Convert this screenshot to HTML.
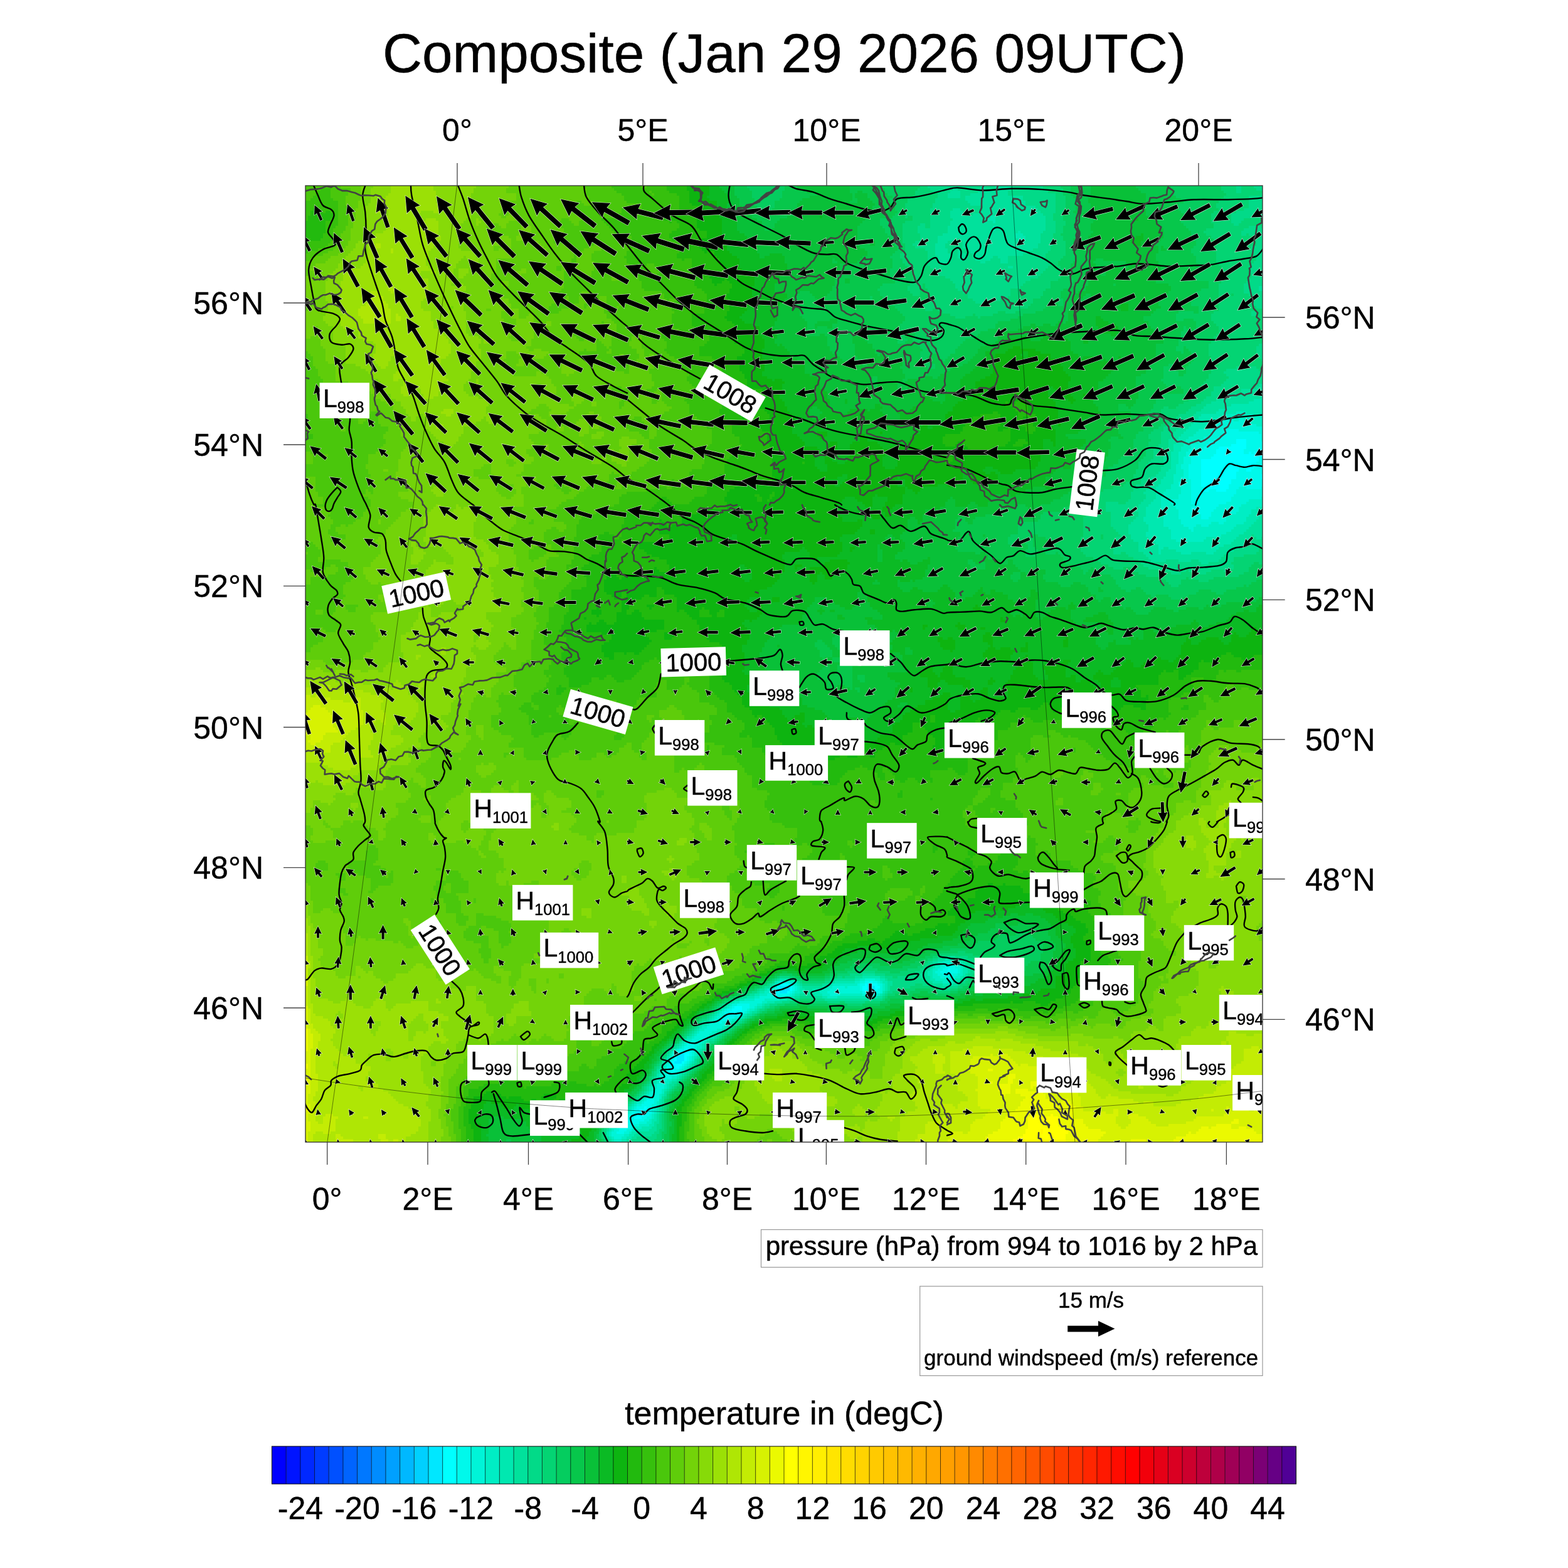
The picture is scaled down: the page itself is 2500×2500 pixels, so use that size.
<!DOCTYPE html>
<html><head><meta charset="utf-8"><title>Composite (Jan 29 2026 09UTC)</title>
<style>html,body{margin:0;padding:0;background:#fff}svg{display:block}text{font-family:"Liberation Sans",sans-serif;fill:#000;stroke:#000;stroke-width:.45px;stroke-linejoin:round}</style></head>
<body>
<svg width="2500" height="2500" viewBox="0 0 2500 2500">
<rect width="2500" height="2500" fill="#fff"/>
<defs><clipPath id="mc"><rect x="487.0" y="296.0" width="1526.0" height="1525.0"/></clipPath></defs>
<g clip-path="url(#mc)">
<rect x="487.0" y="296.0" width="1526.0" height="1525.0" fill="#50c812"/>
<rect x="487.0" y="296.0" width="1526.0" height="1525.0" fill="#5fcd0a"/>
<g shape-rendering="crispEdges" fill="none" stroke-width="4">
<path stroke="#00d0ff" d="M1247 1578h4"/>
<path stroke="#00e7ff" d="M1383 1570h8m-148 4h16m124 0h12m-152 4h4m4 0h8m124 0h12m-152 4h12m-172 100h8m-12 4h12m-12 4h12m-16 4h12"/>
<path stroke="#00ffff" d="M1971 702h16m-16 4h16m-24 4h24m-44 4h44m-48 4h44m24 0h8m-76 4h44m8 0h4m4 0h16m-80 4h80m-84 4h76m-92 4h92m-92 4h88m-88 4h88m-88 4h60m12 0h12m-84 4h60m12 0h8m-80 4h56m-56 4h56m40 0h4m-100 4h56m40 0h4m-100 4h48m-48 4h48m-48 4h44m-40 4h40m-40 4h8m12 0h16m-444 764h4m-4 4h4m-128 16h4m-148 4h16m120 0h4m8 0h8m-160 4h4m16 0h4m112 0h8m12 0h8m-164 4h4m16 0h4m112 0h8m12 0h4m-164 4h8m12 0h4m124 0h12m-224 24h12m-16 4h16m-20 4h16m-20 4h12m-80 56h8m-16 4h16m-20 4h4m8 0h8m-24 4h4m12 0h4m-20 4h4m12 0h4m-24 4h4m12 0h4m-20 4h16m-16 4h12m-12 4h4m-48 60h4m-12 4h12m-16 4h16m-20 4h16m-16 4h12"/>
<path stroke="#00f9eb" d="M1955 686h20m-24 4h56m-60 4h64m-68 4h68m-76 4h36m16 0h24m-84 4h44m16 0h28m-92 4h40m24 0h28m-96 4h24m44 0h28m-100 4h24m44 0h24m-96 4h28m44 0h8m4 0h4m-92 4h28m-36 4h32m76 0h8m-116 4h16m92 0h8m-116 4h16m88 0h12m-120 4h20m88 0h12m-120 4h20m60 0h12m12 0h16m-120 4h20m60 0h12m8 0h20m-120 4h20m56 0h44m-120 4h20m56 0h40m-116 4h20m56 0h40m-112 4h16m48 0h52m-116 4h16m48 0h52m-116 4h16m44 0h56m-116 4h20m40 0h16m12 0h24m-112 4h20m8 0h12m16 0h16m-72 4h72m-72 4h68m-68 4h64m-64 4h64m-64 4h56m-48 4h36m-44 4h8m4 0h28m-40 4h36m-32 4h28m-16 4h16m-16 4h12m-420 716h16m-20 4h8m4 0h12m-28 4h12m4 0h12m-24 4h16m-140 12h8m4 0h8m-140 4h4m108 0h8m20 0h4m-140 4h4m104 0h4m-140 4h4m24 0h4m104 0h4m24 0h4m-172 4h4m24 0h4m112 0h8m12 0h8m-168 4h24m-84 16h20m-28 4h4m12 0h12m-36 4h8m16 0h8m-36 4h8m16 0h8m-32 4h4m12 0h8m-28 4h20m-20 4h8m-12 4h4m-56 36h12m-16 4h16m-24 4h8m8 0h8m-28 4h4m16 0h4m-28 4h4m20 0h4m-32 4h4m20 0h4m-28 4h4m20 0h4m-32 4h4m20 0h4m-28 4h4m16 0h4m-28 4h8m12 0h4m-24 4h8m4 0h8m-20 4h16m-16 4h4m-36 40h12m-16 4h16m-20 4h16m-24 4h12m4 0h8m-28 4h8m12 0h8m-32 4h8m16 0h8m-36 4h8m16 0h8m-32 4h8m12 0h8m-32 4h28m-32 4h24m-28 4h20m-24 4h20m-20 4h12m-16 4h12"/>
<path stroke="#00f4d8" d="M1951 670h16m8 0h8m-40 4h52m-56 4h64m-68 4h80m-84 4h24m20 0h40m-84 4h20m56 0h8m-88 4h20m64 0h4m-96 4h24m68 0h4m-100 4h20m76 0h4m-104 4h16m-28 4h24m-24 4h20m-24 4h20m-24 4h20m-20 4h16m-20 4h12m-12 4h12m-12 4h12m-16 4h12m-12 4h12m-8 4h8m-8 4h8m-8 4h8m-12 4h12m-12 4h16m-20 4h20m-20 4h20m-16 4h16m76 0h12m24 0h4m-132 4h16m72 0h44m-132 4h16m72 0h44m-136 4h20m68 0h48m-136 4h20m64 0h48m-144 4h32m64 0h28m-124 4h32m56 0h32m-116 4h36m36 0h36m-104 4h24m8 0h4m28 0h36m-96 4h20m36 0h40m-96 4h24m28 0h40m-92 4h36m16 0h28m-80 4h36m12 0h28m-72 4h72m-72 4h48m12 0h8m-64 4h20m8 0h12m-32 4h8m-4 4h4m-400 692h24m-28 4h8m16 0h8m-36 4h8m24 0h4m-40 4h8m28 0h4m-36 4h8m16 0h8m-28 4h24m-144 4h16m116 0h4m-272 4h16m112 0h8m20 0h4m-164 4h4m20 0h4m100 0h4m32 0h4m-172 4h4m28 0h4m56 0h20m4 0h20m32 0h4m-176 4h4m32 0h4m52 0h48m32 0h4m-180 4h4m32 0h4m52 0h56m28 0h4m-184 4h12m24 0h4m60 0h16m36 0h24m-188 4h40m-48 4h16m-40 4h36m-48 4h8m20 0h12m-44 4h4m28 0h8m-48 4h4m32 0h4m-44 4h4m32 0h4m-44 4h8m24 0h4m-40 4h8m20 0h8m-40 4h12m8 0h8m-32 4h12m4 0h8m-28 4h24m-28 4h24m-28 4h20m-28 4h20m-24 4h20m-24 4h20m-24 4h20m-28 4h24m-28 4h4m12 0h8m-28 4h4m16 0h4m-32 4h4m24 0h4m-36 4h4m24 0h4m-36 4h4m28 0h4m-8 4h4m-36 4h4m28 0h4m-8 4h4m-36 4h4m24 0h4m-8 4h4m-32 4h4m20 0h4m-28 4h4m16 0h4m-28 4h8m4 0h12m-24 4h16m-16 4h8m-12 4h8m-12 4h12m-12 4h12m-16 4h12m-16 4h16m-20 4h16m-20 4h20m-24 4h4m12 0h8m-28 4h4m16 0h4m-32 4h8m16 0h8m-36 4h4m24 0h4m-36 4h4m28 0h4m-40 4h4m32 0h4m-44 4h4m32 0h4m-44 4h8m28 0h8m-48 4h8m28 0h8m-48 4h8m24 0h12m-48 4h8m20 0h8m-36 4h4m20 0h4m-32 4h8m12 0h8m-32 4h8m12 0h8m-28 4h20m-16 4h12"/>
<path stroke="#00eec4" d="M1971 658h16m-36 4h48m12 0h4m-72 4h72m-80 4h16m16 0h8m8 0h32m-88 4h16m52 0h20m-92 4h16m64 0h12m-92 4h12m-24 4h20m-24 4h24m-28 4h24m-32 4h24m-28 4h24m-28 4h24m-24 4h12m-16 4h16m-16 4h12m-16 4h12m-12 4h12m-12 4h8m-8 4h8m-8 4h8m-12 4h8m-8 4h8m-8 4h12m-12 4h12m-16 4h16m-16 4h12m-12 4h12m-12 4h8m-12 4h12m-12 4h16m-24 4h24m-28 4h28m-28 4h24m-28 4h28m132 0h4m-164 4h16m124 0h24m-164 4h16m120 0h28m-164 4h20m108 0h36m-164 4h24m100 0h28m-152 4h28m96 0h20m-144 4h28m92 0h24m-140 4h24m80 0h32m-136 4h24m76 0h32m-132 4h28m72 0h32m-132 4h28m48 0h12m8 0h32m-128 4h32m20 0h8m12 0h44m-108 4h32m8 0h64m-100 4h32m4 0h60m-96 4h88m-88 4h80m-80 4h56m-48 4h44m-416 672h24m-28 4h4m24 0h8m-44 4h8m32 0h4m-48 4h8m36 0h4m-48 4h4m40 0h4m-48 4h8m32 0h8m-48 4h12m24 0h8m-160 4h8m16 0h8m88 0h20m4 0h8m-284 4h4m16 0h8m96 0h8m32 0h4m96 0h16m-284 4h4m28 0h4m56 0h40m40 0h4m-180 4h4m36 0h4m44 0h8m20 0h4m56 0h4m-188 4h8m40 0h4m36 0h12m84 0h4m-192 4h8m40 0h8m32 0h12m-108 4h12m40 0h4m44 0h12m16 0h36m24 0h4m-200 4h8m40 0h8m60 0h16m-148 4h16m16 0h24m-72 4h8m36 0h8m-60 4h4m40 0h8m-56 4h4m40 0h4m-56 4h4m40 0h8m-56 4h4m40 0h4m-52 4h4m36 0h4m-48 4h4m36 0h4m-48 4h4m28 0h8m-44 4h4m24 0h8m-40 4h4m24 0h4m-40 4h8m24 0h4m-40 4h8m20 0h8m-40 4h4m20 0h8m-36 4h4m20 0h8m-36 4h4m20 0h4m-36 4h8m20 0h4m-36 4h4m24 0h4m-36 4h4m24 0h4m-36 4h4m24 0h8m-44 4h4m32 0h4m-44 4h4m32 0h4m-4 4h4m-44 4h4m32 0h4m-44 4h4m36 0h4m-44 4h4m32 0h4m-44 4h4m32 0h4m-40 4h4m28 0h4m-40 4h4m28 0h4m-36 4h4m24 0h4m-36 4h4m24 0h4m-32 4h4m16 0h8m-32 4h8m8 0h8m-24 4h4m8 0h8m-24 4h4m12 0h4m-24 4h8m12 0h4m-24 4h4m12 0h4m-24 4h4m16 0h4m-28 4h4m16 0h4m-28 4h4m20 0h4m-32 4h4m-12 4h8m24 0h4m-40 4h4m32 0h4m-44 4h4m32 0h4m-44 4h4m36 0h4m-48 4h4m40 0h4m-52 4h4m40 0h4m-52 4h4m44 0h4m-56 4h4m44 0h4m-56 4h4m44 0h8m-60 4h4m36 0h16m-60 4h8m28 0h12m-48 4h4m28 0h8m-44 4h4m28 0h4m-36 4h4m20 0h8m-28 4h4m12 0h8m-20 4h12"/>
<path stroke="#00e8b0" d="M1579 346h8m-12 4h12m-4 4h4m-4 8h8m-8 4h4m36 4h4m-8 4h12m-12 4h16m-12 4h12m376 252h4m-16 4h16m-24 4h24m-52 4h52m-60 4h60m-72 4h72m-76 4h32m16 0h28m-100 4h36m48 0h12m-100 4h32m-36 4h28m-32 4h24m-28 4h24m-28 4h28m-32 4h20m-24 4h20m-24 4h20m-24 4h16m-20 4h16m-16 4h12m-16 4h16m-16 4h12m-12 4h12m-16 4h12m-12 4h12m-12 4h12m-12 4h12m-12 4h12m-12 4h8m-8 4h8m-12 4h12m-16 4h16m-16 4h12m-16 4h16m-20 4h20m-20 4h20m-24 4h20m-24 4h24m-24 4h16m-16 4h12m-12 4h12m-12 4h8m-12 4h12m-16 4h16m-20 4h20m-24 4h24m152 0h12m-188 4h24m144 0h20m-188 4h24m144 0h20m-188 4h28m136 0h20m-188 4h32m132 0h20m-184 4h32m132 0h16m-176 4h28m128 0h16m-168 4h24m116 0h24m-164 4h32m104 0h24m-160 4h36m96 0h24m-160 4h40m88 0h28m-156 4h40m80 0h28m-144 4h36m56 0h48m-132 4h36m44 0h48m-124 4h120m-116 4h104m-104 4h8m8 0h80m-96 4h4m24 0h64m-92 4h4m32 0h16m24 0h12m-428 648h20m-32 4h8m24 0h8m-44 4h8m36 0h4m-52 4h4m44 0h4m-56 4h4m48 0h8m-64 4h8m48 0h8m-64 4h8m48 0h4m-164 4h28m80 0h4m44 0h4m-292 4h16m104 0h8m32 0h8m72 0h8m32 0h8m-296 4h4m28 0h4m60 0h32m44 0h8m72 0h16m16 0h8m-296 4h4m36 0h4m44 0h8m84 0h4m88 0h16m-292 4h4m44 0h4m32 0h8m92 0h4m-196 4h4m52 0h8m12 0h16m100 0h4m-204 4h8m56 0h8m12 0h12m100 0h4m-208 4h8m56 0h8m24 0h12m92 0h4m-216 4h12m56 0h8m44 0h8m16 0h64m-220 4h8m56 0h12m-88 4h4m52 0h12m-76 4h4m52 0h4m-64 4h4m48 0h8m-12 4h4m-64 4h4m48 0h4m-60 4h4m44 0h4m-56 4h4m44 0h4m-56 4h4m40 0h4m-56 4h8m36 0h4m-52 4h8m32 0h4m-48 4h4m36 0h4m-48 4h4m36 0h4m-48 4h4m32 0h4m-44 4h4m32 0h4m-48 4h8m28 0h8m-48 4h4m32 0h4m-44 4h4m32 0h4m-44 4h4m32 0h4m-44 4h4m36 0h4m-8 4h4m-8 4h4m-48 4h4m40 0h4m-52 4h4m40 0h4m-52 8h4m40 0h4m-8 4h4m-48 4h4m36 0h4m-48 4h4m36 0h4m-44 4h4m32 0h4m-44 4h4m32 0h4m-40 4h4m28 0h4m-40 4h4m24 0h8m-36 4h4m20 0h4m-32 4h4m20 0h4m-32 4h4m24 0h4m-32 4h4m20 0h4m-32 4h4m-8 4h4m24 0h4m-36 4h4m-8 4h4m28 0h4m-44 4h4m36 0h4m-48 4h4m40 0h4m-52 4h4m40 0h4m-52 4h4m44 0h4m-56 4h4m48 0h4m-60 4h4m48 0h4m-60 4h4m52 0h4m-64 4h4m52 0h8m-68 4h4m56 0h4m-68 4h4m56 0h8m-72 4h4m48 0h16m-68 4h4m40 0h20m-68 4h4m36 0h8m-48 4h4m32 0h8m-40 4h4m24 0h8m-32 4h4m12 0h8m-16 4h8"/>
<path stroke="#01e19c" d="M1563 298h8m16 0h24m-92 4h8m36 0h8m16 0h24m-96 4h16m28 0h48m-96 4h20m16 0h60m-96 4h20m8 0h92m-92 4h92m-88 4h92m-88 4h88m-68 4h84m-132 4h12m36 0h88m-140 4h20m24 0h100m-144 4h20m16 0h112m-148 4h64m8 0h80m-148 4h56m12 0h80m-152 4h68m4 0h80m-152 4h152m-156 4h72m8 0h76m-156 4h72m4 0h80m-156 4h112m4 0h36m-160 4h116m12 0h28m-164 4h124m16 0h24m-164 4h28m8 0h92m12 0h24m-164 4h16m24 0h124m-168 4h16m28 0h120m-164 4h16m28 0h120m-164 4h20m16 0h4m12 0h104m-156 4h20m16 0h8m12 0h92m-148 4h24m12 0h12m12 0h80m-136 4h20m12 0h12m12 0h32m8 0h16m-112 4h20m16 0h8m16 0h24m16 0h12m-108 4h12m52 0h8m24 0h12m0 8h8m392 32h8m-8 4h8m-8 152h8m-12 4h12m-36 4h36m-36 4h36m-64 4h20m4 0h40m-72 4h68m-72 4h60m-68 4h60m-68 4h40m-44 4h36m-40 4h28m-36 4h32m-36 4h12m-16 4h12m-20 4h16m-20 4h16m-20 4h16m-20 4h16m-20 4h16m-20 4h16m-16 4h12m-16 4h12m-16 4h12m-12 4h12m-12 4h8m-8 4h8m-12 4h12m-12 4h8m-12 4h12m-12 4h12m-12 4h12m-12 4h12m-12 4h12m-16 4h16m-16 4h12m-16 4h12m-16 4h16m-24 4h20m-24 4h20m-20 4h20m-20 4h16m-16 4h12m-16 4h16m-20 4h20m-16 4h16m-16 4h16m-20 4h16m-20 4h16m-20 4h16m-16 4h12m-16 4h16m-12 4h12m-12 4h12m184 0h4m-204 4h12m184 0h8m-208 4h16m180 0h12m-212 4h24m172 0h16m-216 4h32m164 0h20m-216 4h32m160 0h24m-216 4h32m156 0h28m-216 4h28m156 0h32m-212 4h24m148 0h20m4 0h16m-212 4h28m140 0h24m8 0h8m-204 4h32m128 0h28m-180 4h28m120 0h28m-176 4h32m104 0h36m-172 4h32m8 0h8m80 0h32m-160 4h32m4 0h24m64 0h28m-144 4h24m4 0h32m16 0h24m12 0h24m-132 4h124m-120 4h116m-112 4h24m20 0h20m12 0h32m-28 4h12m-416 628h12m-28 4h12m20 0h12m-52 4h8m40 0h8m-60 4h8m48 0h8m-68 4h8m52 0h8m-72 4h8m60 0h4m-76 4h8m64 0h4m-172 4h20m72 0h12m60 0h4m-180 4h12m28 0h8m56 0h16m52 0h8m-304 4h4m16 0h8m64 0h32m48 0h4m56 0h12m48 0h8m-268 4h4m48 0h8m84 0h8m56 0h8m40 0h4m-304 4h4m44 0h4m32 0h8m96 0h8m64 0h16m16 0h8m-308 4h8m52 0h32m104 0h4m80 0h16m-304 4h8m64 0h12m120 0h4m-212 4h4m72 0h12m116 0h4m-220 4h8m72 0h24m108 0h4m-228 4h8m76 0h8m24 0h12m88 0h8m-236 4h8m76 0h8m52 0h76m-228 4h4m68 0h12m-92 4h4m60 0h8m-76 4h4m60 0h4m-72 4h4m56 0h4m-72 4h4m56 0h8m-72 4h4m52 0h8m-68 4h4m52 0h4m-64 4h4m48 0h4m-64 4h4m48 0h4m-60 4h4m44 0h4m-56 4h4m44 0h4m-56 4h4m44 0h4m-56 4h4m40 0h4m-52 4h4m40 0h4m-8 4h4m-56 4h4m40 0h8m-56 4h4m40 0h4m-52 4h4m40 0h4m-52 4h4m44 0h4m-56 4h4m44 0h4m-56 4h4m44 0h4m-56 4h4m44 4h4m-56 4h4m44 0h4m-56 4h4m48 0h4m-56 4h4m44 0h4m-56 4h4m44 0h4m-56 4h4m44 0h4m-52 4h4m40 0h4m-8 4h4m-48 4h4m36 0h4m-48 4h4m36 0h4m-44 4h4m28 0h8m-44 4h4m28 0h8m-44 4h4m32 0h4m-40 4h4m28 0h4m-40 4h4m28 0h4m-40 4h4m32 0h4m-44 4h4m32 0h4m-44 4h4m36 0h4m-52 4h4m44 0h4m-56 4h4m-8 4h4m48 0h4m-60 4h4m52 0h4m-64 4h4m56 0h4m-68 4h4m56 0h4m-68 4h4m60 0h4m-72 4h4m64 0h4m-76 4h4m64 0h8m-80 4h4m68 0h4m-8 4h8m-80 4h4m64 0h12m-32 4h28m-32 4h28m-72 4h4m36 0h8m-44 4h4m24 0h8m-32 4h8m8 0h12"/>
<path stroke="#02da88" d="M1479 298h84m8 0h16m24 0h52m308 0h8m20 0h16m-532 4h36m8 0h36m8 0h16m24 0h56m304 0h8m24 0h12m-528 4h28m16 0h28m48 0h64m300 0h8m-484 4h16m20 0h16m60 0h76m328 0h4m-520 4h16m20 0h8m92 0h52m308 0h24m-524 4h48m92 0h52m308 0h24m-524 4h52m92 0h48m308 0h24m-528 4h60m88 0h48m308 0h24m-528 4h80m84 0h32m308 0h24m-532 4h36m12 0h36m88 0h28m300 0h32m-532 4h32m20 0h24m100 0h24m288 0h44m-532 4h32m20 0h16m112 0h16m284 0h52m-532 4h32m152 0h12m284 0h52m-532 4h36m148 0h12m284 0h20m28 0h4m-532 4h32m152 0h16m280 0h16m-512 4h8m8 0h32m152 0h16m284 0h8m-512 4h12m8 0h28m156 0h16m308 0h20m-548 4h48m156 0h16m300 0h32m-552 4h48m152 0h20m296 0h36m-548 4h36m156 0h20m300 0h8m4 0h24m-548 4h28m164 0h20m320 0h16m-548 4h28m28 0h8m128 0h20m324 0h12m-556 4h36m16 0h24m124 0h20m324 0h12m-560 4h36m16 0h28m120 0h24m324 0h12m-556 4h32m16 0h28m120 0h20m320 0h20m-540 4h16m20 0h16m4 0h12m104 0h28m320 0h20m-536 4h12m20 0h16m8 0h12m92 0h32m324 0h20m-536 4h12m24 0h12m12 0h12m80 0h36m332 0h16m-536 4h16m20 0h12m12 0h12m32 0h8m16 0h60m336 0h12m-536 4h16m20 0h16m8 0h16m24 0h16m12 0h60m336 0h12m-536 4h20m12 0h52m8 0h24m12 0h64m328 0h16m-536 4h196m320 0h20m-532 4h124m8 0h56m320 0h24m-528 4h180m324 0h24m-524 4h172m328 0h24m-520 4h164m336 0h20m-508 4h148m340 0h20m-500 4h128m348 0h24m-496 4h116m352 0h28m-492 4h108m352 0h32m-492 4h104m356 0h24m-480 4h84m372 0h24m-472 4h76m372 0h32m-472 4h68m380 0h24m-472 4h64m388 0h20m-464 4h44m400 0h20m-460 4h20m424 0h16m-16 4h16m-12 4h12m-20 8h8m-8 4h8m4 48h8m-12 4h12m-12 4h12m-12 4h12m-12 4h12m-8 4h8m-4 4h4m-44 12h32m-48 4h52m-56 4h60m-56 4h60m-56 4h56m-60 4h60m-64 4h64m-68 4h60m-72 4h68m-68 4h44m-48 4h48m-48 4h20m20 0h4m-52 4h20m-24 4h20m-24 4h16m-24 4h16m-24 4h20m-24 4h20m-24 4h16m-28 4h24m-28 4h24m-24 4h16m-24 4h20m-28 4h24m-28 4h24m-24 4h20m-24 4h20m-20 4h20m-20 4h16m-16 4h12m-12 4h12m-16 4h16m-20 4h20m-24 4h20m-20 4h20m-20 4h16m-16 4h16m-20 4h20m-24 4h24m-28 4h28m-28 4h24m-28 4h28m-28 4h24m-24 4h20m-24 4h16m-16 4h12m-12 4h12m-20 4h20m-24 4h24m-24 4h20m-24 4h20m-20 4h24m-24 4h24m-28 4h24m-60 4h20m12 0h24m-56 4h52m-52 4h52m-52 4h48m-40 4h44m-44 4h44m-44 4h40m-40 4h36m-36 4h32m-32 4h28m-24 4h24m-20 4h20m-16 4h16m-12 4h16m192 0h4m-220 4h24m192 0h8m8 0h4m-240 4h32m188 0h20m-240 4h40m176 0h24m-240 4h40m172 0h28m-240 4h40m160 0h32m-232 4h40m152 0h40m-232 4h12m8 0h28m136 0h44m-204 4h28m124 0h32m-176 4h24m116 0h20m-152 4h20m24 0h20m20 0h12m32 0h24m-148 4h96m12 0h36m-140 4h144m-136 4h136m-120 4h4m8 0h32m4 0h36m20 0h4m-88 4h16m28 0h12m-428 612h16m12 0h20m-56 4h8m44 0h12m-72 4h8m56 0h12m-80 4h8m64 0h8m-84 4h8m68 0h8m-88 4h8m72 0h8m-188 4h28m64 0h12m76 0h8m-200 4h20m20 0h16m40 0h16m76 0h8m-308 4h16m76 0h8m4 0h16m48 0h12m8 0h36m76 0h4m-312 4h4m28 0h4m52 0h8m84 0h56m68 0h4m-312 4h4m40 0h4m36 0h8m100 0h56m52 0h8m-316 4h4m52 0h32m112 0h36m12 0h16m40 0h4m-316 4h4m200 0h32m36 0h12m16 0h12m-320 4h4m208 0h16m60 0h20m-316 4h8m208 0h8m-236 4h8m216 0h4m-236 4h4m92 0h24m108 0h4m-244 4h4m92 0h12m24 0h16m76 0h16m-248 4h4m84 0h12m60 0h20m8 0h32m-228 4h4m72 0h12m-92 4h4m68 0h8m-84 4h4m64 0h8m-12 4h4m-80 4h4m64 0h4m-76 4h4m60 0h4m-76 4h8m56 0h4m-72 4h4m56 0h8m-72 4h4m52 0h8m-68 4h4m52 0h4m-64 4h4m52 0h4m-64 4h4m48 0h4m-60 4h4m48 0h4m-60 4h4m48 0h4m-8 4h4m-12 4h8m-64 4h4m48 0h4m-60 4h4m52 0h4m-64 4h4m52 0h4m-64 4h4m52 0h4m-8 4h4m-60 4h4m52 0h4m-64 4h4m52 0h4m-4 4h4m-64 4h4m52 0h4m-64 4h4m52 0h4m-8 4h4m-60 4h4m48 0h4m-56 4h4m44 0h4m-56 4h4m44 0h4m-8 4h4m-52 4h4m40 0h4m-52 4h4m40 0h4m-52 4h4m40 0h4m-48 4h4m36 0h4m-48 4h4m36 0h4m-48 4h4m-8 4h4m40 0h4m-52 4h4m-12 4h4m-8 4h4m52 0h4m-64 4h4m56 0h4m-68 4h4m60 0h4m-72 4h4m64 0h4m-76 4h4m64 0h4m-76 4h4m68 0h4m-80 4h4m72 0h4m-84 4h4m76 0h4m-88 4h4m76 0h8m-88 4h4m76 0h8m-92 4h4m80 0h4m-88 4h4m76 0h8m-88 4h4m72 0h8m-84 4h4m48 0h32m-80 4h4m36 0h36m-72 4h4m28 0h16"/>
<path stroke="#04d473" d="M1467 298h12m184 0h28m256 0h24m8 0h20m-536 4h20m184 0h28m252 0h24m8 0h24m-544 4h28m184 0h24m256 0h20m8 0h36m-556 4h36m188 0h12m260 0h56m-556 4h40m188 0h16m252 0h40m-544 4h44m192 0h16m248 0h44m-544 4h44m192 0h16m244 0h48m-548 4h44m196 0h16m240 0h52m-548 4h44m196 0h16m240 0h52m-548 4h40m200 0h16m244 0h40m-540 4h40m200 0h16m236 0h36m-528 4h40m196 0h16m236 0h32m-520 4h4m8 0h28m196 0h16m236 0h32m-508 4h28m196 0h16m236 0h32m20 0h28m-568 4h40m200 0h16m232 0h32m16 0h36m-576 4h28m8 0h8m200 0h16m236 0h32m8 0h40m-576 4h24m12 0h8m200 0h12m240 0h56m20 0h4m-576 4h24m220 0h12m228 0h60m-544 4h24m220 0h12m224 0h60m-540 4h28m212 0h12m232 0h56m8 0h4m-552 4h28m212 0h16m236 0h68m-560 4h28m212 0h16m240 0h68m-564 4h20m220 0h20m240 0h64m-560 4h12m224 0h20m240 0h64m-560 4h16m216 0h24m240 0h56m-552 4h32m200 0h24m240 0h56m-556 4h40m192 0h28m240 0h56m-560 4h44m188 0h32m240 0h60m-564 4h44m188 0h28m244 0h64m-564 4h40m188 0h24m248 0h64m-564 4h40m192 0h16m252 0h60m-556 4h36m196 0h12m256 0h52m-548 4h36m188 0h20m256 0h44m-540 4h36m180 0h28m252 0h44m-536 4h36m172 0h32m256 0h40m-536 4h40m164 0h36m256 0h44m-536 4h48m148 0h36m260 0h44m-540 4h60m128 0h44m264 0h40m-540 4h68m116 0h40m272 0h40m-536 4h20m4 0h48m108 0h44m268 0h40m-536 4h24m4 0h48m104 0h48m268 0h40m-536 4h20m12 0h48m84 0h56m276 0h40m-532 4h16m12 0h56m76 0h52m280 0h40m-528 4h12m16 0h60m68 0h52m280 0h20m4 0h24m-508 4h60m64 0h52m284 0h52m-516 4h72m44 0h52m292 0h56m-520 4h80m20 0h72m292 0h60m-528 4h172m300 0h56m-528 4h168m304 0h60m-528 4h12m8 0h132m316 0h72m-512 4h88m12 0h16m316 0h60m8 0h12m-500 4h36m4 0h28m348 0h64m8 0h12m-492 4h16m20 0h4m368 0h84m-84 4h84m-80 4h80m-76 4h76m-72 4h72m-524 4h8m444 0h72m-528 4h12m444 0h72m-528 4h12m440 0h76m-80 4h80m-80 4h80m-84 4h84m-88 4h80m-80 4h76m-76 4h76m-76 4h76m-76 4h76m-72 4h76m-76 4h80m-80 4h84m-72 4h72m-80 4h36m32 0h12m-84 4h24m52 0h8m-84 4h20m60 0h4m-88 4h28m-28 4h32m-36 4h32m-36 4h32m-36 4h32m-36 4h24m-28 4h28m-32 4h28m-28 4h28m-32 4h24m-28 4h24m-32 4h28m-36 4h28m-52 4h8m12 0h24m-48 4h44m-44 4h40m-36 4h24m-20 4h16m-20 4h20m-20 4h12m-16 4h8m-12 4h8m-16 4h16m-20 4h16m-20 4h20m-20 4h20m-16 4h16m-20 4h20m-20 4h16m-20 4h16m-16 4h12m-12 4h12m-12 4h12m-16 4h16m-20 4h16m-20 4h16m-16 4h12m-12 4h12m-16 4h12m-12 4h12m-16 4h16m-16 4h12m-16 4h16m-24 4h24m-28 4h20m-36 4h32m-48 4h48m-56 4h52m-52 4h52m-52 4h52m-52 4h48m-52 4h16m20 0h12m-48 4h16m-16 4h16m-20 4h20m-24 4h32m-40 4h40m-44 4h44m-44 4h44m-44 4h44m-44 4h44m-44 4h48m-48 4h52m-52 4h56m-56 4h28m4 0h28m-64 4h32m4 0h20m-56 4h52m-52 4h52m-52 4h52m-52 4h52m232 0h8m-292 4h52m232 0h8m-288 4h48m12 0h8m208 0h12m-284 4h68m184 0h32m-272 4h64m160 0h48m-264 4h64m152 0h48m-260 4h64m144 0h36m8 0h8m-248 4h56m144 0h28m-220 4h16m12 0h28m136 0h24m-184 4h40m4 0h8m32 0h4m36 0h20m4 0h36m-176 4h52m16 0h28m12 0h60m-156 4h148m-124 4h40m4 0h40m-76 4h24m28 0h16m-64 4h20m-16 4h12m-352 584h12m-44 4h56m48 0h12m-124 4h8m48 0h24m36 0h8m-132 4h8m64 0h28m-108 4h8m76 0h28m-116 4h8m80 0h28m-204 4h12m72 0h8m84 0h24m-220 4h40m48 0h20m88 0h16m-220 4h16m28 0h24m16 0h24m96 0h12m-232 4h20m56 0h40m100 0h12m-324 4h4m16 0h8m56 0h12m8 0h4m76 0h8m116 0h12m-328 4h4m36 0h8m36 0h8m220 0h12m-332 4h8m48 0h36m224 0h12m-336 4h8m236 0h12m60 0h12m-332 4h4m236 0h36m40 0h8m-332 4h4m228 0h24m24 0h12m20 0h12m-336 4h8m224 0h28m40 0h24m-332 4h4m228 0h12m-256 4h8m232 0h4m-252 4h4m108 0h24m108 0h4m-256 4h4m100 0h16m16 0h28m20 0h8m32 0h24m-256 4h4m88 0h12m100 0h24m-232 4h4m80 0h8m-96 4h4m76 0h4m-88 4h4m72 0h4m-88 4h4m72 0h4m-88 4h8m68 0h4m-84 4h4m68 0h4m-80 4h4m68 0h4m-80 4h4m64 0h4m-76 4h4m60 0h4m-72 4h4m60 0h4m-72 4h4m56 0h8m-72 4h4m56 0h4m-68 4h4m56 0h4m-68 4h4m56 0h4m-68 4h4m56 0h4m-72 4h4m56 0h4m-68 4h4m-8 4h4m60 0h4m-8 4h4m-68 4h4m56 0h4m-68 4h4m60 0h4m-8 4h4m-68 4h4m-8 4h4m60 0h4m-72 4h4m60 0h4m-68 4h4m56 0h4m-68 4h4m56 0h4m-64 4h4m52 0h4m-64 4h4m52 0h4m-60 4h4m48 0h4m-60 4h4m48 0h4m-60 4h4m48 0h4m-60 4h4m48 0h4m-56 4h4m44 0h4m-56 4h4m44 0h4m-56 4h4m44 0h4m-56 4h4m48 0h4m-60 4h4m48 0h4m-64 4h4m56 0h4m-68 4h4m60 0h4m-72 4h4m64 0h4m-76 4h4m68 0h4m-80 4h4m-8 4h4m72 0h4m-84 4h4m76 0h4m-88 4h4m80 0h4m-92 4h4m84 0h4m-4 4h4m-96 4h4m88 0h4m-100 4h4m88 0h8m-100 4h4m88 0h4m-96 4h4m84 0h8m-96 4h4m84 0h8m-92 4h4m76 0h12m-92 4h8m48 0h32"/>
<path stroke="#05cd5f" d="M1191 298h60m156 0h60m224 0h16m160 0h80m-752 4h56m160 0h52m232 0h12m164 0h76m-748 4h48m164 0h48m236 0h12m164 0h80m-752 4h48m168 0h44m236 0h12m164 0h84m-756 4h48m176 0h32m244 0h12m164 0h76m-748 4h40m176 0h28m252 0h16m168 0h64m-744 4h32m184 0h28m252 0h20m168 0h56m-740 4h32m188 0h20m256 0h20m160 0h60m-732 4h28m192 0h16m256 0h16m160 0h64m-728 4h20m196 0h16m256 0h16m164 0h64m-512 4h12m256 0h12m172 0h52m-508 4h16m252 0h20m172 0h44m-508 4h20m4 0h8m240 0h20m172 0h44m-528 4h52m240 0h20m168 0h48m-528 4h40m256 0h20m164 0h48m-528 4h36m260 0h20m168 0h48m-528 4h32m256 0h24m172 0h44m-524 4h28m256 0h24m176 0h28m-512 4h28m256 0h20m184 0h20m-504 4h24m252 0h24m184 0h24m-504 4h20m256 0h20m188 0h28m-512 4h20m256 0h16m192 0h32m-512 4h16m260 0h12m196 0h32m-512 4h16m256 0h12m196 0h32m-508 4h12m256 0h12m192 0h36m-508 4h12m256 0h12m188 0h40m-512 4h12m260 0h12m188 0h40m-516 4h12m264 0h16m188 0h36m-520 4h16m260 0h20m192 0h32m-516 4h16m252 0h24m192 0h32m-516 4h16m248 0h24m196 0h32m-516 4h20m244 0h20m204 0h32m-520 4h24m244 0h16m204 0h36m-528 4h32m244 0h12m200 0h40m-528 4h36m240 0h12m200 0h44m-532 4h36m240 0h12m196 0h48m-532 4h40m232 0h16m196 0h48m-528 4h32m232 0h24m196 0h44m-524 4h24m224 0h36m216 0h20m-540 4h44m20 0h4m200 0h36m216 0h16m-540 4h44m24 0h4m200 0h32m220 0h16m-544 4h48m20 0h12m188 0h28m220 0h28m-540 4h48m16 0h12m184 0h28m216 0h36m-540 4h52m12 0h16m180 0h28m212 0h40m20 0h4m-580 4h4m16 0h76m176 0h32m212 0h40m-556 4h4m20 0h68m168 0h48m208 0h36m-524 4h60m172 0h48m204 0h40m-520 4h52m172 0h32m12 0h8m204 0h44m-516 4h44m168 0h28m244 0h32m-512 4h44m12 0h8m132 0h36m248 0h32m-508 4h68m88 0h12m16 0h32m228 0h24m8 0h24m-496 4h76m36 0h4m28 0h48m244 0h56m-488 4h80m16 0h20m4 0h60m252 0h56m-488 4h168m264 0h12m16 0h28m-492 4h152m316 0h28m-500 4h152m320 0h32m-504 4h152m300 0h4m16 0h36m-508 4h56m8 0h76m312 0h12m4 0h40m-508 4h8m12 0h32m12 0h64m320 0h60m-512 4h12m16 0h28m12 0h60m324 0h56m-508 4h12m12 0h100m328 0h52m-504 4h16m8 0h84m340 0h56m-504 4h12m16 0h76m344 0h52m-468 4h68m348 0h48m-460 4h60m348 0h12m4 0h36m-456 4h52m352 0h12m8 0h32m-460 4h56m360 0h4m12 0h28m-460 4h16m12 0h20m388 0h24m-460 4h12m20 0h12m392 0h28m-464 4h12m24 0h4m396 0h28m-464 4h16m416 0h32m-456 4h16m372 0h8m24 0h48m-464 4h12m364 0h20m16 0h44m-80 4h20m16 0h40m-76 4h24m12 0h40m-76 4h24m8 0h40m-72 4h72m-76 4h72m-68 4h64m-60 4h56m-32 4h28m-24 4h20m-20 4h16m-52 4h52m-56 4h52m-56 4h52m-52 4h44m-48 4h40m-40 4h16m8 0h12m-40 4h16m-20 4h20m-20 4h24m-24 4h28m-28 4h24m-28 4h28m-28 4h24m-28 4h24m-24 4h16m-24 4h20m-24 4h20m-20 4h20m-24 4h28m-28 4h24m-24 4h24m-24 4h20m-24 4h24m-32 4h32m-36 4h36m-40 4h36m-40 4h36m-36 4h32m-40 4h40m-48 4h48m-48 4h44m-64 4h8m8 0h48m-64 4h12m4 0h44m-60 4h60m-60 4h56m-56 4h48m-52 4h48m-48 4h32m-36 4h20m-20 4h12m-16 4h16m-20 4h20m-24 4h24m-32 4h28m-36 4h36m-52 4h52m-56 4h52m-80 4h76m-80 4h72m-72 4h68m-72 4h72m-100 4h100m-104 4h104m-104 4h104m-104 4h104m-104 4h104m-116 4h36m8 0h72m28 0h4m-152 4h40m20 0h56m32 0h4m-152 4h40m24 0h52m-116 4h20m8 0h12m24 0h52m-112 4h12m16 0h8m20 0h56m-84 4h12m12 0h60m-88 4h20m8 0h60m-88 4h20m12 0h16m4 0h40m-92 4h16m40 0h40m-36 4h48m-48 4h56m-52 4h56m244 0h8m-292 4h52m228 0h20m-292 4h16m4 0h32m16 0h12m188 0h24m-288 4h8m12 0h60m184 0h24m-288 4h4m20 0h64m168 0h32m-244 4h56m148 0h40m-240 4h76m40 0h4m40 0h80m-236 4h80m24 0h28m16 0h76m-224 4h84m20 0h112m-212 4h84m12 0h104m4 0h4m-204 4h24m8 0h152m-176 4h8m20 0h88m20 0h24m-128 4h80m32 0h12m-116 4h8m20 0h32m-28 4h20m-264 532h16m-44 4h8m16 0h24m-52 4h56m-60 4h64m-92 4h20m4 0h76m-104 4h108m-112 4h112m-148 4h148m-168 4h32m12 0h124m-180 4h12m56 0h48m12 0h48m-184 4h12m80 0h36m8 0h48m-192 4h12m100 0h80m-200 4h12m112 0h60m-284 4h44m48 0h16m116 0h56m-284 4h24m12 0h28m20 0h24m116 0h36m12 0h8m-288 4h12m40 0h48m124 0h40m16 0h8m-304 4h20m68 0h16m132 0h40m-364 4h20m60 0h12m228 0h40m-368 4h4m28 0h8m40 0h8m236 0h16m8 0h12m-368 4h4m48 0h36m240 0h16m-352 4h4m328 0h12m-352 4h4m328 0h12m-352 4h8m324 0h12m-352 4h8m256 0h24m44 0h12m-352 4h4m260 0h16m12 0h12m24 0h12m-352 4h8m244 0h28m36 0h24m-352 4h8m244 0h24m-284 4h8m248 0h8m-268 4h4m120 0h16m112 0h12m-272 4h4m104 0h20m20 0h60m24 0h28m-264 4h4m92 0h8m104 0h32m-244 4h4m84 0h12m-108 4h8m80 0h8m-100 4h4m80 0h4m-96 4h4m80 0h4m-92 4h4m76 0h4m-88 4h4m76 0h4m-88 4h4m72 0h4m-84 4h4m68 0h4m-80 4h4m68 0h4m-80 4h4m68 0h4m-80 4h4m64 0h4m-76 4h4m64 0h4m-76 4h4m64 0h4m-76 4h4m64 0h4m-80 4h4m64 0h8m-80 4h4m64 0h8m-80 4h4m68 0h4m-76 4h4m64 0h4m-76 4h4m64 0h4m-76 4h4m68 0h4m-76 4h4m64 0h4m-76 4h4m64 0h4m-76 4h4m68 0h4m-8 4h4m-76 4h4m64 0h4m-8 4h4m-72 4h4m60 0h4m-72 4h4m60 0h4m-68 4h4m56 0h4m-68 4h4m56 0h4m-68 4h4m56 0h8m-12 4h8m-68 4h4m52 0h8m-68 4h4m52 0h4m-64 4h4m52 0h4m-68 4h8m56 0h4m-72 4h8m56 0h4m-72 4h4m64 0h4m-76 4h4m68 0h4m-80 4h4m72 0h4m-84 4h4m-8 4h4m76 0h4m-88 4h4m80 0h4m-92 4h4m84 0h4m-96 4h4m88 0h4m-100 4h4m92 0h4m-100 4h4m92 0h4m-104 4h4m96 0h4m-4 4h4m-108 4h4m96 0h8m-108 4h4m96 0h4m-104 4h4m96 0h4m-100 4h4m92 0h4m-100 4h4m88 0h8"/>
<path stroke="#07c74b" d="M1171 298h20m60 0h20m84 0h52m300 0h32m72 0h56m-696 4h24m56 0h20m84 0h56m296 0h32m76 0h56m-700 4h28m48 0h40m68 0h12m8 0h36m296 0h32m80 0h52m-700 4h28m48 0h56m56 0h4m20 0h32m292 0h32m88 0h44m-696 4h24m48 0h44m68 0h4m20 0h40m288 0h28m88 0h48m-696 4h24m40 0h36m80 0h8m20 0h32m296 0h20m92 0h56m-704 4h24m32 0h40m80 0h12m24 0h28m300 0h16m92 0h60m-708 4h24m32 0h36m124 0h28m296 0h20m88 0h52m-696 4h24m28 0h36m120 0h36m288 0h24m88 0h48m-688 4h24m20 0h40m120 0h36m288 0h24m88 0h52m-688 4h80m116 0h44m280 0h36m80 0h56m-688 4h72m116 0h44m288 0h12m4 0h16m80 0h60m-688 4h56m128 0h40m292 0h32m84 0h56m-680 4h36m136 0h24m312 0h32m96 0h40m-668 4h24m136 0h28m316 0h24m104 0h36m-668 4h20m136 0h32m316 0h20m108 0h40m-668 4h16m132 0h40m312 0h20m112 0h40m-672 4h12m136 0h44m308 0h20m116 0h40m-528 4h44m304 0h28m112 0h44m-532 4h48m300 0h24m116 0h44m-532 4h52m296 0h20m120 0h48m-536 4h52m292 0h24m116 0h52m-540 4h24m8 0h28m288 0h24m108 0h64m-544 4h24m8 0h32m284 0h24m108 0h64m-536 4h60m280 0h24m112 0h4m4 0h48m-524 4h52m280 0h24m112 0h4m8 0h40m-516 4h44m284 0h24m112 0h52m-516 4h40m292 0h24m104 0h60m-528 4h44m296 0h24m104 0h64m-580 4h4m40 0h52m292 0h24m8 0h12m84 0h64m-580 4h8m32 0h56m288 0h28m4 0h52m52 0h60m-568 4h8m8 0h68m284 0h32m8 0h56m44 0h64m-572 4h84m284 0h32m8 0h28m8 0h16m52 0h60m-572 4h80m288 0h36m4 0h20m20 0h8m56 0h56m-568 4h80m288 0h36m8 0h12m88 0h56m-572 4h84m288 0h36m12 0h8m88 0h52m-572 4h88m288 0h36m104 0h56m-572 4h16m8 0h68m288 0h28m104 0h64m-576 4h16m8 0h72m284 0h24m108 0h84m-596 4h76m304 0h24m40 0h4m84 0h64m-600 4h76m304 0h24m136 0h60m-600 4h72m296 0h36m136 0h48m-640 4h16m32 0h80m288 0h28m144 0h44m-636 4h24m24 0h84m288 0h24m16 0h8m112 0h52m-636 4h32m16 0h72m4 0h16m284 0h20m16 0h20m100 0h56m-636 4h36m8 0h76m4 0h20m284 0h16m12 0h12m112 0h56m-636 4h148m280 0h16m12 0h8m116 0h52m-632 4h152m256 0h12m8 0h16m8 0h8m120 0h52m-628 4h156m240 0h52m132 0h60m-636 4h156m232 0h44m136 0h68m-636 4h160m216 0h52m136 0h40m24 0h8m-636 4h164m192 0h72m132 0h40m-596 4h164m180 0h80m120 0h52m-592 4h40m12 0h108m168 0h92m120 0h52m12 0h16m-616 4h16m32 0h104m152 0h96m8 0h4m132 0h76m-620 4h12m28 0h108m152 0h56m8 0h12m12 0h8m148 0h76m-620 4h12m4 0h16m8 0h108m152 0h44m204 0h52m4 0h16m-624 4h152m140 0h48m216 0h48m12 0h4m-620 4h152m8 0h12m108 0h36m248 0h36m-600 4h24m8 0h116m12 0h16m100 0h36m256 0h32m-564 4h40m16 0h56m12 0h12m100 0h36m264 0h28m-564 4h40m20 0h52m16 0h8m84 0h52m264 0h24m-560 4h40m24 0h48m12 0h16m76 0h52m268 0h24m-560 4h44m28 0h72m68 0h40m272 0h36m-556 4h40m28 0h76m60 0h36m280 0h32m12 0h4m-568 4h40m32 0h76m52 0h36m284 0h32m12 0h8m-568 4h36m32 0h72m56 0h36m284 0h40m4 0h12m-564 4h28m36 0h4m8 0h56m16 0h12m20 0h40m288 0h60m-564 4h28m48 0h52m12 0h20m12 0h40m292 0h60m-560 4h44m32 0h48m12 0h24m4 0h40m296 0h60m-552 4h12m8 0h12m56 0h28m16 0h60m284 0h72m-524 4h8m56 0h36m16 0h44m292 0h36m8 0h24m-460 4h44m12 0h28m308 0h28m20 0h16m-452 4h76m312 0h28m20 0h16m-452 4h68m320 0h28m24 0h12m-448 4h56m320 0h36m24 0h8m-496 4h8m44 0h32m12 0h8m316 0h44m-468 4h12m40 0h8m364 0h40m-464 4h12m32 0h12m368 0h44m-468 4h12m32 0h12m368 0h48m-468 4h8m32 0h16m364 0h72m-448 4h12m364 0h76m-448 4h8m368 0h72m-72 4h36m-36 4h32m-36 4h32m-32 4h32m-60 4h12m12 0h32m-56 4h16m4 0h36m-56 4h52m-32 4h28m-28 4h28m-28 4h28m-28 4h28m-32 4h28m-44 4h44m-44 4h40m-40 4h40m-40 4h32m-28 4h24m-40 4h12m8 0h20m-44 4h40m-36 4h36m-36 4h36m-36 4h36m-40 4h36m-36 4h28m-28 4h24m-28 4h24m-24 4h20m-36 4h36m-40 4h32m-36 4h28m-36 4h36m-36 4h16m8 0h8m-32 4h16m12 0h4m-32 4h16m-16 4h16m-20 4h20m-40 4h36m-36 4h36m-36 4h32m-36 4h36m-44 4h40m-44 4h40m-52 4h48m-52 4h44m-100 4h16m24 0h52m-116 4h8m12 0h24m12 0h44m-100 4h96m-100 4h72m-92 4h88m-132 4h12m16 0h104m-136 4h16m12 0h104m-132 4h20m8 0h76m-104 4h100m-100 4h100m-104 4h104m-92 4h92m-92 4h36m4 0h40m36 0h8m-128 4h80m40 0h20m-140 4h80m40 0h24m-144 4h80m20 0h8m12 0h24m-144 4h84m12 0h16m8 0h20m-144 4h116m12 0h12m-136 4h108m20 0h8m-108 4h8m8 0h64m20 0h12m16 0h4m-112 4h60m16 0h40m-116 4h120m-152 4h8m44 0h12m8 0h80m-152 4h12m8 0h8m24 0h12m8 0h84m-152 4h24m48 0h96m-168 4h24m52 0h20m4 0h76m16 0h4m-192 4h4m72 0h16m24 0h60m8 0h12m-132 4h12m8 0h4m28 0h60m4 0h20m-140 4h16m36 0h108m-160 4h16m36 0h112m-160 4h8m44 0h112m224 0h12m-328 4h24m12 0h56m216 0h20m-324 4h16m24 0h52m200 0h4m4 0h24m-280 4h16m4 0h32m24 0h8m152 0h44m-280 4h16m8 0h36m8 0h20m88 0h20m24 0h60m-276 4h88m80 0h32m12 0h64m-268 4h88m8 0h20m32 0h120m-268 4h12m12 0h96m20 0h120m-256 4h4m16 0h232m-228 4h180m-180 4h148m4 0h20m-156 4h4m8 0h36m20 0h32m20 0h8m-112 4h28m36 0h8m-68 4h20m-500 32h12m-12 4h12m-16 4h16m-40 4h8m16 0h20m-48 4h16m12 0h20m-48 4h20m12 0h20m-48 4h20m12 0h24m-52 4h20m20 0h16m-56 4h20m16 0h24m-60 4h20m16 0h24m-56 4h4m12 0h40m-40 4h40m-28 4h20m-44 4h8m12 0h24m-48 4h12m12 0h24m-52 4h16m12 0h24m-56 4h24m4 0h28m-56 4h56m8 0h12m-76 4h56m8 0h12m-60 4h40m12 0h8m-60 4h40m-40 4h16m12 0h12m-36 4h8m24 0h4m4 0h8m-4 4h4m216 372h20m16 0h28m-64 4h68m-76 4h80m-84 4h48m16 0h32m-112 4h36m8 0h16m24 0h28m-120 4h40m56 0h28m-128 4h40m64 0h24m-136 4h20m20 0h4m76 0h20m-152 4h28m108 0h20m-180 4h48m112 0h20m-200 4h32m148 0h20m-208 4h20m168 0h16m-212 4h16m176 0h20m-220 4h16m184 0h20m-320 4h68m24 0h16m192 0h16m-324 4h80m8 0h20m184 0h32m-336 4h20m44 0h48m188 0h32m-340 4h24m64 0h20m176 0h12m8 0h36m-344 4h20m264 0h16m8 0h32m-420 4h8m68 0h8m276 0h56m-428 4h8m20 0h8m44 0h8m280 0h44m-420 4h8m40 0h40m260 0h8m12 0h28m-404 4h8m344 0h48m-408 4h8m344 0h52m-408 4h4m344 0h48m-408 4h8m344 0h28m-388 4h8m344 0h16m-376 4h8m280 0h12m48 0h20m-376 4h4m280 0h36m24 0h16m-372 4h4m276 0h24m20 0h36m-368 4h4m264 0h36m-312 4h8m264 0h28m-304 4h4m128 0h20m112 0h16m-284 4h4m104 0h32m12 0h60m32 0h32m-280 4h4m100 0h8m76 0h72m-268 4h4m96 0h12m120 0h12m-252 4h8m88 0h8m-108 4h4m88 0h8m-104 4h4m84 0h8m-100 4h4m84 0h4m-96 4h4m80 0h4m-92 4h4m76 0h8m-92 4h4m76 0h4m-88 4h4m76 0h4m-88 4h4m72 0h8m-88 4h4m72 0h4m-84 4h4m72 0h4m-88 4h8m72 0h8m-92 4h4m76 0h8m-92 4h4m76 0h4m-88 4h4m76 0h4m-84 4h4m72 0h4m-84 4h4m72 0h8m-88 4h4m76 0h4m-84 4h4m72 0h4m-84 4h4m72 0h8m-88 4h4m76 0h4m-84 4h4m72 0h4m-84 4h4m72 0h4m-80 4h4m68 0h4m-80 4h4m68 0h4m-80 4h4m68 0h8m-80 4h4m64 0h8m-80 4h4m64 0h8m-80 4h4m68 0h4m-80 4h8m64 0h4m-80 4h8m64 0h4m-80 4h8m60 0h8m-80 4h8m60 0h8m-80 4h4m68 0h4m-80 4h4m68 0h4m-80 4h4m72 0h4m-84 4h4m76 0h4m-88 4h4m-8 4h4m80 0h4m-92 4h4m84 0h4m-96 4h4m88 0h4m-100 4h4m92 0h4m-104 4h4m96 0h4m-108 4h4m100 0h8m-116 4h8m100 0h8m-116 4h4m104 0h4m-112 4h4m104 0h4m-4 4h4m-116 4h4m104 0h8m-116 4h4m104 0h8m-260 4h8m136 0h8m100 0h8m-264 4h12m136 0h8m100 0h8"/>
<path stroke="#09c038" d="M1147 298h24m100 0h84m384 0h72m-660 4h20m100 0h84m384 0h76m-660 4h16m116 0h68m12 0h8m364 0h80m-660 4h12m132 0h56m4 0h20m356 0h88m-664 4h12m116 0h68m4 0h20m356 0h88m-664 4h16m100 0h80m8 0h20m348 0h92m-664 4h16m96 0h80m12 0h24m344 0h92m-668 4h20m92 0h124m344 0h88m-668 4h24m88 0h120m348 0h88m-668 4h28m84 0h120m348 0h88m-668 4h32m80 0h116m360 0h80m-664 4h32m72 0h116m344 0h4m16 0h80m-660 4h32m56 0h52m4 0h72m364 0h84m-660 4h36m36 0h136m368 0h64m4 0h28m-668 4h40m24 0h136m368 0h104m-672 4h40m20 0h136m368 0h108m-672 4h44m16 0h132m372 0h112m-676 4h44m12 0h136m372 0h116m-676 4h188m376 0h112m-668 4h180m372 0h80m4 0h32m-664 4h176m368 0h76m12 0h32m-648 4h160m368 0h68m20 0h28m-644 4h156m24 0h8m340 0h68m16 0h24m-636 4h156m24 0h8m340 0h72m12 0h24m-636 4h164m364 0h112m4 0h4m-648 4h172m356 0h112m4 0h8m-652 4h176m352 0h112m-636 4h16m20 0h136m356 0h104m-632 4h8m32 0h124m364 0h104m-592 4h76m4 0h40m368 0h8m12 0h84m-592 4h76m8 0h32m372 0h4m52 0h52m-592 4h84m8 0h8m384 0h8m56 0h44m-592 4h84m400 0h8m28 0h8m16 0h52m-596 4h84m404 0h4m20 0h20m8 0h56m-600 4h88m404 0h8m12 0h88m-604 4h88m408 0h12m8 0h88m-608 4h88m412 0h104m-604 4h88m16 0h8m384 0h104m-604 4h92m16 0h8m380 0h108m-608 4h96m404 0h40m4 0h84m-628 4h92m404 0h136m-632 4h92m404 0h136m-632 4h40m16 0h32m396 0h144m-608 4h16m24 0h24m396 0h16m8 0h112m-596 4h12m32 0h16m396 0h16m20 0h100m-596 4h16m36 0h8m400 0h12m12 0h112m-600 4h20m444 0h12m8 0h116m-604 4h24m444 0h8m8 0h60m12 0h48m-608 4h32m448 0h64m16 0h52m-612 4h36m432 0h80m12 0h44m-604 4h36m428 0h136m-600 4h36m428 0h132m-596 4h40m424 0h44m8 0h68m-584 4h44m40 0h12m368 0h44m12 0h64m-588 4h52m16 0h32m352 0h8m4 0h48m20 0h64m-596 4h52m12 0h28m316 0h8m12 0h12m8 0h64m32 0h52m-600 4h56m12 0h4m16 0h8m304 0h120m32 0h52m-600 4h48m340 0h128m32 0h56m-600 4h44m316 0h160m24 0h64m-608 4h44m24 0h8m280 0h72m8 0h96m8 0h72m-612 4h80m40 0h16m216 0h36m12 0h24m16 0h176m-620 4h84m40 0h20m212 0h12m40 0h16m24 0h12m8 0h24m8 0h120m-620 4h84m40 0h24m204 0h12m108 0h20m8 0h120m-616 4h4m4 0h72m44 0h28m180 0h24m112 0h136m-592 4h72m40 0h28m172 0h28m116 0h136m-588 4h68m40 0h32m164 0h20m128 0h136m-584 4h68m36 0h32m164 0h12m140 0h132m-584 4h76m28 0h36m4 0h8m144 0h16m148 0h124m-580 4h76m28 0h48m136 0h20m152 0h4m16 0h40m4 0h56m-572 4h72m44 0h32m128 0h24m176 0h12m4 0h80m-564 4h72m12 0h8m12 0h56m104 0h24m200 0h60m-544 4h92m8 0h56m96 0h24m208 0h60m-544 4h152m84 0h36m216 0h56m-544 4h156m76 0h36m224 0h52m-544 4h156m68 0h40m224 0h56m-536 4h152m56 0h40m228 0h52m-516 4h88m8 0h44m32 0h12m8 0h40m228 0h48m-504 4h80m12 0h40m8 0h84m228 0h52m-504 4h80m12 0h32m12 0h88m220 0h60m-504 4h80m12 0h32m12 0h88m220 0h60m-504 4h84m8 0h32m16 0h84m220 0h60m-496 4h120m12 0h84m220 0h60m-528 4h12m24 0h120m8 0h64m240 0h64m-528 4h4m28 0h152m4 0h32m240 0h68m-496 4h148m16 0h24m240 0h68m-492 4h24m4 0h116m20 0h20m236 0h68m-488 4h24m4 0h116m32 0h4m240 0h68m-488 4h72m8 0h60m284 0h36m12 0h12m-512 4h8m20 0h72m12 0h48m296 0h32m16 0h4m-512 4h16m20 0h28m28 0h4m16 0h32m4 0h12m300 0h32m-492 4h20m28 0h12m56 0h24m324 0h48m-512 4h16m104 0h24m308 0h60m-508 4h12m108 0h20m300 0h68m-384 4h16m292 0h76m-76 4h72m-76 4h60m-60 4h60m-60 4h60m-64 4h64m-84 4h88m-84 4h68m12 0h8m-60 4h36m-36 4h40m-44 4h44m-48 4h48m-52 4h48m-48 4h48m-48 4h48m-52 4h48m-48 4h48m-56 4h40m-40 4h36m-56 4h8m12 0h32m-56 4h48m-52 4h52m-56 4h56m-64 4h64m-64 4h64m-56 4h52m-48 4h28m-60 4h20m12 0h28m-72 4h36m8 0h28m-80 4h76m-116 4h8m8 0h8m8 0h76m-180 4h4m60 0h112m-180 4h12m56 0h100m-172 4h16m24 0h8m20 0h100m-168 4h16m20 0h16m16 0h44m16 0h24m-160 4h96m8 0h12m24 0h12m-176 4h120m-120 4h116m-120 4h100m-120 4h8m12 0h56m12 0h16m-108 4h16m8 0h52m16 0h12m-104 4h16m4 0h56m20 0h8m-104 4h76m-76 4h76m-80 4h76m-80 4h92m-116 4h8m12 0h96m36 0h4m-160 4h16m8 0h92m-88 4h88m-84 4h84m-128 4h4m40 0h84m-128 4h4m40 0h80m-124 4h8m32 0h88m-128 4h8m24 0h124m8 0h8m-172 4h8m20 0h148m-176 4h8m20 0h52m4 0h92m-176 4h8m28 0h4m8 0h24m12 0h60m8 0h44m12 0h8m-164 4h12m20 0h60m12 0h8m8 0h24m12 0h8m-136 4h68m24 0h48m-140 4h68m24 0h52m20 0h4m-172 4h76m4 0h72m16 0h24m-192 4h140m12 0h8m4 0h28m-192 4h136m16 0h36m-192 4h140m16 0h36m-268 4h4m32 0h4m16 0h4m4 0h156m8 0h44m-276 4h12m28 0h256m24 0h12m-292 4h72m8 0h180m16 0h24m-296 4h20m8 0h36m16 0h48m4 0h168m16 0h4m-384 4h4m64 0h12m20 0h24m24 0h40m8 0h12m8 0h56m8 0h84m16 0h8m-392 4h12m144 0h32m16 0h8m20 0h44m12 0h84m-372 4h16m140 0h28m56 0h36m12 0h92m-448 4h20m48 0h16m140 0h16m68 0h32m16 0h92m12 0h12m236 0h8m-716 4h20m48 0h16m92 0h12m40 0h8m80 0h20m16 0h100m4 0h16m232 0h12m-720 4h36m32 0h24m88 0h16m160 0h56m4 0h64m180 0h60m-724 4h48m24 0h24m92 0h8m164 0h52m12 0h60m148 0h4m20 0h60m-720 4h20m4 0h36m12 0h32m260 0h32m16 0h4m12 0h76m4 0h8m36 0h20m32 0h20m8 0h84m-720 4h20m12 0h8m8 0h68m220 0h8m24 0h24m32 0h100m28 0h36m8 0h104m8 0h12m-720 4h24m4 0h92m208 0h20m20 0h20m36 0h44m12 0h48m20 0h140m-692 4h56m8 0h64m208 0h4m8 0h4m20 0h16m40 0h36m24 0h196m-684 4h56m12 0h32m12 0h16m248 0h8m44 0h24m36 0h192m-680 4h104m328 0h16m44 0h132m4 0h48m-680 4h108m332 0h36m24 0h124m12 0h28m-692 4h148m336 0h24m20 0h100m36 0h16m-684 4h156m332 0h28m16 0h48m12 0h32m-632 4h164m24 0h4m312 0h24m12 0h48m16 0h28m-636 4h100m12 0h56m20 0h12m316 0h20m8 0h48m20 0h16m-628 4h100m12 0h56m16 0h16m320 0h72m-596 4h100m16 0h60m8 0h16m320 0h52m8 0h4m4 0h8m-600 4h80m8 0h16m20 0h76m324 0h28m4 0h24m-584 4h80m16 0h12m20 0h72m328 0h20m12 0h24m-584 4h20m4 0h56m20 0h12m20 0h72m328 0h16m-552 4h88m20 0h12m24 0h64m20 0h8m304 0h8m-548 4h92m20 0h20m16 0h56m24 0h12m-244 4h96m20 0h16m24 0h52m4 0h12m8 0h12m-244 4h96m20 0h16m24 0h72m-224 4h96m4 0h12m40 0h72m-220 4h108m40 0h72m-220 4h120m20 0h80m-220 4h96m8 0h12m24 0h80m-220 4h92m12 0h12m24 0h84m-220 4h84m16 0h12m24 0h88m-224 4h80m24 0h4m28 0h56m-192 4h80m56 0h8m12 0h36m-196 4h84m56 0h8m12 0h40m-204 4h28m4 0h72m40 0h12m8 0h48m-212 4h20m24 0h60m40 0h76m-216 4h12m28 0h60m16 0h12m12 0h72m-212 4h12m28 0h64m8 0h24m4 0h4m8 0h56m-208 4h12m32 0h104m4 0h56m-204 4h4m44 0h156m-152 4h152m-148 4h144m-144 4h136m-136 4h132m24 0h12m-160 4h120m24 0h12m-144 4h100m-88 4h84m-80 4h76m-72 4h68m-64 4h28m20 0h12m228 312h12m12 0h12m-60 4h4m8 0h60m-84 4h92m-96 4h100m-124 4h40m20 0h16m28 0h24m-132 4h44m68 0h24m-140 4h40m80 0h24m-148 4h40m96 0h12m-152 4h28m112 0h12m-156 4h24m124 0h12m-168 4h28m128 0h16m-188 4h36m140 0h16m-216 4h48m156 0h16m-228 4h32m180 0h16m-268 4h8m24 0h20m200 0h12m-328 4h36m16 0h56m204 0h16m-340 4h112m212 0h12m-348 4h116m220 0h12m-352 4h20m68 0h24m224 0h12m-352 4h16m80 0h8m236 0h12m-360 4h12m332 0h16m-364 4h8m340 0h12m-364 4h8m340 0h12m-440 4h8m8 0h16m40 0h12m340 0h12m-444 4h4m36 0h44m332 0h24m-452 4h8m396 0h44m-456 4h8m400 0h36m-448 4h4m404 0h36m-452 4h8m396 0h40m-456 4h8m380 0h52m-448 4h8m368 0h68m-452 4h8m368 0h56m-440 4h8m360 0h20m4 0h12m-416 4h8m304 0h20m36 0h20m-392 4h4m304 0h72m-388 4h4m300 0h28m4 0h12m-352 4h4m280 0h40m-328 4h4m140 0h12m124 0h24m-312 4h8m112 0h76m72 0h28m-304 4h8m112 0h12m60 0h48m12 0h32m-288 4h4m104 0h20m80 0h24m8 0h40m-284 4h4m100 0h8m-116 4h4m96 0h8m-112 4h4m92 0h4m-104 4h4m88 0h8m-104 4h4m88 0h4m-100 4h4m84 0h4m-96 4h4m84 0h4m-96 4h4m84 0h4m-96 4h4m80 0h8m-100 4h8m80 0h8m-100 4h4m88 0h4m-100 4h4m88 0h4m-100 4h4m84 0h8m-100 4h4m84 0h8m-100 4h8m80 0h8m-100 4h8m84 0h4m-96 4h4m84 0h4m-96 4h8m80 0h8m-96 4h4m84 0h4m-96 4h4m84 0h4m-92 4h4m80 0h4m-92 4h4m80 0h4m-92 4h8m76 0h4m-88 4h4m76 0h8m-92 4h4m80 0h4m-92 4h8m76 0h4m-88 4h4m76 0h4m-88 4h4m76 0h4m-88 4h4m76 0h4m-88 4h4m76 0h8m-96 4h8m76 0h8m-92 4h4m76 0h8m-92 4h4m76 0h8m-92 4h4m76 0h12m-100 4h8m80 0h8m-100 4h8m84 0h4m-100 4h8m84 0h8m-104 4h8m88 0h4m-108 4h12m92 0h4m-112 4h12m96 0h4m-288 4h20m152 0h12m100 0h4m-292 4h52m120 0h12m104 0h8m-296 4h60m112 0h8m112 0h4m-296 4h60m112 0h4m116 0h4m-296 4h64m108 0h4m112 0h8m-296 4h76m96 0h4m112 0h8m-296 4h80m88 0h8m112 0h8m-300 4h88m84 0h4m116 0h4m-292 4h84m84 0h4m116 0h4m-292 4h28m8 0h48m84 0h4m116 0h4m-292 4h24m12 0h44m88 0h4m116 0h4"/>
<path stroke="#0bba24" d="M1131 298h16m-16 4h20m-20 4h24m-24 4h28m-32 4h36m-32 4h32m-20 4h20m-20 4h16m-16 4h16m-16 4h16m-16 4h16m-12 4h16m-16 4h20m140 0h4m-160 4h20m640 0h4m-664 4h24m-24 4h24m-24 4h24m-24 4h24m-24 4h28m-28 4h36m632 0h4m-672 4h40m620 0h12m-668 4h52m596 0h20m-664 4h12m8 0h28m596 0h16m-660 4h48m600 0h12m-660 4h48m-48 4h48m-44 4h44m-40 4h44m16 0h20m-72 4h36m8 0h32m-72 4h72m-72 4h72m-72 4h76m-76 4h76m-72 4h72m-72 4h68m-60 4h4m4 0h48m-44 4h40m-40 4h40m-40 4h36m-36 4h32m-36 4h36m-36 4h36m-36 4h36m-36 4h56m-52 4h52m-52 4h48m-52 4h48m-52 4h48m544 0h12m-608 4h48m544 0h16m-608 4h48m548 0h12m-612 4h52m-56 4h56m-60 4h60m508 0h8m-572 4h56m508 0h12m-572 4h48m512 0h20m-568 4h36m512 0h32m-568 4h20m520 0h32m-572 4h24m516 0h32m-576 4h32m520 0h24m-572 4h28m428 0h8m96 0h8m-564 4h24m388 0h12m24 0h16m-460 4h16m368 0h40m16 0h24m12 0h8m24 0h8m-516 4h16m364 0h108m20 0h8m-516 4h20m4 0h4m348 0h112m-488 4h32m340 0h24m12 0h80m-492 4h40m324 0h28m44 0h56m-492 4h44m312 0h32m28 0h8m20 0h52m-496 4h44m312 0h16m40 0h12m36 0h44m-504 4h48m308 0h16m44 0h8m36 0h48m4 0h16m40 0h4m-568 4h52m300 0h16m100 0h60m12 0h4m-544 4h60m288 0h20m104 0h76m-548 4h64m276 0h28m104 0h76m-548 4h64m272 0h28m112 0h76m-552 4h64m268 0h32m112 0h80m-560 4h68m264 0h36m116 0h72m-556 4h76m248 0h40m124 0h64m-544 4h80m232 0h36m136 0h56m-532 4h4m12 0h60m224 0h32m144 0h52m-508 4h56m224 0h24m148 0h48m-504 4h60m224 0h24m148 0h48m-504 4h60m224 0h24m116 0h8m24 0h48m-504 4h68m216 0h20m120 0h12m20 0h48m-508 4h40m12 0h24m192 0h40m120 0h16m16 0h48m-508 4h44m4 0h28m152 0h4m32 0h44m120 0h20m16 0h20m4 0h16m-504 4h76m148 0h16m24 0h44m124 0h24m12 0h36m-500 4h76m24 0h4m116 0h20m20 0h28m144 0h24m12 0h28m-492 4h72m24 0h4m116 0h32m4 0h24m156 0h24m4 0h32m-492 4h72m72 0h8m60 0h60m160 0h64m-492 4h40m8 0h20m72 0h12m48 0h64m164 0h68m-496 4h36m16 0h20m28 0h28m4 0h16m32 0h4m12 0h68m168 0h64m-492 4h32m20 0h28m12 0h56m24 0h80m176 0h68m-492 4h28m16 0h104m24 0h72m180 0h56m-476 4h28m12 0h108m20 0h72m180 0h48m-468 4h152m16 0h72m184 0h36m-460 4h204m8 0h28m184 0h36m-460 4h204m8 0h24m172 0h12m4 0h32m-460 4h204m12 0h8m192 0h44m-460 4h204m216 0h40m-460 4h40m16 0h84m4 0h60m216 0h36m-448 4h32m16 0h52m8 0h80m224 0h16m-424 4h32m8 0h56m12 0h68m232 0h20m-424 4h92m12 0h68m212 0h12m8 0h48m-448 4h40m12 0h24m40 0h48m216 0h16m4 0h48m-448 4h36m16 0h20m48 0h44m216 0h16m4 0h44m-424 4h16m16 0h20m52 0h12m244 0h60m-416 4h12m12 0h24m308 0h56m-412 4h48m308 0h56m-420 4h56m56 0h16m232 0h60m-420 4h16m8 0h28m56 0h24m228 0h56m-416 4h16m12 0h24m56 0h24m228 0h56m-416 4h16m20 0h12m60 0h24m224 0h52m-408 4h20m88 0h24m224 0h52m-404 4h16m92 0h16m144 0h12m68 0h36m8 0h12m-400 4h12m216 0h8m24 0h24m28 0h64m-148 4h12m24 0h8m8 0h8m20 0h64m-336 4h8m184 0h12m44 0h84m-340 4h16m80 0h4m100 0h12m44 0h76m-348 4h28m80 0h16m88 0h16m44 0h76m-344 4h20m84 0h16m80 0h28m12 0h16m8 0h88m-344 4h8m92 0h12m52 0h16m8 0h160m-236 4h4m24 0h176m20 0h12m-236 4h12m12 0h168m36 0h8m-236 4h16m4 0h164m-232 4h4m40 0h148m8 0h8m8 0h8m-272 4h16m28 0h24m24 0h76m4 0h60m-236 4h24m24 0h24m24 0h72m12 0h56m-240 4h36m16 0h20m28 0h68m16 0h24m8 0h20m-240 4h44m12 0h20m16 0h80m16 0h20m16 0h16m-244 4h76m16 0h76m-168 4h60m8 0h8m12 0h56m-140 4h52m16 0h8m8 0h56m-136 4h48m16 0h8m8 0h52m-128 4h48m12 0h48m8 0h12m-128 4h24m8 0h72m16 0h8m-96 4h72m16 0h4m-92 4h72m-76 4h76m-80 4h20m8 0h48m-80 4h24m8 0h44m-272 4h8m168 0h72m8 0h12m-272 4h12m164 0h72m16 0h8m-272 4h8m168 0h100m-96 4h100m-100 4h56m4 0h40m-164 4h4m60 0h12m8 0h36m4 0h40m-168 4h12m56 0h12m4 0h40m8 0h32m-188 4h40m48 0h60m8 0h24m-184 4h44m44 0h64m8 0h20m-180 4h44m12 0h96m8 0h20m52 0h4m-232 4h72m28 0h48m8 0h28m4 0h8m24 0h12m-232 4h64m40 0h96m12 0h20m-304 4h8m64 0h16m12 0h32m40 0h128m-300 4h12m60 0h16m4 0h20m60 0h128m-300 4h20m52 0h32m48 0h144m-300 4h24m48 0h40m20 0h4m16 0h148m-300 4h24m44 0h48m12 0h12m12 0h148m-292 4h16m44 0h48m12 0h12m12 0h144m-284 4h8m44 0h52m12 0h92m4 0h32m4 0h16m4 0h4m-224 4h60m4 0h92m12 0h28m-200 4h200m72 0h8m-288 4h212m20 0h8m36 0h16m48 0h4m-356 4h160m4 0h64m12 0h20m24 0h24m40 0h8m12 0h8m56 0h8m-440 4h156m12 0h144m32 0h16m8 0h20m44 0h12m-444 4h156m16 0h140m28 0h56m36 0h12m-504 4h8m36 0h36m12 0h56m20 0h48m16 0h140m16 0h68m32 0h16m-500 4h8m28 0h40m12 0h56m20 0h48m16 0h92m12 0h40m8 0h80m20 0h16m-464 4h108m36 0h32m24 0h88m16 0h160m56 0h4m-524 4h24m4 0h76m48 0h24m24 0h92m8 0h68m4 0h92m52 0h12m292 0h8m-824 4h16m8 0h72m20 0h4m36 0h12m32 0h160m12 0h88m32 0h16m4 0h12m288 0h12m-820 4h12m8 0h68m20 0h12m8 0h8m68 0h156m8 0h56m8 0h24m24 0h32m276 0h8m12 0h12m-800 4h68m24 0h4m92 0h208m20 0h20m20 0h36m44 0h12m208 0h44m-804 4h68m56 0h8m64 0h208m4 0h8m4 0h20m16 0h40m36 0h24m196 0h52m-808 4h72m56 0h12m32 0h12m16 0h188m4 0h56m8 0h44m24 0h36m192 0h56m-828 4h8m4 0h80m104 0h212m8 0h108m16 0h44m132 0h4m48 0h60m-832 4h92m108 0h144m4 0h184m36 0h24m124 0h12m28 0h76m-828 4h60m148 0h76m8 0h44m16 0h192m24 0h20m100 0h36m16 0h88m-824 4h52m156 0h72m4 0h52m12 0h24m8 0h160m28 0h16m48 0h12m32 0h128m8 0h12m-824 4h44m164 0h24m4 0h312m24 0h12m48 0h16m28 0h128m12 0h8m-820 4h36m168 0h20m12 0h140m8 0h168m20 0h8m48 0h20m16 0h108m4 0h20m20 0h4m-820 4h36m168 0h16m16 0h136m16 0h168m72 0h140m12 0h12m-792 4h32m176 0h8m16 0h68m8 0h8m8 0h48m16 0h116m4 0h44m52 0h8m4 0h4m8 0h68m4 0h28m20 0h20m-772 4h32m200 0h72m28 0h44m16 0h112m8 0h44m28 0h4m24 0h88m8 0h16m32 0h16m-772 4h28m200 0h80m24 0h52m8 0h52m4 0h56m8 0h44m20 0h12m24 0h84m12 0h12m40 0h8m-776 4h36m20 0h4m180 0h76m24 0h56m4 0h52m4 0h56m8 0h48m16 0h116m-700 4h32m208 0h20m8 0h52m20 0h52m12 0h8m16 0h16m12 0h116m8 0h120m-700 4h32m204 0h24m12 0h60m4 0h52m48 0h8m12 0h244m-696 4h24m208 0h4m12 0h8m12 0h112m48 0h268m-696 4h24m228 0h128m44 0h24m4 0h240m-692 4h28m224 0h132m40 0h20m8 0h200m12 0h24m-688 4h32m220 0h164m4 0h24m12 0h52m12 0h88m8 0h36m24 0h8m-684 4h32m220 0h188m20 0h44m12 0h88m16 0h16m4 0h12m-652 4h32m220 0h68m12 0h104m24 0h16m36 0h88m20 0h12m12 0h8m-652 4h32m224 0h32m12 0h16m16 0h100m28 0h16m36 0h80m-596 4h40m224 0h24m16 0h16m16 0h96m32 0h20m32 0h52m4 0h20m-588 4h36m192 0h52m24 0h8m20 0h96m32 0h20m32 0h48m12 0h12m-576 4h28m192 0h52m28 0h4m24 0h88m40 0h20m28 0h8m8 0h28m-544 4h20m200 0h60m60 0h40m4 0h28m44 0h16m44 0h28m32 0h8m-584 4h16m28 0h4m180 0h52m20 0h8m40 0h28m12 0h20m108 0h8m16 0h12m20 0h16m-592 4h20m20 0h24m176 0h44m16 0h16m36 0h28m8 0h20m136 0h16m16 0h16m-596 4h28m12 0h28m172 0h48m16 0h40m12 0h56m140 0h12m16 0h16m-596 4h28m12 0h28m168 0h24m4 0h28m8 0h48m8 0h20m8 0h28m-412 4h28m12 0h32m164 0h24m4 0h108m12 0h32m-412 4h28m4 0h44m156 0h76m12 0h20m8 0h20m12 0h32m-408 4h76m152 0h72m16 0h16m16 0h20m8 0h32m-404 4h76m144 0h64m24 0h20m16 0h16m36 0h4m-400 4h76m136 0h60m36 0h20m20 0h4m-348 4h72m132 0h24m12 0h28m36 0h20m-304 4h60m120 0h24m12 0h20m48 0h20m-288 4h56m100 0h60m52 0h20m-284 4h64m84 0h56m64 0h8m-276 4h28m8 0h32m76 0h52m-192 4h16m16 0h36m68 0h52m-184 4h8m20 0h40m28 0h20m12 0h56m-180 4h4m20 0h152m-156 4h148m-144 4h4m8 0h128m-112 4h112m-108 4h108m-112 4h108m-108 4h92m-92 4h88m-88 4h20m12 0h52m-84 4h16m36 0h4m-56 4h16m-12 4h12m300 248h12m-20 4h24m-52 4h4m12 0h56m-108 4h112m-120 4h64m12 0h12m12 0h32m-136 4h44m4 0h8m60 0h24m-140 4h32m92 0h20m-148 4h32m100 0h20m-160 4h16m128 0h28m-176 4h16m136 0h32m-184 4h12m144 0h32m-192 4h12m148 0h32m-196 4h12m152 0h28m-216 4h32m160 0h20m-240 4h52m172 0h16m-280 4h20m4 0h52m192 0h12m-284 4h56m220 0h12m-344 4h36m12 0h56m228 0h12m-364 4h84m8 0h24m232 0h20m-372 4h24m36 0h16m276 0h20m-376 4h16m336 0h24m-380 4h8m348 0h24m-392 4h16m348 0h24m-392 4h16m352 0h16m-388 4h12m360 0h12m-388 4h12m360 0h16m-460 4h28m16 0h36m360 0h20m-468 4h8m32 0h40m364 0h24m-476 4h8m440 0h24m-484 4h8m448 0h16m-480 4h8m444 0h28m-484 4h8m444 0h32m-492 4h8m444 0h40m-500 4h4m440 0h56m-508 4h4m444 0h36m-496 4h8m432 0h52m-504 4h12m388 0h4m12 0h64m-484 4h4m388 0h68m-468 4h8m380 0h20m8 0h12m-432 4h4m332 0h4m12 0h48m-408 4h8m324 0h56m-392 4h8m304 0h32m-352 4h8m296 0h40m-348 4h4m132 0h60m92 0h28m-320 4h4m128 0h12m8 0h60m24 0h8m40 0h28m-316 4h4m112 0h20m68 0h92m-304 4h8m108 0h8m104 0h68m-300 4h8m100 0h12m-124 4h8m100 0h4m-116 4h8m96 0h8m-116 4h8m92 0h8m-112 4h8m92 0h8m-112 4h8m92 0h8m-112 4h8m92 0h8m-112 4h4m96 0h4m-112 4h8m96 0h4m-112 4h8m96 0h4m-112 4h8m96 0h8m-116 4h8m96 0h8m-112 4h4m96 0h8m-112 4h4m96 0h8m-112 4h8m92 0h12m-112 4h4m96 0h8m-112 4h8m92 0h8m-112 4h8m92 0h8m-108 4h8m88 0h8m-108 4h8m88 0h8m-104 4h4m88 0h8m-104 4h8m88 0h4m-104 4h8m88 0h8m-104 4h4m88 0h8m-104 4h8m84 0h8m-104 4h8m84 0h8m-104 4h8m84 0h8m-108 4h12m88 0h4m-104 4h4m92 0h8m-108 4h8m88 0h8m-108 4h8m88 0h8m-112 4h12m92 0h4m-312 4h8m192 0h8m96 0h8m-316 4h28m24 0h4m144 0h8m96 0h8m-312 4h32m16 0h12m124 0h20m100 0h4m-312 4h76m108 0h20m100 0h8m-312 4h80m100 0h16m108 0h8m-316 4h88m92 0h16m112 0h8m-320 4h24m20 0h56m80 0h16m116 0h8m-320 4h20m52 0h32m76 0h12m124 0h4m-320 4h20m60 0h40m60 0h12m124 0h4m-312 4h12m60 0h44m60 0h8m124 0h4m-312 4h12m64 0h44m56 0h8m124 0h4m-312 4h12m76 0h32m28 0h8m20 0h8m124 0h4m-312 4h12m80 0h32m12 0h24m12 0h8m128 0h4m-312 4h8m88 0h64m12 0h8m124 0h8m-312 4h12m84 0h60m12 0h12m124 0h8m-312 4h12m84 0h48m16 0h20m124 0h8m-308 4h8m80 0h48m20 0h20m124 0h8"/>
<path stroke="#0db410" d="M1095 298h36m-36 4h36m-32 4h32m-32 4h32m-32 4h28m-28 4h32m-32 4h44m-40 4h40m-28 4h28m-24 4h24m-24 4h24m-28 4h32m-36 4h36m-36 4h40m-40 4h40m-40 4h40m-40 4h40m-36 4h36m-24 4h24m-24 4h24m-24 4h24m-32 4h36m-36 4h40m12 0h8m-64 4h44m-44 4h44m-40 4h40m-36 4h4m12 0h24m-24 4h28m-24 4h32m-28 4h32m-32 4h32m-28 4h28m-24 4h24m-24 4h28m-52 4h16m8 0h28m-52 4h60m4 0h4m-68 4h72m-68 4h20m4 0h44m-68 4h16m12 0h40m-64 4h4m24 0h36m-36 4h32m-36 4h36m-36 4h36m-40 4h40m-40 4h44m-40 4h40m-40 4h36m-36 4h32m-32 4h28m-28 4h28m-32 4h28m-28 4h24m-28 4h24m-20 4h24m-16 4h20m-16 4h28m-28 4h40m-40 4h40m-40 4h36m-36 4h40m-40 4h44m-44 4h48m-48 4h48m-40 4h40m-36 4h36m396 0h12m-440 4h28m392 0h44m-464 4h28m388 0h28m8 0h20m-476 4h32m372 0h40m12 0h36m-500 4h40m372 0h44m8 0h36m-500 4h44m368 0h100m-512 4h44m368 0h104m-512 4h40m368 0h104m-512 4h40m364 0h112m-516 4h40m364 0h112m-512 4h32m368 0h116m-512 4h28m364 0h124m-516 4h36m348 0h136m-516 4h40m4 0h12m316 0h144m-516 4h60m304 0h148m-512 4h56m308 0h148m-520 4h64m308 0h116m8 0h24m-524 4h20m16 0h32m304 0h64m12 0h44m12 0h20m-520 4h16m16 0h28m308 0h64m12 0h44m16 0h16m-516 4h8m24 0h24m308 0h72m4 0h44m20 0h16m20 0h4m-516 4h28m308 0h72m8 0h44m24 0h12m-500 4h36m288 0h88m12 0h44m24 0h12m-520 4h56m276 0h76m4 0h12m24 0h40m24 0h4m-520 4h60m272 0h80m36 0h44m-492 4h8m12 0h44m264 0h96m24 0h44m-496 4h12m20 0h36m264 0h100m20 0h48m-504 4h12m28 0h36m252 0h72m8 0h32m20 0h44m-508 4h12m36 0h36m244 0h56m32 0h28m28 0h36m-504 4h4m40 0h40m240 0h44m44 0h28m8 0h8m12 0h36m-464 4h44m240 0h36m52 0h24m12 0h12m4 0h44m-484 4h4m8 0h48m204 0h8m28 0h32m56 0h20m16 0h8m8 0h44m-488 4h64m204 0h8m24 0h36m56 0h16m36 0h28m12 0h4m-484 4h56m204 0h12m8 0h48m56 0h16m4 0h24m16 0h28m-464 4h48m204 0h68m56 0h8m12 0h24m16 0h32m-456 4h36m40 0h16m84 0h4m60 0h64m80 0h28m8 0h36m-460 4h48m32 0h16m52 0h8m80 0h48m104 0h72m-460 4h52m32 0h8m56 0h12m68 0h52m108 0h72m-460 4h56m92 0h12m68 0h52m108 0h12m12 0h28m12 0h8m-460 4h60m40 0h12m24 0h40m48 0h56m24 0h8m72 0h12m20 0h24m16 0h4m-456 4h56m36 0h16m20 0h48m44 0h60m16 0h16m64 0h12m16 0h32m16 0h4m-452 4h72m16 0h16m20 0h52m12 0h124m40 0h80m-432 4h76m12 0h12m24 0h192m32 0h84m-432 4h76m48 0h196m24 0h88m-432 4h68m56 0h56m16 0h84m4 0h144m-428 4h68m16 0h8m28 0h56m24 0h76m12 0h140m-428 4h68m16 0h12m24 0h56m24 0h76m12 0h140m-428 4h48m4 0h16m16 0h20m12 0h60m24 0h76m8 0h140m-424 4h68m20 0h88m24 0h224m-424 4h72m16 0h92m16 0h144m12 0h68m-420 4h76m12 0h216m8 0h24m24 0h28m-388 4h304m12 0h24m8 0h8m8 0h20m-384 4h112m8 0h184m12 0h44m-356 4h100m16 0h80m4 0h100m12 0h44m-388 4h12m16 0h88m28 0h80m16 0h88m16 0h44m-392 4h124m20 0h84m16 0h80m28 0h12m16 0h8m-400 4h144m8 0h92m12 0h52m16 0h8m-348 4h272m4 0h24m-308 4h280m12 0h12m-308 4h72m4 0h208m16 0h4m-304 4h44m8 0h16m8 0h160m4 0h40m-284 4h52m8 0h12m4 0h116m16 0h28m24 0h24m-284 4h52m8 0h8m4 0h116m24 0h24m24 0h24m-280 4h180m36 0h16m20 0h28m-280 4h176m44 0h12m20 0h16m-268 4h172m76 0h16m-308 4h36m4 0h176m60 0h8m8 0h12m-308 4h224m52 0h16m8 0h8m-336 4h16m4 0h236m48 0h16m8 0h8m-332 4h256m48 0h12m-352 4h4m32 0h256m24 0h8m-320 4h4m28 0h288m-324 4h12m8 0h304m-324 4h320m-320 4h316m20 0h8m-344 4h312m24 0h8m-328 4h100m8 0h168m-276 4h96m12 0h164m-276 4h100m8 0h168m-320 4h28m12 0h284m-324 4h32m4 0h288m-324 4h260m4 0h60m12 0h8m-336 4h248m12 0h56m12 0h4m-328 4h220m40 0h48m-300 4h208m44 0h44m-284 4h196m44 0h12m-240 4h188m72 0h28m-288 4h188m64 0h40m-288 4h112m8 0h64m16 0h12m32 0h40m-308 4h4m20 0h112m12 0h60m16 0h4m20 0h60m-312 4h12m16 0h112m20 0h52m32 0h48m-360 4h12m28 0h12m8 0h144m24 0h48m40 0h20m4 0h16m-360 4h16m12 0h180m24 0h44m48 0h12m12 0h12m-360 4h20m4 0h192m16 0h44m48 0h12m12 0h12m-364 4h224m8 0h44m52 0h12m-340 4h272m60 0h4m-336 4h268m-268 4h84m8 0h168m-260 4h84m12 0h152m-244 4h24m8 0h48m12 0h152m-236 4h16m8 0h28m8 0h12m28 0h136m-232 4h8m8 0h28m56 0h72m8 0h36m36 0h12m-252 4h16m72 0h76m8 0h28m40 0h12m-252 4h12m76 0h108m-196 4h12m28 0h12m36 0h108m24 0h4m340 0h4m-608 4h4m36 0h12m32 0h4m40 0h40m4 0h68m16 0h8m336 0h12m-620 4h16m32 0h8m12 0h8m60 0h4m8 0h24m16 0h16m8 0h40m12 0h8m340 0h8m-620 4h16m24 0h16m8 0h16m72 0h20m16 0h12m12 0h60m-264 4h4m28 0h40m76 0h16m20 0h8m12 0h56m-280 4h4m48 0h44m76 0h104m388 0h4m-644 4h8m20 0h76m52 0h76m8 0h4m396 0h8m-664 4h4m8 0h16m12 0h80m52 0h72m344 0h4m-596 4h124m56 0h72m284 0h8m44 0h16m-604 4h124m56 0h76m280 0h4m52 0h12m24 0h8m424 0h8m-1068 4h112m72 0h72m804 0h12m-1048 4h68m32 0h16m48 0h72m376 0h8m388 0h4m20 0h20m-1036 4h56m28 0h16m52 0h68m372 0h16m380 0h12m12 0h28m-1040 4h60m24 0h12m56 0h68m300 0h8m8 0h8m48 0h16m116 0h4m188 0h4m28 0h20m20 0h52m-1044 4h68m92 0h60m304 0h28m44 0h16m112 0h8m188 0h8m16 0h32m16 0h52m-1052 4h72m112 0h44m308 0h24m52 0h8m52 0h4m56 0h8m184 0h12m12 0h40m8 0h56m-1056 4h72m120 0h32m316 0h24m56 0h4m52 0h4m56 0h8m180 0h132m-1056 4h68m128 0h28m320 0h20m52 0h12m8 0h16m16 0h12m244 0h132m-1056 4h64m128 0h32m332 0h4m52 0h48m8 0h12m244 0h132m-1052 4h16m16 0h4m12 0h8m132 0h36m380 0h48m268 0h72m8 0h52m-1052 4h16m172 0h36m380 0h44m24 0h4m240 0h68m20 0h32m-1028 4h8m172 0h36m384 0h40m20 0h8m200 0h12m24 0h64m40 0h16m-844 4h36m416 0h4m24 0h12m52 0h12m88 0h8m36 0h24m8 0h44m4 0h16m-800 4h4m20 0h28m440 0h20m44 0h12m88 0h16m16 0h4m12 0h72m-776 4h8m16 0h28m320 0h12m104 0h24m16 0h36m88 0h20m12 0h12m8 0h72m-756 4h32m288 0h12m16 0h16m100 0h28m16 0h36m80 0h132m-760 4h32m288 0h16m16 0h16m96 0h32m20 0h32m52 0h4m20 0h80m4 0h12m8 0h24m-752 4h36m280 0h24m8 0h20m96 0h32m20 0h32m48 0h12m12 0h80m28 0h20m-748 4h44m272 0h28m4 0h24m88 0h40m20 0h28m8 0h8m28 0h104m32 0h12m-740 4h48m280 0h60m40 0h4m28 0h44m16 0h44m28 0h32m8 0h64m32 0h8m-732 4h44m280 0h20m8 0h40m28 0h12m20 0h108m8 0h16m12 0h20m16 0h60m-684 4h32m284 0h16m16 0h36m28 0h8m20 0h136m16 0h16m16 0h60m-680 4h24m288 0h16m40 0h12m56 0h140m12 0h16m16 0h24m-644 4h24m260 0h4m28 0h8m48 0h8m20 0h8m28 0h212m-644 4h20m260 0h4m108 0h12m32 0h212m-644 4h20m308 0h12m20 0h8m20 0h12m32 0h212m-640 4h20m300 0h16m16 0h16m20 0h8m32 0h212m8 0h4m-648 4h20m284 0h24m20 0h16m16 0h36m4 0h228m-648 4h20m272 0h36m20 0h20m4 0h272m-644 4h24m268 0h36m20 0h132m8 0h156m-640 4h40m236 0h48m20 0h128m16 0h36m16 0h64m16 0h20m-632 4h48m216 0h52m20 0h92m20 0h12m20 0h16m52 0h44m32 0h8m-628 4h48m204 0h64m8 0h72m16 0h8m60 0h8m60 0h36m-584 4h48m28 0h8m160 0h148m168 0h20m-576 4h4m8 0h36m16 0h16m156 0h44m8 0h96m-368 4h36m8 0h20m156 0h44m8 0h68m4 0h20m-360 4h36m4 0h20m152 0h48m8 0h64m8 0h12m-348 4h52m148 0h28m12 0h84m-320 4h52m4 0h8m128 0h32m16 0h68m-304 4h76m112 0h32m20 0h48m-288 4h80m108 0h32m24 0h44m-288 4h76m108 0h28m32 0h44m-284 4h72m92 0h36m48 0h32m-280 4h72m88 0h40m52 0h24m-272 4h68m20 0h12m52 0h44m52 0h20m-264 4h64m16 0h36m4 0h52m8 0h12m52 0h16m-240 4h44m16 0h84m76 0h20m-240 4h48m12 0h80m80 0h20m-236 4h128m100 0h8m-232 4h8m12 0h48m4 0h24m12 0h12m-96 4h40m12 0h16m20 0h8m-96 4h32m-28 4h8m264 196h8m16 0h4m-32 4h56m-68 4h72m-76 4h76m-76 4h116m-116 4h120m-132 4h136m-148 4h148m-156 4h104m12 0h44m-164 4h100m24 0h44m-172 4h76m4 0h12m56 0h24m-176 4h44m112 0h28m-184 4h36m132 0h28m-184 4h20m140 0h28m-188 4h20m144 0h28m-192 4h16m152 0h32m-228 4h16m4 0h16m172 0h28m-240 4h36m184 0h20m-256 4h52m188 0h20m-308 4h12m28 0h56m192 0h20m-312 4h24m8 0h64m192 0h20m-312 4h76m212 0h20m-344 4h12m16 0h56m240 0h20m-360 4h36m4 0h20m20 0h4m256 0h24m-388 4h80m288 0h24m-400 4h32m36 0h12m296 0h28m-408 4h16m368 0h24m-412 4h16m372 0h24m-420 4h20m376 0h24m-432 4h28m380 0h24m-436 4h20m388 0h16m4 0h8m-436 4h16m384 0h20m-436 4h28m384 0h24m-484 4h32m4 0h36m388 0h24m-492 4h8m28 0h16m416 0h24m-500 4h8m468 0h24m-512 4h12m472 0h28m-520 4h8m472 0h40m-524 4h4m480 0h36m-528 4h8m484 0h36m-540 4h12m492 0h32m-540 4h8m500 0h28m-548 4h12m484 0h48m-556 4h12m492 0h52m-564 4h8m480 0h72m-564 4h8m460 0h88m-560 4h4m408 0h8m12 0h116m-556 4h8m400 0h76m4 0h16m20 0h24m-556 4h8m388 0h36m108 0h12m-556 4h8m344 0h60m-416 4h4m344 0h52m-408 4h8m316 0h44m-372 4h8m144 0h8m160 0h40m-364 4h8m136 0h68m92 0h24m-336 4h8m124 0h28m12 0h16m8 0h40m68 0h16m-324 4h8m120 0h12m68 0h108m-320 4h8m112 0h12m108 0h72m-316 4h8m112 0h8m128 0h16m-276 4h8m108 0h8m-132 4h12m108 0h8m-128 4h8m108 0h4m-124 4h8m108 0h4m-124 4h8m104 0h8m-124 4h4m108 0h8m-128 4h8m108 0h8m-128 4h8m112 0h4m-124 4h4m112 0h8m-128 4h8m108 0h8m-128 4h8m108 0h8m-128 4h8m112 0h8m-132 4h12m108 0h8m-132 4h12m108 0h12m-136 4h12m108 0h12m-136 4h16m104 0h12m-136 4h16m104 0h12m-136 4h20m100 0h12m-136 4h20m100 0h8m-128 4h16m104 0h8m-128 4h16m100 0h8m-124 4h12m100 0h8m-128 4h16m100 0h8m-128 4h16m100 0h8m-124 4h8m104 0h8m-332 4h12m196 0h12m104 0h4m-332 4h28m68 0h20m76 0h28m104 0h8m-348 4h52m4 0h20m32 0h24m60 0h40m104 0h8m-344 4h80m12 0h8m8 0h20m8 0h12m40 0h36m108 0h8m-340 4h20m8 0h124m36 0h32m112 0h4m-340 4h20m28 0h24m4 0h96m16 0h32m112 0h8m-340 4h20m32 0h16m12 0h96m12 0h16m124 0h8m-340 4h20m76 0h108m128 0h8m-340 4h20m80 0h100m132 0h4m-336 4h16m88 0h92m136 0h8m-340 4h12m100 0h80m140 0h8m-340 4h12m104 0h76m140 0h8m-340 4h12m120 0h60m140 0h8m-336 4h16m116 0h60m136 0h8m-336 4h16m120 0h56m136 0h4m-328 4h12m120 0h28m8 0h20m136 0h4m-328 4h12m124 0h12m24 0h12m140 0h4m-328 4h12m160 0h12m140 0h4m-328 4h12m156 0h12m144 0h4m-328 4h12m144 0h16m152 0h4m-324 4h12m136 0h20m152 0h8"/>
<path stroke="#22ba0e" d="M1063 298h32m-32 4h32m-28 4h32m-20 4h20m-16 4h16m-16 4h16m-16 4h16m-16 4h20m-20 4h32m-616 4h8m576 0h36m-624 4h20m4 0h8m528 0h8m16 0h40m-624 4h36m524 0h16m4 0h40m-624 4h40m528 0h52m-620 4h36m532 0h52m-624 4h32m548 0h4m8 0h32m-624 4h32m564 0h28m-624 4h32m564 0h28m-624 4h32m560 0h36m-628 4h32m552 0h56m-640 4h28m552 0h60m-640 4h28m552 0h60m-632 4h16m560 0h48m-36 4h36m-32 4h28m-28 4h28m-32 4h36m-36 4h40m4 0h12m-60 4h60m-60 4h64m-56 4h4m12 0h44m-44 4h44m-44 4h48m-48 4h52m-52 4h52m-52 4h28m16 0h8m-48 4h24m-24 4h24m-24 4h28m20 0h4m-52 4h28m16 0h12m-56 4h32m4 0h24m-56 4h56m-48 4h44m-40 4h40m-36 4h32m-32 4h32m-32 4h36m-36 4h36m-40 4h40m-40 4h40m-40 4h40m-40 4h36m-56 4h56m-56 4h52m-52 4h56m-56 4h64m-64 4h68m-64 4h64m-60 4h60m-56 4h56m-40 4h40m-40 4h40m-40 4h40m-44 4h44m-48 4h56m-64 4h68m-68 4h72m-72 4h72m-72 4h68m-48 4h40m-36 4h36m-32 4h4m8 0h20m-16 4h20m-24 4h24m-28 4h28m-32 4h36m-44 4h48m-48 4h48m-48 4h52m-52 4h52m-52 4h52m-52 4h44m-48 4h44m20 0h16m400 0h12m-488 4h44m16 0h16m400 0h12m-480 4h40m8 0h24m404 0h4m-476 4h64m408 0h8m-480 4h60m412 0h12m-484 4h44m408 0h4m12 0h24m-492 4h40m412 0h36m-488 4h40m8 0h12m404 0h24m-492 4h40m12 0h20m400 0h20m-492 4h36m12 0h28m360 0h8m32 0h20m-492 4h28m12 0h36m336 0h32m28 0h28m-496 4h28m4 0h40m324 0h44m28 0h8m8 0h12m-492 4h64m320 0h52m24 0h12m12 0h4m-484 4h44m4 0h8m320 0h56m20 0h16m8 0h8m-480 4h36m336 0h56m16 0h36m-480 4h40m328 0h56m16 0h4m24 0h16m-484 4h48m320 0h56m8 0h12m24 0h16m-484 4h60m304 0h80m28 0h8m-476 4h52m284 0h104m-432 4h44m280 0h108m-432 4h44m280 0h108m12 0h12m-456 4h44m280 0h24m8 0h72m12 0h20m-456 4h44m280 0h16m16 0h64m12 0h16m-464 4h8m4 0h52m312 0h40m-420 4h68m316 0h32m-412 4h64m320 0h24m-408 4h64m280 0h4m-352 4h68m276 0h12m-360 4h72m276 0h12m-360 4h72m48 0h4m224 0h8m-360 4h76m-76 4h76m-76 4h76m-76 4h76m-84 4h84m-92 4h96m-96 4h64m12 0h16m-92 4h60m-64 4h52m-60 4h44m-44 4h36m-36 4h32m72 0h4m-112 4h36m44 0h8m16 0h8m-180 4h8m44 0h48m52 0h8m12 0h4m-180 4h16m36 0h52m52 0h8m8 0h4m-180 4h24m28 0h60m-116 4h116m-120 4h120m-124 4h80m36 0h4m-156 4h8m24 0h80m-112 4h84m16 0h4m-108 4h92m-92 4h56m4 0h32m-92 4h60m4 0h28m-96 4h60m12 0h8m-80 4h60m-60 4h60m-88 4h8m20 0h60m-96 4h24m12 0h76m-112 4h24m8 0h80m-112 4h36m12 0h60m-104 4h32m8 0h20m28 0h12m-100 4h60m32 0h4m-96 4h60m-60 4h68m-72 4h76m-88 4h96m-100 4h112m-112 4h124m-124 4h124m-132 4h136m-140 4h116m4 0h20m-140 4h112m12 0h16m-136 4h40m12 0h28m12 0h8m-100 4h36m16 0h12m-60 4h32m20 0h4m-56 4h28m-28 4h28m-28 4h28m-36 4h36m84 0h8m-144 4h52m84 0h12m-148 4h56m24 0h8m48 0h12m-148 4h64m16 0h8m28 0h8m12 0h28m-164 4h68m8 0h8m28 0h56m-172 4h84m16 0h72m-172 4h84m12 0h76m-172 4h84m12 0h28m12 0h36m-172 4h44m4 0h36m12 0h32m4 0h40m40 0h4m-216 4h36m16 0h32m8 0h12m8 0h60m4 0h8m24 0h16m16 0h8m-252 4h40m16 0h24m16 0h8m16 0h72m20 0h16m12 0h12m-256 4h52m4 0h28m40 0h76m16 0h20m8 0h12m-256 4h32m4 0h48m44 0h76m-204 4h56m8 0h20m76 0h52m-212 4h40m4 0h8m16 0h12m80 0h52m-216 4h40m124 0h56m-220 4h40m124 0h56m-224 4h44m112 0h72m-224 4h64m68 0h32m16 0h48m-224 4h76m56 0h28m16 0h52m-224 4h72m60 0h24m12 0h56m-224 4h68m68 0h92m-228 4h60m72 0h112m-244 4h56m72 0h120m-252 4h60m68 0h128m-256 4h60m64 0h128m-256 4h68m16 0h16m4 0h12m8 0h132m804 0h8m-1068 4h68m16 0h100m12 0h60m796 0h20m32 0h16m-1120 4h76m8 0h64m4 0h16m4 0h4m24 0h56m788 0h40m16 0h20m-1116 4h136m16 0h8m40 0h52m764 0h4m16 0h80m-1116 4h128m76 0h32m4 0h20m752 0h104m-1112 4h120m92 0h20m8 0h16m752 0h104m-1116 4h124m100 0h32m756 0h104m-1116 4h120m104 0h28m704 0h4m12 0h8m24 0h40m8 0h4m16 0h8m-1080 4h116m112 0h24m700 0h28m20 0h44m-1040 4h64m8 0h36m120 0h20m696 0h32m12 0h48m-1032 4h36m12 0h8m16 0h28m124 0h20m696 0h32m8 0h12m20 0h20m-1032 4h36m40 0h12m136 0h24m692 0h52m-992 4h32m192 0h32m684 0h52m-1008 4h4m12 0h20m204 0h36m644 0h92m-1016 4h16m228 0h36m648 0h88m-1016 4h12m236 0h36m648 0h80m-1012 4h8m244 0h36m644 0h68m-744 4h36m640 0h8m4 0h52m-736 4h36m648 0h36m-712 4h28m644 0h36m-704 4h24m480 0h8m156 0h36m-704 4h28m472 0h16m36 0h16m64 0h16m20 0h36m24 0h8m-736 4h36m428 0h20m12 0h20m16 0h52m44 0h32m8 0h36m20 0h12m-736 4h40m396 0h16m8 0h60m8 0h60m36 0h80m-696 4h32m392 0h168m20 0h88m-696 4h32m4 0h8m268 0h8m96 0h44m4 0h228m-688 4h44m264 0h8m68 0h4m20 0h44m16 0h52m8 0h144m8 0h4m-676 4h40m260 0h8m64 0h8m12 0h52m20 0h16m48 0h132m-656 4h40m228 0h12m84 0h60m108 0h8m8 0h40m12 0h52m-652 4h44m224 0h16m68 0h72m140 0h16m20 0h52m-652 4h48m220 0h20m48 0h84m148 0h8m28 0h44m-652 4h52m220 0h24m44 0h68m204 0h28m-644 4h56m212 0h32m44 0h68m208 0h24m-644 4h12m4 0h44m200 0h48m32 0h72m212 0h20m-624 4h40m200 0h52m24 0h76m212 0h24m-628 4h44m196 0h52m20 0h68m232 0h16m-628 4h48m172 0h8m12 0h52m16 0h60m-368 4h68m144 0h76m20 0h60m-352 4h52m140 0h80m20 0h60m-352 4h56m128 0h100m8 0h60m-348 4h56m8 0h12m48 0h4m24 0h12m12 0h168m-336 4h72m40 0h12m16 0h20m8 0h156m-320 4h68m32 0h212m-308 4h68m8 0h232m-312 4h312m-312 4h140m4 0h168m-308 4h128m20 0h24m8 0h96m8 0h24m-308 4h116m44 0h12m12 0h64m40 0h20m-304 4h108m52 0h12m12 0h60m44 0h12m-268 4h4m16 0h52m56 0h12m16 0h56m-192 4h48m64 0h8m16 0h20m12 0h28m-196 4h48m96 0h8m20 0h4m16 0h4m-192 4h40m100 12h4m-8 4h8m-8 4h8m44 4h4m0 76h8m-8 4h8m-8 4h4m52 0h12m-12 4h12m40 0h24m-72 4h4m40 0h32m-84 4h8m44 0h32m-88 4h16m36 0h36m-88 4h16m24 0h48m-88 4h20m4 0h60m-88 4h20m4 0h60m-88 4h20m4 0h72m8 0h8m-116 4h132m-136 4h140m-144 4h144m-144 4h148m-152 4h64m8 0h16m4 0h68m-164 4h64m56 0h52m-176 4h56m72 0h56m-184 4h52m76 0h60m8 0h12m-212 4h56m116 0h44m-220 4h60m120 0h44m-228 4h52m136 0h52m-244 4h44m148 0h60m-252 4h36m160 0h56m-252 4h32m168 0h48m-248 4h28m172 0h48m-248 4h24m184 0h40m-252 4h28m196 0h32m-328 4h4m64 0h44m188 0h32m-336 4h12m56 0h48m192 0h28m-336 4h16m48 0h52m200 0h24m-344 4h44m12 0h36m16 0h4m216 0h16m-348 4h92m240 0h20m-360 4h84m260 0h20m-372 4h44m12 0h28m268 0h20m-400 4h68m24 0h8m276 0h24m-408 4h72m308 0h28m-412 4h40m12 0h16m316 0h28m-428 4h40m36 0h4m324 0h24m-432 4h20m392 0h20m-436 4h16m404 0h16m-448 4h24m408 0h16m-456 4h28m412 0h16m-464 4h28m420 0h20m-476 4h24m432 0h28m-484 4h20m424 0h4m8 0h32m-528 4h24m12 0h24m420 0h48m-536 4h52m436 0h44m-540 4h12m32 0h4m448 0h40m-544 4h12m492 0h36m-548 4h12m500 0h32m-552 4h8m512 0h32m-560 4h8m520 0h32m-568 4h12m520 0h16m-556 4h12m528 0h16m-564 4h8m536 0h20m-580 4h20m536 0h20m-588 4h20m544 0h20m-588 4h12m556 0h20m-592 4h8m560 0h20m-592 4h8m556 0h28m-600 4h12m548 0h36m-604 4h12m484 0h4m16 0h20m24 0h40m-608 4h12m432 0h108m12 0h36m-604 4h12m412 0h168m-596 4h12m400 0h44m20 0h16m32 0h56m-588 4h12m368 0h48m144 0h8m-584 4h12m360 0h24m-400 4h12m328 0h48m-396 4h12m160 0h12m16 0h8m124 0h40m-376 4h12m140 0h68m108 0h24m-364 4h20m132 0h16m40 0h4m12 0h36m72 0h12m-348 4h20m128 0h12m76 0h40m16 0h52m-344 4h16m124 0h12m108 0h76m-336 4h8m128 0h8m132 0h20m12 0h12m-324 4h12m120 0h8m-144 4h12m120 0h8m-144 4h12m120 0h8m-156 4h4m4 0h16m120 0h8m-152 4h16m124 0h8m-148 4h12m124 0h12m-148 4h12m124 0h8m-148 4h12m124 0h8m-148 4h12m124 0h12m-152 4h12m128 0h12m-156 4h12m128 0h12m-168 4h24m132 0h12m-176 4h28m132 0h12m-176 4h28m132 0h12m-176 4h28m132 0h12m-172 4h24m132 0h12m-168 4h20m128 0h12m-164 4h24m128 0h8m-336 4h12m160 0h28m124 0h8m-336 4h32m60 0h16m4 0h12m44 0h36m120 0h8m-356 4h60m48 0h56m12 0h4m8 0h32m124 0h8m-360 4h72m4 0h148m124 0h8m-372 4h240m120 0h8m-368 4h28m12 0h196m120 0h8m-364 4h24m28 0h68m20 0h76m140 0h4m-364 4h12m52 0h4m20 0h32m24 0h60m152 0h8m-364 4h12m80 0h12m8 0h8m20 0h8m12 0h40m152 0h8m-360 4h12m152 0h36m148 0h12m-360 4h8m172 0h16m152 0h8m-360 4h12m176 0h12m148 0h8m-356 4h8m340 0h8m-356 4h8m336 0h12m-356 4h8m340 0h8m-356 4h8m340 0h8m-356 4h8m340 0h8m-356 4h8m340 0h4m-352 4h12m336 0h4m-348 4h8m332 0h8m-348 4h12m328 0h8m-348 4h12m328 0h8m-348 4h12m328 0h8m-348 4h12m328 0h8m-348 4h12m328 0h8m-348 4h16m328 0h8"/>
<path stroke="#36c00d" d="M975 298h48m8 0h32m-552 4h16m452 0h84m-556 4h20m456 0h52m4 0h28m-564 4h24m464 0h48m4 0h36m-580 4h28m468 0h88m-588 4h36m464 0h88m-596 4h52m460 0h84m-596 4h52m484 0h60m-596 4h52m484 0h60m-596 4h12m8 0h32m452 0h8m24 0h60m-596 4h8m20 0h4m8 0h12m452 0h12m16 0h36m8 0h16m-592 4h8m36 0h8m448 0h20m12 0h36m16 0h4m-588 4h4m40 0h8m444 0h28m4 0h44m-572 4h4m36 0h12m420 0h100m-540 4h20m424 0h104m4 0h8m-560 4h20m428 0h116m-564 4h16m436 0h112m-564 4h12m444 0h104m-560 4h12m448 0h92m-556 4h16m452 0h16m4 0h64m-552 4h16m476 0h60m-580 4h8m16 0h20m476 0h64m-584 4h40m476 0h80m-596 4h36m480 0h84m-600 4h32m484 0h84m-600 4h20m496 0h4m4 0h72m-596 4h4m508 0h84m-84 4h80m-84 4h84m-80 4h88m4 0h12m-104 4h104m-100 4h28m12 0h60m-100 4h24m20 0h56m-92 4h20m16 0h56m-88 4h20m16 0h52m-88 4h28m4 0h60m-88 4h88m-88 4h88m-84 4h84m-84 4h84m-84 4h88m-84 4h92m-64 4h68m-64 4h68m-68 4h16m8 0h44m-64 4h4m12 0h48m-52 4h52m-56 4h52m-52 4h52m-52 4h52m-48 4h48m-52 4h32m-32 4h32m-32 4h32m-32 4h32m-32 4h32m-28 4h32m-48 4h8m16 0h28m-56 4h28m4 0h28m-60 4h76m-76 4h76m-72 4h72m-68 4h64m-64 4h60m-60 4h52m-56 4h56m-52 4h52m-48 4h48m-40 4h60m-52 4h56m-52 4h56m4 0h8m-72 4h76m-76 4h72m-64 4h60m-56 4h52m-48 4h40m-44 4h44m-44 4h44m-40 4h40m-36 4h36m-32 4h32m-32 4h28m-28 4h32m-36 4h44m-52 4h56m-60 4h60m-56 4h56m-52 4h52m-52 4h52m-52 4h48m-48 4h48m-660 4h4m616 0h44m-664 4h4m620 0h44m-668 4h4m624 0h44m-44 4h48m-44 4h48m-40 4h40m-32 4h32m-680 4h4m644 0h32m-680 4h12m636 0h36m-684 4h12m636 0h44m-44 4h44m-44 4h44m-48 4h52m-56 4h40m8 0h4m-56 4h40m-44 4h48m-48 4h48m-48 4h44m-40 4h36m-36 4h36m-40 4h36m-36 4h36m-52 4h52m-56 4h56m-56 4h48m-48 4h40m-68 4h4m24 0h40m-72 4h16m12 0h44m-72 4h20m8 0h40m-88 4h16m8 0h56m-96 4h96m-128 4h128m-136 4h132m-136 4h68m8 0h44m-120 4h64m16 0h36m-116 4h60m24 0h28m-120 4h64m-72 4h68m-72 4h68m-84 4h4m8 0h36m8 0h24m-88 4h56m-72 4h68m-72 4h72m-72 4h72m-76 4h72m-72 4h72m-72 4h72m-72 4h44m8 0h20m-72 4h36m24 0h12m-76 4h40m24 0h8m-72 4h40m36 0h12m-88 4h44m32 0h8m-84 4h44m-44 4h44m-44 4h44m-44 4h40m-40 4h28m-28 4h24m-28 4h28m-28 4h28m-36 4h28m-28 4h4m4 0h16m-12 4h12m-12 4h16m-20 4h20m-20 4h24m-24 4h24m-28 4h28m-32 4h32m-36 4h28m-32 4h16m-20 4h20m-20 4h20m-20 4h20m-20 4h16m-20 4h20m-24 4h24m-32 4h32m-32 4h32m-32 4h28m-28 4h24m-24 4h24m-24 4h24m-28 4h28m-28 4h24m-24 4h24m-24 4h20m-20 4h24m-28 4h32m-32 4h36m-36 4h36m-36 4h36m-32 4h32m-32 4h28m-24 4h24m-24 4h20m-20 4h20m184 0h12m-212 4h16m148 0h4m16 0h4m4 0h24m-216 4h20m136 0h16m8 0h40m-220 4h20m128 0h76m-228 4h28m120 0h92m-240 4h24m124 0h100m-256 4h32m120 0h104m820 0h8m4 0h16m8 0h36m-1148 4h32m116 0h112m816 0h72m-1144 4h4m4 0h24m64 0h8m36 0h120m808 0h76m-1140 4h32m36 0h12m8 0h16m28 0h84m8 0h32m768 0h20m20 0h76m-1140 4h32m36 0h40m12 0h56m12 0h28m8 0h32m768 0h116m-1144 4h36m32 0h108m16 0h28m4 0h36m768 0h60m8 0h48m-1144 4h20m4 0h12m20 0h120m16 0h24m12 0h32m772 0h52m12 0h48m-1148 4h20m16 0h140m20 0h20m20 0h28m772 0h48m20 0h8m12 0h24m-1156 4h28m12 0h144m28 0h4m36 0h24m764 0h52m56 0h8m-1164 4h36m8 0h152m68 0h24m748 0h60m-1100 4h200m68 0h28m740 0h36m8 0h20m-1100 4h172m96 0h32m720 0h52m12 0h16m-1100 4h120m16 0h32m100 0h40m708 0h56m16 0h8m-1108 4h12m4 0h116m24 0h24m116 0h28m704 0h60m-1092 4h16m12 0h32m4 0h72m28 0h16m128 0h20m704 0h24m8 0h28m-1096 4h24m8 0h28m12 0h72m32 0h4m136 0h16m704 0h20m12 0h28m-1092 4h56m12 0h76m168 0h16m704 0h48m-1072 4h52m8 0h76m168 0h24m700 0h44m-1068 4h32m4 0h32m24 0h40m156 0h40m460 0h4m228 0h44m-1064 4h64m36 0h28m160 0h44m452 0h16m52 0h8m144 0h8m4 0h40m-1056 4h64m44 0h16m168 0h48m444 0h20m16 0h48m132 0h44m-1044 4h64m8 0h4m32 0h12m172 0h52m424 0h108m8 0h8m40 0h12m52 0h44m-1036 4h72m212 0h56m424 0h140m16 0h20m52 0h44m-1036 4h68m216 0h56m420 0h148m8 0h28m44 0h48m-1036 4h64m72 0h8m140 0h52m408 0h80m12 0h112m28 0h36m4 0h16m-1032 4h20m28 0h16m72 0h8m132 0h56m412 0h80m20 0h108m24 0h36m4 0h16m-1028 4h8m36 0h12m72 0h16m120 0h64m12 0h4m396 0h56m16 0h12m20 0h8m4 0h96m20 0h56m-980 4h4m76 0h12m128 0h80m392 0h52m76 0h84m24 0h52m-756 4h76m380 0h64m88 0h80m16 0h48m-736 4h60m368 0h76m92 0h120m12 0h8m-748 4h4m24 0h44m368 0h76m96 0h112m-724 4h4m20 0h64m352 0h76m68 0h4m28 0h108m-728 4h8m20 0h64m352 0h80m64 0h4m32 0h104m-724 4h4m20 0h68m344 0h60m4 0h24m100 0h104m-684 4h56m324 0h68m12 0h16m112 0h96m-680 4h56m312 0h76m16 0h8m120 0h72m4 0h20m-684 4h60m308 0h76m16 0h4m132 0h36m8 0h16m12 0h12m-676 4h52m312 0h76m164 0h48m-648 4h48m140 0h4m168 0h76m176 0h32m-640 4h48m128 0h20m24 0h8m96 0h8m24 0h80m180 0h8m-624 4h48m116 0h44m12 0h12m64 0h40m20 0h80m-432 4h48m108 0h52m12 0h12m60 0h44m12 0h80m-420 4h72m4 0h16m52 0h56m12 0h16m56 0h136m-420 4h92m48 0h64m8 0h16m20 0h12m28 0h128m-416 4h92m48 0h96m8 0h20m4 0h16m4 0h128m-416 4h96m40 0h264m-400 4h400m-392 4h356m16 0h20m-376 4h212m4 0h120m20 0h16m-368 4h204m8 0h120m20 0h16m-372 4h132m4 0h72m8 0h116m20 0h20m-372 4h260m4 0h64m20 0h32m-384 4h168m8 0h156m16 0h52m-400 4h168m12 0h152m8 0h60m-400 4h324m8 0h68m-396 4h316m12 0h28m8 0h36m-396 4h308m20 0h24m4 0h44m-400 4h308m20 0h76m-404 4h308m24 0h72m-404 4h312m20 0h76m-404 4h308m20 0h80m-392 4h292m20 0h80m-388 4h292m8 0h64m-344 4h348m-348 4h356m-356 4h356m-356 4h356m12 0h4m-376 4h356m12 0h16m-388 4h88m8 0h264m8 0h20m-432 4h16m28 0h16m8 0h64m12 0h292m-440 4h24m20 0h12m20 0h16m8 0h40m4 0h128m8 0h156m-436 4h20m16 0h16m28 0h192m8 0h156m-464 4h12m12 0h20m20 0h16m28 0h192m4 0h52m12 0h96m12 0h8m-460 4h20m20 0h16m24 0h48m4 0h200m12 0h40m24 0h32m4 0h20m-468 4h24m24 0h12m20 0h52m8 0h200m4 0h40m32 0h52m-468 4h24m24 0h12m12 0h60m8 0h192m8 0h44m32 0h52m-456 4h12m24 0h12m12 0h60m4 0h192m16 0h36m36 0h84m-484 4h12m16 0h12m16 0h256m16 0h24m48 0h84m-484 4h40m20 0h124m8 0h120m20 0h4m60 0h92m-492 4h36m32 0h44m8 0h68m12 0h112m20 0h4m60 0h104m-504 4h24m56 0h40m4 0h68m12 0h108m20 0h4m72 0h8m8 0h88m-520 4h44m44 0h112m16 0h100m132 0h88m-540 4h48m44 0h112m16 0h96m140 0h88m-548 4h52m44 0h116m4 0h100m144 0h88m-548 4h48m48 0h12m8 0h200m148 0h80m-540 4h12m12 0h16m52 0h12m12 0h192m160 0h72m-516 4h16m56 0h8m16 0h148m4 0h32m172 0h64m-520 4h20m60 0h12m4 0h100m32 0h16m8 0h28m184 0h64m-528 4h20m56 0h116m40 0h12m8 0h28m188 0h8m12 0h44m-532 4h16m64 0h108m44 0h12m4 0h28m216 0h40m-528 4h8m72 0h104m36 0h12m8 0h28m224 0h32m-440 4h100m32 0h16m8 0h24m240 0h20m-440 4h148m8 0h20m252 0h12m-440 4h40m4 0h132m252 0h16m-508 4h4m60 0h36m8 0h132m248 0h20m-508 4h4m60 0h32m12 0h132m248 0h24m-448 4h32m12 0h132m248 0h32m-452 4h24m12 0h132m256 0h32m-420 4h60m4 0h64m264 0h28m-420 4h56m12 0h56m268 0h28m-420 4h56m16 0h48m276 0h24m-424 4h56m44 0h12m288 0h28m-428 4h52m352 0h24m-436 4h52m364 0h24m-440 4h44m372 0h24m-448 4h24m400 0h24m-468 4h36m408 0h24m-472 4h36m412 0h20m-468 4h20m428 0h20m-504 4h4m28 0h20m432 0h24m-512 4h20m4 0h28m436 0h24m-516 4h44m448 0h24m-520 4h40m456 0h28m-556 4h64m468 0h24m-560 4h60m484 0h20m-564 4h60m488 0h20m-568 4h20m24 0h12m492 0h12m-564 4h16m532 0h16m-572 4h16m536 0h32m-592 4h16m540 0h36m-596 4h12m544 0h40m-612 4h20m552 0h36m-620 4h24m560 0h32m-620 4h20m548 0h52m-628 4h20m556 0h48m-648 4h36m564 0h44m-648 4h24m576 0h48m-648 4h12m584 0h52m-652 4h12m588 0h48m-652 4h12m588 0h52m-664 4h20m592 0h52m-672 4h20m596 0h28m12 0h16m-676 4h16m600 0h28m-660 4h24m600 0h36m-668 4h28m592 0h40m-664 4h28m456 0h20m16 0h32m56 0h48m-660 4h24m428 0h144m8 0h24m16 0h8m-656 4h24m396 0h44m16 0h8m28 0h32m4 0h68m-624 4h24m388 0h40m120 0h12m24 0h8m-632 4h32m372 0h32m-440 4h32m352 0h36m-424 4h24m168 0h40m4 0h12m120 0h32m-404 4h24m160 0h16m24 0h36m108 0h20m-392 4h28m152 0h12m52 0h44m76 0h12m-392 4h44m144 0h12m80 0h40m20 0h12m12 0h20m-388 4h44m140 0h12m100 0h88m-388 4h44m140 0h12m112 0h8m8 0h56m-380 4h40m140 0h12m-196 4h28m4 0h4m144 0h12m-196 4h32m148 0h12m-196 4h36m148 0h8m-208 4h52m144 0h8m-208 4h52m144 0h12m-212 4h52m148 0h8m-216 4h56m152 0h8m-224 4h60m152 0h12m-224 4h44m168 0h8m-244 4h8m16 0h36m172 0h12m-348 4h4m96 0h16m8 0h36m172 0h12m-396 4h16m28 0h16m92 0h56m172 0h12m-396 4h64m60 0h88m168 0h12m-396 4h88m32 0h96m160 0h16m-400 4h100m12 0h108m160 0h12m-396 4h48m12 0h160m160 0h8m-392 4h48m32 0h60m16 0h4m12 0h44m164 0h8m-392 4h28m60 0h48m56 0h12m4 0h8m164 0h8m-392 4h24m72 0h4m280 0h8m-388 4h8m368 0h8m-384 4h8m364 0h8m-380 4h8m360 0h8m-376 4h4m364 0h4m-372 4h4m360 0h8m-376 4h8m360 0h4m-372 4h8m356 0h8m-376 4h8m356 0h8m-372 4h8m356 0h8m-372 4h8m356 0h4m-368 4h8m356 0h4m-368 4h8m356 0h4m-368 4h8m356 0h4m-368 4h8m352 0h8m-368 4h8m352 0h8m-368 4h12m348 0h8m-364 4h8m348 0h8m-364 4h8m348 0h4m-360 4h8m348 0h4m-360 4h8m348 0h4m-360 4h8m348 0h8m-364 4h8m352 0h4"/>
<path stroke="#4ac70c" d="M487 298h56m388 0h44m48 0h8m-544 4h24m16 0h32m376 0h44m-492 4h20m20 0h28m380 0h48m52 0h4m-552 4h16m24 0h28m380 0h56m48 0h4m-556 4h12m28 0h24m388 0h56m-508 4h8m36 0h20m388 0h56m-456 4h12m368 0h8m16 0h56m-460 4h12m364 0h16m12 0h80m-484 4h16m360 0h108m-484 4h16m360 0h76m8 0h24m-484 4h16m360 0h76m12 0h16m-480 4h16m368 0h64m20 0h12m-480 4h16m372 0h56m28 0h4m-476 4h16m340 0h12m20 0h32m-420 4h16m336 0h20m12 0h40m-424 4h16m336 0h24m8 0h44m-432 4h16m344 0h76m-440 4h20m348 0h76m-444 4h16m352 0h80m-448 4h12m356 0h84m16 0h4m-472 4h12m352 0h112m-476 4h12m344 0h120m-480 4h16m340 0h120m-480 4h16m348 0h4m20 0h36m12 0h44m-484 4h16m380 0h24m24 0h40m-496 4h24m384 0h16m28 0h44m4 0h4m-520 4h32m392 0h12m20 0h52m-512 4h28m400 0h8m20 0h56m-512 4h12m416 0h4m24 0h52m-508 4h8m416 0h8m24 0h56m-88 4h8m28 0h52m-52 4h56m28 0h12m-156 4h8m52 0h56m24 0h20m-160 4h8m52 0h64m20 0h16m-148 4h8m36 0h72m20 0h16m-152 4h20m24 0h72m28 0h4m-148 4h76m8 0h36m-120 4h76m12 0h32m-120 4h124m-124 4h124m-124 4h124m-128 4h132m-136 4h36m16 0h112m-168 4h40m16 0h116m-172 4h16m4 0h16m20 0h12m12 0h92m16 0h8m-196 4h12m8 0h16m16 0h8m20 0h96m4 0h12m-192 4h12m8 0h16m12 0h8m24 0h108m-196 4h36m16 0h8m28 0h20m4 0h80m-196 4h32m24 0h4m32 0h16m4 0h84m-196 4h20m68 0h108m-196 4h16m72 0h112m-108 4h104m-104 4h104m-96 4h96m-112 4h4m16 0h92m-88 4h88m-88 4h92m-92 4h76m8 0h16m-164 4h12m52 0h72m28 0h4m-172 4h20m44 0h76m-136 4h16m40 0h32m16 0h32m-132 4h8m20 0h4m20 0h32m16 0h36m-108 4h8m16 0h28m20 0h40m-112 4h12m12 0h28m20 0h40m-112 4h16m4 0h36m16 0h40m-132 4h4m16 0h20m4 0h40m12 0h32m-572 4h4m432 0h44m8 0h40m12 0h36m-576 4h8m428 0h64m8 0h24m8 0h8m8 0h24m-580 4h12m428 0h56m16 0h20m28 0h28m-588 4h12m460 0h28m12 0h16m32 0h36m-596 4h12m460 0h48m40 0h40m-600 4h12m468 0h36m40 0h40m-596 4h16m468 0h32m40 0h40m-596 4h20m476 0h20m32 0h56m-604 4h20m488 0h8m32 0h60m-608 4h20m532 0h60m-612 4h24m528 0h56m-608 4h28m524 0h56m-608 4h28m528 0h56m-612 4h32m524 0h60m-616 4h32m456 0h16m48 0h68m-620 4h32m456 0h28m28 0h16m4 0h56m-620 4h32m464 0h20m32 0h8m12 0h52m-620 4h32m468 0h16m36 0h4m12 0h48m-616 4h32m468 0h16m36 0h8m8 0h40m-608 4h32m472 0h8m40 0h12m4 0h36m-604 4h36m464 0h8m44 0h8m12 0h36m-608 4h48m452 0h8m68 0h36m-612 4h52m448 0h4m80 0h28m-612 4h52m528 0h32m-612 4h56m48 0h12m456 0h40m-608 4h76m20 0h16m452 0h52m-616 4h80m16 0h16m408 0h12m12 0h76m-620 4h80m12 0h20m404 0h16m16 0h76m-628 4h84m8 0h24m400 0h24m16 0h72m-628 4h120m392 0h32m16 0h72m-632 4h56m8 0h68m380 0h36m12 0h80m-640 4h56m8 0h68m384 0h32m12 0h88m-644 4h124m404 0h16m12 0h88m-636 4h112m412 0h12m12 0h88m-636 4h112m416 0h8m8 0h92m-648 4h128m420 0h100m-648 4h128m420 0h100m-648 4h124m424 0h96m-644 4h120m428 0h92m-640 4h116m436 0h28m8 0h48m-628 4h104m440 0h28m8 0h44m-620 4h16m8 0h64m452 0h28m4 0h48m-620 4h88m448 0h84m-620 4h88m448 0h88m-624 4h88m444 0h92m-636 4h96m444 0h92m-632 4h96m436 0h100m-632 4h100m428 0h88m-616 4h100m388 0h4m28 0h92m-612 4h104m380 0h16m16 0h96m-596 4h84m304 0h8m72 0h16m20 0h92m-596 4h84m300 0h16m40 0h8m20 0h16m20 0h64m4 0h24m-596 4h92m292 0h12m40 0h20m8 0h16m24 0h60m16 0h12m-592 4h92m288 0h16m40 0h44m20 0h64m20 0h8m-592 4h92m292 0h20m28 0h44m12 0h56m16 0h8m-568 4h80m4 0h8m300 0h16m20 0h100m-524 4h76m8 0h4m304 0h8m16 0h76m-492 4h72m340 0h72m-476 4h72m328 0h72m-472 4h76m312 0h84m-472 4h76m304 0h92m-484 4h88m300 0h88m-460 4h68m300 0h84m-448 4h60m292 0h92m-440 4h52m296 0h76m4 0h8m-440 4h56m300 0h64m-416 4h48m308 0h44m-396 4h36m280 0h4m32 0h40m-392 4h32m280 0h8m48 0h24m-396 4h16m8 0h4m348 0h16m-392 4h8m344 0h8m16 0h16m-396 4h12m336 0h20m8 0h20m-396 4h16m328 0h52m-392 4h24m316 0h52m-392 4h24m316 0h48m-388 4h8m332 0h48m-428 4h12m372 0h44m-428 4h16m364 0h4m8 0h36m-428 4h20m344 0h20m8 0h36m-428 4h24m332 0h28m12 0h32m-424 4h20m332 0h28m16 0h28m-428 4h24m332 0h24m24 0h24m-428 4h20m336 0h16m16 0h40m-428 4h20m12 0h24m304 0h4m20 0h40m-424 4h68m316 0h40m-424 4h40m8 0h20m316 0h32m-416 4h32m20 0h20m312 0h32m4 0h4m-416 4h8m36 0h20m312 0h44m-380 4h28m312 0h40m-392 4h40m312 0h36m-416 4h68m288 0h8m12 0h40m-416 4h64m292 0h60m-416 4h56m300 0h56m-420 4h60m304 0h52m-416 4h60m308 0h44m-412 4h60m312 0h36m-408 4h60m312 0h32m-404 4h64m308 0h32m-404 4h60m312 0h32m-404 4h52m320 0h32m-404 4h52m320 0h28m-400 4h52m12 0h20m288 0h24m-396 4h48m16 0h16m288 0h20m-388 4h16m12 0h20m20 0h12m288 0h20m-388 4h16m12 0h16m320 0h24m-388 4h40m324 0h24m-388 4h48m320 0h20m-388 4h52m316 0h20m-388 4h56m316 0h12m-384 4h56m312 0h16m-384 4h24m4 0h24m316 0h16m-384 4h24m8 0h16m316 0h20m-384 4h24m340 0h20m-384 4h28m336 0h16m-380 4h28m336 0h16m-380 4h28m332 0h20m-380 4h20m340 0h20m-380 4h12m348 0h24m-384 4h8m352 0h24m-384 4h8m352 0h28m-28 4h28m-28 4h28m-28 4h32m-40 4h40m-48 4h48m-48 4h44m-48 4h48m-52 4h44m-44 4h44m-48 4h52m4 0h4m-60 4h56m216 0h8m-280 4h56m176 0h12m28 0h8m-280 4h52m176 0h16m28 0h4m864 0h8m-1148 4h52m176 0h16m24 0h12m856 0h12m-1144 4h44m176 0h20m20 0h20m848 0h20m8 0h12m-1172 4h40m184 0h28m4 0h36m840 0h56m-1208 4h4m16 0h32m196 0h68m832 0h68m-1220 4h52m200 0h68m804 0h8m20 0h68m-1220 4h52m172 0h96m804 0h12m16 0h68m-1224 4h56m120 0h16m32 0h100m804 0h16m8 0h72m-1220 4h40m12 0h4m116 0h24m24 0h116m792 0h92m-1220 4h36m16 0h12m32 0h4m72 0h28m16 0h56m8 0h64m784 0h92m-1216 4h28m24 0h8m28 0h12m72 0h32m4 0h56m16 0h64m780 0h92m-1216 4h32m56 0h12m76 0h76m36 0h56m768 0h104m-1220 4h44m52 0h8m76 0h76m36 0h56m768 0h104m-1232 4h60m32 0h4m32 0h24m40 0h56m12 0h8m40 0h40m776 0h108m-1232 4h60m64 0h36m28 0h60m8 0h16m36 0h40m768 0h116m-1232 4h60m64 0h44m16 0h68m4 0h20m32 0h44m752 0h36m8 0h36m20 0h12m-1216 4h60m64 0h8m4 0h32m12 0h96m16 0h60m748 0h40m8 0h36m-1184 4h64m72 0h140m16 0h56m752 0h40m8 0h36m-1180 4h60m68 0h124m36 0h56m752 0h36m16 0h8m-1148 4h52m64 0h72m8 0h48m32 0h60m540 0h12m176 0h4m16 0h36m-1116 4h48m20 0h28m16 0h72m8 0h44m36 0h52m548 0h20m168 0h4m16 0h36m-1100 4h36m8 0h36m12 0h72m16 0h40m36 0h44m532 0h16m12 0h20m8 0h4m172 0h36m-1096 4h80m4 0h76m12 0h40m24 0h12m4 0h48m524 0h76m160 0h36m-1100 4h212m28 0h12m4 0h52m520 0h88m144 0h40m-1104 4h188m8 0h16m64 0h52m504 0h92m120 0h12m8 0h36m-1100 4h184m12 0h16m64 0h40m4 0h24m488 0h96m112 0h40m4 0h16m-1076 4h152m20 0h16m64 0h40m4 0h20m492 0h68m4 0h28m108 0h36m8 0h16m-1076 4h72m12 0h68m24 0h16m52 0h44m8 0h20m496 0h64m4 0h32m104 0h36m12 0h8m-1104 4h8m24 0h60m24 0h32m12 0h20m36 0h12m44 0h52m4 0h20m472 0h4m24 0h100m104 0h28m16 0h8m-1104 4h4m28 0h56m32 0h28m16 0h8m44 0h12m44 0h96m448 0h12m16 0h112m96 0h24m-1040 4h40m44 0h20m80 0h8m44 0h100m444 0h16m8 0h120m72 0h4m20 0h20m-804 4h100m444 0h16m4 0h132m36 0h8m16 0h12m12 0h24m16 0h4m-824 4h40m4 0h60m440 0h164m48 0h68m-824 4h36m12 0h60m436 0h176m32 0h72m-824 4h12m4 0h16m16 0h64m436 0h180m8 0h48m4 0h32m-820 4h8m36 0h68m436 0h60m12 0h32m8 0h108m4 0h8m16 0h4m8 0h8m-776 4h20m8 0h48m428 0h60m16 0h32m16 0h112m32 0h4m-776 4h16m12 0h56m420 0h60m12 0h32m20 0h76m8 0h32m-740 4h12m8 0h20m4 0h36m416 0h108m16 0h80m12 0h32m-724 4h60m416 0h204m12 0h32m-740 4h76m400 0h144m12 0h68m12 0h36m-760 4h88m400 0h144m12 0h68m32 0h16m-756 4h92m356 0h16m20 0h144m16 0h48m-856 4h12m172 0h88m336 0h20m16 0h144m16 0h48m-852 4h12m180 0h84m332 0h20m16 0h144m12 0h28m8 0h12m-848 4h8m188 0h76m132 0h4m196 0h20m20 0h204m-652 4h16m8 0h52m328 0h20m32 0h84m8 0h104m-652 4h12m20 0h40m168 0h8m156 0h16m52 0h64m12 0h104m-652 4h12m20 0h40m168 0h12m152 0h8m60 0h64m12 0h104m-648 4h12m16 0h40m324 0h8m68 0h176m-644 4h12m16 0h44m316 0h12m28 0h8m36 0h172m-640 4h12m12 0h48m308 0h20m24 0h4m44 0h140m8 0h20m-640 4h12m12 0h48m308 0h20m76 0h132m24 0h4m-632 4h8m12 0h48m308 0h24m72 0h132m-600 4h4m8 0h52m312 0h20m76 0h128m48 0h4m-640 4h56m308 0h20m80 0h120m40 0h20m-648 4h76m292 0h20m80 0h120m40 0h20m-652 4h84m292 0h8m64 0h136m44 0h20m-648 4h104m348 0h128m52 0h16m-644 4h100m356 0h104m68 0h12m-640 4h100m356 0h120m-576 4h100m356 0h12m4 0h104m20 0h8m-604 4h96m356 0h12m16 0h96m16 0h16m-608 4h92m88 0h8m264 0h8m20 0h92m16 0h24m-608 4h44m16 0h28m16 0h8m64 0h12m292 0h128m-1196 4h12m572 0h44m24 0h20m12 0h20m16 0h8m40 0h4m292 0h132m-1196 4h16m568 0h44m20 0h16m16 0h28m356 0h132m-1200 4h20m568 0h16m12 0h12m20 0h20m16 0h28m356 0h12m8 0h104m-1192 4h20m568 0h40m20 0h20m16 0h24m48 0h4m308 0h4m20 0h84m-1176 4h20m572 0h32m24 0h24m12 0h20m52 0h8m328 0h80m-1172 4h20m576 0h28m24 0h24m12 0h12m60 0h8m328 0h80m-1248 4h12m36 0h44m584 0h36m12 0h24m12 0h12m60 0h4m364 0h52m-1256 4h20m32 0h40m588 0h40m12 0h16m12 0h16m428 0h68m-1272 4h20m32 0h52m572 0h44m40 0h20m124 0h8m296 0h68m-1276 4h20m32 0h60m80 0h8m472 0h44m36 0h32m44 0h8m68 0h12m300 0h60m-1224 4h60m8 0h4m88 0h16m440 0h44m24 0h56m40 0h4m68 0h12m308 0h52m-1244 4h16m20 0h40m8 0h8m88 0h20m428 0h44m44 0h44m112 0h16m320 0h36m-1240 4h12m32 0h32m4 0h8m84 0h24m424 0h44m48 0h44m112 0h16m324 0h36m-1240 4h8m40 0h36m84 0h28m420 0h40m52 0h44m116 0h4m332 0h36m-1192 4h36m68 0h52m412 0h40m48 0h48m12 0h8m428 0h40m-1192 4h32m72 0h16m8 0h28m416 0h40m12 0h12m16 0h52m12 0h12m424 0h40m-1192 4h12m88 0h16m12 0h28m420 0h60m16 0h56m8 0h16m148 0h4m268 0h40m-1244 4h12m40 0h8m92 0h16m12 0h28m420 0h56m20 0h60m12 0h4m100 0h32m16 0h8m276 0h32m-1244 4h12m36 0h8m100 0h16m8 0h28m424 0h52m20 0h56m116 0h40m12 0h8m280 0h32m-1240 4h8m140 0h32m452 0h44m16 0h64m108 0h44m12 0h4m284 0h32m-1088 4h32m448 0h48m8 0h72m104 0h36m12 0h8m284 0h40m-1104 4h4m16 0h24m24 0h4m424 0h128m100 0h32m16 0h8m284 0h44m-1108 4h4m16 0h28m20 0h4m424 0h128m148 0h8m284 0h40m-1080 4h24m448 0h128m40 0h4m400 0h36m-1080 4h24m452 0h60m4 0h60m36 0h8m400 0h36m-1080 4h24m472 0h40m4 0h60m32 0h12m404 0h32m-1080 4h24m472 0h104m32 0h12m412 0h24m-1064 4h12m20 0h12m432 0h112m24 0h12m420 0h20m-1064 4h20m12 0h32m412 0h148m420 0h20m-1064 4h20m12 0h40m412 0h140m420 0h20m-1096 4h8m24 0h16m16 0h52m408 0h12m8 0h112m420 0h20m-1096 4h8m28 0h12m16 0h56m428 0h104m428 0h20m-1096 4h4m44 0h20m8 0h40m440 0h92m428 0h20m-1052 4h24m20 0h28m440 0h84m440 0h20m-1060 4h28m28 0h16m444 0h84m440 0h28m-1068 4h28m28 0h20m408 0h8m24 0h76m448 0h28m-1068 4h40m16 0h20m408 0h16m12 0h60m468 0h28m-1064 4h36m16 0h20m408 0h20m4 0h60m468 0h32m-1052 4h24m16 0h20m408 0h84m468 0h32m-1040 4h12m20 0h12m400 0h60m4 0h28m476 0h28m-1040 4h12m20 0h4m396 0h68m20 0h4m488 0h32m-1048 4h20m412 0h68m516 0h36m-1052 4h20m412 0h64m524 0h36m-1052 4h16m408 0h36m556 0h36m-1052 4h16m404 0h36m564 0h32m-1048 4h8m408 0h36m568 0h28m-1048 4h8m404 0h40m560 0h32m-636 4h40m564 0h32m-636 4h32m584 0h20m-644 4h32m592 0h20m-676 4h60m596 0h20m-684 4h52m608 0h24m-688 4h44m616 0h28m-696 4h48m620 0h32m-700 4h40m624 0h40m-704 4h16m644 0h48m-708 4h12m648 0h44m-708 4h16m648 0h44m-720 4h24m648 0h44m-736 4h40m652 0h40m-748 4h44m664 0h40m-772 4h4m16 0h40m644 0h12m16 0h40m-752 4h36m644 0h72m-752 4h20m660 0h68m-772 4h36m660 0h24m4 0h40m-768 4h36m656 0h28m16 0h28m-772 4h40m628 0h16m8 0h32m24 0h16m-788 4h60m464 0h16m8 0h28m32 0h4m68 0h68m28 0h8m-812 4h8m16 0h60m452 0h48m12 0h60m12 0h24m8 0h52m8 0h12m-772 4h16m4 0h48m436 0h44m56 0h20m20 0h68m20 0h8m-740 4h64m420 0h48m160 0h16m-712 4h64m400 0h44m-512 4h28m4 0h32m200 0h24m164 0h36m-488 4h60m192 0h52m132 0h24m-452 4h36m200 0h16m36 0h28m104 0h24m-440 4h28m196 0h12m52 0h36m88 0h16m-484 4h4m52 0h24m196 0h12m68 0h32m8 0h8m56 0h16m-480 4h24m20 0h40m192 0h8m96 0h92m-472 4h24m16 0h40m192 0h8m104 0h84m-468 4h24m12 0h40m192 0h12m132 0h56m-468 4h72m192 0h12m144 0h8m12 0h20m-460 4h56m204 0h12m-388 4h8m104 0h56m208 0h8m-384 4h52m52 0h60m208 0h8m-372 4h44m16 0h16m16 0h56m216 0h8m-400 4h12m16 0h48m8 0h84m224 0h8m-416 4h32m12 0h140m220 0h8m-420 4h168m8 0h16m220 0h4m-420 4h68m4 0h96m16 0h8m220 0h8m-420 4h16m16 0h28m16 0h92m240 0h8m-420 4h16m64 0h60m268 0h12m-424 4h16m88 0h32m272 0h12m-424 4h12m100 0h12m280 0h16m-424 4h12m388 0h20m-424 4h12m388 0h24m-428 4h12m388 0h20m-424 4h12m388 0h8m-408 4h12m384 0h8m-404 4h12m380 0h8m-400 4h12m376 0h12m-400 4h12m372 0h12m-396 4h12m372 0h8m-392 4h8m372 0h8m-392 4h12m372 0h8m-392 4h8m372 0h8m-392 4h12m372 0h4m-388 4h12m368 0h8m-388 4h12m368 0h8m-388 4h12m368 0h8m-388 4h12m368 0h8m-384 4h8m368 0h8m-384 4h8m368 0h8m-384 4h8m368 0h8m-384 4h12m364 0h8m-384 4h12m360 0h12m-380 4h8m360 0h12m-380 4h8m360 0h12m-380 4h8m364 0h12m-384 4h8m364 0h12"/>
<path stroke="#73d309" d="M575 298h20m164 0h52m-236 4h16m164 0h52m-232 4h16m164 0h52m-232 4h16m160 0h72m-248 4h16m160 0h72m-248 4h16m160 0h72m-252 4h20m160 0h52m-232 4h16m164 0h52m-232 4h12m168 0h52m-236 4h16m168 0h48m12 0h4m-248 4h16m168 0h48m12 0h8m-252 4h16m168 0h44m16 0h8m-252 4h16m168 0h48m8 0h16m-256 4h16m160 0h16m4 0h60m-260 4h20m156 0h20m8 0h44m-248 4h20m152 0h24m4 0h16m16 0h12m-244 4h20m152 0h40m24 0h8m24 0h16m-288 4h24m152 0h40m56 0h16m-288 4h24m152 0h44m48 0h20m-288 4h24m152 0h56m36 0h16m-284 4h24m148 0h80m12 0h20m-284 4h20m152 0h84m8 0h20m-288 4h16m160 0h84m36 0h8m-304 4h12m164 0h84m40 0h8m-312 4h16m164 0h56m12 0h16m40 0h12m-320 4h16m172 0h52m8 0h20m44 0h12m-328 4h16m196 0h60m-276 4h16m204 0h56m-288 4h24m188 0h4m16 0h56m-292 4h24m188 0h12m16 0h28m-272 4h24m188 0h20m12 0h28m-288 4h36m188 0h24m4 0h36m-292 4h40m188 0h64m-296 4h40m188 0h8m16 0h44m40 0h8m-340 4h32m192 0h8m16 0h44m24 0h24m-332 4h16m200 0h8m12 0h40m32 0h16m-344 4h8m12 0h16m200 0h8m8 0h44m-296 4h12m4 0h20m204 0h52m-292 4h32m208 0h52m20 0h12m-324 4h32m200 0h8m12 0h40m20 0h12m-324 4h32m224 0h36m24 0h4m-320 4h32m224 0h40m-296 4h32m216 0h52m-300 4h28m216 0h60m-304 4h32m212 0h72m-316 4h8m8 0h16m212 0h80m-324 4h8m8 0h20m216 0h72m-324 4h4m12 0h20m216 0h76m-320 4h28m196 0h4m16 0h76m-324 4h32m216 0h36m8 0h44m-340 4h32m224 0h56m12 0h16m-340 4h32m224 0h56m12 0h16m16 0h8m-364 4h28m228 0h56m16 0h12m12 0h12m-364 4h28m228 0h60m20 0h28m-364 4h32m224 0h60m20 0h28m20 0h8m-392 4h36m220 0h60m20 0h32m16 0h8m-392 4h16m4 0h24m212 0h64m12 0h36m-368 4h16m4 0h24m212 0h112m-368 4h44m212 0h108m-364 4h16m4 0h24m216 0h68m12 0h24m-364 4h8m12 0h24m232 0h48m16 0h24m-340 4h20m236 0h4m16 0h28m12 0h20m-336 4h20m236 0h4m16 0h60m-336 4h36m216 0h84m-332 4h36m212 0h76m-320 4h32m216 0h76m8 0h12m-344 4h32m216 0h40m16 0h52m-356 4h32m216 0h40m20 0h44m-352 4h32m216 0h40m24 0h36m-348 4h32m212 0h40m24 0h20m-324 4h28m208 0h48m20 0h12m-304 4h32m192 0h48m16 0h12m60 0h16m-376 4h40m180 0h56m84 0h24m-384 4h48m172 0h60m80 0h24m-384 4h52m164 0h64m40 0h8m32 0h20m-380 4h56m160 0h68m36 0h16m32 0h4m-372 4h60m156 0h124m-340 4h68m144 0h12m4 0h116m-324 4h52m136 0h16m4 0h116m-324 4h52m132 0h20m4 0h92m8 0h20m-324 4h48m132 0h148m-324 4h44m132 0h24m4 0h120m24 0h4m-344 4h16m4 0h20m132 0h144m24 0h12m-328 4h28m124 0h136m28 0h16m-328 4h24m140 0h120m28 0h20m-324 4h24m144 0h112m24 0h20m-316 4h24m140 0h112m24 0h12m16 0h8m-332 4h20m140 0h80m12 0h36m8 0h4m24 0h8m-324 4h16m132 0h80m20 0h40m-288 4h20m128 0h72m32 0h28m-276 4h16m128 0h68m32 0h28m36 0h8m-316 4h20m16 0h8m112 0h60m4 0h8m16 0h20m40 0h20m-320 4h20m8 0h16m92 0h4m16 0h72m16 0h12m40 0h28m-324 4h20m8 0h16m88 0h8m12 0h84m52 0h36m-324 4h44m80 0h20m8 0h84m48 0h40m-324 4h44m72 0h120m40 0h28m4 0h16m-324 4h44m60 0h132m16 0h12m8 0h32m4 0h12m-316 4h44m56 0h128m20 0h12m20 0h20m-300 4h48m52 0h120m64 0h16m12 0h12m-324 4h52m44 0h108m80 0h8m12 0h20m-320 4h52m36 0h112m100 0h16m32 0h12m-356 4h52m32 0h116m140 0h28m-364 4h56m20 0h124m72 0h4m60 0h28m-364 4h60m12 0h128m16 0h8m48 0h8m56 0h20m-360 4h200m20 0h8m52 0h4m60 0h12m-360 4h196m24 0h12m96 0h8m8 0h16m-364 4h200m24 0h8m104 0h4m4 0h20m-364 4h204m132 0h28m-364 4h212m108 0h8m8 0h28m-368 4h172m12 0h32m96 0h20m8 0h28m-368 4h172m16 0h24m96 0h16m24 0h16m-364 4h136m12 0h28m8 0h16m156 0h8m-364 4h132m16 0h52m-224 4h8m16 0h120m28 0h52m-204 4h124m28 0h48m-200 4h124m32 0h36m-192 4h132m20 0h52m16 0h4m-220 4h220m-208 4h144m12 0h40m-192 4h48m4 0h88m28 0h20m-188 4h40m16 0h84m28 0h12m-180 4h36m20 0h84m32 0h8m-196 4h56m16 0h88m28 0h8m-196 4h60m12 0h92m20 0h16m-196 4h168m8 0h20m-184 4h184m-176 4h176m-176 4h36m8 0h24m4 0h104m-180 4h36m16 0h20m8 0h4m12 0h60m-164 4h40m24 0h12m32 0h60m-176 4h44m76 0h64m-184 4h40m80 0h64m-188 4h40m84 0h64m-220 4h4m24 0h44m84 0h64m-220 4h4m20 0h48m80 0h68m-200 4h52m80 0h64m-200 4h60m76 0h60m-200 4h64m76 0h56m-196 4h64m76 0h56m-200 4h68m76 0h56m-208 4h72m84 0h52m-212 4h76m96 0h40m-208 4h52m8 0h16m96 0h36m-204 4h48m8 0h16m12 0h12m76 0h32m-204 4h52m8 0h40m72 0h36m-208 4h52m16 0h36m48 0h8m16 0h36m-212 4h52m20 0h36m44 0h12m20 0h28m-216 4h52m20 0h44m44 0h8m24 0h28m-224 4h56m20 0h48m72 0h28m-228 4h60m16 0h20m4 0h28m72 0h28m-232 4h64m12 0h24m20 0h12m72 0h28m-232 4h96m104 0h32m-244 4h104m96 0h48m-248 4h100m100 0h48m-248 4h100m100 0h48m-244 4h92m108 0h48m-248 4h84m116 0h48m-244 4h76m124 0h48m-244 4h12m4 0h48m128 0h52m-220 4h36m132 0h52m-216 4h36m132 0h44m-208 4h40m120 0h48m-208 4h44m120 0h48m-232 4h8m16 0h40m120 0h48m-232 4h8m12 0h48m120 0h44m-228 4h4m12 0h48m40 0h12m72 0h36m-208 4h52m12 0h4m16 0h20m72 0h32m-208 4h56m4 0h12m8 0h36m60 0h32m-208 4h52m12 0h52m60 0h36m-216 4h52m16 0h48m64 0h36m-240 4h72m20 0h16m24 0h4m44 0h56m-240 4h76m20 0h12m76 0h48m-232 4h76m108 0h40m-224 4h72m116 0h36m-220 4h64m124 0h32m-216 4h60m128 0h28m-216 4h56m128 0h36m-220 4h56m128 0h36m-216 4h44m132 0h44m-220 4h36m116 0h12m8 0h48m-216 4h32m116 0h8m12 0h48m-220 4h36m116 0h4m20 0h44m-228 4h44m144 0h20m4 0h16m-228 4h44m116 0h4m20 0h24m8 0h12m-228 4h44m112 0h12m12 0h24m16 0h8m-232 4h48m112 0h44m-212 4h60m112 0h36m-212 4h64m116 0h28m-208 4h64m116 0h28m-300 4h28m48 0h80m116 0h28m-300 4h32m20 0h80m136 0h36m-304 4h128m132 0h52m-312 4h16m8 0h100m132 0h64m-292 4h20m40 0h12m16 0h8m132 0h64m-64 4h48m-48 4h48m-52 4h56m-56 4h56m-60 4h56m-56 4h52m-52 4h48m-48 4h48m-44 4h24m8 0h12m-48 4h24m16 0h8m-56 4h28m-32 4h32m-36 4h32m-32 4h32m-32 4h32m-32 4h28m-32 4h32m-44 4h44m-44 4h44m-40 4h40m-36 4h36m-64 4h16m16 0h28m16 0h12m-88 4h20m8 0h32m16 0h12m-92 4h64m16 0h12m-96 4h68m16 0h12m-100 4h80m12 0h8m-104 4h84m16 0h4m-104 4h80m1264 0h4m-1344 4h72m1264 0h8m-1344 4h72m1200 0h16m48 0h8m-1364 4h4m8 0h28m24 0h24m1200 0h24m40 0h12m-1368 4h40m32 0h16m1200 0h44m24 0h12m-1364 4h36m1244 0h84m-1364 4h36m1240 0h88m-1360 4h28m48 0h4m1192 0h88m-1360 4h24m1248 0h88m-1364 4h20m96 0h4m8 0h8m1144 0h84m-1392 4h44m92 0h32m1136 0h88m-1396 4h44m96 0h32m1136 0h88m-1400 4h48m96 0h28m1136 0h92m-1400 4h56m92 0h20m1140 0h92m-1400 4h60m92 0h8m1148 0h92m-1400 4h40m4 0h20m1236 0h80m12 0h8m-1400 4h36m8 0h20m144 0h4m1088 0h40m12 0h28m16 0h4m-1400 4h36m16 0h12m64 0h8m68 0h8m1088 0h36m20 0h24m-1380 4h32m24 0h8m64 0h8m36 0h12m16 0h12m1088 0h36m20 0h28m-1432 4h32m12 0h40m88 0h12m32 0h20m12 0h12m232 0h12m840 0h36m24 0h28m-1432 4h84m88 0h28m16 0h28m8 0h8m44 0h8m168 0h28m832 0h20m-1392 4h16m12 0h92m80 0h80m28 0h8m16 0h16m148 0h48m828 0h20m-1396 4h124m28 0h4m40 0h128m12 0h20m140 0h52m828 0h24m-1396 4h116m24 0h12m32 0h140m8 0h40m120 0h72m808 0h24m-1432 4h12m20 0h116m32 0h4m32 0h116m36 0h44m116 0h72m788 0h12m8 0h24m-1432 4h24m4 0h32m12 0h60m80 0h120m24 0h4m12 0h40m120 0h64m780 0h56m-1432 4h60m12 0h60m80 0h124m16 0h12m12 0h36m120 0h60m784 0h40m-1420 4h68m4 0h68m76 0h68m4 0h80m12 0h28m128 0h60m784 0h32m88 0h4m-1504 4h140m76 0h152m12 0h20m136 0h64m780 0h24m112 0h4m-1528 4h148m76 0h152m12 0h36m120 0h72m768 0h24m112 0h8m-1528 4h144m40 0h16m20 0h104m4 0h48m8 0h44m116 0h72m760 0h24m120 0h8m-1528 4h136m44 0h20m16 0h64m8 0h32m8 0h104m108 0h80m752 0h24m128 0h4m-1528 4h28m4 0h28m12 0h4m16 0h40m52 0h16m12 0h40m8 0h16m16 0h140m48 0h4m44 0h92m752 0h16m-1388 4h28m8 0h24m36 0h32m84 0h36m56 0h92m8 0h24m100 0h92m8 0h12m728 0h20m-1380 4h24m8 0h16m44 0h28m84 0h36m16 0h4m36 0h88m12 0h20m104 0h88m12 0h16m724 0h20m-1376 4h28m72 0h12m88 0h36m12 0h24m20 0h92m8 0h16m104 0h88m16 0h20m712 0h28m-1376 4h32m72 0h12m84 0h40m4 0h32m12 0h124m100 0h92m16 0h16m712 0h24m-1372 4h32m72 0h12m68 0h8m16 0h68m8 0h140m28 0h12m20 0h124m16 0h12m708 0h20m-1368 4h36m72 0h12m68 0h12m12 0h64m12 0h152m12 0h160m16 0h12m704 0h20m-1364 4h40m68 0h8m72 0h12m12 0h64m12 0h152m12 0h136m12 0h12m20 0h8m696 0h24m-1356 4h20m168 0h12m8 0h20m12 0h28m12 0h164m4 0h132m16 0h12m724 0h24m-1164 4h8m48 0h20m12 0h300m12 0h16m724 0h20m-1100 4h12m16 0h328m724 0h16m-1088 4h4m16 0h332m716 0h16m-1080 4h4m24 0h320m716 0h12m-1076 4h8m24 0h320m712 0h12m-1072 4h8m20 0h272m4 0h44m712 0h12m-1036 4h260m12 0h40m712 0h12m-1036 4h124m12 0h128m4 0h36m720 0h12m-1036 4h120m20 0h160m720 0h16m-1036 4h120m20 0h152m728 0h16m-1032 4h108m28 0h124m8 0h20m732 0h16m-1048 4h4m4 0h108m28 0h84m4 0h28m24 0h16m736 0h12m-1052 4h120m28 0h84m8 0h28m24 0h12m736 0h16m4 0h4m-1064 4h124m20 0h56m8 0h68m12 0h20m728 0h28m-1064 4h128m8 0h64m8 0h72m4 0h40m708 0h28m-1060 4h16m4 0h36m12 0h132m8 0h120m680 0h52m-1364 4h4m304 0h12m4 0h24m24 0h264m676 0h52m-1364 4h8m324 0h12m28 0h148m8 0h112m672 0h56m-1368 4h8m328 0h12m24 0h12m8 0h120m20 0h108m676 0h52m-1368 4h8m332 0h12m16 0h136m28 0h108m680 0h52m-1372 4h8m332 0h12m20 0h132m28 0h104m688 0h48m-1372 4h8m332 0h8m24 0h144m20 0h120m688 0h28m120 0h8m-1500 4h8m332 0h8m24 0h144m24 0h120m688 0h24m120 0h8m-1500 4h12m332 0h4m24 0h144m24 0h24m12 0h84m8 0h8m676 0h20m12 0h8m100 0h4m-1492 4h8m332 0h4m24 0h144m28 0h24m12 0h72m696 0h44m-1388 4h8m328 0h12m20 0h144m28 0h28m20 0h56m696 0h48m-1388 4h8m16 0h12m304 0h8m24 0h64m16 0h64m28 0h24m20 0h56m696 0h44m-1384 4h8m12 0h20m344 0h52m16 0h80m12 0h24m20 0h56m696 0h40m-1380 4h56m328 0h52m16 0h84m8 0h28m12 0h64m696 0h36m-1376 4h52m328 0h60m8 0h124m8 0h68m692 0h32m-1372 4h52m96 0h8m224 0h268m696 0h28m-1372 4h56m92 0h12m220 0h160m12 0h96m700 0h24m144 0h4m-1516 4h52m96 0h8m220 0h160m12 0h92m704 0h32m132 0h8m-1516 4h48m104 0h4m220 0h164m4 0h96m704 0h36m124 0h12m-1512 4h44m104 0h12m212 0h24m8 0h236m700 0h40m120 0h12m-1512 4h44m104 0h12m208 0h24m16 0h236m692 0h52m112 0h12m-1508 4h44m100 0h8m212 0h24m16 0h244m680 0h56m112 0h12m-1508 4h44m20 0h4m80 0h4m20 0h12m176 0h32m12 0h248m680 0h56m112 0h8m-1508 4h44m16 0h16m4 0h12m80 0h16m172 0h32m12 0h160m4 0h48m8 0h32m688 0h48m108 0h8m-1508 4h44m16 0h60m8 0h4m40 0h20m168 0h36m8 0h188m4 0h20m8 0h32m692 0h52m-1400 4h44m12 0h80m24 0h36m164 0h36m8 0h168m20 0h28m4 0h28m696 0h60m20 0h8m-1436 4h140m12 0h52m156 0h36m8 0h168m16 0h64m700 0h56m20 0h12m-1432 4h208m144 0h36m8 0h244m708 0h52m16 0h16m-1432 4h212m144 0h32m8 0h240m724 0h40m20 0h8m-1428 4h216m120 0h12m8 0h252m8 0h16m728 0h40m-1404 4h220m120 0h12m16 0h204m4 0h28m752 0h40m-1400 4h228m144 0h156m4 0h40m12 0h24m748 0h36m28 0h16m-1432 4h224m140 0h156m28 0h20m12 0h24m748 0h36m28 0h16m-1432 4h152m12 0h60m100 0h28m8 0h144m4 0h8m36 0h16m8 0h28m748 0h36m28 0h16m-1428 4h52m8 0h84m20 0h60m48 0h8m36 0h180m56 0h28m768 0h36m28 0h12m-1408 4h36m12 0h76m40 0h48m12 0h4m28 0h16m28 0h180m56 0h20m776 0h44m-1372 4h32m16 0h4m8 0h56m44 0h68m24 0h28m16 0h176m60 0h16m780 0h48m-1376 4h32m28 0h36m64 0h72m24 0h24m16 0h60m8 0h108m64 0h8m780 0h52m-1372 4h12m20 0h4m24 0h32m64 0h76m28 0h12m20 0h60m8 0h108m840 0h8m4 0h52m-1304 4h20m72 0h84m16 0h12m16 0h16m12 0h16m4 0h132m844 0h4m8 0h48m-1300 4h8m96 0h76m8 0h12m12 0h20m12 0h16m4 0h132m856 0h48m-1192 4h92m12 0h20m12 0h120m4 0h32m840 0h60m-1192 4h24m16 0h56m4 0h28m8 0h120m8 0h28m836 0h60m-1176 4h12m16 0h88m8 0h88m20 0h8m12 0h28m832 0h64m-1148 4h92m4 0h84m28 0h4m12 0h24m832 0h64m-1144 4h176m52 0h16m836 0h56m-1136 4h172m80 0h12m816 0h40m-1120 4h172m80 0h12m816 0h36m-1104 4h56m16 0h88m904 0h40m-1100 4h44m24 0h88m900 0h48m-1104 4h44m24 0h84m904 0h52m-1108 4h40m28 0h80m916 0h44m-1108 4h40m32 0h68m924 0h44m-1104 4h28m40 0h64m924 0h40m-1088 4h20m16 0h84m912 0h40m-1072 4h20m16 0h84m896 0h52m-1068 4h20m16 0h84m656 0h8m224 0h60m-1068 4h24m8 0h84m620 0h100m96 0h12m16 0h24m24 0h60m-1068 4h116m596 0h92m16 0h48m36 0h8m8 0h32m4 0h40m8 0h40m12 0h12m-1068 4h120m568 0h44m104 0h52m8 0h144m20 0h8m-1068 4h116m552 0h44m136 0h172m-1024 4h36m4 0h44m4 0h32m536 0h24m192 0h52m20 0h76m-1052 4h8m16 0h40m16 0h32m16 0h24m320 0h40m168 0h28m284 0h32m8 0h20m-1064 4h24m4 0h32m4 0h8m24 0h12m8 0h4m24 0h16m316 0h24m8 0h24m144 0h28m348 0h12m-1072 4h60m48 0h4m368 0h12m40 0h12m128 0h24m-700 4h56m424 0h12m52 0h12m120 0h20m-696 4h48m428 0h16m56 0h20m108 0h16m-692 4h44m428 0h16m64 0h36m84 0h20m-688 4h32m432 0h12m80 0h36m68 0h24m-700 4h32m444 0h12m88 0h40m20 0h16m24 0h20m-700 4h32m448 0h8m92 0h44m12 0h28m8 0h28m-700 4h28m452 0h8m96 0h76m8 0h32m-724 4h8m16 0h28m448 0h12m104 0h108m-724 4h8m12 0h24m456 0h12m112 0h100m-704 4h24m452 0h16m120 0h88m-700 4h20m456 0h12m144 0h20m4 0h44m-700 4h20m452 0h12m152 0h8m36 0h20m-700 4h16m456 0h12m196 0h20m-704 4h16m460 0h8m200 0h20m-704 4h12m460 0h12m-484 4h12m456 0h16m-484 4h12m452 0h16m-480 4h12m448 0h20m-480 4h12m440 0h24m-472 4h8m428 0h32m-472 4h12m424 0h32m-468 4h12m420 0h20m-452 4h12m412 0h20m-444 4h12m412 0h12m-436 4h8m412 0h12m-432 4h8m408 0h12m40 0h8m-480 4h12m408 0h12m40 0h8m-480 4h12m404 0h12m48 0h4m-480 4h8m408 0h8m52 0h12m24 0h32m-544 4h12m404 0h8m52 0h16m12 0h60m-560 4h8m400 0h12m28 0h4m20 0h88m-560 4h8m400 0h12m28 0h4m20 0h84m-556 4h8m404 0h8m28 0h12m8 0h88m-556 4h12m400 0h12m20 0h112m-552 4h8m404 0h8m20 0h76m8 0h32m-556 4h8m404 0h8m24 0h72m16 0h40m-572 4h8m404 0h12m24 0h64m24 0h40m-580 4h16m404 0h12m20 0h56m36 0h44m-588 4h16m404 0h20m8 0h56m16 0h8m24 0h48m-600 4h16m408 0h76m20 0h8m28 0h48"/>
<path stroke="#87da08" d="M595 298h28m68 0h68m-168 4h32m68 0h64m-164 4h32m72 0h60m-164 4h28m76 0h56m-160 4h24m80 0h56m-160 4h20m84 0h56m-160 4h16m88 0h56m-164 4h16m96 0h52m-168 4h16m100 0h52m-168 4h16m100 0h52m-168 4h16m8 0h12m52 0h20m8 0h52m-168 4h36m48 0h84m-168 4h32m56 0h80m-168 4h32m60 0h4m16 0h48m16 0h4m-180 4h32m84 0h40m20 0h8m-184 4h32m84 0h36m24 0h4m-180 4h32m84 0h36m-152 4h32m84 0h36m-152 4h28m88 0h36m-152 4h16m100 0h36m-152 4h8m112 0h28m-152 4h12m112 0h28m-160 4h20m108 0h32m-164 4h20m108 0h36m-164 4h20m104 0h40m-168 4h24m100 0h48m-176 4h28m96 0h72m-200 4h32m96 0h76m-208 4h32m100 0h56m4 0h16m-212 4h36m96 0h56m12 0h16m-220 4h40m96 0h52m20 0h12m-224 4h40m100 0h48m24 0h4m-216 4h36m108 0h44m-192 4h16m140 0h32m8 0h16m-216 4h16m124 0h16m8 0h28m8 0h16m-224 4h24m120 0h56m8 0h12m-220 4h24m120 0h56m8 0h8m-216 4h24m136 0h44m-208 4h24m140 0h44m-208 4h24m140 0h36m8 0h12m-220 4h24m140 0h60m-224 4h24m140 0h60m-224 4h24m140 0h52m-220 4h28m136 0h52m-212 4h24m136 0h52m-212 4h24m132 0h56m-208 4h20m128 0h68m-216 4h16m132 0h68m-216 4h20m128 0h48m4 0h16m-216 4h20m132 0h64m-220 4h24m144 0h56m-224 4h28m140 0h56m-228 4h28m144 0h56m-228 4h28m144 0h56m-224 4h24m148 0h52m-220 4h20m148 0h52m-212 4h16m144 0h52m-212 4h36m136 0h40m-212 4h40m132 0h40m-212 4h40m136 0h40m-216 4h40m140 0h52m-232 4h48m136 0h52m4 0h16m-256 4h64m120 0h52m4 0h16m-240 4h52m120 0h44m-212 4h48m120 0h44m-212 4h48m120 0h48m-216 4h48m120 0h48m-216 4h44m120 0h52m-216 4h44m28 0h16m72 0h56m-216 4h44m28 0h16m64 0h60m-212 4h48m20 0h20m64 0h56m-192 4h36m16 0h16m64 0h60m-184 4h32m8 0h20m64 0h56m-172 4h52m64 0h56m-168 4h44m72 0h48m-160 4h36m80 0h44m-156 4h32m84 0h40m-148 4h24m8 0h8m72 0h32m12 0h4m-156 4h36m64 0h36m16 0h4m-156 4h36m64 0h32m20 0h4m-156 4h32m20 0h8m36 0h36m-132 4h32m16 0h16m32 0h36m24 0h4m-156 4h28m16 0h16m28 0h44m-120 4h20m8 0h24m24 0h48m-124 4h52m16 0h72m-132 4h144m-136 4h140m-140 4h140m-136 4h132m-128 4h60m16 0h52m-128 4h56m20 0h52m-124 4h16m8 0h36m8 0h68m-132 4h8m16 0h92m4 0h16m-136 4h8m16 0h88m8 0h12m-108 4h80m20 0h8m-108 4h16m12 0h44m-72 4h16m8 0h36m-56 4h56m-52 4h52m-48 4h44m-40 4h36m-32 4h32m-24 4h20m-16 4h12m-24 64h4m-12 4h16m-20 4h20m-16 4h16m-12 4h12m-12 16h8m24 0h4m-40 4h16m20 0h8m4 0h12m-64 4h24m12 0h32m-72 4h76m-80 4h80m-84 4h84m-84 4h84m-84 4h80m-80 4h80m-76 4h76m-76 4h76m-76 4h76m-76 4h76m-80 4h84m-84 4h96m-116 4h8m16 0h96m-120 4h8m16 0h12m12 0h76m-120 4h8m40 0h72m-120 4h16m36 0h48m8 0h16m-124 4h20m36 0h44m12 0h20m-136 4h20m44 0h44m8 0h24m-140 4h20m48 0h72m-140 4h16m20 0h4m28 0h72m-140 4h12m24 0h20m12 0h72m-108 4h104m-108 4h96m-100 4h100m-100 4h100m-104 4h108m-116 4h116m-120 4h124m-132 4h128m-132 4h132m-128 4h132m-124 4h120m-116 4h120m-120 4h120m-116 4h120m-120 4h40m12 0h72m-120 4h12m4 0h16m20 0h72m-120 4h4m12 0h8m36 0h60m-124 4h12m52 0h60m-128 4h16m48 0h64m-132 4h20m16 0h24m4 0h44m-108 4h20m12 0h76m-108 4h108m-112 4h116m-120 4h124m-124 4h128m-132 4h128m-128 4h128m-136 4h132m-140 4h116m12 0h8m-136 4h116m8 0h12m-136 4h116m4 0h20m-140 4h144m-144 4h116m4 0h20m-140 4h64m8 0h40m12 0h12m-136 4h60m12 0h40m-108 4h60m8 0h44m-112 4h20m8 0h88m-116 4h20m4 0h92m-116 4h116m-140 4h136m-140 4h132m-244 4h8m100 0h132m-256 4h28m20 0h40m12 0h16m8 0h132m-256 4h204m8 0h44m-256 4h200m12 0h44m-256 4h12m24 0h216m-204 4h28m4 0h64m4 0h104m-192 4h4m28 0h48m12 0h28m8 0h60m-132 4h24m16 0h24m8 0h60m-112 4h4m20 0h20m4 0h64m-84 4h84m-84 4h88m-84 4h80m-76 4h68m-64 4h60m-56 4h52m-52 4h52m-52 4h52m-52 4h52m-56 4h52m-52 4h40m-44 4h44m-48 4h52m-76 4h8m12 0h60m-84 4h56m16 0h16m-88 4h56m20 0h8m-88 4h56m-56 4h52m-36 4h32m-28 4h24m-24 4h24m-28 4h32m-40 4h40m-48 4h28m4 0h8m-44 4h28m-28 4h32m-36 4h36m-40 4h44m-48 4h48m-48 4h44m-48 4h20m-20 4h16m-44 4h40m-44 4h44m-52 4h52m-52 4h52m1380 0h12m-1504 4h4m52 0h56m1340 0h12m28 0h16m-1516 4h20m36 0h64m1336 0h20m24 0h20m-1528 4h128m1336 0h20m28 0h16m-1528 4h80m32 0h12m1336 0h24m28 0h16m-1528 4h80m1360 0h88m-1528 4h48m16 0h12m1364 0h88m-1528 4h44m1400 0h84m-1528 4h48m1396 0h84m-1528 4h12m12 0h20m1400 0h28m4 0h52m-1528 4h12m24 0h4m32 0h12m1360 0h20m16 0h48m-1528 4h12m60 0h12m1344 0h28m24 0h48m-1528 4h8m68 0h4m1340 0h36m16 0h36m4 0h16m-1528 4h8m1404 0h40m16 0h56m-116 4h44m16 0h52m-120 4h52m20 0h48m-124 4h28m8 0h20m16 0h56m-136 4h36m12 0h16m16 0h32m4 0h24m-1132 4h8m984 0h36m12 0h20m8 0h36m4 0h24m-1136 4h12m984 0h40m8 0h20m8 0h64m-1132 4h8m984 0h40m40 0h60m-144 4h44m40 0h60m-152 4h56m36 0h60m-156 4h32m12 0h20m48 0h8m4 0h32m-932 4h12m760 0h36m12 0h24m44 0h8m4 0h32m-936 4h16m760 0h36m16 0h24m36 0h48m-936 4h12m760 0h40m16 0h20m36 0h52m-168 4h44m16 0h16m40 0h52m-172 4h56m4 0h16m40 0h56m-176 4h80m40 0h12m8 0h36m-176 4h84m32 0h12m12 0h36m-948 4h4m768 0h84m32 0h12m12 0h36m-952 4h12m764 0h84m32 0h60m-948 4h4m768 0h88m28 0h60m-176 4h88m28 0h60m-176 4h88m8 0h80m-948 4h8m768 0h84m8 0h80m-992 4h4m28 0h24m764 0h84m12 0h76m-992 4h8m28 0h24m764 0h4m4 0h68m28 0h64m-1024 4h8m68 0h12m776 0h68m12 0h8m12 0h60m-1024 4h8m72 0h4m776 0h96m4 0h64m-1024 4h8m852 0h164m-164 4h164m-1008 4h8m840 0h160m-1144 4h8m120 0h20m836 0h160m-1024 4h28m840 0h156m-1024 4h28m840 0h156m-1012 4h20m836 0h120m8 0h28m-1012 4h24m832 0h120m8 0h28m-1012 4h24m24 0h12m796 0h12m8 0h100m4 0h32m-1528 4h4m512 0h28m24 0h12m812 0h136m-1528 4h4m512 0h28m28 0h20m800 0h136m-1528 4h4m436 0h16m64 0h28m24 0h20m796 0h140m-1528 4h4m436 0h16m80 0h12m24 0h20m792 0h144m-1528 4h4m436 0h16m84 0h8m28 0h12m796 0h144m-1528 4h8m440 0h8m124 0h8m792 0h148m-1524 4h4m1372 0h148m-1524 4h4m540 0h12m820 0h144m-1520 4h8m536 0h12m828 0h132m-1512 4h4m540 0h4m836 0h124m-1508 4h8m1380 0h120m-1508 4h8m1388 0h112m-1508 4h12m1384 0h112m-1508 4h12m1388 0h112m-1512 4h12m1392 0h108m-1512 4h12m1400 0h108m-1520 4h12m1408 0h20m8 0h72m-1520 4h12m1408 0h20m12 0h68m-1520 4h20m1400 0h16m16 0h68m-1520 4h20m1400 0h20m8 0h72m-1520 4h20m1400 0h100m-1516 4h12m1396 0h108m-1516 4h8m1392 0h28m16 0h72m-1516 4h12m1388 0h28m16 0h72m-1516 4h12m152 0h12m1224 0h28m16 0h72m-1516 4h16m52 0h8m84 0h20m1220 0h28m12 0h76m-1516 4h32m36 0h12m76 0h40m1212 0h108m-1516 4h36m32 0h16m4 0h8m56 0h44m1216 0h104m-1516 4h36m32 0h28m36 0h64m1216 0h104m-1516 4h40m12 0h20m4 0h24m32 0h64m1216 0h104m-1512 4h104m20 0h72m1212 0h104m-1512 4h108m8 0h96m1196 0h104m-1512 4h216m1192 0h104m-1512 4h216m24 0h16m1148 0h40m4 0h64m-1512 4h228m12 0h16m1148 0h36m16 0h56m-1512 4h256m1144 0h44m20 0h48m-1512 4h256m1136 0h52m20 0h48m-1508 4h252m1120 0h72m12 0h52m-1492 4h28m4 0h44m12 0h84m4 0h60m1116 0h140m-1484 4h12m20 0h32m20 0h40m28 0h12m8 0h68m56 0h16m1032 0h140m-1448 4h28m20 0h16m52 0h92m44 0h24m1036 0h124m-1424 4h12m24 0h12m56 0h92m44 0h24m1040 0h96m4 0h20m-1384 4h4m60 0h92m40 0h28m1040 0h92m12 0h12m-1460 4h4m156 0h76m40 0h32m1036 0h88m16 0h12m12 0h4m-1480 4h12m120 0h8m32 0h72m28 0h40m1028 0h96m40 0h4m-1480 4h12m116 0h12m40 0h72m20 0h16m1036 0h108m40 0h8m-1356 4h16m40 0h72m20 0h16m1032 0h112m40 0h8m-1420 4h12m48 0h24m24 0h84m20 0h16m1032 0h72m80 0h8m-1420 4h12m44 0h32m20 0h84m24 0h8m1036 0h72m-1332 4h8m48 0h32m20 0h84m804 0h16m224 0h12m12 0h52m8 0h8m-1332 4h12m48 0h32m24 0h80m732 0h104m204 0h20m8 0h48m-1312 4h8m52 0h12m12 0h4m28 0h80m712 0h88m20 0h28m172 0h92m-1304 4h4m52 0h12m44 0h76m680 0h52m104 0h36m52 0h20m76 0h96m-1248 4h8m52 0h40m8 0h16m684 0h48m124 0h112m32 0h8m20 0h80m-1232 4h8m56 0h24m24 0h4m472 0h8m196 0h24m16 0h12m160 0h136m12 0h76m-1188 4h12m8 0h20m492 0h40m164 0h32m260 0h160m-1192 4h40m492 0h52m152 0h32m264 0h12m4 0h140m-1192 4h44m492 0h12m12 0h32m144 0h32m292 0h132m-1260 4h8m60 0h44m488 0h16m16 0h32m140 0h28m300 0h132m-1264 4h12m56 0h48m476 0h20m36 0h24m128 0h28m312 0h28m4 0h100m-1300 4h4m24 0h12m12 0h12m24 0h40m488 0h24m36 0h28m120 0h28m320 0h20m12 0h80m4 0h12m-1300 4h4m24 0h12m16 0h8m20 0h40m488 0h20m44 0h28m120 0h28m320 0h20m12 0h76m12 0h8m-1272 4h8m48 0h40m488 0h12m64 0h20m116 0h28m320 0h16m24 0h16m4 0h44m-1192 4h16m8 0h16m488 0h12m68 0h24m108 0h28m324 0h12m28 0h52m-1184 4h16m8 0h12m492 0h12m72 0h28m100 0h28m368 0h48m-1184 4h36m492 0h12m76 0h32m88 0h32m368 0h20m12 0h16m12 0h8m-1204 4h36m488 0h16m76 0h52m20 0h4m44 0h28m348 0h8m16 0h20m12 0h16m8 0h16m-1204 4h32m484 0h16m88 0h48m8 0h36m20 0h28m344 0h16m28 0h32m4 0h20m-1204 4h32m484 0h16m100 0h80m20 0h20m356 0h8m40 0h44m-1200 4h28m484 0h20m108 0h72m20 0h16m412 0h36m-1196 4h28m484 0h20m108 0h108m-748 4h28m484 0h16m116 0h104m-744 4h24m480 0h20m108 0h112m-740 4h20m480 0h24m100 0h116m-736 4h16m476 0h28m100 0h112m-732 4h20m468 0h36m100 0h92m8 0h4m-732 4h20m468 0h44m64 0h12m28 0h88m-724 4h20m452 0h60m36 0h12m12 0h16m40 0h76m-724 4h20m444 0h72m28 0h48m40 0h72m-728 4h24m436 0h84m24 0h56m32 0h68m-724 4h24m432 0h180m16 0h36m4 0h32m-720 4h20m428 0h40m8 0h184m12 0h24m-712 4h12m432 0h40m8 0h180m20 0h16m-708 4h12m428 0h48m4 0h180m20 0h16m-708 4h12m424 0h52m12 0h24m32 0h120m16 0h20m-712 4h12m424 0h52m16 0h12m60 0h140m-716 4h16m420 0h28m4 0h20m88 0h120m4 0h12m-716 4h20m420 0h28m4 0h20m84 0h120m-696 4h20m420 0h28m12 0h8m88 0h104m4 0h12m-696 4h20m424 0h20m112 0h72m12 0h4m24 0h8m-696 4h24m420 0h20m116 0h68m40 0h4m-692 4h24m420 0h24m128 0h64m-660 4h24m424 0h24m128 0h68m-668 4h20m432 0h20m136 0h64m12 0h8m-692 4h20m440 0h8m152 0h72m-692 4h20m604 0h68"/>
<path stroke="#9be006" d="M623 298h68m-68 4h68m-68 4h72m-76 4h76m-80 4h80m-84 4h84m-88 4h88m-92 4h96m-100 4h100m-100 4h100m-100 4h8m12 0h52m20 0h8m-80 4h48m-52 4h56m-56 4h60m4 0h16m-80 4h84m-84 4h84m-84 4h84m-84 4h84m-88 4h88m-100 4h100m-108 4h112m-112 4h112m-112 4h108m-112 4h12m8 0h88m-108 4h12m8 0h84m-104 4h36m4 0h60m-100 4h36m4 0h56m-96 4h96m-100 4h100m-100 4h96m-96 4h96m-100 4h100m-104 4h108m-132 4h140m-144 4h124m16 0h8m-148 4h120m-120 4h120m-120 4h136m-140 4h140m-140 4h140m-140 4h76m8 0h56m-140 4h76m12 0h52m-140 4h48m12 0h20m4 0h56m-140 4h48m16 0h72m-136 4h48m20 0h68m-136 4h48m20 0h64m-132 4h48m24 0h56m-132 4h44m36 0h52m-128 4h32m44 0h52m-128 4h28m52 0h52m-132 4h28m52 0h64m-140 4h24m52 0h8m4 0h52m-144 4h32m48 0h8m8 0h48m-144 4h36m44 0h8m8 0h48m-144 4h36m44 0h68m-148 4h56m20 0h72m-144 4h56m8 0h80m-124 4h36m4 0h96m-132 4h132m-132 4h136m-136 4h140m-132 4h136m-120 4h120m-116 4h120m-120 4h120m-120 4h120m-120 4h120m-124 4h120m-120 4h28m16 0h72m-116 4h28m16 0h64m-104 4h20m20 0h64m-100 4h16m16 0h64m-92 4h8m20 0h64m-64 4h64m-68 4h72m-76 4h80m-80 4h84m-84 4h8m8 0h72m-72 4h64m-64 4h64m-68 4h20m8 0h36m-64 4h16m16 0h32m-64 4h16m16 0h28m-56 4h8m24 0h24m-24 4h16m16 20h16m-20 4h20m-12 4h8m-24 16h12m-12 4h8m0 352h8m-12 4h12m-8 4h8m-48 4h8m-8 4h4m24 24h8m-12 4h12m-200 4h24m-36 4h48m28 0h4m64 0h4m-148 4h60m4 0h28m48 0h12m28 0h8m-188 4h24m16 0h76m24 0h16m24 0h8m-140 4h88m4 0h20m20 0h4m-92 4h72m-60 4h60m-48 4h52m-48 4h52m-48 4h52m-56 4h60m-60 4h60m-60 4h60m-56 4h56m-52 4h48m-48 4h48m-48 4h44m-60 4h8m8 0h40m-60 4h16m4 0h16m8 0h12m-56 4h32m-32 4h32m-36 4h32m-28 4h28m-28 4h44m-44 4h48m-52 4h52m-52 4h48m-52 4h44m-44 4h36m-32 4h28m-28 4h28m-24 4h20m-40 4h36m-40 4h36m-120 4h28m56 0h36m-120 4h36m44 0h36m-116 4h44m28 0h44m-116 4h88m-88 4h84m-84 4h76m-76 4h76m-76 4h16m4 0h52m-72 4h8m20 0h36m1408 28h4m-12 4h16m-24 4h24m-24 4h16m-20 4h16m-16 4h16m-16 4h20m-48 4h8m20 0h16m-44 4h12m16 0h16m32 0h4m-80 4h12m20 0h8m36 0h4m-76 4h8m20 0h8m-36 4h40m-40 4h40m-36 4h36m-64 4h12m20 0h48m8 0h4m-92 4h12m24 0h44m8 0h4m-92 4h16m24 0h36m-76 4h16m20 0h36m-72 4h16m16 0h40m-64 4h4m16 0h40m-40 4h40m12 0h8m-56 4h32m12 0h12m-56 4h32m12 0h12m-56 4h32m-28 4h28m-28 4h28m-28 4h8m-8 4h8m-8 4h12m-16 4h28m-28 4h12m8 0h12m-8 4h4m-1464 64h4m-4 4h4m-4 4h4m-4 4h8m-8 4h8m-8 4h8m-4 4h4m-4 4h4m-4 4h4m-4 4h4m-4 4h4m-4 4h4m-4 4h4m-4 4h4m-4 4h4m-4 4h8m-8 4h8m-4 4h4m-4 4h4m-4 4h4m-8 4h8m-8 4h8m-8 4h8m-4 4h4m-4 4h8m-8 4h8m-8 4h8m-8 4h8m1444 0h4m-1456 4h8m1440 0h16m-1464 4h8m1444 0h20m-1472 4h8m1444 0h20m-1472 4h12m1444 0h12m-1468 4h28m28 0h4m44 0h12m84 0h4m-204 4h36m12 0h20m32 0h20m40 0h28m12 0h8m-204 4h68m28 0h20m16 0h52m1320 0h12m-1516 4h80m12 0h24m12 0h56m1296 0h4m20 0h12m-1516 4h120m4 0h60m1292 0h12m12 0h16m-1516 4h40m4 0h156m1272 0h16m12 0h12m-1508 4h32m12 0h120m8 0h32m1264 0h40m-1496 4h20m12 0h116m12 0h40m1252 0h40m-1484 4h136m16 0h40m1252 0h40m-1480 4h68m12 0h48m24 0h24m1224 0h80m-1480 4h68m12 0h44m32 0h20m1224 0h88m-1484 4h64m8 0h48m32 0h20m1204 0h8m8 0h92m-1480 4h56m12 0h48m32 0h24m1196 0h112m-1480 4h56m8 0h52m12 0h12m4 0h28m880 0h20m292 0h60m12 0h44m-1484 4h64m4 0h52m12 0h44m808 0h104m280 0h60m28 0h12m-1468 4h120m8 0h52m796 0h48m8 0h68m252 0h72m-1428 4h124m8 0h56m752 0h16m12 0h56m36 0h8m20 0h40m224 0h76m-1424 4h160m12 0h8m748 0h52m12 0h16m88 0h92m160 0h68m8 0h4m-1428 4h156m768 0h52m144 0h68m12 0h4m140 0h72m8 0h4m-1424 4h148m548 0h12m208 0h28m184 0h80m132 0h72m-1408 4h76m8 0h60m548 0h16m200 0h24m204 0h72m132 0h68m-1404 4h72m12 0h56m544 0h36m180 0h24m240 0h48m28 0h4m100 0h60m-1400 4h40m4 0h24m12 0h12m12 0h24m552 0h36m176 0h24m256 0h40m20 0h12m80 0h4m12 0h60m-1388 4h28m4 0h24m12 0h16m8 0h20m548 0h44m176 0h12m276 0h32m20 0h12m76 0h12m8 0h44m-1364 4h48m8 0h48m540 0h64m164 0h12m272 0h36m16 0h24m16 0h4m44 0h64m-1396 4h4m32 0h104m540 0h68m160 0h16m268 0h40m12 0h28m52 0h72m-1396 4h8m44 0h88m540 0h72m156 0h20m264 0h84m48 0h68m-1388 4h4m52 0h80m540 0h76m152 0h24m268 0h76m20 0h12m16 0h12m8 0h40m-1324 4h80m540 0h16m20 0h40m148 0h24m276 0h48m8 0h16m20 0h12m16 0h8m16 0h32m-1324 4h88m532 0h20m20 0h48m140 0h24m280 0h40m16 0h28m32 0h4m20 0h28m-1320 4h88m532 0h20m24 0h56m120 0h32m288 0h36m8 0h40m44 0h28m-1320 4h92m532 0h24m16 0h68m108 0h36m296 0h80m36 0h32m-1320 4h92m532 0h28m12 0h68m108 0h40m300 0h140m-1304 4h76m528 0h116m104 0h40m304 0h48m4 0h80m-1296 4h76m524 0h108m112 0h44m304 0h44m4 0h72m-1320 4h8m24 0h80m524 0h100m116 0h44m308 0h40m8 0h60m-1308 4h4m32 0h76m520 0h100m112 0h44m320 0h100m-1264 4h68m524 0h100m92 0h8m4 0h40m348 0h76m-1256 4h60m532 0h64m12 0h28m88 0h44m408 0h12m-1244 4h56m532 0h36m12 0h12m16 0h40m76 0h44m-820 4h52m536 0h28m48 0h40m72 0h48m-820 4h44m544 0h24m56 0h32m68 0h56m-816 4h36m636 0h16m36 0h4m32 0h56m-808 4h32m680 0h12m24 0h64m-808 4h32m672 0h20m16 0h64m-792 4h20m672 0h20m16 0h52m-780 4h20m676 0h16m20 0h44m-776 4h20m716 0h12m12 0h8m-764 4h16m696 0h4m12 0h20m4 0h12m-764 4h12m696 0h56m-764 4h12m680 0h4m12 0h56m-768 4h16m648 0h12m4 0h24m8 0h56m-768 4h16m648 0h40m4 0h60m-772 4h20m660 0h88m-776 4h28m668 0h80m-784 4h36m672 0h12m8 0h56m-784 4h36m692 0h56m-784 4h36m692 0h56"/>
<path stroke="#afe605" d="M599 390h8m-8 4h8m16 4h4m-4 4h4m-8 56h8m-8 4h12m-40 4h12m20 0h4m-36 4h16m-16 4h20m-20 4h20m-20 4h24m-32 4h36m-44 4h44m-48 4h52m-52 4h52m-52 4h52m8 0h4m-60 4h48m8 0h8m-60 4h44m8 0h8m-60 4h44m-24 4h20m-16 4h8m-8 4h4m-96 568h16m-40 4h48m-48 4h92m-92 4h104m-96 4h8m12 0h88m-76 4h36m12 0h32m-60 4h12m16 0h36m-36 4h32m-32 4h32m-32 4h32m-28 4h32m-32 4h36m-36 4h36m-36 4h36m-36 4h20m8 0h8m-36 4h16m16 0h4m-40 4h20m-28 4h28m-36 4h32m-36 4h40m-44 4h44m-48 4h48m-52 4h48m-60 4h60m-64 4h60m-60 4h60m-100 4h12m12 0h4m12 0h64m-104 4h104m-104 4h108m-108 4h88m-88 4h84m-56 4h56m-48 4h44m-36 4h28m-72 264h4m-4 4h4m-4 4h4m-4 4h4m-4 4h4m-4 4h4m-4 4h4m-4 4h4m-4 4h4m0 12h4m-4 4h4m-4 4h4m-4 16h4m-4 4h4m-4 4h4m-4 4h4m-4 4h4m-4 4h4m-4 4h4m-4 4h4m-4 4h4m-4 4h4m-4 4h4m-4 4h8m-8 4h8m-4 4h4m-4 4h4m-4 4h8m-8 4h20m-20 4h28m-28 4h32m-28 4h28m-28 4h32m-28 4h32m-28 4h28m1424 0h12m-1460 4h20m1428 0h28m12 0h16m-1504 4h20m1024 0h8m392 0h60m-1504 4h16m1024 0h36m8 0h20m340 0h60m-1508 4h24m980 0h12m16 0h88m320 0h8m4 0h56m-1508 4h24m976 0h144m296 0h8m4 0h56m-1508 4h28m944 0h72m32 0h80m284 0h48m12 0h8m-1508 4h32m932 0h64m80 0h60m272 0h36m-1480 4h40m924 0h48m120 0h72m240 0h36m-1480 4h44m916 0h28m12 0h12m132 0h72m228 0h36m-1480 4h56m892 0h36m20 0h8m148 0h64m204 0h52m-1480 4h64m884 0h36m20 0h8m172 0h36m204 0h56m-1480 4h28m4 0h32m888 0h32m20 0h8m184 0h24m204 0h52m-1476 4h28m8 0h44m876 0h32m12 0h12m188 0h20m200 0h48m-1468 4h32m4 0h52m872 0h28m12 0h12m192 0h24m184 0h52m-1464 4h88m636 0h20m212 0h32m12 0h12m196 0h24m176 0h52m-1460 4h84m640 0h20m212 0h32m16 0h8m200 0h24m168 0h56m-1456 4h80m640 0h24m208 0h64m200 0h24m156 0h60m-1456 4h76m648 0h16m212 0h68m200 0h28m148 0h60m-1456 4h76m652 0h12m216 0h68m200 0h32m140 0h60m-1456 4h92m864 0h64m208 0h32m48 0h4m80 0h56m-1448 4h96m864 0h60m212 0h32m44 0h4m72 0h56m-1440 4h64m8 0h24m864 0h60m216 0h32m40 0h8m60 0h56m-1432 4h68m4 0h32m852 0h64m220 0h36m100 0h56m-1436 4h116m836 0h80m212 0h56m76 0h56m-1432 4h120m828 0h88m212 0h16m4 0h88m12 0h48m-1420 4h128m824 0h92m212 0h8m20 0h128m-1412 4h132m824 0h88m264 0h92m-1396 4h132m824 0h72m284 0h8m16 0h44m-1380 4h140m816 0h40m20 0h8m312 0h36m-1372 4h148m812 0h36m24 0h4m-1024 4h152m804 0h44m-996 4h160m780 0h56m-996 4h12m12 0h136m776 0h64m-1004 4h12m24 0h40m8 0h80m748 0h12m8 0h68m-1000 4h12m20 0h136m748 0h4m12 0h60m-988 4h8m20 0h136m764 0h44m-944 4h136m764 0h40m-940 4h132m768 0h40m-940 4h132m768 0h40m-972 4h12m12 0h136m768 0h44m-976 4h36m8 0h60m12 0h40m776 0h32m-964 4h36m12 0h56m12 0h32m784 0h32m-964 4h36m28 0h44m12 0h8m8 0h12m784 0h28m-956 4h32m28 0h44m28 0h12m784 0h28"/>
<path stroke="#c3ec04" d="M487 1110h8m8 0h12m-28 4h40m36 0h12m-88 4h60m12 0h16m-88 4h88m-88 4h12m12 0h64m-88 4h8m24 0h56m-88 4h4m32 0h56m-52 4h52m-48 4h48m-40 4h40m-40 4h40m-48 4h48m-48 4h44m-40 4h32m-28 4h20m-40 4h36m-68 4h8m20 0h36m-64 4h8m20 0h32m-60 4h4m20 0h32m-56 4h8m8 0h28m-44 4h40m-40 4h40m-28 4h12m4 0h12m-40 328h4m-4 4h4m-4 4h4m-4 4h4m-4 4h4m-4 4h4m-4 4h4m-4 4h4m-4 4h4m-4 4h4m-4 12h4m-4 4h4m-4 4h4m-4 4h4m-4 4h4m-4 4h4m-4 4h4m-4 4h4m0 8h4m-4 4h4m-4 4h4m-4 4h4m-4 4h4m-4 4h4m-4 4h8m-8 4h8m-4 4h8m-8 4h12m-8 4h12m-12 4h12m-12 4h12m-12 4h8m-8 4h8m-8 4h8m1044 0h32m412 0h12m-1512 4h12m1028 0h80m368 0h32m-1520 4h8m1012 0h120m348 0h32m-1520 4h8m988 0h12m12 0h64m4 0h12m12 0h40m336 0h32m-1520 4h8m984 0h20m8 0h36m60 0h52m320 0h32m-1520 4h8m984 0h20m8 0h32m68 0h72m296 0h32m-1520 4h8m984 0h20m8 0h32m72 0h80m280 0h36m-1520 4h8m988 0h12m12 0h32m76 0h4m12 0h64m268 0h44m-1520 4h8m988 0h12m12 0h28m120 0h44m260 0h48m-1520 4h8m988 0h12m12 0h28m124 0h44m252 0h52m-1520 4h8m988 0h16m8 0h32m124 0h44m248 0h52m-1520 4h12m1016 0h32m120 0h48m240 0h52m-1520 4h12m1020 0h32m120 0h48m236 0h52m-1520 4h12m1024 0h28m140 0h32m232 0h52m-1520 4h12m1020 0h32m144 0h32m220 0h60m-1520 4h12m1020 0h32m148 0h4m4 0h24m208 0h68m-1520 4h12m1020 0h32m156 0h28m196 0h76m-1520 4h12m1020 0h28m160 0h32m192 0h76m-1520 4h8m1032 0h24m160 0h28m188 0h68m-1512 4h12m1036 0h20m160 0h32m16 0h4m148 0h76m-1504 4h8m1044 0h16m164 0h32m8 0h20m128 0h84m-1504 4h8m1044 0h16m164 0h84m92 0h92m-1500 4h12m1028 0h28m164 0h92m8 0h16m44 0h88m12 0h8m-1496 4h8m996 0h20m8 0h32m164 0h116m36 0h96m16 0h8m-1500 4h8m996 0h24m4 0h36m164 0h228m4 0h12m20 0h8m-1504 4h8m1000 0h76m148 0h48m8 0h148m4 0h20m8 0h4m24 0h8m-1504 4h12m996 0h72m168 0h4m16 0h12m8 0h172m-1464 4h16m12 0h12m976 0h64m212 0h16m16 0h136m-1460 4h12m12 0h24m40 0h8m916 0h64m212 0h20m28 0h80m-1416 4h12m12 0h20m960 0h60m224 0h24m28 0h72m-1408 4h12m8 0h20m944 0h72m228 0h24m32 0h56m-1396 4h40m940 0h72m236 0h16m44 0h20m-1368 4h40m940 0h72m240 0h8m-1300 4h40m940 0h72m-1056 4h12m12 0h12m948 0h40m20 0h8m-1052 4h8m36 0h8m60 0h12m848 0h52m-1024 4h8m36 0h12m56 0h12m848 0h52m-1024 4h8m36 0h28m44 0h12m8 0h8m824 0h52m-1020 4h12m32 0h28m44 0h28m824 0h24"/>
<path stroke="#d7f202" d="M499 1126h12m-16 4h24m-28 4h32m-36 4h40m-40 4h44m-44 4h52m-52 4h52m-48 4h40m-44 4h44m-44 4h48m-48 4h52m-52 4h32m-24 4h20m-20 4h20m-24 4h20m-16 4h8m-16 380h4m-4 4h4m-4 36h4m-4 4h4m-4 4h4m-4 4h4m-4 4h4m-4 4h4m-4 4h4m-4 4h4m-4 4h4m0 4h4m-4 4h4m-4 4h8m-8 4h8m-8 4h8m-8 4h8m-8 4h8m-8 4h8m-8 4h4m-8 4h8m-8 4h8m1084 0h4m12 0h12m-1120 4h8m1056 0h60m-1124 4h8m1052 0h68m-1128 4h8m1052 0h72m-1128 4h4m1052 0h76m4 0h12m-1148 4h4m1048 0h120m-1176 4h8m1048 0h32m8 0h84m-1180 4h8m1052 0h124m-1184 4h8m1060 0h52m12 0h56m-1188 4h8m1064 0h48m12 0h60m-1188 4h4m1064 0h48m8 0h84m-1208 4h4m1064 0h20m4 0h24m8 0h28m12 0h48m-1216 4h8m1064 0h32m20 0h32m12 0h52m4 0h4m-1228 4h8m1064 0h32m20 0h32m4 0h68m-1228 4h8m1060 0h36m20 0h8m20 0h76m-1228 4h8m1064 0h36m16 0h8m44 0h56m284 0h12m-1528 4h4m1068 0h36m8 0h24m40 0h52m276 0h20m-1528 4h4m1068 0h76m32 0h56m272 0h20m-1528 4h4m1068 0h72m44 0h20m8 0h20m268 0h24m-1528 4h4m1068 0h68m52 0h12m16 0h16m248 0h12m8 0h24m-1528 4h8m1064 0h68m60 0h4m20 0h12m248 0h16m8 0h20m-1524 4h4m1068 0h60m92 0h12m228 0h4m12 0h20m8 0h16m-1524 4h4m1084 0h40m92 0h16m48 0h8m148 0h4m20 0h8m4 0h24m8 0h16m-1528 4h8m1080 0h36m100 0h32m4 0h16m12 0h8m172 0h60m-1528 4h4m1080 0h36m104 0h72m16 0h16m136 0h64m-1528 4h4m1076 0h36m108 0h68m20 0h28m80 0h108m-1528 4h4m1064 0h44m128 0h52m24 0h28m72 0h64m8 0h40m-1528 4h8m1056 0h44m132 0h52m24 0h32m56 0h72m12 0h40m-1528 4h8m1052 0h48m136 0h52m16 0h44m20 0h76m24 0h52m-1528 4h8m1052 0h48m140 0h52m8 0h120m12 0h4m32 0h12m12 0h28m-1528 4h8m1052 0h44m164 0h156m88 0h16m-1528 4h4m1024 0h20m8 0h40m180 0h132m4 0h8m96 0h12m-1528 4h4m1024 0h60m184 0h132m-1404 4h4m1024 0h56m184 0h120m-1388 4h4m1020 0h60m180 0h52m24 0h44m-1384 4h4m992 0h84m184 0h48m32 0h36m128 0h4"/>
<path stroke="#ebf901" d="M487 1154h4m-4 488h4m-4 4h4m-4 4h4m-4 4h4m-4 4h4m-4 4h4m-4 4h4m-4 4h4m-4 4h4m-4 24h4m-4 4h4m1084 4h8m24 8h12m-12 4h12m-1132 4h4m1116 0h8m-1128 4h4m1088 0h4m24 0h8m28 0h12m-64 4h20m32 0h12m-64 4h20m32 0h4m-56 4h20m8 0h20m-44 4h16m8 0h44m-68 4h8m24 0h40m-32 4h32m-36 4h44m20 0h8m-76 4h52m12 0h16m-80 4h60m4 0h20m-1224 4h4m1132 0h92m-1228 4h4m1128 0h92m-100 4h100m-104 4h36m12 0h20m4 0h32m-108 4h36m24 0h4m20 0h24m-112 4h40m48 0h40m240 0h8m-380 4h44m48 0h40m236 0h12m-380 4h44m48 0h44m208 0h24m-368 4h44m52 0h44m180 0h12m4 0h32m12 0h12m-396 4h44m68 0h52m156 0h88m-416 4h52m68 0h60m132 0h4m8 0h96m-428 4h56m68 0h60m132 0h124m-444 4h52m76 0h56m120 0h140m-444 4h44m84 0h52m52 0h24m44 0h144m-448 4h48m88 0h20m4 0h24m48 0h32m36 0h128m4 0h12"/>
<path stroke="#ffff00" d="M1643 1778h12m20 0h4m-40 4h24m4 0h20m-48 4h48m-48 4h48m-48 4h48m-48 4h52m-56 4h24m4 0h40m-68 4h24m4 0h40m-72 4h68m-76 4h76m-84 4h84m-84 4h88m20 0h4m284 0h4"/>
<path stroke="#fff600" d="M1659 1802h4m-4 4h4"/>
</g>
<path d="M498.8 292.7C500.2 295.8 504.2 305.7 506.9 311.5C509.6 317.4 511.4 323.9 515.0 327.7C518.6 331.5 525.5 331.7 528.4 334.4C531.4 337.1 532.9 339.6 532.5 343.8C532.0 348.1 527.3 355.5 525.8 360.0C524.2 364.5 522.2 367.2 523.1 370.7C524.0 374.3 529.3 378.1 531.1 381.5C532.9 384.9 536.5 388.2 533.8 390.9C531.1 393.6 520.8 394.3 515.0 397.7C509.2 401.0 502.7 405.7 498.8 411.1C495.0 416.5 492.6 422.3 492.1 430.0C491.7 437.6 494.6 447.9 496.1 456.9C497.7 465.8 499.7 477.5 501.5 483.8C503.3 490.1 502.0 491.9 506.9 494.6C511.8 497.2 525.3 497.7 531.1 499.9C537.0 502.2 541.0 504.9 541.9 508.0C542.8 511.2 539.2 514.7 536.5 518.8C533.8 522.8 527.1 527.8 525.8 532.2C524.4 536.7 525.3 542.8 528.4 545.7C531.6 548.6 539.7 549.3 544.6 549.7C549.5 550.2 554.9 547.3 558.1 548.4C561.2 549.5 563.9 552.9 563.4 556.5C563.0 560.0 559.0 565.4 555.4 569.9C551.8 574.4 543.9 577.5 541.9 583.4C539.9 589.2 542.4 598.6 543.3 604.9C544.1 611.2 545.0 613.9 547.3 621.1C549.5 628.2 554.9 640.1 556.7 648.0C558.5 655.8 558.1 661.9 558.1 668.2C558.1 674.4 556.3 679.6 556.7 685.7C557.2 691.7 560.1 696.9 560.7 704.5C561.4 712.1 560.3 723.3 560.7 731.4C561.2 739.5 561.6 745.3 563.4 752.9C565.2 760.6 568.8 770.0 571.5 777.2C574.2 784.3 577.5 791.4 579.6 796.0C581.7 800.6 582.4 800.7 584.2 805.0C586.0 809.3 589.8 815.6 590.4 821.5C590.9 827.4 586.8 835.9 587.7 840.4C588.6 844.9 592.1 846.7 595.7 848.4C599.3 850.2 606.1 848.9 609.2 851.1C612.3 853.4 613.5 857.4 614.6 861.9C615.7 866.4 614.6 872.2 615.9 878.1C617.3 883.9 620.2 890.6 622.7 896.9C625.1 903.2 628.0 910.8 630.7 915.7C633.4 920.7 637.5 924.7 638.8 926.5M583.6 292.7C582.7 295.8 578.5 303.9 578.2 311.5C578.0 319.2 581.4 329.5 582.3 338.4C583.2 347.4 583.6 355.5 583.6 365.4C583.6 375.2 581.6 388.7 582.3 397.7C583.0 406.6 585.0 410.2 587.7 419.2C590.4 428.2 594.8 440.7 598.4 451.5C602.0 462.3 606.5 473.9 609.2 483.8C611.9 493.7 611.9 501.7 614.6 510.7C617.3 519.7 622.7 528.6 625.3 537.6C628.0 546.6 629.2 556.5 630.7 564.5C632.3 572.6 632.5 579.3 634.8 586.1C637.0 592.8 640.4 597.7 644.2 604.9C648.0 612.1 653.6 619.7 657.6 629.1C661.7 638.6 664.8 651.6 668.4 661.4C672.0 671.3 675.1 679.4 679.2 688.3C683.2 697.3 687.7 707.2 692.6 715.3C697.6 723.3 704.3 728.7 708.8 736.8C713.3 744.9 716.0 755.6 719.5 763.7C723.1 771.8 725.4 779.0 730.3 785.2C735.2 791.5 745.2 798.1 749.2 801.4C753.1 804.7 751.6 802.5 754.3 805.0C756.9 807.5 760.3 811.6 765.3 816.1C770.3 820.7 777.9 827.4 784.1 832.3C790.4 837.2 795.4 841.7 803.0 845.8C810.6 849.8 820.9 852.7 829.9 856.5C838.9 860.3 849.2 865.0 856.8 868.6C864.4 872.2 868.5 876.3 875.7 878.1C882.8 879.8 892.2 878.5 899.9 879.4C907.5 880.3 915.6 881.4 921.4 883.4C927.2 885.5 929.5 888.8 934.9 891.5C940.2 894.2 947.4 896.4 953.7 899.6C960.0 902.7 964.8 907.4 972.5 910.4C980.3 913.3 990.9 916.2 1000.0 917.5C1009.1 918.9 1017.9 917.8 1026.9 918.4C1035.9 919.0 1044.9 918.9 1053.8 921.1C1062.8 923.4 1070.9 929.2 1080.7 931.9C1090.6 934.6 1103.2 935.0 1113.0 937.3C1122.9 939.5 1132.8 942.4 1140.0 945.3C1147.1 948.3 1148.0 952.1 1156.1 954.8C1164.2 957.5 1179.0 958.6 1188.4 961.5C1197.8 964.4 1206.3 969.1 1212.6 972.3C1218.9 975.4 1219.4 978.5 1226.1 980.3C1232.8 982.1 1246.7 984.1 1253.0 983.0C1259.3 981.9 1258.8 974.9 1263.8 973.6C1268.7 972.3 1278.1 972.9 1282.6 974.9C1287.1 977.0 1288.0 982.1 1290.7 985.7C1293.4 989.3 1295.2 994.9 1298.8 996.5C1302.3 998.1 1307.3 994.0 1312.2 995.1C1317.1 996.3 1323.0 1001.4 1328.4 1003.2C1333.7 1005.0 1341.8 1005.5 1344.5 1005.9M654.9 292.7C655.2 295.8 654.5 301.7 656.3 311.5C658.1 321.4 662.8 338.9 665.7 351.9C668.6 364.9 670.2 377.5 673.8 389.6C677.4 401.7 682.3 412.5 687.2 424.6C692.2 436.7 697.6 449.2 703.4 462.3C709.2 475.3 716.9 491.4 722.2 502.6C727.6 513.8 731.2 521.0 735.7 529.5C740.2 538.1 743.3 545.2 749.2 553.8C755.0 562.3 763.5 571.7 770.7 580.7C777.9 589.7 785.9 599.1 792.2 607.6C798.5 616.1 800.7 623.3 808.4 631.8C816.0 640.3 828.6 651.3 838.0 658.7C847.4 666.1 854.6 670.0 864.9 676.2C875.2 682.5 887.8 689.0 899.9 696.4C912.0 703.8 924.5 712.6 937.6 720.6C950.6 728.7 967.5 737.9 977.9 744.9C988.3 751.8 991.8 756.9 1000.0 762.3C1008.2 767.6 1017.9 771.5 1026.9 777.2C1035.9 782.8 1047.4 791.4 1053.8 796.0C1060.3 800.6 1062.6 802.5 1065.8 805.0C1068.9 807.5 1068.8 807.6 1072.7 810.8C1076.5 814.0 1083.0 820.6 1088.8 824.2C1094.7 827.8 1102.3 829.6 1107.7 832.3C1113.0 835.0 1116.6 837.2 1121.1 840.4C1125.6 843.5 1128.7 848.0 1134.6 851.1C1140.4 854.3 1148.0 856.5 1156.1 859.2C1164.2 861.9 1174.9 864.1 1183.0 867.3C1191.1 870.4 1196.9 874.5 1204.6 878.1C1212.2 881.6 1221.6 885.7 1228.8 888.8C1236.0 892.0 1242.2 895.0 1247.6 896.9C1253.0 898.8 1257.5 901.0 1261.1 900.1C1264.7 899.2 1265.6 893.2 1269.2 891.5C1272.7 889.9 1277.7 890.2 1282.6 890.2C1287.5 890.2 1294.3 889.9 1298.8 891.5C1303.2 893.1 1306.4 896.9 1309.5 899.6C1312.7 902.3 1315.1 904.5 1317.6 907.7C1320.1 910.8 1321.6 917.8 1324.3 918.4C1327.0 919.1 1330.4 913.0 1333.7 911.7C1337.1 910.4 1341.4 909.7 1344.5 910.4C1347.7 911.0 1350.3 913.5 1352.6 915.7C1354.8 918.0 1356.6 921.1 1358.0 923.8C1359.3 926.5 1358.4 930.1 1360.7 931.9C1362.9 933.7 1368.7 932.3 1371.4 934.6C1374.1 936.8 1374.1 942.7 1376.8 945.3C1379.5 948.0 1383.5 948.9 1387.6 950.7C1391.6 952.5 1396.5 954.3 1401.0 956.1C1405.5 957.9 1410.5 961.5 1414.5 961.5C1418.5 961.5 1422.8 956.1 1425.3 956.1C1427.7 956.1 1428.6 958.8 1429.3 961.5C1430.0 964.2 1427.7 970.0 1429.3 972.3C1430.9 974.5 1434.0 974.9 1438.7 974.9C1443.4 974.9 1449.9 972.9 1457.6 972.3C1465.2 971.6 1476.8 970.0 1484.5 970.9C1492.1 971.8 1499.1 976.7 1503.3 977.6C1507.6 978.6 1507.9 976.9 1510.0 976.7C1512.1 976.5 1511.1 976.5 1516.1 976.3C1521.2 976.1 1532.7 975.8 1540.4 975.5C1548.0 975.2 1555.2 974.3 1561.9 974.4C1568.6 974.5 1574.9 977.2 1580.7 976.3C1586.6 975.4 1592.4 969.0 1596.9 969.0C1601.4 969.0 1603.6 975.8 1607.7 976.3C1611.7 976.8 1616.6 971.8 1621.1 972.3C1625.6 972.7 1631.0 976.7 1634.6 979.0C1638.2 981.2 1640.2 986.2 1642.7 985.7C1645.1 985.3 1646.2 977.9 1649.4 976.3C1652.5 974.7 1657.2 975.2 1661.5 976.3C1665.8 977.4 1670.5 981.2 1674.9 983.0C1679.4 984.8 1683.0 985.3 1688.4 987.1C1693.8 988.9 1700.5 991.5 1707.2 993.8C1714.0 996.0 1722.9 999.8 1728.8 1000.5C1734.6 1001.2 1737.8 998.9 1742.2 997.8C1746.7 996.7 1751.2 993.8 1755.7 993.8C1760.2 993.8 1763.3 996.1 1769.2 997.8C1775.0 999.5 1784.0 1003.4 1790.7 1004.0C1797.4 1004.6 1804.1 1001.5 1809.5 1001.3C1814.9 1001.2 1818.0 1003.3 1823.0 1003.2C1827.9 1003.1 1833.3 999.6 1839.1 1000.5C1845.0 1001.4 1851.7 1006.6 1858.0 1008.6C1864.3 1010.6 1870.1 1012.5 1876.8 1012.6C1883.5 1012.8 1891.6 1010.3 1898.3 1009.4C1905.1 1008.5 1910.0 1009.2 1917.2 1007.2C1924.4 1005.3 1934.2 1000.3 1941.4 997.8C1948.6 995.4 1955.8 994.9 1960.2 992.4C1964.7 990.0 1964.7 983.7 1968.3 983.0C1971.9 982.3 1976.8 985.3 1981.8 988.4C1986.7 991.5 1992.5 997.8 1997.9 1001.9C2003.3 1005.9 2011.4 1010.8 2014.1 1012.6M729.0 292.7C730.5 296.7 735.0 307.0 738.4 316.9C741.7 326.8 745.1 340.7 749.2 351.9C753.2 363.1 758.1 374.3 762.6 384.2C767.1 394.1 771.1 401.7 776.1 411.1C781.0 420.5 785.5 431.3 792.2 440.7C798.9 450.1 808.8 459.6 816.4 467.6C824.1 475.7 830.3 481.5 838.0 489.2C845.6 496.8 854.6 504.9 862.2 513.4C869.8 521.9 877.4 534.0 883.7 540.3C890.0 546.6 890.9 544.8 899.9 551.1C908.8 557.4 929.0 569.9 937.6 578.0C946.1 586.1 944.3 593.2 951.0 599.5C957.7 605.8 969.8 611.1 977.9 615.7C986.1 620.2 996.3 624.9 1000.0 626.7M827.2 292.7C827.9 296.3 828.6 305.7 831.2 314.2C833.9 322.7 837.7 333.5 843.4 343.8C849.0 354.1 858.2 366.3 864.9 376.1C871.6 386.0 876.1 393.2 883.7 403.0C891.4 412.9 901.7 425.5 910.6 435.3C919.6 445.2 928.6 453.3 937.6 462.3C946.5 471.2 955.5 480.6 964.5 489.2C973.4 497.7 985.5 508.1 991.4 513.4C997.3 518.6 994.1 514.8 1000.0 520.7C1005.9 526.5 1017.9 540.6 1026.9 548.4C1035.9 556.1 1043.5 560.5 1053.8 567.2C1064.1 574.0 1078.5 582.7 1088.8 588.8C1099.1 594.8 1111.2 601.1 1115.7 603.6M930.8 292.7C931.5 296.3 931.1 306.6 934.9 314.2C938.7 321.8 946.5 330.4 953.7 338.4C960.9 346.5 970.2 353.9 977.9 362.7C985.6 371.5 991.8 380.9 1000.0 391.2C1008.2 401.5 1017.9 414.5 1026.9 424.6C1035.9 434.6 1044.9 442.5 1053.8 451.5C1062.8 460.5 1070.9 469.4 1080.7 478.4C1090.6 487.4 1101.4 496.8 1113.0 505.3C1124.7 513.8 1138.2 521.5 1150.7 529.5C1163.3 537.6 1177.6 548.2 1188.4 553.8C1199.2 559.4 1206.3 560.9 1215.3 563.2C1224.3 565.4 1233.3 566.6 1242.2 567.2C1251.2 567.9 1262.4 567.2 1269.2 567.2C1275.9 567.2 1278.1 565.0 1282.6 567.2C1287.1 569.5 1291.1 576.6 1296.1 580.7C1301.0 584.7 1307.7 588.3 1312.2 591.4C1316.7 594.6 1316.7 596.8 1323.0 599.5C1329.3 602.2 1340.9 605.4 1349.9 607.6C1358.9 609.8 1367.8 612.5 1376.8 613.0C1385.8 613.4 1394.8 611.0 1403.7 610.3C1412.7 609.6 1423.9 608.5 1430.6 608.9C1437.4 609.4 1437.4 610.5 1444.1 613.0C1450.8 615.4 1462.0 621.5 1471.0 623.7C1480.0 626.0 1491.4 626.1 1497.9 626.4C1504.4 626.8 1505.2 625.8 1510.0 626.1C1514.8 626.3 1519.6 626.8 1526.9 627.8C1534.2 628.7 1544.9 629.4 1553.8 631.8C1562.8 634.3 1571.8 640.3 1580.7 642.6C1589.7 644.8 1602.3 646.2 1607.7 645.3C1613.0 644.4 1611.2 639.4 1613.0 637.2C1614.8 635.0 1615.7 631.4 1618.4 631.8C1621.1 632.3 1624.3 637.4 1629.2 639.9C1634.1 642.4 1640.4 645.1 1648.0 646.6C1655.7 648.2 1666.0 648.2 1674.9 649.3C1683.9 650.4 1692.9 652.0 1701.9 653.4C1710.8 654.7 1719.8 656.0 1728.8 657.4C1737.8 658.7 1744.5 661.0 1755.7 661.4C1766.9 661.9 1784.9 660.1 1796.1 660.1C1807.3 660.1 1814.0 661.4 1823.0 661.4C1832.0 661.4 1843.2 659.2 1849.9 660.1C1856.6 661.0 1856.6 665.0 1863.4 666.8C1870.1 668.6 1881.3 670.0 1890.3 670.8C1899.2 671.7 1908.2 672.4 1917.2 672.2C1926.2 672.0 1935.1 670.6 1944.1 669.5C1953.1 668.4 1962.0 666.6 1971.0 665.5C1980.0 664.3 1990.8 663.4 1997.9 662.8C2005.1 662.1 2011.4 661.7 2014.1 661.4M537.9 777.2C538.8 778.3 543.3 781.2 543.3 783.9C543.3 786.6 539.7 790.2 537.9 793.3C536.1 796.5 533.8 799.8 532.5 802.7C531.1 805.6 530.9 808.8 529.8 810.8C528.7 812.8 527.3 814.4 525.8 814.8C524.2 815.3 521.6 814.8 520.4 813.5C519.2 812.2 518.5 809.2 518.5 806.8C518.5 804.3 519.4 801.2 520.4 798.7C521.4 796.2 522.6 794.4 524.4 792.0C526.2 789.5 528.9 786.4 531.1 783.9C533.4 781.4 536.7 778.3 537.9 777.2M486.7 763.7C487.9 767.7 491.2 781.2 493.5 787.9C495.7 794.7 498.6 801.2 500.2 804.1C501.8 806.9 502.1 801.2 503.2 805.0C504.3 808.8 505.4 817.9 506.9 826.9C508.4 836.0 510.7 848.9 512.3 859.2C513.9 869.5 515.9 879.8 516.3 888.8C516.8 897.8 513.4 905.9 515.0 913.0C516.6 920.2 522.2 927.2 525.8 931.9C529.3 936.6 534.5 938.6 536.5 941.3C538.5 944.0 539.0 945.8 537.9 948.0C536.7 950.3 532.3 951.6 529.8 954.8C527.3 957.9 524.0 962.6 523.1 966.9C522.2 971.1 522.2 976.5 524.4 980.3C526.7 984.1 533.4 987.1 536.5 989.8C539.7 992.4 542.8 993.1 543.3 996.5C543.7 999.8 538.5 1005.0 539.2 1009.9C539.9 1014.9 544.6 1021.2 547.3 1026.1C550.0 1031.0 553.6 1034.6 555.4 1039.5C557.2 1044.5 558.1 1050.3 558.1 1055.7C558.1 1061.1 554.9 1066.0 555.4 1071.8C555.8 1077.7 559.0 1084.0 560.7 1090.7C562.5 1097.4 564.3 1104.1 566.1 1112.2C567.9 1120.3 570.4 1128.4 571.5 1139.1C572.6 1149.9 572.4 1163.8 572.9 1176.8C573.3 1189.8 573.8 1206.0 574.2 1217.2C574.7 1228.4 576.0 1236.5 575.5 1244.1C575.1 1251.7 571.7 1258.0 571.5 1262.9C571.3 1267.9 572.6 1267.9 574.2 1273.7C575.8 1279.5 579.6 1291.9 580.9 1297.9C582.3 1304.0 582.4 1307.0 582.1 1310.0C581.9 1313.0 579.1 1313.8 579.6 1316.1C580.1 1318.5 583.2 1321.5 585.0 1324.2C586.8 1326.9 590.8 1329.8 590.4 1332.3C589.9 1334.8 585.4 1336.3 582.3 1339.0C579.1 1341.7 574.7 1345.1 571.5 1348.4C568.4 1351.8 564.8 1355.6 563.4 1359.2C562.1 1362.8 564.8 1367.1 563.4 1370.0C562.1 1372.9 557.6 1374.9 555.4 1376.7C553.1 1378.5 551.8 1378.3 550.0 1380.7C548.2 1383.2 545.9 1387.0 544.6 1391.5C543.3 1396.0 542.6 1401.8 541.9 1407.7C541.2 1413.5 540.1 1421.1 540.6 1426.5C541.0 1431.9 544.4 1435.9 544.6 1440.0C544.8 1444.0 541.5 1447.1 541.9 1450.7C542.4 1454.3 546.2 1458.4 547.3 1461.5C548.4 1464.6 549.3 1466.0 548.6 1469.6C548.0 1473.2 544.4 1478.1 543.3 1483.0C542.1 1488.0 541.7 1494.7 541.9 1499.2C542.1 1503.7 544.4 1505.9 544.6 1509.9C544.8 1514.0 544.1 1518.9 543.3 1523.4C542.4 1527.9 541.7 1533.3 539.2 1536.9C536.7 1540.4 532.9 1543.8 528.4 1544.9C524.0 1546.0 516.8 1543.1 512.3 1543.6C507.8 1544.0 505.1 1544.7 501.5 1547.6C497.9 1550.5 493.5 1558.6 490.8 1561.1C488.1 1563.5 486.3 1562.2 485.4 1562.4M1026.9 292.7C1026.9 294.7 1024.7 300.8 1026.9 304.8C1029.2 308.8 1032.7 310.4 1040.4 316.9C1048.0 323.4 1062.4 336.7 1072.7 343.8C1083.0 351.0 1094.7 353.3 1102.3 360.0C1109.9 366.7 1112.1 375.7 1118.4 384.2C1124.7 392.7 1132.8 403.0 1140.0 411.1C1147.1 419.2 1154.3 425.9 1161.5 432.7C1168.7 439.4 1174.9 446.1 1183.0 451.5C1191.1 456.9 1201.9 460.9 1209.9 464.9C1218.0 469.0 1223.8 472.6 1231.5 475.7C1239.1 478.9 1248.5 481.5 1255.7 483.8C1262.9 486.0 1267.8 487.8 1274.5 489.2C1281.3 490.5 1288.9 491.0 1296.1 491.9C1303.2 492.8 1311.8 492.3 1317.6 494.6C1323.4 496.8 1326.1 502.6 1331.1 505.3C1336.0 508.0 1339.6 508.5 1347.2 510.7C1354.8 512.9 1367.4 516.5 1376.8 518.8C1386.2 521.0 1394.8 522.4 1403.7 524.2C1412.7 526.0 1421.7 527.3 1430.6 529.5C1439.6 531.8 1448.6 535.4 1457.6 537.6C1466.5 539.9 1477.3 543.0 1484.5 543.0C1491.6 543.0 1497.3 540.3 1500.6 537.6C1504.0 534.9 1505.1 530.0 1504.7 526.9C1504.2 523.7 1498.6 520.8 1497.9 518.8C1497.3 516.8 1498.6 515.2 1500.6 514.7C1502.6 514.3 1507.9 515.8 1510.0 516.2C1512.1 516.7 1510.6 516.6 1513.5 517.4C1516.3 518.3 1522.4 519.5 1526.9 521.5C1531.4 523.5 1535.9 526.9 1540.4 529.5C1544.9 532.2 1549.3 534.9 1553.8 537.6C1558.3 540.3 1562.8 543.5 1567.3 545.7C1571.8 547.9 1574.0 551.1 1580.7 551.1C1587.5 551.1 1598.7 547.7 1607.7 545.7C1616.6 543.7 1625.6 540.8 1634.6 539.0C1643.5 537.2 1652.5 536.3 1661.5 534.9C1670.5 533.6 1679.4 531.8 1688.4 530.9C1697.4 530.0 1706.3 530.0 1715.3 529.5C1724.3 529.1 1731.0 528.6 1742.2 528.2C1753.5 527.8 1771.4 525.7 1782.6 526.9C1793.8 528.0 1800.6 533.4 1809.5 534.9C1818.5 536.5 1825.2 535.6 1836.4 536.3C1847.7 536.9 1861.1 538.1 1876.8 539.0C1892.5 539.9 1912.7 541.4 1930.6 541.7C1948.6 541.9 1970.6 541.0 1984.5 540.3C1998.4 539.6 2009.1 538.1 2014.1 537.6M1220.7 650.7C1226.5 652.5 1245.4 658.3 1255.7 661.4C1266.0 664.6 1273.6 666.4 1282.6 669.5C1291.6 672.6 1300.6 677.1 1309.5 680.3C1318.5 683.4 1325.2 685.7 1336.4 688.3C1347.7 691.0 1363.4 693.7 1376.8 696.4C1390.3 699.1 1403.7 701.4 1417.2 704.5C1430.6 707.6 1446.3 712.1 1457.6 715.3C1468.8 718.4 1475.7 720.9 1484.5 723.3C1493.2 725.7 1505.7 728.7 1510.0 729.7M1000.0 636.7C1004.5 640.4 1017.9 651.5 1026.9 658.7C1035.9 666.0 1043.5 673.1 1053.8 680.3C1064.1 687.4 1079.8 696.0 1088.8 701.8C1097.8 707.6 1100.0 710.8 1107.7 715.3C1115.3 719.7 1125.6 724.9 1134.6 728.7C1143.5 732.5 1152.5 735.0 1161.5 738.1C1170.5 741.3 1179.4 744.2 1188.4 747.6C1197.4 750.9 1206.3 755.2 1215.3 758.3C1224.3 761.5 1234.2 763.7 1242.2 766.4C1250.3 769.1 1257.0 771.3 1263.8 774.5C1270.5 777.6 1275.0 782.1 1282.6 785.2C1290.2 788.4 1300.6 790.6 1309.5 793.3C1318.5 796.0 1331.0 799.4 1336.4 801.4C1341.8 803.3 1341.0 804.4 1341.9 805.0M1253.0 292.7C1255.7 294.0 1262.0 298.5 1269.2 300.8C1276.3 303.0 1287.1 303.5 1296.1 306.1C1305.0 308.8 1314.0 313.8 1323.0 316.9C1332.0 320.1 1340.9 322.3 1349.9 325.0C1358.9 327.7 1367.8 331.0 1376.8 333.1C1385.8 335.1 1396.5 337.6 1403.7 337.1C1410.9 336.7 1415.4 333.7 1419.9 330.4C1424.4 327.0 1424.4 319.6 1430.6 316.9C1436.9 314.2 1448.6 315.6 1457.6 314.2C1466.5 312.9 1475.7 310.9 1484.5 308.8C1493.2 306.8 1502.9 303.7 1510.0 302.2C1517.1 300.6 1517.4 299.2 1526.9 299.4C1536.5 299.6 1552.9 303.2 1567.3 303.5C1581.6 303.7 1597.3 301.0 1613.0 300.8C1628.7 300.5 1646.7 301.2 1661.5 302.1C1676.3 303.0 1690.6 304.6 1701.9 306.1C1713.1 307.7 1717.6 309.7 1728.8 311.5C1740.0 313.3 1757.9 315.3 1769.2 316.9C1780.4 318.5 1787.1 319.6 1796.1 321.0C1805.0 322.3 1811.8 324.8 1823.0 325.0C1834.2 325.2 1849.9 323.4 1863.4 322.3C1876.8 321.2 1888.0 318.9 1903.7 318.3C1919.4 317.6 1941.9 318.5 1957.6 318.3C1973.3 318.0 1987.2 317.6 1997.9 316.9C2008.7 316.2 2018.1 314.7 2022.2 314.2M1164.2 292.7C1163.7 295.8 1161.3 305.7 1161.5 311.5C1161.7 317.4 1163.3 323.2 1165.5 327.7C1167.8 332.2 1171.1 335.3 1174.9 338.4C1178.8 341.6 1181.7 342.9 1188.4 346.5C1195.1 350.1 1205.5 355.0 1215.3 360.0C1225.2 364.9 1238.6 371.2 1247.6 376.1C1256.6 381.1 1261.1 385.1 1269.2 389.6C1277.2 394.1 1288.0 400.4 1296.1 403.0C1304.1 405.7 1311.3 405.3 1317.6 405.7C1323.9 406.2 1328.4 403.5 1333.7 405.7C1339.1 408.0 1342.7 415.2 1349.9 419.2C1357.1 423.2 1367.8 426.8 1376.8 430.0C1385.8 433.1 1394.8 435.3 1403.7 438.0C1412.7 440.7 1421.7 444.1 1430.6 446.1C1439.6 448.1 1451.3 451.0 1457.6 450.1C1463.8 449.2 1465.6 445.0 1468.3 440.7C1471.0 436.5 1471.0 429.1 1473.7 424.6C1476.4 420.1 1481.3 416.1 1484.5 413.8C1487.6 411.6 1490.3 410.2 1492.5 411.1C1494.8 412.0 1495.0 417.5 1497.9 419.2C1500.8 420.8 1507.0 422.3 1510.0 421.0C1513.0 419.6 1514.7 414.6 1516.1 411.1C1517.6 407.7 1517.0 403.0 1518.8 400.4C1520.6 397.7 1524.7 395.0 1526.9 395.0C1529.2 395.0 1531.4 397.7 1532.3 400.4C1533.2 403.0 1531.4 408.9 1532.3 411.1C1533.2 413.4 1535.9 415.2 1537.7 413.8C1539.5 412.5 1542.6 407.1 1543.1 403.0C1543.5 399.0 1539.5 393.6 1540.4 389.6C1541.3 385.5 1545.8 380.6 1548.4 378.8C1551.1 377.0 1554.1 377.0 1556.5 378.8C1559.0 380.6 1562.4 386.4 1563.3 389.6C1564.1 392.7 1563.3 395.4 1561.9 397.7C1560.6 399.9 1556.5 401.0 1555.2 403.0C1553.8 405.1 1552.7 408.2 1553.8 409.8C1555.0 411.3 1559.2 413.1 1561.9 412.5C1564.6 411.8 1568.2 409.1 1570.0 405.7C1571.8 402.4 1571.3 397.2 1572.7 392.3C1574.0 387.3 1576.3 380.6 1578.1 376.1C1579.8 371.6 1581.2 367.6 1583.4 365.4C1585.7 363.1 1588.8 362.2 1591.5 362.7C1594.2 363.1 1597.6 364.9 1599.6 368.1C1601.6 371.2 1602.3 377.9 1603.6 381.5C1605.0 385.1 1604.7 387.1 1607.7 389.6C1610.6 392.1 1615.7 394.1 1621.1 396.3C1626.5 398.6 1633.2 400.6 1640.0 403.0C1646.7 405.5 1655.7 408.4 1661.5 411.1C1667.3 413.8 1670.5 416.1 1674.9 419.2C1679.4 422.3 1683.5 427.0 1688.4 430.0C1693.3 432.9 1700.1 435.8 1704.6 436.7C1709.0 437.6 1710.8 436.7 1715.3 435.3C1719.8 434.0 1724.7 430.2 1731.5 428.6C1738.2 427.0 1747.2 426.6 1755.7 425.9C1764.2 425.2 1773.6 425.5 1782.6 424.6C1791.6 423.7 1800.6 421.0 1809.5 420.5C1818.5 420.1 1827.5 421.2 1836.4 421.9C1845.4 422.6 1852.1 424.4 1863.4 424.6C1874.6 424.8 1892.5 423.7 1903.7 423.2C1914.9 422.8 1921.7 423.0 1930.6 421.9C1939.6 420.8 1948.6 418.1 1957.6 416.5C1966.5 414.9 1976.8 413.8 1984.5 412.5C1992.1 411.1 1998.4 411.1 2003.3 408.4C2008.2 405.7 2012.3 398.3 2014.1 396.3M1528.3 362.7C1529.2 361.8 1531.8 357.5 1533.6 357.3C1535.4 357.1 1537.9 359.3 1539.0 361.3C1540.1 363.3 1541.0 367.4 1540.4 369.4C1539.7 371.4 1536.8 373.4 1535.0 373.4C1533.2 373.4 1530.7 371.2 1529.6 369.4C1528.5 367.6 1528.5 363.8 1528.3 362.7M1510.0 741.6C1511.9 741.9 1516.5 742.5 1521.5 743.5C1526.6 744.5 1533.6 745.3 1540.4 747.6C1547.1 749.8 1555.2 753.8 1561.9 757.0C1568.6 760.1 1574.9 763.9 1580.7 766.4C1586.6 768.9 1592.4 770.4 1596.9 771.8C1601.4 773.1 1604.1 772.7 1607.7 774.5C1611.2 776.3 1613.9 780.8 1618.4 782.5C1622.9 784.3 1627.4 784.8 1634.6 785.2C1641.8 785.7 1653.4 786.1 1661.5 785.2C1669.6 784.3 1674.5 781.4 1683.0 779.9C1691.5 778.3 1707.7 776.5 1712.6 775.8M1758.4 750.2C1762.4 749.8 1774.1 750.2 1782.6 747.6C1791.1 744.9 1802.8 739.0 1809.5 734.1C1816.3 729.2 1818.5 721.3 1823.0 718.0C1827.5 714.6 1831.1 713.9 1836.4 713.9C1841.8 713.9 1851.0 715.0 1855.3 718.0C1859.5 720.9 1862.0 727.8 1862.0 731.4C1862.0 735.0 1859.5 738.1 1855.3 739.5C1851.0 740.8 1841.4 738.1 1836.4 739.5C1831.5 740.8 1828.4 744.0 1825.7 747.6C1823.0 751.1 1823.9 757.9 1820.3 761.0C1816.7 764.2 1806.8 764.2 1804.1 766.4C1801.4 768.6 1802.8 772.7 1804.1 774.5C1805.5 776.3 1807.7 776.7 1812.2 777.2C1816.7 777.6 1824.8 775.4 1831.1 777.2C1837.3 779.0 1843.2 783.9 1849.9 787.9C1856.6 792.0 1867.7 798.5 1871.4 801.4C1875.2 804.2 1872.1 804.4 1872.2 805.0M1906.3 805.0C1906.8 803.5 1906.9 800.2 1909.1 796.0C1911.4 791.8 1915.4 784.3 1919.9 779.9C1924.4 775.4 1932.0 772.2 1936.0 769.1C1940.1 765.9 1941.4 764.6 1944.1 761.0C1946.8 757.4 1949.5 751.1 1952.2 747.6C1954.9 744.0 1957.1 740.4 1960.2 739.5C1963.4 738.6 1967.0 741.3 1971.0 742.2C1975.1 743.1 1980.0 744.9 1984.5 744.9C1989.0 744.9 1993.0 742.4 1997.9 742.2C2002.9 741.9 2011.4 743.3 2014.1 743.5M673.8 969.6C674.0 971.8 673.8 977.6 675.1 983.0C676.5 988.4 680.1 996.0 681.9 1001.9C683.7 1007.7 685.5 1013.1 685.9 1018.0C686.3 1022.9 683.4 1027.9 684.6 1031.5C685.7 1035.1 689.5 1036.9 692.6 1039.5C695.8 1042.2 700.0 1044.5 703.4 1047.6C706.8 1050.8 711.9 1055.2 712.8 1058.4C713.7 1061.5 712.6 1064.7 708.8 1066.5C705.0 1068.3 694.6 1067.4 689.9 1069.2C685.2 1070.9 682.5 1072.7 680.5 1077.2C678.5 1081.7 678.3 1088.4 677.8 1096.1C677.4 1103.7 677.4 1114.0 677.8 1123.0C678.3 1132.0 680.1 1140.9 680.5 1149.9C681.0 1158.9 679.8 1170.5 680.5 1176.8C681.2 1183.1 681.6 1185.6 684.6 1187.6C687.5 1189.6 694.4 1187.6 698.0 1188.9C701.6 1190.3 703.8 1192.7 706.1 1195.7C708.3 1198.6 709.5 1202.4 711.5 1206.4C713.5 1210.5 717.1 1216.5 718.2 1219.9C719.3 1223.2 719.3 1227.3 718.2 1226.6C717.1 1225.9 713.3 1218.1 711.5 1215.8C709.7 1213.6 708.3 1212.0 707.4 1213.1C706.5 1214.3 705.9 1219.7 706.1 1222.6C706.3 1225.5 709.2 1227.1 708.8 1230.6C708.3 1234.2 706.1 1240.1 703.4 1244.1C700.7 1248.1 696.7 1252.2 692.6 1254.9C688.6 1257.6 681.4 1257.6 679.2 1260.2C676.9 1262.9 678.3 1267.4 679.2 1271.0C680.1 1274.6 682.5 1278.2 684.6 1281.8C686.6 1285.4 689.8 1287.8 691.3 1292.5C692.8 1297.2 693.2 1306.5 693.7 1310.0C694.1 1313.5 692.8 1310.6 694.0 1313.5C695.1 1316.3 698.5 1323.3 700.7 1326.9C702.9 1330.5 705.6 1333.4 707.4 1335.0C709.2 1336.6 711.7 1335.4 711.5 1336.3C711.2 1337.2 706.5 1337.9 706.1 1340.4C705.6 1342.8 708.1 1346.7 708.8 1351.1C709.5 1355.6 710.6 1361.0 710.1 1367.3C709.7 1373.6 707.4 1381.2 706.1 1388.8C704.7 1396.4 703.4 1405.9 702.0 1413.0C700.7 1420.2 698.5 1426.1 698.0 1431.9C697.6 1437.7 699.8 1443.8 699.4 1448.0C698.9 1452.3 696.0 1455.9 695.3 1457.5M921.4 1152.6C919.2 1154.8 913.3 1162.9 908.0 1166.0C902.6 1169.2 893.6 1168.7 889.1 1171.4C884.6 1174.1 883.7 1177.7 881.0 1182.2C878.3 1186.7 874.3 1193.4 873.0 1198.3C871.6 1203.3 871.6 1206.4 873.0 1211.8C874.3 1217.2 877.9 1225.3 881.0 1230.6C884.2 1236.0 886.9 1241.0 891.8 1244.1C896.7 1247.2 904.8 1247.2 910.6 1249.5C916.5 1251.7 922.3 1254.0 926.8 1257.6C931.3 1261.1 934.0 1266.1 937.6 1271.0C941.1 1275.9 945.2 1280.9 948.3 1287.2C951.5 1293.4 955.2 1304.9 956.4 1308.7C957.6 1312.5 955.9 1309.7 955.5 1310.0C955.0 1310.3 952.2 1307.9 953.7 1310.8C955.2 1313.6 962.0 1319.7 964.5 1326.9C966.9 1334.1 967.6 1344.9 968.5 1353.8C969.4 1362.8 968.3 1373.1 969.9 1380.7C971.4 1388.4 976.6 1394.7 977.9 1399.6C979.3 1404.5 979.1 1406.8 977.9 1410.4C976.8 1413.9 972.1 1418.4 971.2 1421.1C970.3 1423.8 971.0 1424.9 972.5 1426.5C974.1 1428.1 977.5 1431.0 980.6 1430.5C983.8 1430.1 988.2 1425.4 991.4 1423.8C994.6 1422.2 998.1 1421.9 1000.0 1421.0C1001.9 1420.1 1000.4 1419.7 1002.7 1418.4C1004.9 1417.1 1009.9 1414.8 1013.5 1413.0C1017.0 1411.2 1021.1 1409.7 1024.2 1407.7C1027.4 1405.6 1029.6 1401.4 1032.3 1400.9C1035.0 1400.5 1037.7 1402.5 1040.4 1405.0C1043.1 1407.4 1045.5 1414.4 1048.4 1415.7C1051.4 1417.1 1055.6 1413.0 1057.9 1413.0C1060.1 1413.0 1062.1 1414.6 1061.9 1415.7C1061.7 1416.9 1058.5 1419.3 1056.5 1419.8C1054.5 1420.2 1051.4 1416.0 1049.8 1418.4C1048.2 1420.9 1046.4 1430.1 1047.1 1434.6C1047.8 1439.1 1050.5 1441.3 1053.8 1445.3C1057.2 1449.4 1062.8 1454.3 1067.3 1458.8C1071.8 1463.3 1076.5 1468.7 1080.7 1472.3C1085.0 1475.8 1090.4 1477.6 1092.9 1480.3C1095.3 1483.0 1096.2 1485.7 1095.5 1488.4C1094.9 1491.1 1092.2 1493.8 1088.8 1496.5C1085.5 1499.2 1079.8 1501.4 1075.4 1504.6C1070.9 1507.7 1066.8 1511.3 1061.9 1515.3C1057.0 1519.4 1050.2 1524.3 1045.8 1528.8C1041.3 1533.3 1039.0 1538.2 1035.0 1542.2C1031.0 1546.3 1025.6 1549.0 1021.5 1553.0C1017.5 1557.0 1013.9 1561.1 1010.8 1566.5C1007.6 1571.8 1004.5 1581.5 1002.7 1585.3C1000.9 1589.1 1000.4 1588.7 1000.0 1589.3M1419.9 1042.2C1422.6 1044.5 1431.5 1051.2 1436.0 1055.7C1440.5 1060.2 1443.2 1065.6 1446.8 1069.2C1450.4 1072.7 1453.5 1077.2 1457.6 1077.2C1461.6 1077.2 1466.5 1071.6 1471.0 1069.2C1475.5 1066.7 1478.0 1064.0 1484.5 1062.4C1491.0 1060.8 1504.7 1060.2 1510.0 1059.5C1515.3 1058.8 1511.1 1057.8 1516.1 1058.4C1521.2 1059.0 1531.8 1063.5 1540.4 1063.2C1548.9 1063.0 1558.3 1058.5 1567.3 1057.0C1576.3 1055.6 1585.2 1054.7 1594.2 1054.3C1603.2 1054.0 1612.6 1055.5 1621.1 1055.2C1629.6 1054.8 1637.7 1052.7 1645.3 1052.5C1653.0 1052.2 1659.7 1052.6 1666.9 1053.5C1674.1 1054.5 1681.2 1056.2 1688.4 1058.4C1695.6 1060.5 1703.2 1062.9 1709.9 1066.5C1716.7 1070.0 1722.5 1075.7 1728.8 1079.9C1735.1 1084.2 1742.7 1088.2 1747.6 1092.0C1752.6 1095.8 1754.3 1100.1 1758.4 1102.8C1762.4 1105.5 1767.4 1107.5 1771.8 1108.2C1776.3 1108.9 1781.3 1105.4 1785.3 1106.8C1789.3 1108.3 1790.7 1115.0 1796.1 1117.1C1801.4 1119.1 1809.5 1118.8 1817.6 1118.9C1825.7 1119.1 1835.5 1119.9 1844.5 1118.1C1853.5 1116.3 1863.8 1112.3 1871.4 1108.2C1879.1 1104.1 1884.0 1097.1 1890.3 1093.4C1896.5 1089.7 1902.4 1087.1 1909.1 1085.8C1915.8 1084.6 1922.6 1085.3 1930.6 1085.8C1938.7 1086.4 1948.6 1088.6 1957.6 1089.3C1966.5 1090.1 1976.8 1089.0 1984.5 1090.1C1992.1 1091.3 1998.4 1093.7 2003.3 1096.1C2008.2 1098.4 2012.3 1102.8 2014.1 1104.1M1331.1 805.0C1332.0 805.5 1332.4 806.2 1336.4 808.1C1340.5 809.9 1348.6 814.1 1355.3 816.1C1362.0 818.2 1369.6 820.2 1376.8 820.2C1384.0 820.2 1393.0 815.0 1398.3 816.1C1403.7 817.3 1405.1 822.7 1409.1 826.9C1413.1 831.2 1418.1 839.9 1422.6 841.7C1427.1 843.5 1431.1 836.8 1436.0 837.7C1441.0 838.6 1445.9 846.9 1452.2 847.1C1458.5 847.3 1468.3 838.4 1473.7 839.0C1479.1 839.7 1479.5 848.0 1484.5 851.1C1489.4 854.3 1499.1 856.3 1503.3 857.9C1507.6 859.4 1508.3 859.8 1510.0 860.5C1511.7 861.2 1510.2 861.7 1513.5 861.9C1516.7 862.1 1525.1 863.9 1529.6 861.9C1534.1 859.9 1537.7 852.0 1540.4 849.8C1543.1 847.6 1544.0 846.4 1545.8 848.4C1547.6 850.5 1548.0 857.6 1551.1 861.9C1554.3 866.2 1559.7 870.0 1564.6 874.0C1569.5 878.1 1575.8 882.1 1580.7 886.1C1585.7 890.2 1590.2 897.8 1594.2 898.2C1598.2 898.7 1601.4 890.8 1605.0 888.8C1608.6 886.8 1612.1 887.9 1615.7 886.1C1619.3 884.3 1622.0 878.5 1626.5 878.1C1631.0 877.6 1636.8 883.2 1642.7 883.4C1648.5 883.7 1654.8 881.0 1661.5 879.4C1668.2 877.8 1678.1 874.5 1683.0 874.0C1688.0 873.6 1688.6 874.9 1691.1 876.7C1693.6 878.5 1695.4 883.0 1697.8 884.8C1700.3 886.6 1704.8 886.1 1705.9 887.5C1707.0 888.8 1707.0 891.1 1704.6 892.9C1702.1 894.7 1693.3 896.4 1691.1 898.2C1688.9 900.0 1689.8 902.5 1691.1 903.6C1692.4 904.7 1692.9 905.9 1699.2 905.0C1705.5 904.1 1720.7 900.3 1728.8 898.2C1736.9 896.2 1742.0 895.0 1747.6 892.9C1753.2 890.7 1757.9 885.6 1762.4 885.6C1766.9 885.6 1768.9 891.3 1774.5 892.9C1780.1 894.4 1788.0 894.3 1796.1 894.7C1804.1 895.2 1814.0 894.3 1823.0 895.5C1832.0 896.8 1840.9 899.9 1849.9 902.3C1858.9 904.7 1869.2 909.3 1876.8 909.8C1884.4 910.4 1888.5 906.4 1895.7 905.5C1902.8 904.6 1911.8 905.1 1919.9 904.4C1928.0 903.8 1938.3 903.2 1944.1 901.7C1949.9 900.3 1952.6 899.0 1954.9 895.5C1957.1 892.0 1955.3 884.3 1957.6 880.7C1959.8 877.2 1963.8 875.6 1968.3 874.0C1972.8 872.4 1979.8 872.4 1984.5 871.3C1989.2 870.2 1991.6 866.6 1996.6 867.3C2001.5 868.0 2011.2 874.0 2014.1 875.4M1158.8 1054.3C1163.7 1053.9 1179.0 1052.6 1188.4 1051.7C1197.8 1050.8 1207.7 1050.1 1215.3 1049.0C1222.9 1047.8 1229.5 1047.2 1234.2 1044.9C1238.9 1042.7 1241.3 1035.5 1243.6 1035.5C1245.8 1035.5 1247.4 1041.1 1247.6 1044.9C1247.8 1048.7 1244.9 1054.3 1244.9 1058.4C1244.9 1062.4 1247.2 1067.4 1247.6 1069.2M1274.5 1096.1C1276.3 1093.4 1281.7 1083.5 1285.3 1079.9C1288.9 1076.3 1292.5 1074.5 1296.1 1074.5C1299.7 1074.5 1303.7 1077.7 1306.8 1079.9C1310.0 1082.2 1313.1 1084.9 1314.9 1088.0C1316.7 1091.1 1315.4 1097.2 1317.6 1098.8C1319.8 1100.3 1327.0 1099.2 1328.4 1097.4C1329.7 1095.6 1327.0 1090.9 1325.7 1088.0C1324.3 1085.1 1320.3 1082.4 1320.3 1079.9C1320.3 1077.4 1323.0 1074.3 1325.7 1073.2C1328.4 1072.1 1333.7 1071.6 1336.4 1073.2C1339.1 1074.8 1341.1 1078.3 1341.8 1082.6C1342.5 1086.9 1341.8 1094.3 1340.5 1098.8C1339.1 1103.2 1332.2 1105.9 1333.7 1109.5C1335.3 1113.1 1343.6 1116.7 1349.9 1120.3C1356.2 1123.9 1365.1 1128.4 1371.4 1131.1C1377.7 1133.7 1382.2 1136.9 1387.6 1136.4C1393.0 1136.0 1398.8 1129.9 1403.7 1128.4C1408.7 1126.8 1414.5 1125.7 1417.2 1127.0C1419.9 1128.4 1421.2 1133.5 1419.9 1136.4C1418.5 1139.4 1409.6 1142.3 1409.1 1144.5C1408.7 1146.8 1413.1 1150.8 1417.2 1149.9C1421.2 1149.0 1428.4 1143.2 1433.3 1139.1C1438.3 1135.1 1441.0 1126.1 1446.8 1125.7C1452.6 1125.2 1461.1 1135.5 1468.3 1136.4C1475.5 1137.3 1483.6 1133.3 1489.9 1131.1C1496.1 1128.8 1502.6 1124.9 1506.0 1123.0C1509.4 1121.0 1508.3 1120.9 1510.0 1119.4C1511.7 1117.8 1512.0 1115.4 1516.1 1113.6C1520.3 1111.7 1527.8 1109.4 1535.0 1108.2C1542.2 1107.0 1552.0 1105.4 1559.2 1106.3C1566.4 1107.2 1572.2 1111.7 1578.1 1113.6C1583.9 1115.4 1589.9 1117.6 1594.2 1117.6C1598.5 1117.6 1602.7 1115.8 1603.6 1113.6C1604.5 1111.3 1599.8 1107.6 1599.6 1104.1C1599.4 1100.7 1598.7 1094.9 1602.3 1092.8C1605.9 1090.8 1613.9 1091.7 1621.1 1092.0C1628.3 1092.3 1637.7 1094.0 1645.3 1094.7C1653.0 1095.4 1659.7 1095.9 1666.9 1096.1C1674.1 1096.2 1682.6 1095.5 1688.4 1095.5C1694.2 1095.5 1698.3 1095.1 1701.9 1096.1C1705.5 1097.1 1708.6 1100.6 1709.9 1101.4M1053.8 1074.5C1052.9 1078.1 1052.0 1089.8 1048.4 1096.1C1044.9 1102.3 1037.7 1106.6 1032.3 1112.2C1026.9 1117.8 1020.0 1126.6 1016.1 1129.7C1012.3 1132.9 1010.5 1130.8 1009.4 1131.1M1349.9 1136.4C1350.3 1138.2 1348.1 1144.5 1352.6 1147.2C1357.1 1149.9 1371.9 1150.8 1376.8 1152.6C1381.7 1154.4 1377.7 1155.3 1382.2 1158.0C1386.7 1160.7 1396.5 1166.3 1403.7 1168.7C1410.9 1171.2 1418.5 1169.6 1425.3 1172.8C1432.0 1175.9 1439.2 1184.0 1444.1 1187.6C1449.0 1191.2 1451.7 1194.3 1454.9 1194.3C1458.0 1194.3 1459.4 1189.6 1462.9 1187.6C1466.5 1185.6 1473.7 1184.9 1476.4 1182.2C1479.1 1179.5 1476.4 1174.6 1479.1 1171.4C1481.8 1168.3 1488.1 1165.1 1492.5 1163.4C1497.0 1161.6 1503.8 1161.1 1506.0 1160.7M1378.2 1182.2C1381.5 1182.6 1392.3 1183.5 1398.3 1184.9C1404.4 1186.2 1410.5 1187.1 1414.5 1190.3C1418.5 1193.4 1419.4 1198.8 1422.6 1203.7C1425.7 1208.7 1432.4 1215.4 1433.3 1219.9C1434.2 1224.4 1431.1 1230.2 1428.0 1230.6C1424.8 1231.1 1419.4 1224.6 1414.5 1222.6C1409.6 1220.5 1401.9 1217.2 1398.3 1218.5C1394.8 1219.9 1393.6 1226.4 1393.0 1230.6C1392.3 1234.9 1393.0 1238.7 1394.3 1244.1C1395.7 1249.5 1399.7 1257.1 1401.0 1262.9C1402.4 1268.8 1402.8 1275.1 1402.4 1279.1C1401.9 1283.1 1400.8 1286.3 1398.3 1287.2C1395.9 1288.1 1391.2 1286.7 1387.6 1284.5C1384.0 1282.2 1380.8 1276.2 1376.8 1273.7C1372.8 1271.2 1368.3 1269.2 1363.4 1269.7C1358.4 1270.1 1350.3 1275.9 1347.2 1276.4C1344.1 1276.8 1348.6 1271.0 1344.5 1272.4C1340.5 1273.7 1328.8 1281.1 1323.0 1284.5C1317.1 1287.8 1312.2 1289.0 1309.5 1292.5C1306.8 1296.1 1307.0 1303.1 1306.8 1306.0C1306.7 1308.9 1308.3 1309.2 1308.7 1310.0C1309.2 1310.8 1308.9 1308.4 1309.5 1310.8C1310.1 1313.1 1312.7 1319.7 1312.2 1324.2C1311.8 1328.7 1309.5 1334.8 1306.8 1337.7C1304.1 1340.6 1298.1 1339.9 1296.1 1341.7C1294.0 1343.5 1291.6 1346.9 1294.7 1348.4C1297.9 1350.0 1312.4 1349.3 1314.9 1351.1C1317.4 1352.9 1311.1 1356.1 1309.5 1359.2C1308.0 1362.4 1306.2 1368.2 1305.5 1370.0M1352.6 1245.4C1353.5 1247.0 1357.5 1251.9 1358.0 1254.9C1358.4 1257.8 1356.8 1262.5 1355.3 1262.9C1353.7 1263.4 1349.9 1259.8 1348.6 1257.6C1347.2 1255.3 1346.5 1251.5 1347.2 1249.5C1347.9 1247.5 1351.7 1246.1 1352.6 1245.4M1262.4 1163.4C1263.3 1163.1 1266.7 1161.1 1267.8 1162.0C1268.9 1162.9 1269.8 1167.4 1269.2 1168.7C1268.5 1170.1 1264.9 1171.0 1263.8 1170.1C1262.6 1169.2 1262.6 1164.5 1262.4 1163.4M1274.5 991.6C1275.4 991.5 1278.8 990.4 1279.9 991.1C1281.0 991.8 1281.9 995.0 1281.3 995.9C1280.6 996.8 1277.0 997.2 1275.9 996.5C1274.8 995.8 1274.8 992.4 1274.5 991.6M1043.9 1156.6C1043.3 1157.5 1040.4 1160.0 1040.4 1162.0C1040.4 1164.0 1043.3 1167.6 1043.9 1168.7M1096.1 1252.2C1095.1 1253.1 1090.2 1256.0 1090.2 1257.6C1090.2 1259.1 1095.1 1260.9 1096.1 1261.6M1693.0 1110.9C1690.9 1111.3 1683.3 1111.8 1680.3 1113.6C1677.3 1115.4 1675.4 1118.9 1674.9 1121.6C1674.5 1124.3 1675.4 1127.2 1677.6 1129.7C1679.9 1132.2 1685.8 1135.1 1688.4 1136.4C1691.0 1137.8 1692.2 1137.6 1693.0 1137.8M1771.8 1125.7C1773.2 1127.0 1778.1 1131.1 1779.9 1133.7C1781.7 1136.4 1783.5 1140.0 1782.6 1141.8C1781.7 1143.6 1775.0 1141.8 1774.5 1144.5C1774.1 1147.2 1777.7 1154.8 1779.9 1158.0C1782.2 1161.1 1786.0 1164.0 1788.0 1163.4C1790.0 1162.7 1789.8 1155.7 1792.0 1153.9C1794.3 1152.1 1797.2 1151.5 1801.4 1152.6C1805.7 1153.7 1810.9 1158.2 1817.6 1160.7C1824.3 1163.1 1837.8 1166.3 1841.8 1167.4M1510.0 1154.5C1510.6 1154.2 1509.7 1154.0 1513.5 1152.6C1517.2 1151.2 1525.6 1148.6 1532.3 1145.9C1539.0 1143.2 1547.1 1138.7 1553.8 1136.4C1560.6 1134.2 1567.3 1132.5 1572.7 1132.4C1578.1 1132.3 1585.2 1133.9 1586.1 1135.9C1587.0 1137.9 1581.6 1142.2 1578.1 1144.5C1574.5 1146.8 1566.8 1149.0 1564.6 1149.9M1551.1 1209.1C1554.3 1210.2 1567.1 1214.0 1570.0 1215.8C1572.9 1217.6 1570.4 1218.5 1568.6 1219.9C1566.8 1221.2 1560.3 1221.7 1559.2 1223.9C1558.1 1226.2 1562.6 1229.7 1561.9 1233.3C1561.2 1236.9 1555.8 1243.0 1555.2 1245.4C1554.5 1247.9 1555.4 1249.7 1557.9 1248.1C1560.3 1246.6 1565.7 1239.8 1570.0 1236.0C1574.2 1232.2 1579.6 1227.5 1583.4 1225.3C1587.2 1223.0 1590.6 1221.4 1592.9 1222.6C1595.1 1223.7 1594.4 1230.2 1596.9 1232.0C1599.4 1233.8 1604.1 1233.6 1607.7 1233.3C1611.2 1233.1 1615.3 1228.8 1618.4 1230.6C1621.6 1232.4 1623.4 1242.3 1626.5 1244.1C1629.6 1245.9 1633.2 1242.5 1637.3 1241.4C1641.3 1240.3 1646.7 1239.2 1650.7 1237.4C1654.8 1235.6 1657.5 1231.1 1661.5 1230.6C1665.5 1230.2 1670.5 1235.1 1674.9 1234.7C1679.4 1234.2 1683.5 1228.4 1688.4 1228.0C1693.3 1227.5 1700.1 1231.1 1704.6 1232.0C1709.0 1232.9 1712.4 1234.7 1715.3 1233.3C1718.2 1232.0 1718.9 1225.3 1722.0 1223.9C1725.2 1222.6 1729.5 1224.6 1734.2 1225.3C1738.9 1225.9 1744.9 1227.7 1750.3 1228.0C1755.7 1228.2 1762.0 1228.5 1766.5 1226.6C1770.9 1224.7 1774.1 1217.1 1777.2 1216.6C1780.4 1216.2 1782.8 1221.1 1785.3 1223.9C1787.8 1226.7 1789.8 1230.6 1792.0 1233.3C1794.3 1236.0 1796.5 1240.3 1798.8 1240.1C1801.0 1239.8 1804.6 1236.2 1805.5 1232.0C1806.4 1227.7 1803.6 1218.8 1804.1 1214.5C1804.7 1210.2 1808.2 1207.8 1809.0 1206.4M1809.0 1168.7C1806.8 1169.9 1799.3 1172.6 1796.1 1175.5C1792.8 1178.4 1792.0 1186.0 1789.3 1186.2C1786.6 1186.5 1783.3 1180.4 1779.9 1176.8C1776.6 1173.2 1772.7 1166.3 1769.2 1164.7C1765.6 1163.1 1760.4 1165.4 1758.4 1167.4C1756.4 1169.4 1755.7 1173.0 1757.0 1176.8C1758.4 1180.6 1763.1 1185.8 1766.5 1190.3C1769.8 1194.8 1773.2 1199.5 1777.2 1203.7C1781.3 1208.0 1787.1 1211.4 1790.7 1215.8C1794.3 1220.3 1797.4 1228.2 1798.8 1230.6M1887.8 1203.7C1891.4 1203.5 1904.2 1204.6 1909.1 1202.4C1914.0 1200.1 1911.8 1194.2 1917.2 1190.3C1922.6 1186.4 1933.8 1179.9 1941.4 1179.0C1949.0 1178.1 1954.9 1183.7 1962.9 1184.9C1971.0 1186.1 1982.7 1185.3 1989.9 1186.2C1997.0 1187.1 2002.0 1187.8 2006.0 1190.3C2010.0 1192.7 2012.7 1199.2 2014.1 1201.0M1833.7 1225.3C1835.5 1228.0 1840.9 1237.4 1844.5 1241.4C1848.1 1245.4 1851.7 1249.0 1855.3 1249.5C1858.9 1249.9 1863.8 1246.8 1866.0 1244.1C1868.3 1241.4 1869.6 1236.6 1868.7 1233.3C1867.8 1230.1 1862.0 1226.2 1860.7 1224.7M1804.1 1233.3C1805.9 1234.7 1812.2 1236.5 1814.9 1241.4C1817.6 1246.3 1819.8 1257.1 1820.3 1262.9C1820.7 1268.8 1819.8 1272.4 1817.6 1276.4C1815.4 1280.4 1810.4 1285.8 1806.8 1287.2C1803.2 1288.5 1799.2 1286.3 1796.1 1284.5C1792.9 1282.7 1790.9 1277.5 1788.0 1276.4C1785.1 1275.3 1779.9 1275.5 1778.6 1277.7C1777.2 1280.0 1781.5 1286.5 1779.9 1289.9C1778.3 1293.2 1772.7 1295.7 1769.2 1297.9C1765.6 1300.2 1760.2 1301.3 1758.4 1303.3C1756.6 1305.3 1758.2 1308.3 1758.2 1310.0C1758.2 1311.7 1760.1 1311.8 1758.4 1313.5C1756.6 1315.2 1749.2 1316.6 1747.6 1320.2C1746.0 1323.8 1749.2 1329.4 1749.0 1335.0C1748.7 1340.6 1746.9 1348.9 1746.3 1353.8C1745.6 1358.8 1746.0 1361.5 1744.9 1364.6C1743.8 1367.7 1742.0 1370.0 1739.5 1372.7C1737.1 1375.4 1732.1 1377.6 1730.1 1380.7C1728.2 1383.9 1728.3 1389.7 1728.0 1391.5M2014.1 1226.6C2011.4 1225.5 2003.3 1222.3 1997.9 1219.9C1992.5 1217.4 1985.6 1211.8 1981.8 1211.8C1978.0 1211.8 1977.7 1219.9 1975.1 1219.9C1972.4 1219.9 1969.4 1212.5 1965.6 1211.8C1961.8 1211.1 1956.7 1213.4 1952.2 1215.8C1947.7 1218.3 1944.1 1223.0 1938.7 1226.6C1933.3 1230.2 1926.6 1233.6 1919.9 1237.4C1913.1 1241.2 1905.5 1245.7 1898.3 1249.5C1891.2 1253.3 1882.6 1256.9 1876.8 1260.2C1871.0 1263.6 1866.0 1265.6 1863.4 1269.7C1860.7 1273.7 1860.7 1279.3 1860.7 1284.5C1860.7 1289.6 1863.5 1296.4 1863.4 1300.6C1863.2 1304.9 1860.2 1308.3 1859.7 1310.0C1859.3 1311.7 1861.4 1308.4 1860.7 1310.8C1859.9 1313.1 1858.0 1319.7 1855.3 1324.2C1852.6 1328.7 1848.6 1333.2 1844.5 1337.7C1840.5 1342.2 1835.5 1347.8 1831.1 1351.1C1826.6 1354.5 1822.1 1356.1 1817.6 1357.9C1813.1 1359.7 1807.3 1360.3 1804.1 1361.9C1801.0 1363.5 1798.8 1365.5 1798.8 1367.3C1798.8 1369.1 1801.9 1370.4 1804.1 1372.7C1806.4 1374.9 1809.5 1378.1 1812.2 1380.7C1814.9 1383.4 1818.9 1385.7 1820.3 1388.8C1821.6 1392.0 1821.2 1396.4 1820.3 1399.6C1819.4 1402.7 1817.1 1404.5 1814.9 1407.7C1812.7 1410.8 1810.0 1414.8 1806.8 1418.4C1803.7 1422.0 1798.8 1427.8 1796.1 1429.2C1793.4 1430.5 1792.0 1428.3 1790.7 1426.5C1789.3 1424.7 1788.9 1422.0 1788.0 1418.4C1787.1 1414.8 1786.2 1409.0 1785.3 1405.0C1784.4 1400.9 1784.0 1396.4 1782.6 1394.2C1781.3 1392.0 1779.5 1391.5 1777.2 1391.5C1775.0 1391.5 1772.7 1392.0 1769.2 1394.2C1765.6 1396.4 1760.2 1402.3 1755.7 1405.0C1751.2 1407.7 1746.9 1408.1 1742.2 1410.4C1737.6 1412.6 1730.3 1417.1 1728.0 1418.4M1917.2 1268.3C1918.1 1267.2 1921.0 1262.0 1922.6 1261.6C1924.1 1261.1 1926.8 1264.1 1926.6 1265.6C1926.4 1267.2 1922.8 1270.6 1921.2 1271.0C1919.7 1271.5 1917.9 1268.8 1917.2 1268.3M1962.9 1254.9C1963.4 1254.0 1962.5 1249.5 1965.6 1249.5C1968.8 1249.5 1979.1 1252.6 1981.8 1254.9C1984.5 1257.1 1983.1 1259.8 1981.8 1262.9C1980.4 1266.1 1974.2 1270.6 1973.7 1273.7C1973.3 1276.8 1980.0 1278.6 1979.1 1281.8C1978.2 1284.9 1972.8 1289.0 1968.3 1292.5C1963.8 1296.1 1956.8 1300.4 1952.2 1303.3C1947.6 1306.2 1942.5 1308.8 1940.7 1310.0C1938.9 1311.2 1942.6 1309.3 1941.4 1310.8C1940.2 1312.2 1935.8 1318.4 1933.3 1318.8C1930.9 1319.3 1927.4 1314.9 1926.6 1313.5C1925.8 1312.0 1928.0 1310.6 1928.3 1310.0M1997.9 1271.0C1999.3 1271.2 2003.3 1271.2 2006.0 1272.4C2008.7 1273.5 2012.7 1276.8 2014.1 1277.7M1557.9 1304.7C1556.3 1304.9 1550.7 1305.1 1548.4 1306.0C1546.2 1306.9 1545.5 1309.2 1544.6 1310.0C1543.7 1310.8 1542.7 1309.5 1543.1 1310.8C1543.5 1312.0 1544.6 1315.9 1547.1 1317.5C1549.6 1319.1 1556.1 1319.7 1557.9 1320.2M720.9 1565.1C722.9 1567.1 730.1 1573.0 733.0 1577.2C735.9 1581.5 737.5 1586.2 738.4 1590.7C739.3 1595.2 740.2 1600.3 738.4 1604.1C736.6 1608.0 728.5 1610.9 727.6 1613.6C726.7 1616.3 730.3 1617.8 733.0 1620.3C735.7 1622.8 740.6 1625.7 743.8 1628.4C746.9 1631.1 748.7 1636.2 751.8 1636.4C755.0 1636.7 760.8 1630.2 762.6 1629.7C764.4 1629.3 764.9 1632.4 762.6 1633.7C760.4 1635.1 751.8 1635.1 749.2 1637.8C746.5 1640.5 747.4 1645.6 746.5 1649.9C745.6 1654.2 745.1 1658.9 743.8 1663.4C742.4 1667.8 742.0 1674.1 738.4 1676.8C734.8 1679.5 726.7 1677.7 722.2 1679.5C717.8 1681.3 716.0 1685.8 711.5 1687.6C707.0 1689.4 699.4 1690.7 695.3 1690.3C691.3 1689.8 689.9 1687.4 687.2 1684.9C684.6 1682.4 683.2 1677.0 679.2 1675.5C675.1 1673.9 668.4 1674.8 663.0 1675.5C657.6 1676.1 652.7 1677.9 646.9 1679.5C641.0 1681.1 633.9 1684.7 628.0 1684.9C622.2 1685.1 617.3 1681.3 611.9 1680.8C606.5 1680.4 600.2 1680.6 595.7 1682.2C591.2 1683.8 588.1 1687.6 585.0 1690.3C581.8 1693.0 578.7 1695.7 576.9 1698.3C575.1 1701.0 577.3 1704.2 574.2 1706.4C571.1 1708.7 563.9 1710.2 558.1 1711.8C552.2 1713.4 544.1 1714.0 539.2 1715.8C534.3 1717.6 530.5 1720.1 528.4 1722.6C526.4 1725.0 528.9 1728.0 527.1 1730.6C525.3 1733.3 520.1 1735.1 517.7 1738.7C515.2 1742.3 514.5 1748.1 512.3 1752.2C510.1 1756.2 506.7 1759.4 504.2 1762.9C501.8 1766.5 499.7 1772.8 497.5 1773.7C495.3 1774.6 492.8 1771.0 490.8 1768.3C488.7 1765.6 486.3 1759.4 485.4 1757.6M746.5 1649.9C749.2 1650.8 758.1 1655.5 762.6 1655.3C767.1 1655.1 770.9 1648.6 773.4 1648.6C775.8 1648.6 776.5 1652.4 777.4 1655.3C778.3 1658.2 778.5 1664.3 778.8 1666.0M829.9 1652.6C831.7 1651.2 838.2 1645.0 840.7 1644.5C843.1 1644.1 845.6 1647.7 844.7 1649.9C843.8 1652.1 837.7 1657.5 835.3 1658.0C832.8 1658.4 830.8 1653.5 829.9 1652.6M745.1 1722.6C743.5 1723.5 737.5 1724.8 735.7 1728.0C733.9 1731.1 733.9 1736.9 734.3 1741.4C734.8 1745.9 736.4 1752.2 738.4 1754.9C740.4 1757.6 742.0 1757.3 746.5 1757.6C750.9 1757.8 761.7 1758.9 765.3 1756.2C768.9 1753.5 765.7 1745.7 768.0 1741.4C770.2 1737.1 777.0 1733.8 778.8 1730.6C780.6 1727.5 778.8 1723.9 778.8 1722.6M784.1 1741.4C785.0 1741.2 787.3 1738.3 789.5 1740.1C791.8 1741.9 794.5 1747.5 797.6 1752.2C800.7 1756.9 805.2 1763.4 808.4 1768.3C811.5 1773.3 813.3 1777.3 816.4 1781.8C819.6 1786.3 824.5 1794.3 827.2 1795.2C829.9 1796.1 832.1 1790.3 832.6 1787.2C833.0 1784.0 830.6 1780.0 829.9 1776.4C829.2 1772.8 827.7 1766.1 828.6 1765.6C829.4 1765.2 832.5 1771.9 835.3 1773.7C838.0 1775.5 843.4 1775.9 845.0 1776.4M786.8 1744.1C787.7 1747.2 790.4 1756.2 792.2 1762.9C794.0 1769.7 795.8 1777.3 797.6 1784.5C799.4 1791.6 799.8 1801.5 803.0 1806.0C806.1 1810.5 809.4 1810.9 816.4 1811.4C823.4 1811.8 840.2 1809.1 845.0 1808.7M759.9 1781.8C762.2 1780.9 769.3 1776.8 773.4 1776.4C777.4 1775.9 782.1 1776.8 784.1 1779.1C786.2 1781.3 786.8 1786.7 785.5 1789.9C784.1 1793.0 779.9 1797.0 776.1 1797.9C772.3 1798.8 765.7 1797.0 762.6 1795.2C759.5 1793.4 757.7 1789.4 757.2 1787.2C756.8 1784.9 759.5 1782.7 759.9 1781.8M824.5 1726.6C825.4 1726.4 828.8 1724.4 829.9 1725.3C831.0 1726.2 831.9 1730.9 831.2 1732.0C830.6 1733.1 827.0 1732.9 825.9 1732.0C824.7 1731.1 824.7 1727.5 824.5 1726.6M883.7 1725.3C885.1 1725.7 890.9 1725.3 891.8 1728.0C892.7 1730.6 893.1 1737.8 889.1 1741.4C885.1 1745.0 871.2 1748.1 867.6 1749.5M975.2 1660.7C975.7 1661.8 975.5 1666.7 977.9 1667.4C980.4 1668.1 987.8 1666.0 990.0 1664.7C992.3 1663.4 991.2 1660.2 991.4 1659.3M924.1 1808.7L937.6 1822.2M961.8 1806.0L969.9 1822.2M1000.0 1623.0C1002.2 1620.7 1008.1 1614.9 1013.5 1609.5C1018.8 1604.1 1026.5 1596.1 1032.3 1590.7C1038.1 1585.3 1044.5 1580.8 1048.4 1577.2C1052.4 1573.6 1054.7 1570.5 1056.0 1569.2M1137.3 1569.2C1137.0 1570.5 1137.3 1577.7 1135.9 1577.2C1134.6 1576.8 1132.1 1568.5 1129.2 1566.5C1126.3 1564.4 1122.0 1563.8 1118.4 1565.1C1114.8 1566.5 1111.7 1571.2 1107.7 1574.5C1103.6 1577.9 1098.2 1581.7 1094.2 1585.3C1090.2 1588.9 1085.5 1592.0 1083.4 1596.1C1081.4 1600.1 1081.9 1605.0 1082.1 1609.5C1082.3 1614.0 1083.7 1618.7 1084.8 1623.0C1085.9 1627.2 1089.0 1633.3 1088.8 1635.1C1088.6 1636.9 1085.2 1635.3 1083.4 1633.7C1081.6 1632.2 1080.7 1626.8 1078.1 1625.7C1075.4 1624.6 1071.3 1626.1 1067.3 1627.0C1063.3 1627.9 1058.3 1629.0 1053.8 1631.1C1049.3 1633.1 1041.3 1636.0 1040.4 1639.1C1039.5 1642.3 1048.9 1647.2 1048.4 1649.9C1048.0 1652.6 1041.3 1653.9 1037.7 1655.3C1034.1 1656.6 1029.2 1654.4 1026.9 1658.0C1024.7 1661.6 1026.0 1671.9 1024.2 1676.8C1022.4 1681.7 1019.3 1684.4 1016.1 1687.6C1013.0 1690.7 1006.7 1691.6 1005.4 1695.7C1004.0 1699.7 1004.9 1710.0 1008.1 1711.8C1011.2 1713.6 1020.6 1706.0 1024.2 1706.4C1027.8 1706.9 1030.1 1711.4 1029.6 1714.5C1029.2 1717.6 1025.1 1723.2 1021.5 1725.3C1017.9 1727.3 1011.7 1727.9 1008.1 1726.6C1004.5 1725.3 1003.2 1717.7 1000.0 1717.4C996.8 1717.2 991.9 1722.2 988.7 1725.3C985.5 1728.4 981.5 1732.9 980.6 1736.0C979.7 1739.2 982.9 1742.8 983.3 1744.1M1349.9 1382.1C1351.9 1382.3 1361.6 1381.4 1362.0 1383.4C1362.5 1385.5 1354.6 1391.1 1352.6 1394.2C1350.6 1397.3 1350.3 1400.9 1349.9 1402.3M1345.9 1429.2C1345.9 1431.9 1347.0 1440.0 1345.9 1445.3C1344.7 1450.7 1342.0 1457.0 1339.1 1461.5C1336.2 1466.0 1330.6 1467.8 1328.4 1472.3C1326.1 1476.7 1327.5 1483.0 1325.7 1488.4C1323.9 1493.8 1320.3 1500.1 1317.6 1504.6C1314.9 1509.0 1312.7 1511.7 1309.5 1515.3C1306.4 1518.9 1300.1 1522.9 1298.8 1526.1C1297.4 1529.2 1299.9 1532.1 1301.4 1534.2C1303.0 1536.2 1309.1 1536.9 1308.2 1538.2C1307.3 1539.5 1299.7 1539.8 1296.1 1542.2C1292.5 1544.7 1288.0 1549.6 1286.6 1553.0C1285.3 1556.4 1289.1 1561.3 1288.0 1562.4C1286.9 1563.5 1282.2 1562.2 1279.9 1559.7C1277.7 1557.3 1275.0 1552.3 1274.5 1547.6C1274.1 1542.9 1277.2 1535.7 1277.2 1531.5C1277.2 1527.2 1276.3 1523.6 1274.5 1522.0C1272.7 1520.5 1269.2 1520.5 1266.5 1522.0C1263.8 1523.6 1260.2 1528.1 1258.4 1531.5C1256.6 1534.8 1259.3 1539.8 1255.7 1542.2C1252.1 1544.7 1242.2 1543.6 1236.9 1546.3C1231.5 1549.0 1227.0 1554.6 1223.4 1558.4C1219.8 1562.2 1218.9 1567.8 1215.3 1569.2C1211.7 1570.5 1205.5 1565.6 1201.9 1566.5C1198.3 1567.4 1196.0 1571.4 1193.8 1574.5C1191.5 1577.7 1191.5 1582.6 1188.4 1585.3C1185.3 1588.0 1179.4 1588.4 1174.9 1590.7C1170.5 1592.9 1166.4 1595.6 1161.5 1598.8C1156.6 1601.9 1151.2 1606.8 1145.3 1609.5C1139.5 1612.2 1132.8 1612.9 1126.5 1614.9C1120.2 1616.9 1111.7 1619.2 1107.7 1621.6C1103.6 1624.1 1102.3 1627.5 1102.3 1629.7C1102.3 1632.0 1104.1 1634.9 1107.7 1635.1C1111.2 1635.3 1118.0 1632.2 1123.8 1631.1C1129.6 1629.9 1136.8 1630.6 1142.7 1628.4C1148.5 1626.1 1153.9 1619.6 1158.8 1617.6C1163.7 1615.6 1168.2 1616.5 1172.3 1616.3C1176.3 1616.0 1183.0 1613.8 1183.0 1616.3C1183.0 1618.7 1176.3 1626.8 1172.3 1631.1C1168.2 1635.3 1164.2 1638.7 1158.8 1641.8C1153.4 1645.0 1146.2 1647.2 1140.0 1649.9C1133.7 1652.6 1126.5 1655.7 1121.1 1658.0C1115.7 1660.2 1112.6 1663.1 1107.7 1663.4C1102.7 1663.6 1096.0 1661.8 1091.5 1659.3C1087.0 1656.8 1083.4 1648.8 1080.7 1648.6C1078.1 1648.3 1076.7 1654.6 1075.4 1658.0C1074.0 1661.3 1074.9 1665.6 1072.7 1668.7C1070.4 1671.9 1065.0 1673.7 1061.9 1676.8C1058.8 1680.0 1052.9 1684.9 1053.8 1687.6C1054.7 1690.3 1064.1 1690.3 1067.3 1693.0C1070.4 1695.7 1074.9 1701.5 1072.7 1703.7C1070.4 1706.0 1056.1 1704.2 1053.8 1706.4C1051.6 1708.7 1061.5 1714.5 1059.2 1717.2C1057.0 1719.9 1043.1 1719.4 1040.4 1722.6C1037.7 1725.7 1043.1 1731.5 1043.1 1736.0C1043.1 1740.5 1043.1 1747.5 1040.4 1749.5C1037.7 1751.5 1031.0 1747.2 1026.9 1748.1C1022.9 1749.0 1020.6 1755.3 1016.1 1754.9C1011.7 1754.4 1002.7 1747.2 1000.0 1745.6M1274.5 1428.7C1273.6 1429.2 1273.6 1430.0 1269.2 1431.9C1264.7 1433.8 1254.3 1436.8 1247.6 1440.0C1240.9 1443.1 1234.6 1447.1 1228.8 1450.7C1222.9 1454.3 1216.0 1460.6 1212.6 1461.5C1209.3 1462.4 1210.8 1455.7 1208.6 1456.1C1206.3 1456.6 1203.0 1461.5 1199.2 1464.2C1195.4 1466.9 1190.2 1470.9 1185.7 1472.3C1181.2 1473.6 1175.8 1474.5 1172.3 1472.3C1168.7 1470.0 1163.7 1463.3 1164.2 1458.8C1164.6 1454.3 1172.7 1450.3 1174.9 1445.3C1177.2 1440.4 1175.4 1433.7 1177.6 1429.2C1179.9 1424.7 1185.3 1421.1 1188.4 1418.4C1191.5 1415.7 1194.9 1415.1 1196.5 1413.0C1198.1 1411.0 1197.6 1407.4 1197.8 1406.3M1216.7 1405.0C1217.1 1408.6 1217.3 1424.3 1219.4 1426.5C1221.4 1428.7 1224.1 1421.6 1228.8 1418.4C1233.5 1415.3 1243.6 1409.9 1247.6 1407.7C1251.7 1405.4 1252.1 1405.4 1253.0 1405.0M1185.7 1372.7C1185.9 1374.0 1186.2 1379.0 1187.1 1380.7C1187.9 1382.5 1190.2 1383.0 1190.8 1383.4M1641.8 1399.6C1640.6 1399.8 1638.0 1401.2 1634.6 1400.9C1631.1 1400.7 1625.6 1399.4 1621.1 1398.2C1616.6 1397.1 1612.4 1394.4 1607.7 1394.2C1603.0 1394.0 1596.9 1397.3 1592.9 1396.9C1588.8 1396.4 1585.9 1393.8 1583.4 1391.5C1581.0 1389.3 1578.5 1386.4 1578.1 1383.4C1577.6 1380.5 1581.6 1376.9 1580.7 1374.0C1579.8 1371.1 1576.3 1368.2 1572.7 1365.9C1569.1 1363.7 1564.1 1363.0 1559.2 1360.6C1554.3 1358.1 1548.4 1354.1 1543.1 1351.1C1537.7 1348.2 1532.3 1345.8 1526.9 1343.1C1521.5 1340.4 1513.6 1336.4 1510.8 1335.0C1507.9 1333.6 1512.1 1334.9 1510.0 1334.7C1507.9 1334.4 1503.1 1333.6 1497.9 1333.6C1492.8 1333.7 1480.4 1333.0 1479.1 1335.0C1477.7 1337.0 1485.4 1342.6 1489.9 1345.8C1494.3 1348.9 1502.6 1350.9 1506.0 1353.8C1509.4 1356.8 1509.2 1361.2 1510.0 1363.4C1510.8 1365.6 1508.4 1365.7 1510.8 1367.3C1513.1 1368.8 1519.7 1370.7 1524.2 1372.7C1528.7 1374.7 1533.6 1377.2 1537.7 1379.4C1541.7 1381.6 1546.2 1382.8 1548.4 1386.1C1550.7 1389.5 1551.6 1396.0 1551.1 1399.6C1550.7 1403.2 1549.3 1405.4 1545.8 1407.7C1542.2 1409.9 1534.5 1411.9 1529.6 1413.0C1524.7 1414.2 1519.4 1413.9 1516.1 1414.4C1512.9 1414.8 1511.7 1415.6 1510.0 1415.8C1508.3 1416.0 1506.7 1415.7 1506.0 1415.7M1468.3 1445.3C1469.7 1444.0 1472.8 1437.3 1476.4 1437.3C1480.0 1437.3 1487.2 1442.7 1489.9 1445.3C1492.5 1448.0 1490.3 1452.5 1492.5 1453.4C1494.8 1454.3 1500.8 1450.3 1503.3 1450.7C1505.8 1451.2 1507.8 1454.3 1507.3 1456.1C1506.9 1457.9 1504.4 1460.6 1500.6 1461.5C1496.8 1462.4 1488.5 1460.6 1484.5 1461.5C1480.4 1462.4 1479.1 1467.3 1476.4 1466.9C1473.7 1466.4 1469.7 1462.4 1468.3 1458.8C1467.0 1455.2 1468.3 1447.6 1468.3 1445.3M1234.2 1579.9C1236.4 1579.5 1242.7 1579.0 1247.6 1577.2C1252.6 1575.4 1260.2 1571.6 1263.8 1569.2C1267.4 1566.7 1269.6 1563.8 1269.2 1562.4C1268.7 1561.1 1265.6 1560.0 1261.1 1561.1C1256.6 1562.2 1247.6 1566.5 1242.2 1569.2C1236.9 1571.8 1229.2 1573.6 1228.8 1577.2C1228.3 1580.8 1234.6 1588.4 1239.5 1590.7C1244.5 1592.9 1252.6 1589.3 1258.4 1590.7C1264.2 1592.0 1269.2 1597.2 1274.5 1598.8C1279.9 1600.3 1286.6 1601.0 1290.7 1600.1C1294.7 1599.2 1298.3 1596.3 1298.8 1593.4C1299.2 1590.5 1291.6 1585.3 1293.4 1582.6C1295.2 1579.9 1304.6 1579.5 1309.5 1577.2C1314.5 1575.0 1319.6 1572.7 1323.0 1569.2C1326.3 1565.6 1328.8 1561.1 1329.7 1555.7C1330.6 1550.3 1327.2 1541.8 1328.4 1536.9C1329.5 1531.9 1332.0 1529.2 1336.4 1526.1C1340.9 1522.9 1349.4 1520.3 1355.3 1518.0C1361.1 1515.8 1367.4 1513.1 1371.4 1512.6C1375.5 1512.2 1378.6 1512.6 1379.5 1515.3C1380.4 1518.0 1379.5 1524.3 1376.8 1528.8C1374.1 1533.3 1364.3 1538.6 1363.4 1542.2C1362.5 1545.8 1367.8 1551.2 1371.4 1550.3C1375.0 1549.4 1380.4 1540.9 1384.9 1536.9C1389.4 1532.8 1393.0 1526.5 1398.3 1526.1C1403.7 1525.6 1411.8 1533.3 1417.2 1534.2C1422.6 1535.1 1426.2 1533.7 1430.6 1531.5C1435.1 1529.2 1438.7 1522.0 1444.1 1520.7C1449.5 1519.4 1458.0 1524.5 1462.9 1523.4C1467.9 1522.3 1468.8 1515.3 1473.7 1514.0C1478.6 1512.6 1488.5 1513.5 1492.5 1515.3C1496.6 1517.1 1495.0 1522.8 1497.9 1524.7C1500.8 1526.7 1507.0 1526.3 1510.0 1526.9C1513.0 1527.5 1512.0 1527.7 1516.1 1528.2C1520.3 1528.8 1528.7 1528.7 1535.0 1530.1C1541.3 1531.6 1550.7 1535.7 1553.8 1536.9M1387.6 1507.2C1389.4 1506.8 1395.4 1503.7 1398.3 1504.6C1401.3 1505.5 1405.5 1510.4 1405.1 1512.6C1404.6 1514.9 1398.8 1517.8 1395.7 1518.0C1392.5 1518.2 1387.6 1515.8 1386.2 1514.0C1384.9 1512.2 1387.4 1508.4 1387.6 1507.2M1414.5 1512.6C1416.3 1511.1 1420.3 1505.2 1425.3 1503.2C1430.2 1501.2 1440.5 1499.8 1444.1 1500.5C1447.7 1501.2 1448.1 1504.3 1446.8 1507.2C1445.4 1510.2 1440.5 1515.8 1436.0 1518.0C1431.5 1520.3 1423.5 1521.6 1419.9 1520.7C1416.3 1519.8 1415.4 1514.0 1414.5 1512.6M1444.1 1561.1C1445.0 1560.0 1446.1 1555.7 1449.5 1554.3C1452.8 1553.0 1462.9 1551.9 1464.3 1553.0C1465.6 1554.1 1460.9 1559.5 1457.6 1561.1C1454.2 1562.6 1446.3 1562.2 1444.1 1562.4M1553.8 1546.3C1552.0 1545.6 1547.6 1543.8 1543.1 1542.2C1538.6 1540.7 1532.3 1537.3 1526.9 1536.9C1521.5 1536.4 1513.6 1539.3 1510.8 1539.5C1507.9 1539.8 1511.2 1539.0 1510.0 1538.6C1508.8 1538.2 1507.6 1536.7 1503.3 1536.9C1499.1 1537.0 1489.4 1537.8 1484.5 1539.5C1479.5 1541.3 1475.5 1544.0 1473.7 1547.6C1471.9 1551.2 1471.9 1557.0 1473.7 1561.1C1475.5 1565.1 1479.5 1569.2 1484.5 1571.8C1489.4 1574.5 1499.1 1576.9 1503.3 1577.2C1507.6 1577.6 1507.9 1575.4 1510.0 1574.1C1512.1 1572.7 1516.0 1571.3 1516.1 1569.2C1516.3 1567.0 1511.8 1562.6 1510.8 1561.1C1509.7 1559.6 1510.1 1560.3 1510.0 1560.1M1506.0 1553.0C1506.7 1553.2 1508.8 1554.1 1510.0 1553.9C1511.2 1553.7 1511.5 1550.0 1513.5 1551.7C1515.4 1553.3 1518.8 1561.1 1521.5 1563.8C1524.2 1566.5 1526.5 1568.7 1529.6 1567.8C1532.7 1566.9 1536.3 1559.7 1540.4 1558.4C1544.4 1557.0 1551.6 1559.5 1553.8 1559.7M1323.0 1604.1C1326.6 1604.1 1341.8 1602.6 1344.5 1604.1C1347.2 1605.7 1342.0 1612.0 1339.1 1613.6C1336.2 1615.1 1329.7 1615.1 1327.0 1613.6C1324.3 1612.0 1323.7 1605.7 1323.0 1604.1M1255.7 1614.9C1257.9 1614.5 1264.7 1612.4 1269.2 1612.2C1273.6 1612.0 1279.2 1612.7 1282.6 1613.6C1286.0 1614.5 1289.3 1615.6 1289.3 1617.6C1289.3 1619.6 1285.5 1624.3 1282.6 1625.7C1279.7 1627.0 1274.5 1626.8 1271.8 1625.7C1269.2 1624.6 1268.7 1620.1 1266.5 1618.9C1264.2 1617.8 1260.2 1619.6 1258.4 1618.9C1256.6 1618.3 1256.1 1615.6 1255.7 1614.9M1358.0 1613.6C1360.2 1613.3 1366.5 1613.3 1371.4 1612.2C1376.4 1611.1 1384.7 1605.9 1387.6 1606.8C1390.5 1607.7 1389.8 1613.6 1388.9 1617.6C1388.0 1621.6 1382.0 1627.5 1382.2 1631.1C1382.4 1634.6 1388.5 1636.0 1390.3 1639.1C1392.1 1642.3 1393.9 1647.2 1393.0 1649.9C1392.1 1652.6 1387.4 1654.8 1384.9 1655.3C1382.4 1655.7 1379.3 1653.0 1378.2 1652.6M1298.8 1633.7C1296.5 1634.2 1288.0 1634.9 1285.3 1636.4C1282.6 1638.0 1281.7 1641.4 1282.6 1643.2C1283.5 1645.0 1288.0 1644.7 1290.7 1647.2C1293.4 1649.7 1297.4 1656.2 1298.8 1658.0M1301.4 1671.4L1309.5 1674.1M1347.2 1671.4C1347.7 1673.2 1347.7 1681.3 1349.9 1682.2C1352.1 1683.1 1358.4 1678.7 1360.7 1676.8C1362.9 1674.9 1362.9 1671.9 1363.4 1670.9M1441.9 1631.1C1441.0 1631.5 1437.9 1635.1 1436.0 1633.7C1434.1 1632.4 1432.4 1622.5 1430.6 1623.0C1428.8 1623.4 1427.1 1632.0 1425.3 1636.4C1423.5 1640.9 1419.9 1646.3 1419.9 1649.9C1419.9 1653.5 1421.2 1657.5 1425.3 1658.0C1429.3 1658.4 1441.0 1653.5 1444.1 1652.6M1454.9 1590.7C1456.2 1591.1 1458.9 1593.2 1462.9 1593.4C1467.0 1593.6 1476.4 1592.3 1479.1 1592.0M1428.0 1671.4C1429.7 1671.0 1436.5 1667.8 1438.7 1668.7C1441.0 1669.6 1442.3 1674.3 1441.4 1676.8C1440.5 1679.3 1435.8 1683.1 1433.3 1683.5C1430.9 1684.0 1427.5 1681.5 1426.6 1679.5C1425.7 1677.5 1427.7 1672.8 1428.0 1671.4M1219.1 1711.8C1222.9 1712.0 1233.9 1713.1 1242.2 1713.1C1250.6 1713.1 1260.2 1711.4 1269.2 1711.8C1278.1 1712.2 1287.1 1714.0 1296.1 1715.8C1305.0 1717.6 1314.0 1719.2 1323.0 1722.6C1332.0 1725.9 1341.8 1732.4 1349.9 1736.0C1358.0 1739.6 1363.8 1743.2 1371.4 1744.1C1379.1 1745.0 1388.0 1742.8 1395.7 1741.4C1403.3 1740.1 1411.4 1736.0 1417.2 1736.0C1423.0 1736.0 1426.2 1740.5 1430.6 1741.4C1435.1 1742.3 1440.5 1739.6 1444.1 1741.4C1447.7 1743.2 1449.5 1751.7 1452.2 1752.2C1454.9 1752.6 1459.4 1747.2 1460.2 1744.1C1461.1 1741.0 1459.8 1736.9 1457.6 1733.3C1455.3 1729.7 1449.5 1725.7 1446.8 1722.6C1444.1 1719.4 1439.6 1716.1 1441.4 1714.5C1443.2 1712.9 1453.1 1711.8 1457.6 1713.1C1462.0 1714.5 1465.6 1717.9 1468.3 1722.6C1471.0 1727.3 1471.9 1735.6 1473.7 1741.4C1475.5 1747.2 1477.3 1752.2 1479.1 1757.6C1480.9 1762.9 1482.2 1768.3 1484.5 1773.7C1486.7 1779.1 1489.4 1785.8 1492.5 1789.9C1495.7 1793.9 1500.4 1795.9 1503.3 1797.9C1506.2 1800.0 1507.4 1800.6 1510.0 1802.2C1512.6 1803.8 1518.8 1806.0 1518.8 1807.3C1518.8 1808.7 1511.5 1809.8 1510.0 1810.3M1179.0 1722.6C1178.3 1725.7 1176.5 1736.5 1174.9 1741.4C1173.4 1746.3 1168.2 1749.0 1169.6 1752.2C1170.9 1755.3 1179.4 1757.6 1183.0 1760.2C1186.6 1762.9 1190.2 1765.6 1191.1 1768.3C1192.0 1771.0 1191.5 1774.2 1188.4 1776.4C1185.3 1778.6 1176.3 1780.0 1172.3 1781.8C1168.2 1783.6 1165.1 1784.5 1164.2 1787.2C1163.3 1789.9 1162.8 1795.2 1166.9 1797.9C1170.9 1800.6 1180.3 1802.0 1188.4 1803.3C1196.5 1804.7 1208.1 1806.0 1215.3 1806.0C1222.6 1806.0 1229.2 1803.8 1232.0 1803.3M1345.9 1797.9C1348.8 1798.8 1357.3 1801.1 1363.4 1803.3C1369.4 1805.6 1375.5 1809.1 1382.2 1811.4C1388.9 1813.6 1395.7 1815.4 1403.7 1816.8C1411.8 1818.1 1426.2 1819.0 1430.6 1819.5M1083.4 1725.3C1084.3 1726.2 1088.4 1727.5 1088.8 1730.6C1089.3 1733.8 1088.4 1740.1 1086.1 1744.1C1083.9 1748.1 1080.7 1751.7 1075.4 1754.9C1070.0 1758.0 1060.6 1760.7 1053.8 1762.9C1047.1 1765.2 1039.5 1766.1 1035.0 1768.3C1030.5 1770.6 1030.1 1775.1 1026.9 1776.4C1023.8 1777.7 1019.7 1775.5 1016.1 1776.4C1012.6 1777.3 1006.3 1778.2 1005.4 1781.8C1004.5 1785.4 1007.6 1793.0 1010.8 1797.9C1013.9 1802.9 1019.3 1807.1 1024.2 1811.4C1029.2 1815.6 1037.7 1821.5 1040.4 1823.5M1056.5 1698.3C1058.8 1696.5 1064.1 1691.2 1070.0 1687.6C1075.8 1684.0 1085.2 1679.1 1091.5 1676.8C1097.8 1674.6 1102.7 1671.4 1107.7 1674.1C1112.6 1676.8 1121.1 1688.5 1121.1 1693.0C1121.1 1697.4 1113.0 1698.3 1107.7 1701.0C1102.3 1703.7 1095.5 1707.3 1088.8 1709.1C1082.1 1710.9 1072.7 1712.7 1067.3 1711.8C1061.9 1710.9 1058.3 1706.0 1056.5 1703.7C1054.7 1701.5 1056.5 1699.2 1056.5 1698.3M1016.1 1353.8C1017.3 1353.6 1021.3 1351.4 1022.9 1352.5C1024.4 1353.6 1026.0 1358.3 1025.6 1360.6C1025.1 1362.8 1021.8 1366.4 1020.2 1365.9C1018.6 1365.5 1016.8 1359.9 1016.1 1357.9C1015.5 1355.8 1016.1 1354.5 1016.1 1353.8M1384.9 1582.6C1385.6 1581.7 1387.1 1577.2 1388.9 1577.2C1390.7 1577.2 1394.8 1580.6 1395.7 1582.6C1396.5 1584.6 1395.7 1587.8 1394.3 1589.3C1393.0 1590.9 1389.8 1592.3 1387.6 1592.0C1385.3 1591.8 1381.3 1589.6 1380.8 1588.0C1380.4 1586.4 1384.2 1583.5 1384.9 1582.6M1510.0 1420.4C1510.1 1420.5 1508.4 1420.3 1510.8 1421.1C1513.1 1421.9 1521.6 1424.1 1524.2 1425.2C1526.9 1426.2 1524.8 1425.6 1526.6 1427.2C1528.4 1428.8 1532.2 1431.6 1535.0 1434.6C1537.7 1437.6 1541.0 1440.9 1543.1 1445.3C1545.1 1449.8 1547.1 1458.1 1547.1 1461.5C1547.1 1464.9 1545.5 1465.5 1543.1 1465.5C1540.6 1465.5 1535.0 1463.5 1532.3 1461.5C1529.6 1459.5 1528.7 1456.1 1526.9 1453.4C1525.1 1450.7 1522.2 1448.5 1521.5 1445.3C1520.9 1442.2 1522.0 1437.6 1522.9 1434.6C1523.7 1431.6 1525.9 1428.5 1526.6 1427.2C1527.2 1425.9 1524.6 1427.5 1526.9 1426.5C1529.2 1425.5 1535.0 1422.9 1540.4 1421.1C1545.8 1419.3 1552.9 1417.1 1559.2 1415.7C1565.5 1414.4 1573.1 1413.0 1578.1 1413.0C1583.0 1413.0 1586.1 1413.9 1588.8 1415.7C1591.5 1417.5 1593.5 1420.7 1594.2 1423.8C1594.9 1426.9 1592.9 1431.9 1592.9 1434.6C1592.9 1437.3 1591.7 1439.0 1594.2 1440.0C1596.7 1440.9 1602.7 1440.6 1607.7 1440.5C1612.6 1440.4 1618.1 1439.7 1623.8 1439.4C1629.5 1439.1 1638.8 1438.7 1641.8 1438.6M1654.8 1367.3C1655.4 1366.2 1657.2 1361.9 1658.8 1360.6C1660.4 1359.2 1661.9 1358.1 1664.2 1359.2C1666.4 1360.3 1669.6 1364.1 1672.3 1367.3C1674.9 1370.4 1678.1 1375.1 1680.3 1378.1C1682.6 1381.0 1686.6 1383.9 1685.7 1384.8C1684.8 1385.7 1679.0 1384.6 1674.9 1383.4C1670.9 1382.3 1664.6 1379.8 1661.5 1378.1C1658.4 1376.3 1657.2 1374.5 1656.1 1372.7C1655.0 1370.9 1655.0 1368.2 1654.8 1367.3M1685.7 1386.1L1704.6 1387.5M1779.9 1364.6C1781.3 1363.7 1785.3 1359.9 1788.0 1359.2C1790.7 1358.5 1794.5 1358.3 1796.1 1360.6C1797.6 1362.8 1798.5 1370.2 1797.4 1372.7C1796.3 1375.1 1792.3 1376.7 1789.3 1375.4C1786.4 1374.0 1781.5 1366.4 1779.9 1364.6M1796.1 1353.8C1796.7 1352.7 1799.0 1347.8 1800.1 1347.1C1801.2 1346.4 1803.0 1348.2 1802.8 1349.8C1802.6 1351.4 1799.9 1355.8 1798.8 1356.5C1797.6 1357.2 1796.5 1354.3 1796.1 1353.8M1835.5 1310.0C1835.7 1310.1 1834.5 1310.4 1836.4 1310.8C1838.4 1311.1 1845.0 1312.2 1847.2 1312.1C1849.5 1312.0 1850.4 1310.6 1850.0 1310.0C1849.5 1309.4 1847.7 1309.8 1844.5 1308.7C1841.4 1307.6 1833.7 1305.1 1831.1 1303.3C1828.4 1301.5 1827.5 1300.2 1828.4 1297.9C1829.3 1295.7 1832.9 1291.4 1836.4 1289.9C1840.0 1288.3 1847.7 1288.7 1849.9 1288.5M1941.4 1335.0C1942.8 1334.3 1947.2 1330.5 1949.5 1331.0C1951.7 1331.4 1954.4 1333.9 1954.9 1337.7C1955.3 1341.5 1953.5 1349.1 1952.2 1353.8C1950.8 1358.5 1948.6 1364.6 1946.8 1365.9C1945.0 1367.3 1942.5 1364.8 1941.4 1361.9C1940.3 1359.0 1940.1 1352.9 1940.1 1348.4C1940.1 1344.0 1941.2 1337.2 1941.4 1335.0M1961.6 1359.2C1962.5 1359.0 1965.9 1357.0 1967.0 1357.9C1968.1 1358.8 1969.0 1363.0 1968.3 1364.6C1967.7 1366.2 1964.1 1368.2 1962.9 1367.3C1961.8 1366.4 1961.8 1360.6 1961.6 1359.2M1971.0 1413.0C1971.9 1411.9 1974.4 1406.8 1976.4 1406.3C1978.4 1405.9 1982.5 1407.9 1983.1 1410.4C1983.8 1412.8 1982.0 1418.9 1980.4 1421.1C1978.9 1423.4 1975.3 1425.2 1973.7 1423.8C1972.1 1422.5 1971.5 1414.8 1971.0 1413.0M2014.1 1477.6C2012.3 1478.8 2008.2 1484.4 2003.3 1484.4C1998.4 1484.4 1987.4 1481.5 1984.5 1477.6C1981.6 1473.8 1985.8 1466.4 1985.8 1461.5C1985.8 1456.6 1985.1 1452.5 1984.5 1448.0C1983.8 1443.5 1983.1 1437.5 1981.8 1434.6C1980.4 1431.7 1978.4 1430.1 1976.4 1430.5C1974.4 1431.0 1970.8 1433.9 1969.7 1437.3C1968.5 1440.6 1969.2 1446.7 1969.7 1450.7C1970.1 1454.8 1972.6 1458.4 1972.4 1461.5C1972.1 1464.6 1969.9 1467.3 1968.3 1469.6C1966.8 1471.8 1963.8 1474.1 1962.9 1474.9M1957.6 1474.9C1957.6 1471.8 1958.0 1461.0 1957.6 1456.1C1957.1 1451.2 1956.7 1447.8 1954.9 1445.3C1953.1 1442.9 1949.0 1440.9 1946.8 1441.3C1944.5 1441.8 1942.3 1445.1 1941.4 1448.0C1940.5 1450.9 1943.2 1455.9 1941.4 1458.8C1939.6 1461.7 1935.6 1463.3 1930.6 1465.5C1925.7 1467.8 1918.1 1469.3 1911.8 1472.3C1905.5 1475.2 1897.0 1480.3 1893.0 1483.0C1889.0 1485.7 1890.5 1485.3 1887.8 1488.4C1885.2 1491.5 1880.0 1496.5 1876.8 1501.9C1873.6 1507.2 1871.4 1514.4 1868.7 1520.7C1866.0 1527.0 1862.9 1535.5 1860.7 1539.5C1858.4 1543.6 1858.9 1542.9 1855.3 1544.9C1851.7 1546.9 1843.6 1549.4 1839.1 1551.7C1834.6 1553.9 1830.6 1555.0 1828.4 1558.4C1826.1 1561.7 1827.2 1567.4 1825.7 1571.8C1824.1 1576.3 1819.4 1580.8 1818.9 1585.3C1818.5 1589.8 1821.6 1594.7 1823.0 1598.8C1824.3 1602.8 1826.6 1607.1 1827.0 1609.5C1827.5 1612.0 1828.6 1612.0 1825.7 1613.6C1822.8 1615.1 1814.5 1617.8 1809.5 1618.9C1804.6 1620.1 1800.1 1621.0 1796.1 1620.3C1792.0 1619.6 1788.0 1616.7 1785.3 1614.9C1782.6 1613.1 1783.1 1610.9 1779.9 1609.5C1776.8 1608.2 1770.0 1607.7 1766.5 1606.8C1762.9 1605.9 1760.0 1605.9 1758.4 1604.1C1756.8 1602.3 1757.3 1597.4 1757.0 1596.1M1750.3 1531.5C1751.7 1530.1 1755.2 1525.4 1758.4 1523.4C1761.5 1521.4 1765.6 1520.6 1769.2 1519.4C1772.7 1518.1 1778.1 1516.4 1779.9 1515.9M1721.8 1539.5C1720.9 1540.0 1717.5 1539.1 1716.7 1542.2C1715.8 1545.4 1716.4 1553.9 1716.7 1558.4C1716.9 1562.9 1717.2 1566.9 1718.0 1569.2C1718.9 1571.4 1721.2 1571.4 1721.8 1571.8M1793.4 1597.4C1794.7 1597.9 1798.8 1599.9 1801.4 1600.1C1804.1 1600.3 1808.2 1599.0 1809.5 1598.8M1765.1 1459.3C1764.7 1457.9 1764.9 1452.7 1762.4 1450.7C1760.0 1448.8 1756.1 1447.7 1750.3 1447.5C1744.6 1447.3 1733.8 1448.4 1728.0 1449.4C1722.1 1450.4 1717.9 1453.4 1715.3 1453.4C1712.8 1453.4 1714.4 1449.4 1712.6 1449.4C1710.8 1449.4 1706.6 1451.8 1704.6 1453.4C1702.5 1455.0 1701.4 1456.6 1700.5 1458.8C1699.6 1461.0 1701.2 1464.6 1699.2 1466.9C1697.2 1469.1 1692.4 1470.0 1688.4 1472.3C1684.4 1474.5 1679.4 1478.5 1674.9 1480.3C1670.5 1482.1 1666.0 1482.1 1661.5 1483.0C1657.0 1483.9 1652.5 1484.4 1648.0 1485.7C1643.5 1487.1 1639.1 1488.9 1634.6 1491.1C1630.1 1493.3 1625.2 1497.2 1621.1 1499.2C1617.1 1501.2 1612.6 1503.7 1610.4 1503.2C1608.1 1502.8 1608.6 1498.9 1607.7 1496.5C1606.8 1494.0 1607.7 1489.8 1605.0 1488.4C1602.3 1487.1 1595.1 1487.5 1591.5 1488.4C1587.9 1489.3 1585.2 1491.5 1583.4 1493.8C1581.6 1496.0 1580.3 1499.6 1580.7 1501.9C1581.2 1504.1 1586.1 1505.5 1586.1 1507.2C1586.1 1509.0 1583.4 1510.8 1580.7 1512.6C1578.1 1514.4 1572.9 1515.8 1570.0 1518.0C1567.1 1520.3 1564.4 1524.7 1563.3 1526.1M1600.9 1470.9C1603.8 1470.0 1612.8 1465.3 1618.4 1465.5C1624.0 1465.8 1629.2 1471.1 1634.6 1472.3C1640.0 1473.4 1647.4 1471.8 1650.7 1472.3C1654.1 1472.7 1656.6 1473.2 1654.8 1474.9C1653.0 1476.7 1645.1 1481.0 1640.0 1483.0C1634.8 1485.0 1628.7 1487.5 1623.8 1487.1C1618.9 1486.6 1614.2 1483.0 1610.4 1480.3C1606.5 1477.6 1602.5 1472.5 1600.9 1470.9M1532.3 1491.1C1534.1 1490.9 1539.5 1488.9 1543.1 1489.8C1546.7 1490.6 1552.3 1493.6 1553.8 1496.5C1555.4 1499.4 1553.8 1504.8 1552.5 1507.2C1551.1 1509.7 1548.7 1512.4 1545.8 1511.3C1542.8 1510.2 1537.2 1503.9 1535.0 1500.5C1532.7 1497.2 1532.7 1492.7 1532.3 1491.1M1654.8 1507.2C1656.3 1506.3 1660.8 1502.3 1664.2 1501.9C1667.5 1501.4 1672.5 1503.2 1674.9 1504.6C1677.4 1505.9 1679.9 1508.4 1679.0 1509.9C1678.1 1511.5 1672.9 1513.3 1669.6 1514.0C1666.2 1514.6 1661.3 1515.1 1658.8 1514.0C1656.3 1512.9 1655.4 1508.4 1654.8 1507.2M1594.2 1523.4C1596.4 1522.3 1601.8 1518.5 1607.7 1516.7C1613.5 1514.9 1622.9 1514.0 1629.2 1512.6C1635.5 1511.3 1642.2 1508.1 1645.3 1508.6C1648.5 1509.0 1649.8 1513.1 1648.0 1515.3C1646.2 1517.6 1639.5 1520.3 1634.6 1522.0C1629.6 1523.8 1623.8 1525.4 1618.4 1526.1C1613.0 1526.8 1606.3 1526.5 1602.3 1526.1C1598.2 1525.6 1595.5 1523.8 1594.2 1523.4M1658.8 1534.2C1660.1 1534.6 1664.2 1533.7 1666.9 1536.9C1669.6 1540.0 1673.4 1548.5 1674.9 1553.0C1676.5 1557.5 1677.0 1561.1 1676.3 1563.8C1675.6 1566.5 1672.9 1570.9 1670.9 1569.2C1668.9 1567.4 1666.4 1557.5 1664.2 1553.0C1661.9 1548.5 1658.4 1545.4 1657.5 1542.2C1656.6 1539.1 1658.6 1535.5 1658.8 1534.2M1677.6 1539.5C1679.4 1538.0 1684.8 1533.9 1688.4 1530.1C1692.0 1526.3 1696.3 1519.1 1699.2 1516.7C1702.1 1514.2 1705.9 1513.3 1705.9 1515.3C1705.9 1517.3 1701.4 1525.2 1699.2 1528.8C1696.9 1532.4 1693.8 1533.7 1692.4 1536.9C1691.1 1540.0 1692.7 1546.3 1691.1 1547.6C1689.5 1549.0 1685.3 1546.3 1683.0 1544.9C1680.8 1543.6 1678.5 1540.4 1677.6 1539.5M1693.8 1553.0C1695.1 1552.8 1700.1 1549.0 1701.9 1551.7C1703.7 1554.3 1704.6 1564.9 1704.6 1569.2C1704.6 1573.4 1703.4 1577.2 1701.9 1577.2C1700.3 1577.2 1696.5 1573.2 1695.1 1569.2C1693.8 1565.1 1694.0 1555.7 1693.8 1553.0M1732.8 1500.5C1733.7 1500.3 1737.3 1498.5 1738.2 1499.2C1739.1 1499.8 1739.1 1503.4 1738.2 1504.6C1737.3 1505.7 1733.7 1506.6 1732.8 1505.9C1731.9 1505.2 1732.8 1501.4 1732.8 1500.5M1720.7 1601.4C1722.0 1601.0 1726.1 1598.5 1728.8 1598.8C1731.5 1599.0 1736.9 1601.4 1736.9 1602.8C1736.9 1604.1 1731.5 1607.1 1728.8 1606.8C1726.1 1606.6 1722.0 1602.3 1720.7 1601.4M1649.4 1609.5C1651.4 1609.1 1657.7 1606.8 1661.5 1606.8C1665.3 1606.8 1669.3 1610.4 1672.3 1609.5C1675.2 1608.6 1677.0 1602.3 1679.0 1601.4C1681.0 1600.6 1684.6 1601.9 1684.4 1604.1C1684.1 1606.4 1680.1 1612.0 1677.6 1614.9C1675.2 1617.8 1672.7 1621.2 1669.6 1621.6C1666.4 1622.1 1662.2 1619.6 1658.8 1617.6C1655.4 1615.6 1650.9 1610.9 1649.4 1609.5M1582.1 1616.3C1583.7 1615.8 1587.2 1614.7 1591.5 1613.6C1595.8 1612.4 1603.6 1609.3 1607.7 1609.5C1611.7 1609.7 1614.2 1612.7 1615.7 1614.9C1617.3 1617.1 1618.0 1620.3 1617.1 1623.0C1616.2 1625.7 1612.6 1630.4 1610.4 1631.1C1608.1 1631.7 1605.2 1629.3 1603.6 1627.0C1602.1 1624.8 1603.4 1618.7 1600.9 1617.6C1598.5 1616.5 1592.0 1620.5 1588.8 1620.3C1585.7 1620.1 1583.2 1616.9 1582.1 1616.3M1545.8 1574.5C1546.7 1572.7 1549.8 1565.1 1551.1 1563.8C1552.5 1562.4 1553.4 1566.0 1553.8 1566.5M1510.0 1588.1C1510.1 1588.1 1509.1 1587.3 1510.8 1588.0C1512.5 1588.7 1518.6 1591.4 1520.2 1592.0M1871.4 1674.1C1870.1 1672.8 1866.9 1668.5 1863.4 1666.0C1859.8 1663.6 1854.4 1661.1 1849.9 1659.3C1845.4 1657.5 1840.5 1655.7 1836.4 1655.3C1832.4 1654.8 1829.0 1657.5 1825.7 1656.6C1822.3 1655.7 1819.8 1649.7 1816.3 1649.9C1812.7 1650.1 1808.4 1654.8 1804.1 1658.0C1799.9 1661.1 1794.9 1665.6 1790.7 1668.7C1786.4 1671.9 1779.9 1674.1 1778.6 1676.8C1777.2 1679.5 1779.6 1681.3 1782.6 1684.9C1785.7 1688.5 1794.5 1696.1 1796.9 1698.3M1847.2 1730.6C1848.3 1731.0 1851.7 1732.8 1853.9 1732.8C1856.2 1732.8 1859.5 1731.0 1860.7 1730.6M1768.6 1693.5C1769.0 1693.6 1770.4 1693.5 1770.8 1694.3C1771.1 1695.1 1771.1 1697.8 1770.8 1698.3C1770.4 1698.9 1769.0 1698.6 1768.6 1697.8C1768.3 1697.0 1768.6 1694.2 1768.6 1693.5" fill="none" stroke="#000" stroke-width="2.4" stroke-linejoin="round" stroke-linecap="round"/>
<g fill="#000" stroke="#fff" stroke-width="1.2" stroke-opacity="0.75" stroke-linejoin="miter" paint-order="stroke">
<path d="M514.4 350.2L509.0 338.3L513.9 337.2L501.6 326.9L501.1 342.9L505.1 340.0L510.4 352.0Z"/>
<path d="M565.6 351.7L560.8 338.0L565.9 337.3L554.1 325.5L552.2 342.1L556.6 339.5L561.4 353.2Z"/>
<path d="M621.7 361.5L612.0 333.2L619.3 332.3L602.5 315.4L599.7 339.0L605.9 335.3L615.6 363.6Z"/>
<path d="M681.8 364.0L661.6 330.3L669.8 327.5L646.3 312.1L648.8 340.1L655.1 334.2L675.3 367.9Z"/>
<path d="M735.5 363.1L712.7 330.1L720.8 326.7L696.0 312.8L700.4 340.9L706.4 334.5L729.2 367.4Z"/>
<path d="M789.2 361.5L763.8 330.2L771.6 326.2L745.8 314.1L752.3 341.9L757.9 335.1L783.2 366.3Z"/>
<path d="M842.8 359.2L814.9 330.5L822.3 325.8L795.6 316.1L804.5 343.1L809.4 335.9L837.3 364.5Z"/>
<path d="M896.5 358.3L866.0 330.3L873.2 325.1L845.4 316.8L856.1 343.8L860.7 336.1L891.2 364.1Z"/>
<path d="M951.5 357.3L916.5 329.9L923.6 323.9L893.8 317.5L907.3 344.8L911.4 336.4L946.5 363.8Z"/>
<path d="M1004.8 352.3L967.3 331.0L973.4 324.1L943.6 322.2L960.5 346.8L963.3 338.0L1000.8 359.3Z"/>
<path d="M1058.2 343.4L1017.5 333.0L1021.5 324.9L992.7 330.8L1015.2 349.7L1015.6 340.7L1056.3 351.1Z"/>
<path d="M1111.0 334.3L1067.5 335.1L1069.2 326.0L1042.5 339.7L1069.8 352.2L1067.7 343.2L1111.2 342.4Z"/>
<path d="M1162.7 332.9L1119.2 335.5L1120.5 326.3L1094.3 341.0L1122.1 352.5L1119.6 343.6L1163.2 341.0Z"/>
<path d="M1213.0 331.7L1171.4 336.0L1172.3 327.0L1147.4 342.4L1174.9 352.4L1172.2 343.8L1213.8 339.6Z"/>
<path d="M1260.4 334.8L1225.6 335.6L1227.1 327.8L1203.9 339.7L1227.6 350.5L1225.8 342.7L1260.5 341.8Z"/>
<path d="M1310.9 335.6L1278.1 335.6L1279.7 328.1L1257.1 339.0L1279.7 349.9L1278.1 342.4L1310.9 342.4Z"/>
<path d="M1360.7 335.8L1330.8 335.8L1332.3 328.6L1310.9 339.0L1332.3 349.4L1330.8 342.2L1360.7 342.2Z"/>
<path d="M1409.1 330.7L1382.9 337.0L1382.7 330.1L1365.4 344.4L1387.3 349.1L1384.3 342.9L1410.5 336.6Z"/>
<path d="M1445.3 333.5L1440.7 336.2L1439.5 332.6L1432.7 343.0L1445.1 341.9L1442.5 339.1L1447.0 336.4Z"/>
<path d="M1497.2 334.2L1492.9 336.3L1491.9 332.7L1484.5 342.4L1496.7 342.2L1494.4 339.3L1498.7 337.1Z"/>
<path d="M1551.7 333.2L1543.6 336.7L1542.8 332.4L1533.6 343.0L1547.6 343.7L1545.1 340.2L1553.2 336.7Z"/>
<path d="M1601.1 332.2L1595.3 336.4L1593.7 332.6L1587.4 344.4L1600.5 342.0L1597.5 339.3L1603.3 335.1Z"/>
<path d="M1649.4 332.7L1647.2 335.6L1644.8 332.9L1642.6 344.4L1653.0 339.0L1649.7 337.5L1651.9 334.6Z"/>
<path d="M1703.6 333.6L1699.8 336.1L1698.5 332.6L1692.3 343.0L1704.3 341.4L1701.6 338.8L1705.4 336.3Z"/>
<path d="M1773.6 329.8L1744.5 337.1L1744.2 329.8L1726.0 345.1L1749.3 349.9L1746.1 343.3L1775.2 336.1Z"/>
<path d="M1823.5 325.3L1795.9 338.3L1794.2 331.1L1779.1 349.8L1803.1 350.0L1798.7 344.1L1826.3 331.2Z"/>
<path d="M1876.1 325.9L1847.6 338.1L1846.1 330.8L1830.2 349.1L1854.5 350.2L1850.2 344.1L1878.6 331.9Z"/>
<path d="M1927.6 323.9L1899.0 338.6L1897.0 331.3L1882.0 351.1L1906.9 350.5L1902.1 344.6L1930.7 329.9Z"/>
<path d="M1978.6 322.6L1950.8 339.0L1948.3 331.8L1934.5 352.5L1959.3 350.5L1954.2 344.8L1982.0 328.4Z"/>
<path d="M2022.2 329.5L2007.2 337.3L2005.7 332.1L1995.1 346.4L2012.9 345.8L2009.4 341.6L2024.4 333.7Z"/>
<path d="M496.0 399.1L489.1 385.2L494.2 383.9L480.6 373.4L480.8 390.6L485.0 387.3L491.9 401.2Z"/>
<path d="M548.1 401.3L540.8 384.5L546.4 383.3L532.4 371.3L531.6 389.7L536.2 386.5L543.5 403.3Z"/>
<path d="M604.8 410.3L591.6 379.9L599.3 378.4L580.1 361.9L579.0 387.1L585.4 382.7L598.5 413.0Z"/>
<path d="M660.5 409.2L642.3 379.4L649.8 376.7L627.9 362.6L630.4 388.5L636.3 383.0L654.5 412.9Z"/>
<path d="M714.8 406.8L693.2 379.5L700.4 376.0L677.0 364.6L682.6 390.0L687.7 383.9L709.2 411.2Z"/>
<path d="M768.5 406.6L744.4 379.1L751.5 375.0L726.8 364.6L733.9 390.5L738.9 383.9L763.1 411.4Z"/>
<path d="M823.0 406.3L795.2 378.5L802.4 373.8L775.9 364.6L785.1 391.1L789.8 383.9L817.6 411.7Z"/>
<path d="M875.2 404.2L846.7 379.1L853.5 374.0L827.0 366.6L837.6 392.0L841.8 384.6L870.3 409.8Z"/>
<path d="M928.4 404.7L898.0 378.6L905.0 373.2L877.5 365.9L888.8 392.1L893.0 384.4L923.4 410.6Z"/>
<path d="M983.9 401.6L948.2 378.6L954.6 372.2L925.2 368.6L940.6 393.9L943.9 385.4L979.6 408.3Z"/>
<path d="M1036.8 396.7L999.1 379.7L1004.4 372.5L975.4 373.3L994.0 395.6L995.9 386.9L1033.6 403.9Z"/>
<path d="M1092.0 393.6L1049.2 379.9L1053.8 371.7L1023.5 376.0L1045.7 397.2L1046.7 387.8L1089.5 401.5Z"/>
<path d="M1145.4 390.0L1099.9 380.6L1103.7 371.7L1073.2 379.4L1098.1 398.6L1098.1 388.9L1143.7 398.4Z"/>
<path d="M1193.4 386.3L1152.8 382.1L1155.5 373.6L1128.4 383.4L1152.9 398.6L1152.0 389.8L1192.6 394.0Z"/>
<path d="M1242.3 384.5L1205.6 382.8L1207.6 374.8L1182.9 385.5L1206.6 398.3L1205.2 390.1L1241.9 391.8Z"/>
<path d="M1292.7 384.6L1258.0 383.0L1260.0 375.2L1236.0 385.5L1258.9 397.9L1257.6 390.0L1292.4 391.7Z"/>
<path d="M1329.4 383.9L1316.1 384.6L1316.8 379.7L1302.6 387.5L1317.5 393.8L1316.3 389.0L1329.7 388.3Z"/>
<path d="M1391.8 381.0L1362.8 384.2L1363.5 377.0L1343.7 389.5L1365.8 397.3L1363.5 390.5L1392.5 387.3Z"/>
<path d="M1432.0 377.3L1417.9 385.1L1416.3 380.0L1406.2 394.2L1423.6 393.3L1420.2 389.2L1434.3 381.5Z"/>
<path d="M1478.7 380.5L1472.2 384.3L1470.9 380.4L1463.4 391.5L1476.8 390.5L1474.1 387.4L1480.5 383.7Z"/>
<path d="M1530.7 381.8L1524.6 384.3L1523.9 380.4L1515.2 390.2L1528.2 390.9L1526.0 387.6L1532.1 385.1Z"/>
<path d="M1578.2 382.3L1577.0 383.3L1575.5 380.4L1571.1 390.2L1581.5 387.6L1578.9 385.5L1580.1 384.5Z"/>
<path d="M1631.9 380.8L1628.0 383.9L1626.3 380.5L1620.8 391.5L1632.9 388.9L1630.0 386.5L1634.0 383.4Z"/>
<path d="M1683.3 382.1L1680.6 383.8L1679.4 380.5L1673.3 390.2L1684.7 388.9L1682.3 386.4L1684.9 384.7Z"/>
<path d="M1753.6 375.0L1724.3 385.5L1723.3 378.1L1706.3 395.5L1730.5 398.1L1726.5 391.7L1755.8 381.1Z"/>
<path d="M1802.5 373.9L1776.9 385.9L1775.3 379.0L1760.8 396.9L1783.8 397.2L1779.5 391.5L1805.2 379.5Z"/>
<path d="M1846.5 378.0L1832.5 385.0L1831.1 379.9L1820.6 393.5L1837.9 393.3L1834.6 389.2L1848.6 382.2Z"/>
<path d="M1908.7 372.3L1879.2 386.2L1877.4 378.8L1861.7 398.2L1886.7 398.5L1882.1 392.4L1911.6 378.4Z"/>
<path d="M1959.5 369.7L1930.7 387.0L1928.1 379.6L1914.1 400.9L1939.5 398.7L1934.2 392.9L1963.0 375.6Z"/>
<path d="M2007.8 369.4L1983.5 387.2L1980.5 380.5L1969.3 401.6L1992.8 397.3L1987.3 392.4L2011.6 374.6Z"/>
<path d="M2056.9 374.0L2037.4 385.9L2035.3 380.0L2024.2 397.3L2044.7 395.2L2040.3 390.6L2059.8 378.7Z"/>
<path d="M515.4 442.9L509.2 434.2L513.4 432.3L500.3 425.2L502.8 439.9L505.9 436.5L512.1 445.2Z"/>
<path d="M573.8 455.3L559.2 428.5L566.2 426.4L546.7 412.4L547.8 436.4L553.5 431.6L568.1 458.4Z"/>
<path d="M626.3 455.9L610.8 428.1L618.0 425.8L597.8 411.7L599.3 436.3L605.0 431.3L620.5 459.1Z"/>
<path d="M680.1 455.6L662.0 427.7L669.3 424.9L647.6 411.7L650.7 436.9L656.2 431.4L674.3 459.3Z"/>
<path d="M736.5 455.1L712.3 426.7L719.6 422.6L694.7 411.7L701.5 438.0L706.7 431.4L730.9 459.9Z"/>
<path d="M788.2 453.7L764.1 427.1L771.1 423.0L746.5 413.1L753.9 438.5L758.7 431.9L782.9 458.5Z"/>
<path d="M843.8 451.9L814.4 426.7L821.2 421.5L794.2 414.4L805.4 439.9L809.5 432.4L838.9 457.6Z"/>
<path d="M898.7 449.5L864.8 426.7L871.2 420.5L842.7 416.4L857.1 441.3L860.5 433.1L894.3 456.0Z"/>
<path d="M951.0 448.1L916.3 427.0L922.4 420.5L893.8 417.8L909.3 441.9L912.3 433.6L947.0 454.7Z"/>
<path d="M1003.3 446.7L967.8 427.2L973.5 420.5L944.9 419.1L961.5 442.5L964.1 434.0L999.6 453.5Z"/>
<path d="M1054.6 441.9L1019.4 428.5L1024.0 421.5L996.7 423.8L1015.5 443.7L1016.8 435.4L1051.9 448.8Z"/>
<path d="M1109.4 438.9L1069.6 428.7L1073.5 420.7L1045.2 426.5L1067.3 445.2L1067.7 436.3L1107.5 446.5Z"/>
<path d="M1161.5 435.4L1120.8 429.5L1123.9 421.2L1096.3 429.9L1120.2 446.1L1119.7 437.2L1160.3 443.2Z"/>
<path d="M1209.0 433.8L1174.2 430.5L1176.6 422.8L1152.1 431.9L1174.4 445.5L1173.5 437.5L1208.3 440.8Z"/>
<path d="M1261.3 432.4L1225.6 430.7L1227.6 422.8L1203.3 433.3L1226.5 445.9L1225.2 437.9L1261.0 439.5Z"/>
<path d="M1296.3 429.8L1283.8 432.4L1283.8 427.6L1271.2 437.3L1286.7 441.1L1284.7 436.7L1297.2 434.0Z"/>
<path d="M1356.7 431.8L1332.6 431.8L1333.9 425.4L1314.9 434.6L1333.9 443.8L1332.6 437.4L1356.7 437.4Z"/>
<path d="M1412.7 428.0L1381.8 432.0L1382.4 424.6L1362.0 438.0L1385.2 445.6L1382.7 438.6L1413.6 434.5Z"/>
<path d="M1453.7 424.3L1436.7 433.1L1435.1 427.6L1423.9 442.7L1442.7 442.1L1439.1 437.6L1456.1 428.8Z"/>
<path d="M1499.2 428.9L1492.0 432.2L1491.1 428.1L1482.5 438.6L1496.1 438.9L1493.6 435.5L1500.7 432.2Z"/>
<path d="M1548.2 429.2L1544.4 431.7L1543.1 428.2L1536.9 438.6L1548.9 437.0L1546.2 434.4L1550.0 431.9Z"/>
<path d="M1601.5 429.7L1596.3 432.0L1595.5 428.3L1587.4 438.0L1600.0 438.3L1597.7 435.1L1602.9 432.8Z"/>
<path d="M1653.8 428.3L1647.3 432.1L1646.0 428.2L1638.5 439.3L1651.9 438.3L1649.2 435.2L1655.6 431.5Z"/>
<path d="M1707.0 428.2L1698.8 432.3L1697.7 428.0L1689.0 439.3L1703.2 439.1L1700.5 435.7L1708.7 431.6Z"/>
<path d="M1773.7 420.7L1743.3 433.9L1741.8 426.2L1725.3 445.4L1750.5 446.5L1746.1 440.1L1776.4 427.0Z"/>
<path d="M1825.5 420.7L1795.1 433.9L1793.6 426.2L1777.1 445.4L1802.3 446.5L1797.9 440.1L1828.2 427.0Z"/>
<path d="M1877.2 419.4L1846.7 434.2L1844.7 426.6L1828.9 446.7L1854.5 446.7L1849.7 440.4L1880.2 425.6Z"/>
<path d="M1927.5 418.2L1898.7 434.6L1896.3 427.2L1882.0 448.1L1907.2 446.3L1902.1 440.5L1930.8 424.1Z"/>
<path d="M1977.1 417.7L1951.1 434.8L1948.4 427.8L1935.9 448.7L1960.0 445.6L1954.7 440.3L1980.7 423.2Z"/>
<path d="M2020.0 428.6L2009.1 432.4L2008.5 427.8L1997.8 438.6L2012.9 440.3L2010.5 436.3L2021.3 432.5Z"/>
<path d="M497.9 493.9L488.8 480.4L493.8 478.4L478.7 469.6L481.1 486.9L484.9 483.0L493.9 496.5Z"/>
<path d="M552.1 497.0L539.9 478.8L545.7 476.4L528.3 466.3L531.1 486.2L535.4 481.8L547.6 500.1Z"/>
<path d="M608.6 504.1L590.5 475.2L597.9 472.5L576.1 458.8L578.9 484.4L584.6 478.9L602.8 507.8Z"/>
<path d="M659.8 504.2L642.5 475.4L649.9 472.8L628.6 458.8L630.8 484.2L636.6 478.9L653.9 507.7Z"/>
<path d="M714.7 501.7L693.2 475.4L700.3 471.7L677.0 460.9L682.9 485.8L687.9 479.7L709.3 506.1Z"/>
<path d="M769.6 500.0L743.9 475.1L750.6 470.5L725.4 462.2L734.5 487.1L738.9 480.2L764.7 505.2Z"/>
<path d="M820.1 500.2L796.2 475.4L802.9 471.1L778.6 462.2L786.7 486.8L791.1 480.2L815.1 505.0Z"/>
<path d="M877.0 497.5L845.9 474.9L852.3 469.2L825.0 464.2L838.0 488.7L841.5 480.9L872.6 503.6Z"/>
<path d="M930.0 496.0L897.2 475.0L903.2 468.9L875.5 465.6L890.0 489.4L893.1 481.4L925.9 502.4Z"/>
<path d="M984.1 493.1L947.8 475.3L953.2 468.4L924.6 468.3L942.2 490.8L944.4 482.3L980.7 500.0Z"/>
<path d="M1035.6 490.3L999.5 476.0L1004.2 468.9L976.4 471.0L995.2 491.5L996.7 483.0L1032.8 497.3Z"/>
<path d="M1089.8 487.4L1049.9 476.4L1054.0 468.4L1025.5 473.7L1047.3 492.8L1047.8 483.9L1087.7 494.9Z"/>
<path d="M1140.7 486.1L1101.9 476.8L1105.7 468.9L1077.9 475.0L1099.9 493.0L1100.2 484.2L1139.0 493.5Z"/>
<path d="M1190.8 482.8L1154.0 477.8L1156.8 470.0L1131.1 478.4L1153.6 493.4L1153.1 485.0L1189.8 490.1Z"/>
<path d="M1239.6 480.4L1206.8 478.7L1208.7 471.2L1185.6 481.1L1207.6 493.1L1206.4 485.5L1239.2 487.1Z"/>
<path d="M1280.3 479.3L1263.1 480.0L1264.0 474.6L1248.2 483.1L1264.6 490.2L1263.3 484.9L1280.6 484.1Z"/>
<path d="M1335.6 479.3L1313.4 479.7L1314.6 473.6L1296.6 482.8L1314.9 491.2L1313.5 485.2L1335.7 484.7Z"/>
<path d="M1393.5 479.1L1362.6 479.1L1364.1 471.8L1342.3 482.4L1364.1 493.0L1362.6 485.7L1393.5 485.7Z"/>
<path d="M1444.8 475.8L1413.9 479.8L1414.5 472.4L1394.1 485.8L1417.3 493.4L1414.8 486.4L1445.7 482.3Z"/>
<path d="M1488.5 471.8L1467.8 481.0L1466.5 474.9L1453.3 490.5L1473.8 491.1L1470.1 486.0L1490.8 476.8Z"/>
<path d="M1531.3 476.7L1524.1 480.0L1523.2 475.9L1514.6 486.4L1528.2 486.7L1525.7 483.3L1532.8 480.0Z"/>
<path d="M1586.2 474.4L1574.2 480.4L1572.9 475.6L1563.0 488.5L1579.2 488.3L1576.1 484.3L1588.2 478.3Z"/>
<path d="M1635.5 476.0L1627.3 480.1L1626.2 475.8L1617.5 487.1L1631.7 486.9L1629.0 483.5L1637.2 479.4Z"/>
<path d="M1687.2 475.3L1678.8 480.1L1677.4 475.9L1669.3 487.8L1683.7 486.8L1680.7 483.5L1689.1 478.7Z"/>
<path d="M1753.9 467.2L1723.4 482.0L1721.4 474.4L1705.6 494.5L1731.2 494.5L1726.4 488.2L1756.9 473.4Z"/>
<path d="M1807.8 467.6L1774.5 481.8L1772.9 473.8L1755.4 493.8L1782.0 495.2L1777.3 488.4L1810.6 474.3Z"/>
<path d="M1858.2 467.1L1826.7 482.0L1824.8 474.2L1808.5 494.5L1834.6 494.7L1829.7 488.4L1861.2 473.5Z"/>
<path d="M1907.8 466.6L1879.1 482.2L1876.9 474.8L1862.3 495.2L1887.4 494.0L1882.4 488.2L1911.1 472.6Z"/>
<path d="M1956.8 466.3L1931.8 482.4L1929.2 475.6L1916.8 495.9L1940.4 493.0L1935.3 487.8L1960.3 471.6Z"/>
<path d="M2004.0 468.1L1985.5 481.9L1982.8 476.2L1973.4 494.5L1993.6 490.6L1988.8 486.4L2007.3 472.5Z"/>
<path d="M2054.4 471.5L2038.8 481.0L2036.9 475.7L2026.9 491.2L2045.3 489.4L2041.4 485.3L2057.0 475.7Z"/>
<path d="M516.1 539.1L509.0 529.4L513.3 527.4L499.6 520.1L502.4 535.4L505.6 531.8L512.7 541.5Z"/>
<path d="M567.8 538.4L560.9 529.5L565.0 527.4L551.4 520.8L554.6 535.6L557.6 532.0L564.6 540.9Z"/>
<path d="M627.0 552.1L610.6 523.3L618.0 520.9L597.1 506.6L598.9 531.8L604.7 526.7L621.1 555.4Z"/>
<path d="M679.4 551.3L662.2 523.4L669.4 520.8L648.3 507.3L650.8 532.3L656.4 527.0L673.6 554.9Z"/>
<path d="M735.0 548.8L712.7 523.2L719.6 519.4L696.0 509.3L702.7 534.0L707.5 527.8L729.8 553.3Z"/>
<path d="M789.9 546.4L763.3 523.2L769.8 518.3L744.5 511.4L754.7 535.5L758.7 528.5L785.2 551.7Z"/>
<path d="M839.5 545.2L815.9 524.0L822.0 519.5L798.3 512.7L807.6 535.5L811.4 528.9L835.1 550.2Z"/>
<path d="M897.1 543.2L865.3 523.1L871.2 517.1L844.0 514.1L858.5 537.3L861.4 529.4L893.2 549.5Z"/>
<path d="M950.6 540.3L916.2 523.5L921.4 516.8L893.8 516.7L910.9 538.5L913.0 530.2L947.4 547.0Z"/>
<path d="M1002.9 538.9L967.7 523.8L972.6 516.8L944.9 518.1L963.1 539.0L964.7 530.6L1000.0 545.7Z"/>
<path d="M1052.9 534.9L1019.8 525.0L1023.7 518.0L998.1 522.1L1017.2 539.6L1017.8 531.7L1050.9 541.6Z"/>
<path d="M1107.8 532.6L1070.0 525.0L1073.4 517.2L1046.5 524.1L1068.6 540.9L1068.6 532.4L1106.3 539.9Z"/>
<path d="M1159.4 530.6L1121.6 525.5L1124.5 517.5L1098.3 526.2L1121.3 541.3L1120.7 532.9L1158.4 537.9Z"/>
<path d="M1208.6 526.0L1173.8 526.8L1175.3 519.0L1152.1 530.9L1175.8 541.7L1174.0 533.9L1208.7 533.0Z"/>
<path d="M1249.4 525.6L1230.1 527.9L1230.7 522.1L1214.7 532.2L1232.6 538.5L1230.7 532.9L1250.0 530.7Z"/>
<path d="M1298.5 525.9L1283.1 528.0L1283.5 522.7L1269.2 532.2L1285.5 537.5L1283.7 532.6L1299.1 530.5Z"/>
<path d="M1351.2 527.2L1334.9 527.9L1335.7 522.6L1320.3 530.9L1336.4 537.8L1335.1 532.6L1351.4 531.9Z"/>
<path d="M1414.3 525.5L1381.5 527.1L1382.7 519.5L1360.7 531.5L1383.8 541.4L1381.9 533.9L1414.7 532.2Z"/>
<path d="M1464.2 520.9L1433.2 528.3L1433.0 520.7L1413.8 536.3L1437.9 541.6L1434.7 534.7L1465.7 527.4Z"/>
<path d="M1502.1 524.9L1491.3 528.0L1491.0 523.4L1479.8 533.6L1494.7 536.1L1492.5 531.9L1503.2 528.8Z"/>
<path d="M1553.4 522.3L1542.3 528.2L1540.9 523.5L1531.6 536.3L1547.4 535.7L1544.3 531.9L1555.4 526.0Z"/>
<path d="M1603.1 522.5L1594.6 528.0L1593.0 523.7L1585.4 536.3L1599.9 534.5L1596.8 531.3L1605.3 525.8Z"/>
<path d="M1654.2 522.6L1646.6 527.9L1644.9 523.8L1637.9 536.3L1652.0 534.1L1648.8 531.0L1656.4 525.7Z"/>
<path d="M1723.9 515.4L1690.6 529.6L1689.0 521.6L1671.5 541.6L1698.1 543.0L1693.4 536.2L1726.7 522.1Z"/>
<path d="M1775.0 515.5L1742.7 529.6L1741.0 521.7L1724.0 541.6L1750.2 542.7L1745.5 536.1L1777.9 522.0Z"/>
<path d="M1826.8 515.5L1794.5 529.6L1792.8 521.7L1775.8 541.6L1802.0 542.7L1797.3 536.1L1829.7 522.0Z"/>
<path d="M1875.2 515.8L1847.6 529.6L1845.7 522.4L1830.9 541.6L1855.1 541.3L1850.5 535.5L1878.1 521.7Z"/>
<path d="M1925.5 514.6L1899.6 530.0L1897.2 523.1L1884.1 543.0L1907.8 541.0L1902.9 535.6L1928.8 520.2Z"/>
<path d="M1975.2 514.8L1952.1 530.0L1949.6 523.5L1937.9 543.0L1960.4 540.1L1955.5 535.1L1978.6 520.0Z"/>
<path d="M2018.4 523.1L2009.1 528.0L2007.8 523.6L1999.1 535.6L2013.9 535.0L2011.0 531.5L2020.2 526.6Z"/>
<path d="M495.2 588.4L489.3 577.3L494.0 576.0L481.3 566.6L481.8 582.4L485.6 579.3L491.4 590.4Z"/>
<path d="M547.5 586.9L541.2 577.4L545.5 575.7L532.4 567.9L534.5 583.0L537.7 579.7L544.1 589.2Z"/>
<path d="M601.8 591.5L592.3 575.4L597.7 573.5L582.2 563.2L583.7 581.8L587.9 577.9L597.5 594.1Z"/>
<path d="M660.2 597.0L642.3 571.8L649.1 568.8L627.9 557.1L631.9 581.0L637.0 575.6L654.8 600.8Z"/>
<path d="M711.9 596.3L694.1 572.0L700.8 569.0L679.7 557.8L684.0 581.3L688.9 575.8L706.7 600.1Z"/>
<path d="M767.5 594.5L744.6 571.5L751.0 567.3L727.5 559.2L735.6 582.7L739.8 576.3L762.8 599.2Z"/>
<path d="M822.4 592.1L795.2 571.4L801.1 566.2L775.9 561.2L787.6 584.1L791.0 577.0L818.2 597.6Z"/>
<path d="M873.4 590.8L847.2 571.9L852.8 566.8L828.4 562.5L840.2 584.4L843.3 577.4L869.5 596.2Z"/>
<path d="M929.5 587.6L897.1 571.7L902.1 565.3L875.5 565.2L891.9 586.1L893.9 578.2L926.4 594.0Z"/>
<path d="M981.7 585.4L948.5 572.1L953.0 565.4L926.6 567.2L944.4 586.8L945.8 578.8L979.1 592.1Z"/>
<path d="M1034.0 583.8L999.9 572.4L1004.1 565.4L977.7 568.8L996.7 587.3L997.7 579.2L1031.7 590.6Z"/>
<path d="M1086.9 581.9L1051.0 572.7L1054.7 565.2L1028.2 570.6L1048.8 588.1L1049.2 579.8L1085.1 588.9Z"/>
<path d="M1138.4 579.2L1102.6 573.3L1105.6 565.7L1080.0 573.3L1101.8 588.6L1101.4 580.4L1137.3 586.3Z"/>
<path d="M1187.6 574.6L1154.8 574.6L1156.4 567.1L1133.8 578.0L1156.4 588.9L1154.8 581.4L1187.6 581.4Z"/>
<path d="M1231.2 574.0L1210.0 575.5L1210.8 569.5L1193.7 579.3L1212.0 586.7L1210.4 580.8L1231.5 579.3Z"/>
<path d="M1282.5 575.4L1262.3 575.4L1263.5 569.6L1246.1 578.0L1263.5 586.4L1262.3 580.6L1282.5 580.6Z"/>
<path d="M1334.3 575.4L1314.1 575.4L1315.3 569.6L1297.9 578.0L1315.3 586.4L1314.1 580.6L1334.3 580.6Z"/>
<path d="M1393.0 571.4L1362.1 575.4L1362.7 568.0L1342.3 581.4L1365.5 589.0L1363.0 582.0L1393.9 577.9Z"/>
<path d="M1437.9 570.7L1416.5 576.0L1416.3 569.8L1400.9 582.7L1420.6 586.8L1417.9 581.3L1439.2 575.9Z"/>
<path d="M1484.1 570.5L1470.3 576.0L1469.4 570.9L1458.0 583.4L1474.9 584.6L1472.0 580.3L1485.8 574.7Z"/>
<path d="M1536.2 567.8L1521.1 576.5L1519.4 571.2L1509.2 586.1L1527.2 584.9L1523.5 580.7L1538.6 572.0Z"/>
<path d="M1593.3 570.7L1571.9 576.0L1571.7 569.8L1556.3 582.7L1576.0 586.8L1573.3 581.3L1594.6 575.9Z"/>
<path d="M1653.7 567.8L1619.7 576.1L1619.4 568.1L1599.3 584.7L1624.8 590.2L1621.4 583.0L1655.3 574.7Z"/>
<path d="M1705.3 566.5L1671.3 576.5L1670.6 568.4L1651.1 586.1L1677.1 590.4L1673.3 583.3L1707.3 573.3Z"/>
<path d="M1755.6 565.3L1723.4 576.9L1722.3 569.0L1704.3 587.4L1729.9 590.2L1725.7 583.4L1757.9 571.9Z"/>
<path d="M1805.8 564.1L1775.4 577.3L1773.9 569.6L1757.4 588.8L1782.6 589.9L1778.2 583.5L1808.5 570.4Z"/>
<path d="M1854.8 563.0L1828.0 577.6L1825.9 570.6L1811.9 590.1L1835.9 589.0L1831.1 583.3L1857.9 568.7Z"/>
<path d="M1905.8 562.4L1879.9 577.8L1877.5 570.9L1864.4 590.8L1888.1 588.8L1883.2 583.4L1909.1 568.0Z"/>
<path d="M1955.5 562.6L1932.4 577.8L1929.9 571.3L1918.2 590.8L1940.7 587.9L1935.8 582.9L1958.9 567.8Z"/>
<path d="M2004.0 563.7L1985.5 577.5L1982.8 571.8L1973.4 590.1L1993.6 586.2L1988.8 582.0L2007.3 568.1Z"/>
<path d="M2053.6 567.4L2039.1 576.5L2037.2 571.4L2027.7 586.6L2045.5 584.6L2041.7 580.6L2056.2 571.5Z"/>
<path d="M511.9 638.8L509.2 625.3L514.2 625.4L504.3 612.3L500.2 628.2L504.8 626.2L507.5 639.7Z"/>
<path d="M569.1 637.5L560.4 623.9L565.4 621.9L550.5 612.8L552.6 630.2L556.4 626.4L565.2 640.0Z"/>
<path d="M628.0 644.1L610.2 619.8L616.9 616.8L595.8 605.6L600.1 629.1L605.0 623.6L622.8 647.9Z"/>
<path d="M680.9 641.9L661.6 620.2L667.8 616.6L646.3 607.6L652.6 630.1L656.9 624.4L676.2 646.1Z"/>
<path d="M733.4 641.8L713.2 620.0L719.4 616.3L697.4 607.6L704.3 630.3L708.5 624.3L728.7 646.1Z"/>
<path d="M787.0 640.2L764.3 619.9L770.2 615.6L747.2 609.0L756.3 631.2L760.0 624.8L782.7 645.0Z"/>
<path d="M839.3 638.8L815.9 620.2L821.5 615.5L798.3 610.3L808.6 631.7L811.9 625.2L835.3 643.8Z"/>
<path d="M894.8 635.6L866.1 620.0L871.1 614.2L846.0 613.0L860.6 633.4L862.8 626.0L891.5 641.6Z"/>
<path d="M947.1 634.2L917.6 620.2L922.2 614.1L897.2 614.4L912.9 633.8L914.7 626.4L944.2 640.3Z"/>
<path d="M1001.9 631.8L967.8 620.2L972.0 613.1L945.6 616.4L964.5 635.1L965.5 627.0L999.6 638.6Z"/>
<path d="M1052.3 630.6L1020.1 620.7L1023.9 613.8L998.8 617.7L1017.4 635.1L1018.1 627.3L1050.2 637.2Z"/>
<path d="M1105.2 629.1L1071.3 620.8L1074.7 613.6L1049.2 619.1L1069.3 635.7L1069.6 627.7L1103.6 636.0Z"/>
<path d="M1156.9 625.9L1122.7 621.5L1125.3 614.0L1100.7 622.2L1122.4 636.4L1121.8 628.5L1156.0 632.8Z"/>
<path d="M1204.3 622.9L1175.9 622.6L1177.4 615.7L1156.5 625.6L1177.2 635.8L1175.8 628.9L1204.2 629.2Z"/>
<path d="M1251.6 622.4L1229.5 623.2L1230.5 617.0L1212.7 626.5L1231.2 634.6L1229.7 628.6L1251.8 627.9Z"/>
<path d="M1299.1 620.8L1282.7 623.6L1282.9 618.2L1268.5 628.5L1285.5 633.4L1283.5 628.3L1299.9 625.5Z"/>
<path d="M1349.5 620.9L1335.0 623.6L1335.1 618.5L1321.7 628.5L1337.9 632.9L1335.9 628.1L1350.4 625.3Z"/>
<path d="M1405.4 615.8L1383.8 624.3L1382.8 618.0L1368.8 633.2L1389.4 634.8L1385.9 629.5L1407.5 621.0Z"/>
<path d="M1457.8 619.8L1436.5 623.6L1436.7 617.4L1420.6 629.2L1439.8 634.6L1437.5 628.9L1458.7 625.1Z"/>
<path d="M1505.4 619.5L1489.8 623.7L1489.5 618.4L1476.4 629.8L1493.5 633.0L1491.1 628.3L1506.6 624.0Z"/>
<path d="M1567.5 619.2L1537.5 623.3L1538.0 615.9L1518.1 629.2L1540.8 636.6L1538.4 629.7L1568.3 625.6Z"/>
<path d="M1623.8 617.5L1587.1 623.3L1587.5 615.0L1565.2 630.5L1591.2 638.4L1588.2 630.6L1625.0 624.7Z"/>
<path d="M1671.2 614.5L1640.0 624.3L1639.2 616.7L1621.0 633.9L1645.8 637.5L1642.0 630.8L1673.2 620.9Z"/>
<path d="M1722.9 613.8L1691.7 624.5L1690.7 616.8L1672.8 634.5L1697.8 637.6L1693.9 630.9L1725.1 620.3Z"/>
<path d="M1772.5 612.7L1744.0 624.9L1742.5 617.6L1726.6 635.9L1750.9 637.0L1746.6 630.9L1775.0 618.7Z"/>
<path d="M1822.9 612.8L1796.3 624.9L1794.8 617.9L1779.8 635.9L1803.2 636.5L1799.0 630.7L1825.5 618.6Z"/>
<path d="M1872.6 613.0L1848.9 624.9L1847.2 618.3L1833.6 635.9L1855.8 635.6L1851.6 630.3L1875.3 618.4Z"/>
<path d="M1923.6 611.8L1900.6 625.2L1898.5 618.7L1886.1 637.2L1908.3 635.5L1903.7 630.4L1926.6 617.0Z"/>
<path d="M1972.8 613.4L1953.7 624.8L1951.7 618.9L1940.6 635.9L1960.8 634.1L1956.5 629.5L1975.6 618.1Z"/>
<path d="M2019.3 619.9L2009.4 623.6L2008.7 619.1L1998.4 629.8L2013.2 631.2L2010.8 627.3L2020.7 623.6Z"/>
<path d="M496.6 683.1L489.2 672.5L493.7 670.6L479.7 662.8L482.3 678.6L485.6 675.0L493.1 685.6Z"/>
<path d="M548.2 682.5L541.1 672.8L545.4 670.8L531.7 663.5L534.5 678.8L537.7 675.2L544.8 684.9Z"/>
<path d="M596.9 678.6L593.8 674.7L597.2 673.0L586.2 667.5L588.8 679.6L591.2 676.7L594.3 680.7Z"/>
<path d="M660.6 690.4L642.1 667.9L648.5 664.6L627.2 654.8L632.7 677.5L637.2 671.9L655.7 694.4Z"/>
<path d="M713.4 687.5L693.5 668.4L699.3 664.5L677.7 657.5L685.6 678.8L689.3 672.8L709.2 692.0Z"/>
<path d="M766.6 687.4L744.9 668.1L750.6 663.8L728.1 657.5L737.1 679.0L740.7 672.8L762.4 692.1Z"/>
<path d="M819.5 685.9L796.2 668.2L801.6 663.4L778.6 658.8L789.2 679.7L792.3 673.2L815.7 690.9Z"/>
<path d="M873.2 684.3L847.2 668.1L852.3 662.7L828.4 660.1L841.2 680.5L843.7 673.6L869.7 689.8Z"/>
<path d="M926.8 682.7L898.2 668.0L903.0 662.1L878.1 661.5L893.1 681.3L895.1 674.0L923.7 688.7Z"/>
<path d="M980.5 681.9L949.1 667.8L953.8 661.4L927.9 662.2L944.6 681.9L946.2 674.2L977.6 688.2Z"/>
<path d="M1032.9 679.1L1000.4 668.3L1004.4 661.4L978.8 664.7L997.3 682.8L998.2 674.9L1030.7 685.8Z"/>
<path d="M1086.1 676.2L1051.2 668.7L1054.5 661.3L1028.8 667.5L1049.7 683.8L1049.7 675.7L1084.6 683.1Z"/>
<path d="M1138.2 673.4L1102.5 669.2L1105.1 661.5L1080.0 670.2L1102.4 684.5L1101.6 676.4L1137.4 680.5Z"/>
<path d="M1191.7 670.5L1153.1 669.7L1155.0 661.4L1129.7 672.9L1154.5 685.6L1152.9 677.2L1191.6 678.0Z"/>
<path d="M1232.5 669.5L1209.4 671.0L1210.3 664.7L1192.3 674.9L1211.5 682.7L1209.8 676.6L1232.9 675.0Z"/>
<path d="M1278.6 668.0L1263.1 671.5L1263.0 666.2L1249.5 677.0L1266.4 680.9L1264.1 676.0L1279.6 672.5Z"/>
<path d="M1330.7 670.0L1315.3 671.4L1315.9 666.1L1301.3 674.9L1317.3 681.0L1315.8 675.9L1331.1 674.6Z"/>
<path d="M1386.6 670.3L1365.5 671.0L1366.5 665.0L1349.1 674.3L1367.1 682.2L1365.7 676.3L1386.8 675.6Z"/>
<path d="M1450.7 669.8L1412.0 669.8L1413.8 661.5L1388.7 673.6L1413.8 685.7L1412.0 677.4L1450.7 677.4Z"/>
<path d="M1499.8 670.1L1465.0 670.1L1466.6 662.3L1443.2 673.6L1466.6 684.9L1465.0 677.1L1499.8 677.1Z"/>
<path d="M1548.4 667.0L1517.5 671.0L1518.1 663.6L1497.7 677.0L1520.9 684.6L1518.4 677.6L1549.3 673.5Z"/>
<path d="M1602.8 665.4L1567.9 671.2L1568.3 663.1L1546.8 678.3L1572.0 685.7L1569.1 678.2L1603.9 672.4Z"/>
<path d="M1652.5 664.9L1620.5 671.5L1620.5 663.8L1600.7 679.0L1624.9 685.1L1621.9 678.1L1653.8 671.5Z"/>
<path d="M1703.5 664.3L1672.5 671.7L1672.3 664.1L1653.1 679.7L1677.2 685.0L1674.0 678.1L1705.0 670.8Z"/>
<path d="M1752.1 660.6L1724.6 672.7L1723.1 665.5L1707.6 683.7L1731.4 684.5L1727.2 678.6L1754.7 666.5Z"/>
<path d="M1801.8 666.1L1778.6 671.6L1778.4 665.1L1762.1 678.3L1782.6 682.9L1779.9 677.1L1803.1 671.7Z"/>
<path d="M1845.9 665.5L1832.9 671.7L1831.7 666.7L1821.3 679.7L1837.9 679.8L1834.8 675.7L1847.8 669.6Z"/>
<path d="M1902.4 664.4L1882.8 671.9L1881.9 666.0L1868.4 680.3L1888.0 682.0L1884.7 676.9L1904.3 669.4Z"/>
<path d="M1953.1 661.2L1934.0 672.6L1932.0 666.7L1920.9 683.7L1941.1 681.9L1936.8 677.3L1955.9 665.9Z"/>
<path d="M1996.3 665.4L1989.3 671.2L1987.3 667.4L1981.4 680.3L1995.2 676.9L1991.8 674.2L1998.8 668.3Z"/>
<path d="M2049.9 665.9L2041.1 671.4L2039.5 667.1L2031.6 679.6L2046.3 678.1L2043.2 674.8L2052.0 669.3Z"/>
<path d="M521.3 729.6L507.6 718.8L511.8 715.2L494.2 711.3L502.1 727.5L504.6 722.6L518.3 733.4Z"/>
<path d="M569.5 727.2L560.6 720.2L564.2 717.2L549.4 714.0L556.0 727.6L558.1 723.5L567.0 730.4Z"/>
<path d="M619.2 726.0L613.2 721.1L616.4 718.5L603.2 715.3L608.9 727.7L610.8 724.0L616.8 728.9Z"/>
<path d="M676.7 735.2L662.9 717.6L668.5 714.8L650.3 705.9L654.6 725.7L658.6 721.0L672.4 738.6Z"/>
<path d="M732.5 735.4L713.4 716.4L719.2 712.6L698.1 705.3L705.4 726.4L709.2 720.6L728.2 739.7Z"/>
<path d="M786.1 733.8L764.6 716.3L770.0 711.8L747.8 706.6L757.5 727.3L760.7 721.0L782.2 738.6Z"/>
<path d="M837.1 732.5L816.6 716.8L821.7 712.4L800.3 707.9L810.1 727.5L813.0 721.5L833.5 737.2Z"/>
<path d="M892.6 730.0L866.9 716.4L871.5 710.8L848.1 710.0L861.9 728.9L863.9 722.0L889.6 735.6Z"/>
<path d="M947.6 728.4L917.2 716.1L921.5 709.7L896.5 711.3L913.3 729.9L914.7 722.3L945.0 734.6Z"/>
<path d="M1001.3 727.5L968.1 715.9L972.3 709.0L946.3 712.0L964.7 730.5L965.8 722.6L998.9 734.2Z"/>
<path d="M1050.5 728.4L1021.1 716.2L1025.4 709.9L1000.8 711.3L1017.1 729.8L1018.5 722.3L1047.9 734.6Z"/>
<path d="M1105.4 726.1L1071.4 716.1L1075.2 709.0L1049.2 713.3L1068.7 731.0L1069.4 722.9L1103.4 732.9Z"/>
<path d="M1154.9 724.2L1123.9 716.9L1127.1 710.0L1103.0 715.3L1122.2 730.9L1122.4 723.3L1153.4 730.7Z"/>
<path d="M1203.8 722.4L1176.7 717.6L1179.3 711.2L1157.5 717.4L1175.9 730.6L1175.7 723.7L1202.7 728.4Z"/>
<path d="M1249.9 720.2L1230.7 718.7L1232.3 713.1L1214.7 720.1L1231.0 729.6L1230.3 723.8L1249.5 725.3Z"/>
<path d="M1305.5 718.5L1280.5 718.5L1281.8 712.0L1262.5 721.4L1281.8 730.8L1280.5 724.3L1305.5 724.3Z"/>
<path d="M1362.7 718.0L1329.9 718.0L1331.5 710.5L1308.9 721.4L1331.5 732.3L1329.9 724.8L1362.7 724.8Z"/>
<path d="M1408.4 717.9L1384.3 718.7L1385.4 712.3L1366.7 722.1L1386.0 730.7L1384.5 724.3L1408.6 723.6Z"/>
<path d="M1470.4 717.6L1431.7 717.6L1433.5 709.3L1408.4 721.4L1433.5 733.5L1431.7 725.2L1470.4 725.2Z"/>
<path d="M1518.1 718.0L1485.3 718.0L1486.9 710.4L1464.3 721.4L1486.9 732.4L1485.3 724.8L1518.1 724.8Z"/>
<path d="M1574.6 717.6L1535.0 717.6L1536.8 709.1L1511.4 721.4L1536.8 733.7L1535.0 725.2L1574.6 725.2Z"/>
<path d="M1620.4 718.1L1589.5 718.1L1591.0 710.8L1569.2 721.4L1591.0 732.0L1589.5 724.7L1620.4 724.7Z"/>
<path d="M1672.8 717.4L1640.9 718.2L1642.3 710.7L1620.4 722.1L1642.8 732.3L1641.1 724.9L1672.9 724.1Z"/>
<path d="M1717.4 714.7L1695.1 719.3L1695.1 713.0L1678.9 725.4L1698.7 730.4L1696.2 724.7L1718.5 720.1Z"/>
<path d="M1755.8 717.9L1752.8 718.9L1752.4 715.4L1744.1 723.4L1755.5 724.9L1753.7 721.9L1756.7 720.8Z"/>
<path d="M1811.3 714.9L1802.2 719.1L1801.1 714.8L1791.9 726.1L1806.5 726.3L1803.8 722.7L1812.9 718.5Z"/>
<path d="M1863.1 714.9L1854.0 719.1L1852.9 714.8L1843.7 726.1L1858.3 726.3L1855.6 722.7L1864.7 718.5Z"/>
<path d="M1914.1 714.3L1905.7 719.1L1904.3 714.9L1896.2 726.8L1910.6 725.8L1907.6 722.5L1916.0 717.7Z"/>
<path d="M1959.8 718.4L1956.8 715.1L1954.6 724.9L1963.7 720.6Z"/>
<path d="M2017.0 714.4L2009.5 719.0L2008.0 714.9L2000.5 726.8L2014.4 725.4L2011.5 722.2L2018.9 717.6Z"/>
<path d="M500.0 776.7L488.4 767.2L492.5 763.9L476.0 759.9L483.1 775.3L485.5 770.7L497.1 780.2Z"/>
<path d="M553.9 775.9L539.5 766.6L543.4 762.7L525.6 760.5L534.9 775.8L536.9 770.6L551.2 780.0Z"/>
<path d="M599.7 775.2L593.2 768.8L596.9 766.4L583.5 761.8L588.1 775.2L590.5 771.5L596.9 778.0Z"/>
<path d="M653.5 775.7L644.5 768.0L648.2 765.1L633.3 761.1L639.5 775.3L641.7 771.1L650.8 778.9Z"/>
<path d="M712.6 781.8L693.8 764.5L699.2 760.6L678.4 754.4L686.4 774.6L689.8 768.9L708.7 786.2Z"/>
<path d="M764.9 780.4L745.4 764.7L750.5 760.5L729.5 755.7L738.7 775.2L741.7 769.3L761.3 784.9Z"/>
<path d="M817.8 778.2L796.7 764.9L801.3 760.1L779.9 757.8L791.3 776.0L793.6 769.8L814.7 783.1Z"/>
<path d="M868.7 776.2L848.8 765.5L852.8 760.7L832.4 759.8L844.4 776.3L846.1 770.3L866.1 781.0Z"/>
<path d="M925.1 775.7L898.6 764.5L902.7 758.6L879.5 759.8L894.8 777.3L896.2 770.3L922.7 781.5Z"/>
<path d="M980.2 774.7L949.0 764.1L952.9 757.4L927.9 760.5L945.8 778.2L946.8 770.5L978.0 781.2Z"/>
<path d="M1031.1 772.4L1000.9 764.7L1004.2 757.9L980.3 762.8L998.9 778.5L999.3 771.0L1029.5 778.8Z"/>
<path d="M1085.9 769.7L1051.0 764.8L1053.8 757.2L1028.8 765.2L1050.6 779.8L1050.0 771.8L1084.9 776.7Z"/>
<path d="M1136.2 769.2L1103.4 765.1L1105.9 757.7L1082.0 765.8L1103.2 779.6L1102.5 771.8L1135.4 775.9Z"/>
<path d="M1191.3 768.2L1153.6 764.9L1156.1 756.8L1130.4 766.5L1153.9 780.6L1153.0 772.2L1190.7 775.6Z"/>
<path d="M1243.1 768.2L1205.4 764.9L1207.9 756.8L1182.2 766.5L1205.7 780.6L1204.8 772.2L1242.5 775.6Z"/>
<path d="M1284.5 766.4L1261.4 766.4L1262.7 760.2L1244.1 769.2L1262.7 778.2L1261.4 772.0L1284.5 772.0Z"/>
<path d="M1334.9 766.5L1313.8 766.5L1315.0 760.6L1297.3 769.2L1315.0 777.8L1313.8 771.9L1334.9 771.9Z"/>
<path d="M1388.1 766.4L1365.0 766.4L1366.3 760.2L1347.7 769.2L1366.3 778.2L1365.0 772.0L1388.1 772.0Z"/>
<path d="M1438.5 766.5L1417.4 766.5L1418.6 760.6L1400.9 769.2L1418.6 777.8L1417.4 771.9L1438.5 771.9Z"/>
<path d="M1489.6 765.9L1469.4 766.7L1470.4 760.8L1453.3 769.9L1471.0 777.6L1469.6 771.9L1489.8 771.1Z"/>
<path d="M1540.0 766.0L1521.8 766.8L1522.7 761.2L1506.5 769.9L1523.4 777.2L1522.0 771.7L1540.2 771.0Z"/>
<path d="M1591.1 766.1L1573.9 766.8L1574.8 761.4L1559.0 769.9L1575.4 777.0L1574.1 771.7L1591.4 770.9Z"/>
<path d="M1640.0 765.0L1626.6 767.0L1626.9 762.0L1613.4 771.2L1629.0 776.1L1627.2 771.4L1640.7 769.4Z"/>
<path d="M1692.2 763.0L1677.6 767.1L1677.2 761.9L1664.6 773.2L1681.3 776.2L1678.9 771.5L1693.5 767.4Z"/>
<path d="M1741.8 762.7L1730.1 767.1L1729.4 762.3L1718.4 773.7L1734.1 775.2L1731.5 771.1L1743.3 766.7Z"/>
<path d="M1791.7 763.4L1782.7 766.9L1781.9 762.6L1772.2 773.2L1786.6 774.3L1784.2 770.6L1793.1 767.0Z"/>
<path d="M1842.4 761.5L1833.9 767.0L1832.3 762.7L1824.7 775.3L1839.2 773.5L1836.1 770.3L1844.6 764.8Z"/>
<path d="M1888.7 762.9L1886.5 765.8L1884.1 763.1L1881.9 774.6L1892.3 769.2L1889.0 767.7L1891.2 764.8Z"/>
<path d="M1943.3 762.5L1938.3 766.4L1936.5 762.9L1931.0 774.6L1943.6 771.7L1940.5 769.2L1945.5 765.2Z"/>
<path d="M1995.1 762.5L1990.1 766.4L1988.3 762.9L1982.8 774.6L1995.4 771.7L1992.3 769.2L1997.3 765.2Z"/>
<path d="M2047.1 762.2L2041.8 766.5L2040.0 762.9L2034.4 774.8L2047.2 771.8L2044.0 769.3L2049.3 765.0Z"/>
<path d="M518.7 825.5L508.4 815.2L512.7 812.4L496.9 806.9L502.4 822.7L505.2 818.4L515.5 828.7Z"/>
<path d="M569.6 823.5L560.6 815.8L564.3 812.9L549.4 808.9L555.6 823.1L557.8 818.9L566.9 826.7Z"/>
<path d="M619.4 823.0L612.9 816.6L616.6 814.2L603.2 809.6L607.8 823.0L610.2 819.3L616.6 825.8Z"/>
<path d="M672.9 821.4L664.4 815.9L667.5 812.7L653.0 810.9L660.6 823.5L662.2 819.2L670.7 824.7Z"/>
<path d="M730.5 825.0L714.1 813.8L718.3 809.7L699.4 806.9L708.9 823.5L711.2 818.1L727.5 829.2Z"/>
<path d="M786.2 824.5L764.3 812.8L768.6 807.8L747.2 806.9L759.7 824.2L761.6 817.9L783.5 829.6Z"/>
<path d="M839.1 822.4L815.5 812.9L819.2 807.4L797.6 808.9L812.2 824.9L813.4 818.4L836.9 827.8Z"/>
<path d="M888.7 821.2L868.1 813.6L871.4 808.3L851.4 810.3L865.3 824.8L866.3 818.7L886.8 826.3Z"/>
<path d="M944.5 820.8L918.2 812.8L921.6 806.7L899.2 810.3L915.8 825.6L916.4 818.7L942.7 826.7Z"/>
<path d="M998.9 817.8L968.5 812.9L971.2 806.0L948.0 813.0L967.8 826.8L967.5 819.4L997.8 824.3Z"/>
<path d="M1051.1 817.8L1020.1 812.9L1022.8 805.9L999.4 813.0L1019.5 826.9L1019.1 819.4L1050.1 824.3Z"/>
<path d="M1102.2 817.8L1072.2 813.0L1074.9 806.1L1051.9 813.0L1071.5 826.7L1071.2 819.4L1101.2 824.2Z"/>
<path d="M1146.3 815.8L1127.1 814.3L1128.7 808.7L1111.1 815.7L1127.4 825.2L1126.7 819.4L1145.9 820.9Z"/>
<path d="M1198.6 814.4L1178.4 814.4L1179.6 808.6L1162.2 817.0L1179.6 825.4L1178.4 819.6L1198.6 819.6Z"/>
<path d="M1248.9 813.8L1230.7 814.6L1231.6 809.0L1215.4 817.7L1232.3 825.0L1230.9 819.5L1249.1 818.8Z"/>
<path d="M1298.7 814.0L1283.4 814.7L1284.2 809.5L1269.2 817.7L1284.9 824.4L1283.6 819.3L1298.9 818.6Z"/>
<path d="M1352.6 814.5L1334.4 814.5L1335.5 809.0L1319.0 817.0L1335.5 825.0L1334.4 819.5L1352.6 819.5Z"/>
<path d="M1404.3 813.8L1386.1 814.6L1387.0 809.0L1370.8 817.7L1387.7 825.0L1386.3 819.5L1404.5 818.8Z"/>
<path d="M1454.7 813.3L1438.3 814.7L1439.0 809.4L1423.9 818.3L1440.3 824.6L1438.8 819.4L1455.1 818.0Z"/>
<path d="M1507.6 811.8L1489.3 814.8L1489.6 809.1L1474.4 819.7L1492.1 825.0L1490.1 819.7L1508.4 816.8Z"/>
<path d="M1557.3 811.4L1541.8 814.9L1541.7 809.6L1528.2 820.4L1545.1 824.3L1542.8 819.4L1558.3 815.9Z"/>
<path d="M1606.2 811.0L1594.5 814.9L1593.9 810.1L1582.7 821.0L1598.3 823.1L1595.8 818.9L1607.6 815.0Z"/>
<path d="M1660.3 807.4L1644.3 815.4L1642.9 810.0L1631.8 824.4L1650.0 824.2L1646.5 819.8L1662.5 811.8Z"/>
<path d="M1707.7 810.5L1698.6 814.7L1697.5 810.4L1688.3 821.7L1702.9 821.9L1700.2 818.3L1709.3 814.1Z"/>
<path d="M1755.4 811.6L1751.6 814.1L1750.3 810.6L1744.1 821.0L1756.1 819.4L1753.4 816.8L1757.2 814.3Z"/>
<path d="M1810.9 807.9L1801.2 815.0L1799.2 810.7L1791.9 824.4L1807.2 821.6L1803.6 818.4L1813.3 811.3Z"/>
<path d="M1859.8 807.6L1853.2 814.8L1850.6 811.2L1846.4 825.1L1859.9 819.7L1856.0 817.5L1862.6 810.2Z"/>
<path d="M1909.4 807.9L1905.0 814.5L1902.1 811.5L1900.2 825.1L1912.0 818.1L1908.1 816.6L1912.5 809.9Z"/>
<path d="M1964.0 806.9L1956.4 815.1L1953.7 811.3L1949.3 825.7L1963.4 820.2L1959.4 817.8L1967.0 809.6Z"/>
<path d="M2013.4 810.4L2009.9 813.9L2007.8 810.8L2003.8 822.4L2015.4 818.4L2012.3 816.3L2015.8 812.8Z"/>
<path d="M493.4 870.5L490.1 865.8L493.7 864.2L482.6 858.1L484.6 870.6L487.3 867.7L490.6 872.5Z"/>
<path d="M552.0 872.4L540.2 862.7L544.3 859.4L527.7 855.4L534.8 870.9L537.2 866.2L549.1 876.0Z"/>
<path d="M602.7 869.0L592.4 863.3L595.5 859.7L580.1 858.7L588.9 871.4L590.4 866.9L600.6 872.7Z"/>
<path d="M650.3 871.7L645.1 864.9L649.0 863.1L636.6 856.7L639.3 870.4L642.1 867.2L647.3 874.0Z"/>
<path d="M704.9 868.5L696.5 863.7L699.5 860.4L685.1 859.4L693.2 871.3L694.6 867.1L703.0 871.9Z"/>
<path d="M761.6 870.8L746.5 862.1L750.2 857.9L732.2 856.7L742.4 871.6L744.1 866.3L759.2 875.0Z"/>
<path d="M818.9 866.7L795.7 861.3L798.4 855.5L777.9 860.1L794.2 873.3L794.4 866.8L817.6 872.3Z"/>
<path d="M870.7 866.7L847.5 861.3L850.2 855.5L829.7 860.1L846.0 873.3L846.2 866.8L869.4 872.3Z"/>
<path d="M923.0 865.3L898.9 861.4L901.2 855.3L880.8 861.4L898.3 873.6L898.0 867.1L922.1 871.0Z"/>
<path d="M976.8 865.1L949.8 861.2L952.2 854.6L930.6 861.4L949.3 874.1L948.9 867.2L975.9 871.2Z"/>
<path d="M1018.2 863.4L1005.8 862.7L1007.0 858.0L992.5 864.1L1006.3 871.7L1005.6 866.9L1018.0 867.6Z"/>
<path d="M1072.2 859.8L1055.8 862.6L1056.0 857.2L1041.6 867.5L1058.6 872.4L1056.6 867.3L1073.0 864.5Z"/>
<path d="M1120.9 862.1L1109.4 862.7L1110.2 858.1L1096.8 865.5L1110.9 871.4L1109.7 866.8L1121.1 866.2Z"/>
<path d="M1174.7 861.9L1160.4 862.6L1161.2 857.5L1146.6 865.5L1161.9 872.0L1160.6 867.1L1174.9 866.4Z"/>
<path d="M1227.2 861.8L1211.9 862.5L1212.7 857.3L1197.7 865.5L1213.4 872.2L1212.1 867.1L1227.4 866.4Z"/>
<path d="M1279.7 861.8L1263.4 862.5L1264.2 857.2L1248.8 865.5L1264.9 872.4L1263.6 867.2L1279.9 866.5Z"/>
<path d="M1329.4 861.9L1316.1 862.6L1316.8 857.7L1302.6 865.5L1317.5 871.8L1316.3 867.0L1329.7 866.3Z"/>
<path d="M1380.6 862.0L1368.2 862.7L1368.9 857.9L1355.1 865.5L1369.6 871.6L1368.4 866.9L1380.8 866.2Z"/>
<path d="M1433.0 861.9L1419.7 862.6L1420.4 857.7L1406.2 865.5L1421.1 871.8L1419.9 867.0L1433.3 866.3Z"/>
<path d="M1486.6 859.8L1470.2 862.6L1470.4 857.2L1456.0 867.5L1473.0 872.4L1471.0 867.3L1487.4 864.5Z"/>
<path d="M1534.2 859.5L1523.4 862.6L1523.1 858.0L1511.9 868.2L1526.8 870.7L1524.6 866.5L1535.3 863.4Z"/>
<path d="M1587.2 858.7L1574.5 862.7L1574.0 857.8L1562.3 868.8L1578.3 871.2L1575.8 866.8L1588.5 862.8Z"/>
<path d="M1640.8 856.5L1625.0 863.0L1624.0 857.6L1612.1 870.9L1629.9 872.0L1626.8 867.4L1642.6 861.0Z"/>
<path d="M1693.1 855.1L1676.2 863.2L1674.8 857.6L1663.2 872.2L1681.8 872.3L1678.4 867.7L1695.3 859.7Z"/>
<path d="M1741.3 854.8L1728.9 863.1L1727.0 858.3L1718.4 872.9L1735.1 870.6L1731.4 866.9L1743.9 858.6Z"/>
<path d="M1792.3 853.6L1780.4 863.4L1778.0 858.7L1770.9 874.2L1787.5 870.2L1783.4 866.9L1795.2 857.2Z"/>
<path d="M1840.6 854.0L1832.9 863.0L1830.0 859.3L1826.0 874.2L1840.2 868.0L1836.0 865.8L1843.8 856.7Z"/>
<path d="M1888.6 857.8L1886.1 861.6L1883.5 858.9L1881.9 870.9L1892.3 864.7L1888.8 863.4L1891.3 859.6Z"/>
<path d="M1941.5 855.7L1937.1 862.3L1934.2 859.3L1932.3 872.9L1944.1 865.9L1940.2 864.4L1944.6 857.7Z"/>
<path d="M1995.5 855.4L1988.9 862.6L1986.3 859.0L1982.1 872.9L1995.6 867.5L1991.7 865.3L1998.3 858.0Z"/>
<path d="M2046.1 856.5L2041.2 862.2L2038.7 858.9L2035.1 871.9L2047.5 866.6L2043.9 864.6L2048.9 858.9Z"/>
<path d="M518.0 921.2L508.6 911.0L512.9 908.4L497.6 902.5L502.4 918.2L505.3 914.0L514.8 924.2Z"/>
<path d="M569.6 919.1L560.6 911.4L564.3 908.5L549.4 904.5L555.6 918.7L557.8 914.5L566.9 922.3Z"/>
<path d="M621.5 915.5L612.4 911.3L615.1 907.7L600.5 907.9L609.7 919.2L610.8 914.9L619.9 919.1Z"/>
<path d="M675.9 915.2L663.2 910.5L665.8 906.3L649.6 907.9L660.9 919.6L661.6 914.7L674.4 919.4Z"/>
<path d="M723.6 914.3L716.6 911.6L718.9 908.1L705.5 909.2L714.6 919.1L715.3 915.0L722.3 917.7Z"/>
<path d="M779.9 918.0L766.7 910.4L770.2 906.5L753.2 905.2L762.8 919.3L764.4 914.3L777.6 922.0Z"/>
<path d="M835.2 914.2L816.8 909.8L819.3 904.6L801.0 908.6L815.5 920.4L815.6 914.7L834.0 919.1Z"/>
<path d="M888.8 912.6L867.6 909.6L869.7 903.9L850.8 909.9L867.2 921.0L866.8 914.9L888.1 917.9Z"/>
<path d="M941.1 911.2L919.0 909.7L920.6 903.7L901.9 911.3L919.4 921.3L918.6 915.1L940.7 916.7Z"/>
<path d="M988.0 910.3L972.7 910.3L973.7 905.2L958.4 912.6L973.7 920.0L972.7 914.9L988.0 914.9Z"/>
<path d="M1040.9 908.8L1023.7 910.3L1024.3 904.8L1008.9 913.9L1025.6 920.4L1024.1 915.1L1041.4 913.7Z"/>
<path d="M1092.6 908.2L1075.3 910.3L1075.8 904.8L1060.7 914.6L1077.7 920.4L1075.9 915.2L1093.3 913.0Z"/>
<path d="M1145.1 908.1L1126.8 910.3L1127.3 904.6L1111.8 914.6L1129.3 920.6L1127.4 915.3L1145.7 913.1Z"/>
<path d="M1196.2 908.2L1178.9 910.3L1179.4 904.8L1164.3 914.6L1181.3 920.4L1179.5 915.2L1196.9 913.0Z"/>
<path d="M1246.1 909.0L1231.7 910.4L1232.3 905.3L1218.1 913.9L1233.7 919.8L1232.2 914.9L1246.5 913.5Z"/>
<path d="M1298.7 909.6L1283.4 910.3L1284.2 905.1L1269.2 913.3L1284.9 920.0L1283.6 914.9L1298.9 914.2Z"/>
<path d="M1346.2 908.7L1336.6 910.5L1336.7 906.0L1325.0 914.6L1339.0 918.4L1337.3 914.3L1346.9 912.5Z"/>
<path d="M1399.3 907.9L1387.7 910.4L1387.6 905.7L1375.5 915.3L1390.5 918.9L1388.6 914.5L1400.2 911.9Z"/>
<path d="M1451.3 905.2L1438.4 910.6L1437.5 905.6L1426.6 918.0L1443.0 918.8L1440.2 914.7L1453.0 909.3Z"/>
<path d="M1502.2 903.9L1490.0 910.7L1488.5 905.9L1479.1 919.3L1495.5 918.4L1492.2 914.6L1504.4 907.8Z"/>
<path d="M1555.5 904.4L1541.6 910.7L1540.5 905.6L1529.5 918.7L1546.6 919.1L1543.5 914.9L1557.4 908.6Z"/>
<path d="M1603.1 904.9L1594.6 910.4L1593.0 906.1L1585.4 918.7L1599.9 916.9L1596.8 913.7L1605.3 908.2Z"/>
<path d="M1654.9 904.9L1646.4 910.4L1644.8 906.1L1637.2 918.7L1651.7 916.9L1648.6 913.7L1657.1 908.2Z"/>
<path d="M1705.3 905.0L1698.5 910.2L1696.7 906.3L1690.3 918.7L1704.0 916.0L1700.8 913.2L1707.6 908.0Z"/>
<path d="M1759.6 902.1L1748.7 910.9L1746.4 906.5L1739.4 921.3L1755.4 917.6L1751.5 914.4L1762.4 905.6Z"/>
<path d="M1810.4 900.3L1800.0 911.4L1797.0 907.1L1791.9 923.4L1807.8 917.3L1803.3 914.5L1813.8 903.4Z"/>
<path d="M1857.2 899.6L1851.9 911.6L1847.9 908.7L1848.4 924.7L1860.7 914.4L1855.8 913.3L1861.2 901.4Z"/>
<path d="M1909.3 902.2L1904.5 910.6L1901.2 907.6L1900.2 922.0L1912.1 913.9L1907.9 912.5L1912.7 904.1Z"/>
<path d="M1958.7 905.9L1957.2 909.1L1954.3 907.0L1954.7 918.7L1963.6 911.2L1960.1 910.4L1961.5 907.2Z"/>
<path d="M2013.1 904.1L2008.9 909.9L2006.2 906.9L2003.8 920.0L2015.6 913.7L2011.8 912.1L2016.0 906.3Z"/>
<path d="M492.5 964.1L490.6 961.9L493.7 960.2L483.3 955.7L486.2 966.7L488.3 963.9L490.2 966.1Z"/>
<path d="M548.4 965.7L541.4 959.8L544.8 957.1L531.0 953.7L536.9 966.6L538.9 962.8L545.9 968.6Z"/>
<path d="M600.6 964.2L593.2 959.6L596.1 956.4L582.2 955.0L589.7 966.9L591.2 962.8L598.7 967.4Z"/>
<path d="M651.9 963.2L645.2 959.7L647.8 956.5L634.4 956.0L642.3 966.9L643.5 962.9L650.2 966.4Z"/>
<path d="M701.5 960.2L697.8 959.4L699.2 956.1L687.8 959.1L697.2 966.2L697.1 962.5L700.9 963.3Z"/>
<path d="M752.0 960.3L750.1 959.8L751.6 956.8L740.9 959.1L749.3 966.1L749.4 962.7L751.3 963.2Z"/>
<path d="M812.7 960.9L798.2 958.1L800.2 953.3L784.0 957.7L797.4 967.7L797.3 962.6L811.8 965.3Z"/>
<path d="M865.7 960.1L849.3 957.9L851.1 952.8L834.4 958.4L849.1 968.0L848.7 962.6L865.1 964.8Z"/>
<path d="M918.5 957.9L900.3 957.9L901.4 952.4L884.9 960.4L901.4 968.4L900.3 962.9L918.5 962.9Z"/>
<path d="M960.9 958.8L956.3 958.8L957.0 955.1L946.1 960.4L957.0 965.7L956.3 962.0L960.9 962.0Z"/>
<path d="M1012.8 956.1L1006.9 958.0L1006.4 954.1L997.2 963.1L1010.0 964.8L1008.0 961.3L1013.9 959.4Z"/>
<path d="M1070.9 956.1L1056.5 958.2L1056.8 953.1L1043.0 962.4L1058.9 967.5L1057.1 962.7L1071.5 960.6Z"/>
<path d="M1124.7 956.0L1107.4 958.1L1107.9 952.6L1092.8 962.4L1109.8 968.2L1108.0 963.0L1125.4 960.8Z"/>
<path d="M1178.8 957.1L1158.6 957.9L1159.6 952.0L1142.5 961.1L1160.2 968.8L1158.8 963.1L1179.0 962.3Z"/>
<path d="M1228.5 957.3L1211.3 958.0L1212.2 952.6L1196.4 961.1L1212.8 968.2L1211.5 962.9L1228.8 962.1Z"/>
<path d="M1279.4 955.4L1263.0 958.2L1263.2 952.8L1248.8 963.1L1265.8 968.0L1263.8 962.9L1280.2 960.1Z"/>
<path d="M1327.2 956.4L1316.6 958.3L1316.8 953.7L1304.7 962.4L1319.0 966.5L1317.3 962.2L1327.9 960.4Z"/>
<path d="M1378.3 956.5L1368.7 958.3L1368.8 953.8L1357.1 962.4L1371.1 966.2L1369.4 962.1L1379.0 960.3Z"/>
<path d="M1425.3 956.9L1422.3 957.9L1421.9 954.4L1413.6 962.4L1425.0 963.9L1423.2 960.9L1426.2 959.8Z"/>
<path d="M1480.9 954.6L1471.9 958.1L1471.1 953.8L1461.4 964.4L1475.8 965.5L1473.4 961.8L1482.3 958.2Z"/>
<path d="M1532.7 954.6L1523.7 958.1L1522.9 953.8L1513.2 964.4L1527.6 965.5L1525.2 961.8L1534.1 958.2Z"/>
<path d="M1584.3 953.3L1575.0 958.2L1573.7 953.8L1565.0 965.8L1579.8 965.2L1576.9 961.7L1586.1 956.8Z"/>
<path d="M1635.4 953.3L1627.0 958.1L1625.6 953.9L1617.5 965.8L1631.9 964.8L1628.9 961.5L1637.3 956.7Z"/>
<path d="M1688.9 951.2L1677.5 958.6L1675.7 953.9L1667.3 967.8L1683.4 965.8L1679.9 962.2L1691.3 954.8Z"/>
<path d="M1741.4 951.1L1729.1 958.6L1727.4 953.8L1718.4 967.8L1735.0 966.2L1731.5 962.5L1743.8 954.9Z"/>
<path d="M1791.2 952.0L1781.7 958.3L1780.0 954.0L1772.2 967.1L1787.3 965.0L1784.0 961.8L1793.5 955.4Z"/>
<path d="M1842.4 952.0L1833.7 958.2L1831.8 954.0L1824.7 967.1L1839.4 964.6L1836.0 961.5L1844.7 955.3Z"/>
<path d="M1892.0 952.3L1885.8 957.9L1883.7 954.3L1878.5 967.1L1891.8 963.2L1888.3 960.7L1894.6 955.1Z"/>
<path d="M1943.1 952.4L1937.7 957.8L1935.4 954.3L1931.0 967.1L1943.8 962.7L1940.3 960.4L1945.7 955.0Z"/>
<path d="M1997.0 951.5L1988.9 958.3L1986.8 954.2L1980.8 967.8L1995.1 964.1L1991.5 961.3L1999.5 954.5Z"/>
<path d="M2046.9 952.5L2041.4 957.8L2039.1 954.3L2034.5 967.0L2047.3 962.8L2043.9 960.5L2049.4 955.1Z"/>
<path d="M520.1 1012.3L508.0 1006.3L511.1 1002.3L494.9 1002.1L504.8 1015.0L506.1 1010.2L518.1 1016.2Z"/>
<path d="M566.3 1010.1L562.0 1007.9L564.3 1005.0L552.1 1004.8L559.5 1014.5L560.5 1010.9L564.8 1013.0Z"/>
<path d="M617.0 1011.7L613.8 1008.9L616.8 1006.7L605.2 1003.5L609.9 1014.5L611.7 1011.3L614.9 1014.1Z"/>
<path d="M668.6 1010.3L666.0 1008.6L668.4 1006.1L657.0 1004.8L663.1 1014.5L664.3 1011.2L667.0 1012.9Z"/>
<path d="M729.2 1011.4L714.4 1005.8L717.3 1001.3L700.1 1002.8L711.9 1015.4L712.7 1010.1L727.5 1015.8Z"/>
<path d="M780.1 1010.1L766.5 1006.0L768.9 1001.5L752.5 1004.2L764.7 1015.4L765.2 1010.3L778.8 1014.4Z"/>
<path d="M826.8 1007.8L820.2 1006.8L821.6 1003.0L809.1 1006.9L819.8 1014.3L819.6 1010.3L826.3 1011.3Z"/>
<path d="M879.0 1006.4L871.5 1006.4L872.3 1002.3L860.2 1008.2L872.3 1014.1L871.5 1010.0L879.0 1010.0Z"/>
<path d="M927.5 1006.7L924.8 1006.7L925.5 1003.3L915.3 1008.2L925.5 1013.1L924.8 1009.7L927.5 1009.7Z"/>
<path d="M977.2 1004.2L975.6 1005.1L974.6 1002.0L968.5 1010.9L979.3 1010.2L977.1 1007.7L978.6 1006.8Z"/>
<path d="M1034.7 1004.3L1026.1 1006.0L1026.1 1001.7L1014.9 1010.2L1028.5 1013.8L1026.8 1009.8L1035.5 1008.0Z"/>
<path d="M1088.0 1004.9L1077.5 1006.1L1077.9 1001.5L1065.4 1009.5L1079.4 1014.4L1078.0 1010.1L1088.5 1008.8Z"/>
<path d="M1144.7 1005.8L1127.5 1005.8L1128.6 1000.4L1112.5 1008.2L1128.6 1016.0L1127.5 1010.6L1144.7 1010.6Z"/>
<path d="M1196.4 1005.1L1179.2 1005.8L1180.1 1000.4L1164.3 1008.9L1180.7 1016.0L1179.4 1010.7L1196.7 1009.9Z"/>
<path d="M1244.8 1004.7L1232.3 1006.0L1232.8 1001.2L1219.4 1009.5L1234.2 1014.9L1232.8 1010.3L1245.2 1009.0Z"/>
<path d="M1295.3 1005.5L1284.8 1006.1L1285.5 1001.6L1272.6 1008.9L1286.3 1014.5L1285.1 1010.1L1295.6 1009.5Z"/>
<path d="M1344.4 1005.8L1337.8 1006.3L1338.3 1002.3L1327.1 1008.9L1339.2 1013.6L1338.1 1009.8L1344.7 1009.3Z"/>
<path d="M1396.5 1003.1L1388.4 1005.9L1387.9 1001.7L1378.1 1011.5L1391.9 1013.1L1389.7 1009.5L1397.8 1006.6Z"/>
<path d="M1447.6 999.2L1438.7 1006.1L1436.6 1002.0L1430.0 1015.6L1444.8 1012.4L1441.2 1009.4L1450.1 1002.4Z"/>
<path d="M1500.2 1000.4L1490.9 1006.0L1489.3 1001.7L1481.1 1014.3L1496.1 1012.9L1492.9 1009.5L1502.3 1003.9Z"/>
<path d="M1555.4 999.4L1541.4 1006.4L1540.0 1001.3L1529.5 1014.9L1546.8 1014.7L1543.5 1010.6L1557.5 1003.6Z"/>
<path d="M1606.7 1000.8L1593.8 1006.2L1592.9 1001.2L1582.0 1013.6L1598.4 1014.4L1595.6 1010.3L1608.4 1004.9Z"/>
<path d="M1659.1 1000.0L1645.2 1006.3L1644.1 1001.2L1633.1 1014.3L1650.2 1014.7L1647.1 1010.5L1661.0 1004.2Z"/>
<path d="M1710.3 1000.8L1697.4 1006.2L1696.5 1001.2L1685.6 1013.6L1702.0 1014.4L1699.2 1010.3L1712.0 1004.9Z"/>
<path d="M1762.6 999.4L1748.6 1006.4L1747.2 1001.3L1736.7 1014.9L1754.0 1014.7L1750.7 1010.6L1764.7 1003.6Z"/>
<path d="M1812.8 998.2L1800.4 1006.5L1798.5 1001.7L1789.9 1016.3L1806.6 1014.0L1802.9 1010.3L1815.4 1002.0Z"/>
<path d="M1863.3 998.4L1852.5 1006.4L1850.4 1001.9L1843.0 1016.3L1858.9 1013.2L1855.2 1009.9L1865.9 1001.9Z"/>
<path d="M1913.6 997.9L1904.4 1006.4L1901.9 1002.3L1896.2 1016.9L1911.3 1012.3L1907.3 1009.5L1916.5 1001.0Z"/>
<path d="M1962.7 999.5L1957.1 1005.8L1954.6 1002.3L1950.7 1015.6L1963.5 1010.4L1959.9 1008.3L1965.5 1002.1Z"/>
<path d="M2014.4 1002.8L2010.6 1005.3L2009.3 1001.8L2003.1 1012.2L2015.1 1010.6L2012.4 1008.0L2016.2 1005.5Z"/>
<path d="M492.5 1059.7L490.6 1057.5L493.7 1055.8L483.3 1051.3L486.2 1062.3L488.3 1059.5L490.2 1061.7Z"/>
<path d="M550.9 1060.2L540.6 1054.5L543.7 1050.9L528.3 1049.9L537.1 1062.6L538.6 1058.1L548.8 1063.9Z"/>
<path d="M602.1 1061.0L592.6 1054.6L595.9 1051.4L580.8 1049.3L588.6 1062.4L590.3 1058.1L599.8 1064.4Z"/>
<path d="M650.3 1062.9L645.1 1056.1L649.0 1054.3L636.6 1047.9L639.3 1061.6L642.1 1058.4L647.3 1065.2Z"/>
<path d="M699.5 1058.3L698.3 1057.3L700.9 1055.2L690.5 1052.6L694.9 1062.4L696.4 1059.5L697.6 1060.5Z"/>
<path d="M755.7 1054.2L748.2 1054.2L749.0 1050.1L736.9 1056.0L749.0 1061.9L748.2 1057.8L755.7 1057.8Z"/>
<path d="M805.8 1055.7L801.1 1054.9L802.5 1051.4L790.7 1054.7L800.6 1061.9L800.5 1058.1L805.2 1059.0Z"/>
<path d="M853.2 1058.0L855.9 1054.6L846.1 1053.7L851.5 1062.0Z"/>
<path d="M907.1 1054.1L905.2 1054.2L905.5 1050.9L896.2 1056.5L906.4 1060.4L905.4 1057.1L907.3 1057.0Z"/>
<path d="M957.9 1050.7L955.0 1052.9L953.5 1049.6L948.1 1060.0L959.6 1057.8L956.9 1055.4L959.8 1053.2Z"/>
<path d="M1008.9 1055.3L1008.7 1051.1L1001.1 1056.8L1010.3 1059.2Z"/>
<path d="M1062.6 1053.2L1060.1 1053.8L1060.0 1050.3L1051.3 1057.3L1062.2 1059.8L1060.8 1056.7L1063.2 1056.2Z"/>
<path d="M1117.8 1054.5L1111.1 1054.3L1112.0 1050.4L1100.0 1055.7L1111.6 1061.8L1110.9 1057.8L1117.7 1058.1Z"/>
<path d="M1171.3 1055.7L1162.4 1054.3L1163.9 1050.2L1150.4 1054.4L1162.0 1062.5L1161.8 1058.1L1170.8 1059.5Z"/>
<path d="M1223.1 1061.1L1214.4 1054.9L1217.8 1051.8L1203.1 1049.3L1210.2 1062.4L1212.1 1058.2L1220.8 1064.4Z"/>
<path d="M1275.2 1054.7L1265.7 1054.1L1266.9 1049.9L1253.5 1055.3L1266.1 1062.4L1265.4 1058.0L1274.9 1058.6Z"/>
<path d="M1326.2 1054.1L1317.7 1054.1L1318.5 1049.9L1306.0 1056.0L1318.5 1062.1L1317.7 1057.9L1326.2 1057.9Z"/>
<path d="M1377.4 1051.2L1368.7 1053.8L1368.4 1049.4L1357.9 1059.0L1371.9 1061.3L1369.8 1057.4L1378.4 1054.9Z"/>
<path d="M1427.8 1048.2L1419.5 1053.7L1417.8 1049.6L1410.5 1062.2L1425.0 1060.1L1421.7 1057.0L1430.0 1051.4Z"/>
<path d="M1480.4 1047.6L1470.9 1053.9L1469.2 1049.6L1461.4 1062.7L1476.5 1060.6L1473.2 1057.4L1482.7 1051.0Z"/>
<path d="M1533.1 1048.8L1523.0 1053.8L1521.8 1049.3L1512.5 1061.4L1527.8 1061.2L1524.8 1057.5L1535.0 1052.5Z"/>
<path d="M1586.2 1048.0L1574.2 1054.0L1572.9 1049.2L1563.0 1062.1L1579.2 1061.9L1576.1 1057.9L1588.2 1051.9Z"/>
<path d="M1638.1 1048.6L1626.2 1054.0L1625.1 1049.1L1614.8 1061.4L1630.8 1061.9L1627.9 1057.9L1639.9 1052.6Z"/>
<path d="M1688.7 1049.4L1678.6 1053.8L1677.7 1049.3L1667.9 1060.7L1683.0 1061.3L1680.3 1057.5L1690.3 1053.1Z"/>
<path d="M1742.8 1046.5L1728.7 1054.3L1727.1 1049.2L1717.0 1063.4L1734.4 1062.5L1731.0 1058.4L1745.1 1050.7Z"/>
<path d="M1791.2 1046.9L1781.5 1054.0L1779.5 1049.7L1772.2 1063.4L1787.5 1060.6L1783.9 1057.4L1793.6 1050.3Z"/>
<path d="M1842.1 1045.7L1832.9 1054.2L1830.4 1050.1L1824.7 1064.7L1839.8 1060.1L1835.8 1057.3L1845.0 1048.8Z"/>
<path d="M1893.2 1045.8L1884.8 1054.1L1882.2 1050.2L1877.2 1064.7L1891.7 1059.7L1887.8 1057.1L1896.1 1048.7Z"/>
<path d="M1941.6 1047.5L1937.4 1053.3L1934.7 1050.3L1932.3 1063.4L1944.1 1057.1L1940.3 1055.5L1944.5 1049.7Z"/>
<path d="M1998.5 1048.2L1989.2 1053.8L1987.6 1049.5L1979.4 1062.1L1994.4 1060.7L1991.2 1057.3L2000.6 1051.7Z"/>
<path d="M2048.6 1049.1L2041.7 1053.5L2040.2 1049.6L2033.0 1061.3L2046.7 1059.7L2043.7 1056.7L2050.6 1052.3Z"/>
<path d="M522.2 1120.3L507.2 1099.0L513.4 1096.3L494.2 1085.6L497.8 1107.3L502.4 1102.4L517.4 1123.7Z"/>
<path d="M571.3 1119.9L559.8 1099.9L565.8 1097.9L548.7 1086.3L550.2 1106.9L554.9 1102.7L566.5 1122.7Z"/>
<path d="M629.2 1115.0L609.7 1099.3L614.8 1095.1L593.8 1090.3L603.0 1109.8L606.0 1103.9L625.6 1119.5Z"/>
<path d="M677.0 1114.7L662.8 1100.6L667.8 1097.3L649.6 1091.0L655.9 1109.2L659.2 1104.2L673.3 1118.4Z"/>
<path d="M723.7 1110.5L716.3 1103.1L720.1 1100.6L706.1 1095.7L711.0 1109.7L713.5 1105.9L720.9 1113.3Z"/>
<path d="M771.7 1103.7L769.8 1103.2L771.3 1100.2L760.6 1102.5L769.0 1109.5L769.1 1106.1L771.0 1106.6Z"/>
<path d="M823.4 1103.0L821.6 1102.8L822.7 1099.7L812.4 1103.1L821.5 1109.0L821.2 1105.7L823.0 1105.9Z"/>
<path d="M873.2 1103.1L873.0 1098.9L865.4 1104.6L874.6 1107.0Z"/>
<path d="M924.2 1101.9L922.6 1098.5L918.1 1106.0L926.8 1104.8Z"/>
<path d="M973.2 1100.5L969.5 1099.9L973.2 1107.7L976.9 1099.9Z"/>
<path d="M1027.5 1101.3L1025.1 1098.1L1022.1 1106.7L1030.7 1103.7Z"/>
<path d="M1076.8 1100.7L1073.3 1100.1L1076.8 1107.5L1080.3 1100.1Z"/>
<path d="M1133.7 1106.8L1132.1 1105.2L1135.0 1103.4L1124.6 1099.8L1128.2 1110.2L1130.0 1107.3L1131.6 1108.9Z"/>
<path d="M1185.8 1105.2L1184.3 1104.3L1186.5 1101.8L1175.7 1101.1L1181.8 1110.0L1182.8 1106.9L1184.4 1107.8Z"/>
<path d="M1240.3 1102.3L1234.7 1102.2L1235.6 1098.4L1224.1 1103.6L1235.3 1109.4L1234.6 1105.6L1240.2 1105.7Z"/>
<path d="M1292.6 1101.4L1286.0 1101.9L1286.5 1097.9L1275.3 1104.5L1287.4 1109.2L1286.3 1105.4L1292.9 1104.9Z"/>
<path d="M1350.1 1098.2L1334.6 1101.7L1334.5 1096.4L1321.0 1107.2L1337.9 1111.1L1335.6 1106.2L1351.1 1102.7Z"/>
<path d="M1394.7 1096.9L1388.0 1101.3L1386.5 1097.4L1379.5 1109.2L1393.1 1107.3L1390.1 1104.4L1396.7 1100.0Z"/>
<path d="M1448.1 1093.4L1438.1 1102.1L1435.7 1097.8L1429.3 1112.5L1444.9 1108.4L1440.9 1105.4L1450.9 1096.7Z"/>
<path d="M1498.0 1095.0L1490.7 1101.6L1488.5 1097.7L1483.1 1111.2L1497.0 1107.0L1493.4 1104.4L1500.6 1097.8Z"/>
<path d="M1551.5 1096.7L1543.1 1101.5L1541.7 1097.3L1533.6 1109.2L1548.0 1108.2L1545.0 1104.9L1553.4 1100.1Z"/>
<path d="M1604.1 1097.3L1595.0 1101.5L1593.9 1097.2L1584.7 1108.5L1599.3 1108.7L1596.6 1105.1L1605.7 1100.9Z"/>
<path d="M1658.7 1092.4L1644.2 1102.5L1642.0 1097.4L1633.1 1113.2L1651.1 1110.3L1647.0 1106.5L1661.5 1096.4Z"/>
<path d="M1710.7 1099.0L1698.2 1101.6L1698.2 1096.8L1685.6 1106.5L1701.1 1110.3L1699.1 1105.9L1711.6 1103.2Z"/>
<path d="M1759.4 1096.5L1750.0 1101.6L1748.7 1097.2L1740.0 1109.3L1754.9 1108.6L1752.0 1105.1L1761.3 1100.0Z"/>
<path d="M1810.6 1097.4L1802.4 1101.5L1801.3 1097.2L1792.6 1108.5L1806.8 1108.3L1804.1 1104.9L1812.3 1100.8Z"/>
<path d="M1862.0 1094.8L1853.1 1101.7L1851.0 1097.6L1844.4 1111.2L1859.2 1108.0L1855.6 1105.0L1864.5 1098.0Z"/>
<path d="M1915.8 1094.6L1904.4 1102.0L1902.6 1097.3L1894.2 1111.2L1910.3 1109.2L1906.8 1105.6L1918.2 1098.2Z"/>
<path d="M1968.5 1095.8L1956.5 1101.8L1955.2 1097.0L1945.3 1109.9L1961.5 1109.7L1958.4 1105.7L1970.5 1099.7Z"/>
<path d="M2015.8 1098.2L2010.4 1101.2L2009.3 1097.4L2001.8 1107.8L2014.6 1107.2L2012.1 1104.2L2017.4 1101.3Z"/>
<path d="M496.0 1169.6L489.1 1148.2L495.3 1147.5L481.2 1132.8L478.4 1152.9L483.8 1149.8L490.7 1171.3Z"/>
<path d="M549.8 1169.3L540.5 1147.7L546.8 1146.4L531.0 1132.8L530.1 1153.6L535.3 1149.9L544.6 1171.5Z"/>
<path d="M600.6 1166.7L592.5 1148.9L598.2 1147.6L583.5 1135.5L583.1 1154.5L587.8 1151.0L596.0 1168.8Z"/>
<path d="M659.2 1161.6L642.5 1148.0L647.3 1144.1L627.9 1139.5L636.3 1157.6L639.1 1152.1L655.8 1165.8Z"/>
<path d="M706.6 1163.6L695.6 1149.0L700.8 1146.6L684.4 1138.1L687.9 1156.2L691.7 1152.0L702.6 1166.5Z"/>
<path d="M751.8 1157.5L749.1 1152.9L752.7 1151.7L742.3 1144.9L743.4 1157.3L746.2 1154.7L748.9 1159.2Z"/>
<path d="M799.7 1154.8L803.6 1153.5L796.2 1147.9L796.4 1157.1Z"/>
<path d="M852.0 1149.5L850.0 1146.7L847.4 1154.1L854.8 1151.5Z"/>
<path d="M898.9 1150.2L896.8 1153.2L905.0 1153.3L900.0 1146.7Z"/>
<path d="M950.6 1150.2L948.6 1153.2L956.9 1153.2L951.7 1146.7Z"/>
<path d="M1002.8 1149.7L1000.2 1152.2L1008.2 1153.9L1004.5 1146.5Z"/>
<path d="M1055.6 1149.0L1052.4 1150.2L1058.8 1154.7L1058.3 1146.9Z"/>
<path d="M1112.1 1151.9L1113.0 1148.4L1105.2 1151.2L1112.2 1155.6Z"/>
<path d="M1163.1 1147.2L1162.5 1147.8L1160.7 1145.2L1157.3 1155.0L1167.1 1151.6L1164.5 1149.8L1165.1 1149.2Z"/>
<path d="M1218.0 1144.2L1212.8 1148.9L1210.8 1145.4L1205.8 1157.7L1218.5 1154.0L1215.2 1151.6L1220.4 1146.9Z"/>
<path d="M1272.1 1148.6L1266.4 1149.5L1266.6 1145.6L1256.2 1152.9L1268.4 1156.5L1267.0 1152.9L1272.7 1151.9Z"/>
<path d="M1325.0 1147.5L1317.4 1149.4L1317.3 1145.2L1306.7 1153.9L1320.0 1156.8L1318.3 1153.0L1325.9 1151.1Z"/>
<path d="M1374.8 1145.6L1368.8 1149.0L1367.6 1145.2L1360.1 1156.0L1373.3 1155.1L1370.6 1152.1L1376.5 1148.7Z"/>
<path d="M1421.8 1145.4L1420.1 1148.0L1417.6 1145.6L1416.3 1157.0L1426.0 1150.9L1422.7 1149.7L1424.4 1147.0Z"/>
<path d="M1473.2 1142.8L1470.7 1148.9L1467.4 1146.7L1468.1 1159.7L1477.9 1151.0L1474.0 1150.3L1476.5 1144.2Z"/>
<path d="M1530.1 1144.3L1523.6 1149.1L1521.8 1145.3L1515.4 1157.4L1528.9 1154.9L1525.8 1152.1L1532.3 1147.3Z"/>
<path d="M1582.5 1144.5L1575.4 1149.2L1573.8 1145.2L1566.6 1157.1L1580.5 1155.4L1577.4 1152.3L1584.6 1147.7Z"/>
<path d="M1630.2 1143.9L1626.9 1148.7L1624.2 1145.8L1622.2 1158.3L1633.3 1152.2L1629.7 1150.6L1633.0 1145.9Z"/>
<path d="M1681.5 1150.2L1680.4 1146.7L1675.4 1153.3L1683.6 1153.2Z"/>
<path d="M1736.4 1146.9L1732.2 1148.9L1731.3 1145.3L1723.9 1154.9L1736.0 1154.8L1733.7 1151.9L1737.9 1149.8Z"/>
<path d="M1789.4 1144.7L1782.7 1149.1L1781.2 1145.2L1774.2 1157.0L1787.8 1155.1L1784.8 1152.2L1791.4 1147.8Z"/>
<path d="M1843.4 1145.1L1834.3 1149.3L1833.2 1145.0L1824.0 1156.3L1838.6 1156.5L1835.9 1152.9L1845.0 1148.7Z"/>
<path d="M1892.4 1145.4L1886.8 1149.0L1885.4 1145.2L1878.5 1156.3L1891.5 1154.8L1888.7 1151.9L1894.2 1148.4Z"/>
<path d="M1947.7 1145.0L1937.6 1149.4L1936.7 1144.9L1926.9 1156.3L1942.0 1156.9L1939.3 1153.1L1949.3 1148.7Z"/>
<path d="M2002.7 1143.4L1987.9 1149.7L1986.8 1144.5L1975.4 1157.7L1992.8 1158.5L1989.7 1154.1L2004.6 1147.7Z"/>
<path d="M2051.3 1145.0L2041.2 1149.4L2040.3 1144.9L2030.5 1156.4L2045.5 1156.9L2042.8 1153.1L2052.9 1148.7Z"/>
<path d="M513.5 1208.7L509.3 1199.6L513.6 1198.5L502.3 1189.3L502.1 1203.9L505.7 1201.2L509.9 1210.3Z"/>
<path d="M569.5 1217.8L560.2 1195.2L566.6 1194.0L550.7 1179.9L549.5 1201.1L554.9 1197.4L564.2 1220.0Z"/>
<path d="M617.6 1213.5L612.6 1197.9L618.0 1197.3L605.9 1184.6L603.4 1202.0L608.1 1199.3L613.1 1214.9Z"/>
<path d="M668.3 1209.5L664.6 1199.6L669.1 1198.9L658.4 1188.6L657.0 1203.4L660.9 1201.0L664.6 1210.9Z"/>
<path d="M721.7 1205.6L716.8 1199.6L720.5 1197.7L708.1 1192.0L711.3 1205.2L713.9 1202.0L718.8 1208.0Z"/>
<path d="M766.0 1203.2L770.3 1203.9L766.0 1194.9L761.7 1203.9Z"/>
<path d="M816.4 1202.2L819.4 1204.3L819.5 1196.1L812.9 1201.1Z"/>
<path d="M868.5 1202.6L871.9 1204.3L870.8 1195.7L864.8 1201.9Z"/>
<path d="M917.7 1199.4L917.1 1203.5L925.7 1199.4L917.1 1195.3Z"/>
<path d="M969.4 1200.0L969.5 1204.4L977.6 1198.7L968.1 1195.9Z"/>
<path d="M1021.4 1200.1L1021.6 1204.3L1029.2 1198.6L1020.0 1196.2Z"/>
<path d="M1073.5 1198.3L1071.6 1201.8L1080.7 1200.7L1074.2 1194.3Z"/>
<path d="M1126.3 1201.7L1128.5 1204.7L1131.3 1196.7L1123.3 1199.5Z"/>
<path d="M1179.0 1196.6L1175.5 1197.7L1182.1 1202.7L1182.0 1194.5Z"/>
<path d="M1235.3 1197.1L1233.2 1193.3L1228.6 1202.1L1238.4 1200.2Z"/>
<path d="M1288.1 1196.3L1287.1 1196.7L1286.5 1193.5L1279.4 1201.2L1289.9 1202.0L1288.1 1199.3L1289.1 1198.9Z"/>
<path d="M1340.8 1195.6L1338.3 1196.7L1337.6 1193.3L1330.2 1201.8L1341.5 1202.3L1339.5 1199.5L1342.0 1198.4Z"/>
<path d="M1394.9 1193.8L1388.6 1196.9L1387.6 1193.0L1379.5 1203.4L1392.7 1203.3L1390.2 1200.1L1396.5 1197.0Z"/>
<path d="M1444.1 1191.5L1439.4 1196.7L1437.0 1193.4L1433.3 1206.1L1445.6 1201.1L1442.1 1199.1L1446.8 1193.9Z"/>
<path d="M1503.4 1193.9L1490.8 1197.3L1490.6 1192.3L1478.4 1202.8L1494.1 1205.8L1491.9 1201.4L1504.5 1198.1Z"/>
<path d="M1550.0 1193.7L1544.0 1196.8L1542.9 1193.0L1535.2 1203.6L1548.3 1203.1L1545.7 1200.0L1551.6 1196.8Z"/>
<path d="M1602.4 1191.8L1594.8 1197.1L1593.1 1193.0L1586.1 1205.5L1600.2 1203.3L1597.0 1200.2L1604.6 1194.9Z"/>
<path d="M1655.6 1195.6L1647.9 1197.2L1647.9 1193.0L1637.2 1201.4L1650.4 1204.7L1648.7 1200.8L1656.4 1199.2Z"/>
<path d="M1709.8 1193.4L1698.1 1197.3L1697.5 1192.5L1686.3 1203.4L1701.9 1205.5L1699.4 1201.3L1711.2 1197.4Z"/>
<path d="M1753.0 1198.0L1751.9 1194.5L1746.9 1201.1L1755.1 1201.0Z"/>
<path d="M1802.2 1189.6L1800.6 1197.3L1796.7 1195.6L1800.0 1208.8L1808.4 1198.1L1804.2 1198.1L1805.8 1190.4Z"/>
<path d="M1858.1 1191.1L1853.6 1196.7L1851.0 1193.6L1848.1 1206.6L1860.1 1200.8L1856.4 1199.0L1860.9 1193.4Z"/>
<path d="M1911.3 1188.1L1904.2 1197.8L1901.0 1194.2L1898.2 1209.5L1911.9 1202.2L1907.6 1200.2L1914.7 1190.5Z"/>
<path d="M1971.2 1190.5L1955.3 1197.7L1954.1 1192.3L1942.6 1206.1L1960.6 1206.6L1957.3 1202.1L1973.2 1194.9Z"/>
<path d="M2017.4 1195.0L2010.6 1197.1L2010.2 1193.0L2000.5 1202.1L2013.6 1204.1L2011.6 1200.5L2018.5 1198.4Z"/>
<path d="M491.8 1256.1L489.5 1248.3L493.8 1248.0L484.6 1237.8L482.2 1251.3L486.0 1249.3L488.2 1257.1Z"/>
<path d="M547.1 1258.3L541.1 1246.3L545.9 1245.0L533.0 1235.1L533.2 1251.3L537.2 1248.2L543.2 1260.3Z"/>
<path d="M596.4 1259.4L593.0 1246.8L598.0 1246.6L587.5 1234.4L584.5 1250.1L588.9 1247.9L592.2 1260.5Z"/>
<path d="M649.7 1255.0L645.1 1247.5L649.2 1246.0L637.3 1238.5L638.7 1252.4L641.9 1249.5L646.5 1256.9Z"/>
<path d="M699.6 1250.2L698.0 1248.6L700.9 1246.8L690.5 1243.2L694.1 1253.6L695.9 1250.7L697.5 1252.3Z"/>
<path d="M750.5 1253.3L748.9 1249.2L752.5 1248.6L743.6 1240.5L742.8 1252.5L745.8 1250.4L747.5 1254.5Z"/>
<path d="M795.8 1249.5L798.0 1252.5L800.8 1244.5L792.8 1247.3Z"/>
<path d="M846.7 1248.3L847.4 1252.0L853.6 1246.0L845.0 1244.9Z"/>
<path d="M898.9 1245.3L896.3 1248.2L905.0 1249.4L900.5 1241.8Z"/>
<path d="M950.8 1244.5L947.4 1247.1L956.6 1250.3L953.4 1241.1Z"/>
<path d="M999.2 1245.9L1001.6 1247.0L999.5 1249.8L1010.7 1249.9L1003.8 1241.0L1003.0 1244.3L1000.6 1243.2Z"/>
<path d="M1052.0 1244.2L1053.6 1245.8L1050.7 1247.6L1061.1 1251.2L1057.5 1240.8L1055.7 1243.7L1054.1 1242.1Z"/>
<path d="M1105.5 1245.9L1103.5 1249.5L1112.8 1248.7L1106.5 1241.9Z"/>
<path d="M1159.2 1244.5L1155.9 1245.7L1162.4 1250.4L1162.1 1242.4Z"/>
<path d="M1214.7 1244.3L1211.8 1241.3L1209.9 1250.6L1218.4 1246.3Z"/>
<path d="M1266.8 1244.7L1264.4 1241.5L1261.4 1250.1L1270.0 1247.1Z"/>
<path d="M1319.8 1246.0L1319.0 1241.6L1311.8 1248.6L1321.8 1249.9Z"/>
<path d="M1371.4 1245.4L1370.0 1241.2L1363.8 1249.3L1374.0 1249.1Z"/>
<path d="M1425.1 1245.7L1423.4 1245.7L1424.0 1242.5L1414.3 1247.2L1424.0 1251.9L1423.4 1248.7L1425.1 1248.7Z"/>
<path d="M1473.9 1242.8L1473.3 1243.4L1471.5 1240.8L1468.1 1250.6L1477.9 1247.2L1475.3 1245.4L1475.9 1244.8Z"/>
<path d="M1531.9 1240.8L1523.7 1244.9L1522.6 1240.6L1513.9 1251.9L1528.1 1251.7L1525.4 1248.3L1533.6 1244.2Z"/>
<path d="M1583.0 1240.8L1575.7 1244.8L1574.4 1240.7L1566.4 1251.9L1580.2 1251.3L1577.4 1248.1L1584.7 1244.1Z"/>
<path d="M1632.2 1242.4L1628.7 1244.4L1627.6 1240.9L1620.8 1250.6L1632.7 1249.9L1630.3 1247.2L1633.7 1245.2Z"/>
<path d="M1685.0 1243.6L1681.0 1244.8L1680.7 1241.2L1672.0 1249.2L1683.7 1251.1L1682.0 1247.9L1685.9 1246.7Z"/>
<path d="M1737.9 1245.6L1733.3 1245.6L1734.0 1241.9L1723.1 1247.2L1734.0 1252.5L1733.3 1248.8L1737.9 1248.8Z"/>
<path d="M1785.5 1245.6L1784.2 1241.7L1778.6 1249.1L1787.8 1248.9Z"/>
<path d="M1836.2 1245.1L1834.2 1242.3L1831.6 1249.7L1839.0 1247.1Z"/>
<path d="M1886.8 1229.9L1883.1 1248.2L1877.9 1246.0L1882.5 1264.0L1893.8 1249.2L1888.1 1249.2L1891.7 1230.9Z"/>
<path d="M1941.8 1240.0L1938.1 1244.2L1935.7 1241.1L1932.3 1253.3L1944.0 1248.4L1940.6 1246.5L1944.4 1242.3Z"/>
<path d="M1997.6 1242.1L1990.6 1244.8L1989.9 1240.7L1980.8 1250.6L1994.2 1251.7L1991.9 1248.2L1998.9 1245.5Z"/>
<path d="M2049.4 1241.5L2042.1 1244.8L2041.2 1240.7L2032.4 1251.2L2046.1 1251.6L2043.6 1248.2L2050.9 1244.9Z"/>
<path d="M512.9 1305.1L509.2 1295.2L513.7 1294.5L503.0 1284.2L501.6 1299.0L505.5 1296.6L509.2 1306.5Z"/>
<path d="M562.9 1300.4L561.5 1297.2L565.0 1296.4L556.1 1288.9L555.7 1300.6L558.6 1298.5L560.1 1301.7Z"/>
<path d="M613.7 1303.5L612.7 1296.8L616.7 1297.0L609.3 1286.3L605.4 1298.8L609.2 1297.4L610.2 1304.0Z"/>
<path d="M659.5 1292.8L656.5 1295.7L665.8 1297.6L661.5 1289.1Z"/>
<path d="M711.7 1292.5L708.5 1294.9L717.1 1297.9L714.1 1289.3Z"/>
<path d="M767.0 1298.1L770.7 1297.4L764.8 1291.4L763.7 1299.7Z"/>
<path d="M817.4 1298.1L820.9 1299.1L818.3 1291.3L813.8 1298.2Z"/>
<path d="M867.7 1292.2L864.2 1293.8L871.8 1298.3L870.6 1289.6Z"/>
<path d="M918.2 1293.4L915.9 1296.7L925.1 1296.9L919.5 1289.5Z"/>
<path d="M970.0 1293.4L967.7 1296.7L976.9 1296.9L971.3 1289.5Z"/>
<path d="M1016.4 1294.0L1022.3 1295.9L1020.3 1299.4L1033.1 1297.7L1023.9 1288.7L1023.4 1292.6L1017.5 1290.7Z"/>
<path d="M1070.1 1293.7L1073.3 1295.2L1071.2 1298.1L1082.9 1297.7L1075.4 1288.8L1074.6 1292.3L1071.4 1290.9Z"/>
<path d="M1126.5 1297.1L1128.5 1299.9L1131.1 1292.5L1123.7 1295.1Z"/>
<path d="M1178.3 1292.9L1175.5 1294.9L1182.9 1297.5L1180.3 1290.1Z"/>
<path d="M1230.1 1292.9L1227.3 1294.9L1234.7 1297.5L1232.1 1290.1Z"/>
<path d="M1285.4 1292.2L1282.4 1290.1L1282.3 1298.3L1288.9 1293.3Z"/>
<path d="M1335.8 1298.7L1339.9 1299.3L1335.8 1290.7L1331.7 1299.3Z"/>
<path d="M1387.6 1298.1L1391.1 1298.7L1387.6 1291.3L1384.1 1298.7Z"/>
<path d="M1443.2 1295.0L1443.9 1290.7L1434.9 1295.0L1443.9 1299.3Z"/>
<path d="M1495.7 1292.9L1494.9 1293.1L1495.1 1289.9L1486.5 1295.7L1496.4 1298.8L1495.3 1295.8L1496.1 1295.7Z"/>
<path d="M1545.3 1297.3L1548.3 1295.1L1540.3 1292.3L1543.1 1300.3Z"/>
<path d="M1597.6 1296.4L1599.7 1293.4L1591.5 1293.3L1596.5 1299.9Z"/>
<path d="M1653.6 1297.7L1649.8 1295.2L1652.5 1292.6L1640.5 1291.0L1646.7 1301.4L1648.0 1297.9L1651.8 1300.4Z"/>
<path d="M1708.0 1298.1L1700.7 1294.1L1703.5 1290.9L1689.7 1290.3L1697.7 1301.5L1699.0 1297.4L1706.3 1301.4Z"/>
<path d="M1755.8 1294.2L1754.0 1294.0L1755.1 1290.9L1744.8 1294.3L1753.9 1300.2L1753.6 1296.9L1755.4 1297.1Z"/>
<path d="M1813.5 1285.0L1800.2 1293.4L1798.3 1288.4L1789.2 1303.1L1806.4 1301.1L1802.7 1297.3L1816.0 1288.9Z"/>
<path d="M1850.7 1279.0L1851.4 1296.2L1846.0 1295.3L1854.5 1311.1L1861.6 1294.7L1856.3 1296.0L1855.5 1278.7Z"/>
<path d="M1910.5 1288.3L1906.3 1292.1L1904.4 1288.7L1899.5 1300.4L1911.7 1297.0L1908.6 1294.6L1912.8 1290.9Z"/>
<path d="M1959.1 1286.2L1956.6 1292.3L1953.3 1290.1L1954.0 1303.1L1963.8 1294.4L1959.9 1293.7L1962.4 1287.6Z"/>
<path d="M2015.2 1288.7L2010.0 1292.3L2008.5 1288.6L2002.2 1299.9L2014.9 1297.9L2012.0 1295.1L2017.2 1291.5Z"/>
<path d="M491.6 1350.3L489.7 1344.4L493.6 1343.9L484.6 1334.7L482.9 1347.5L486.4 1345.5L488.3 1351.4Z"/>
<path d="M543.2 1348.2L541.8 1345.0L545.3 1344.2L536.4 1336.7L536.0 1348.4L538.9 1346.3L540.4 1349.5Z"/>
<path d="M594.1 1341.7L593.4 1338.0L587.2 1344.0L595.8 1345.1Z"/>
<path d="M647.4 1347.4L645.7 1344.7L649.0 1343.5L639.3 1337.4L640.6 1348.8L643.1 1346.4L644.8 1349.0Z"/>
<path d="M696.6 1347.3L696.4 1346.5L699.6 1346.7L693.8 1338.1L690.7 1348.0L693.7 1346.9L693.8 1347.7Z"/>
<path d="M747.0 1339.2L743.1 1337.8L745.5 1347.0L751.2 1339.4Z"/>
<path d="M802.8 1347.4L801.1 1344.7L804.4 1343.5L794.7 1337.4L796.0 1348.8L798.5 1346.4L800.2 1349.0Z"/>
<path d="M850.5 1346.6L854.9 1346.5L849.2 1338.4L846.4 1347.9Z"/>
<path d="M901.7 1345.9L905.2 1346.5L901.7 1339.1L898.2 1346.5Z"/>
<path d="M955.4 1345.6L958.9 1344.0L951.3 1339.5L952.5 1348.2Z"/>
<path d="M999.6 1342.9L1001.5 1343.4L1000.0 1346.4L1010.7 1344.1L1002.3 1337.1L1002.2 1340.5L1000.3 1340.0Z"/>
<path d="M1048.5 1341.8L1054.4 1343.7L1052.4 1347.2L1065.2 1345.5L1056.0 1336.5L1055.5 1340.4L1049.6 1338.5Z"/>
<path d="M1100.2 1344.6L1106.7 1344.6L1105.9 1348.5L1117.6 1342.8L1105.9 1337.1L1106.7 1341.0L1100.2 1341.0Z"/>
<path d="M1155.3 1344.3L1157.0 1344.3L1156.4 1347.5L1166.1 1342.8L1156.4 1338.1L1157.0 1341.3L1155.3 1341.3Z"/>
<path d="M1207.4 1342.8L1208.4 1343.1L1206.9 1345.9L1217.2 1344.1L1209.4 1337.2L1209.2 1340.4L1208.2 1340.1Z"/>
<path d="M1260.9 1341.9L1259.4 1345.6L1268.3 1343.8L1261.3 1338.0Z"/>
<path d="M1310.0 1344.3L1312.7 1344.3L1312.0 1347.7L1322.2 1342.8L1312.0 1337.9L1312.7 1341.3L1310.0 1341.3Z"/>
<path d="M1364.1 1342.8L1363.4 1347.1L1372.4 1342.8L1363.4 1338.5Z"/>
<path d="M1416.1 1343.2L1416.0 1347.3L1423.8 1342.3L1415.1 1339.3Z"/>
<path d="M1468.1 1343.7L1468.5 1347.6L1475.5 1341.8L1466.6 1340.0Z"/>
<path d="M1525.5 1345.7L1529.2 1343.7L1520.7 1339.4L1522.6 1348.7Z"/>
<path d="M1578.6 1343.7L1580.2 1339.9L1571.0 1341.7L1578.1 1347.8Z"/>
<path d="M1630.3 1344.4L1632.7 1340.8L1622.9 1341.0L1629.1 1348.5Z"/>
<path d="M1683.8 1345.8L1682.2 1344.2L1685.1 1342.4L1674.7 1338.8L1678.3 1349.2L1680.1 1346.3L1681.7 1347.9Z"/>
<path d="M1735.2 1341.4L1734.5 1341.4L1735.1 1338.3L1725.8 1342.8L1735.1 1347.3L1734.5 1344.2L1735.2 1344.2Z"/>
<path d="M1785.1 1336.5L1782.9 1339.4L1780.5 1336.7L1778.3 1348.2L1788.7 1342.8L1785.4 1341.3L1787.6 1338.4Z"/>
<path d="M1836.5 1333.3L1833.2 1340.4L1829.8 1337.9L1830.1 1351.5L1840.6 1342.9L1836.5 1342.0L1839.8 1334.8Z"/>
<path d="M1884.1 1333.4L1884.1 1340.9L1880.0 1340.1L1885.9 1352.2L1891.8 1340.1L1887.7 1340.9L1887.7 1333.4Z"/>
<path d="M1941.2 1342.8L1941.8 1338.9L1933.6 1342.8L1941.8 1346.7Z"/>
<path d="M1997.5 1337.1L1990.3 1340.4L1989.4 1336.3L1980.8 1346.8L1994.4 1347.1L1991.9 1343.7L1999.0 1340.4Z"/>
<path d="M2047.8 1336.7L2042.2 1340.2L2040.9 1336.4L2033.9 1347.4L2046.8 1346.1L2044.1 1343.2L2049.6 1339.7Z"/>
<path d="M514.5 1396.8L509.6 1390.8L513.3 1388.9L500.9 1383.2L504.1 1396.4L506.7 1393.2L511.6 1399.2Z"/>
<path d="M567.9 1394.4L561.3 1390.0L564.3 1387.1L550.7 1385.2L557.7 1397.0L559.2 1393.1L565.9 1397.5Z"/>
<path d="M616.3 1393.5L614.1 1391.6L616.9 1389.5L605.9 1386.6L610.4 1397.0L612.1 1393.9L614.3 1395.8Z"/>
<path d="M664.7 1388.3L662.5 1385.3L659.7 1393.3L667.7 1390.5Z"/>
<path d="M714.2 1387.5L710.7 1386.9L714.2 1394.3L717.7 1386.9Z"/>
<path d="M764.6 1387.8L761.1 1388.9L767.7 1393.9L767.6 1385.7Z"/>
<path d="M819.0 1394.3L823.4 1393.5L816.4 1386.3L815.1 1396.3Z"/>
<path d="M868.5 1387.4L864.8 1388.1L870.8 1394.3L871.9 1385.7Z"/>
<path d="M919.5 1387.8L916.0 1389.4L923.6 1393.9L922.4 1385.2Z"/>
<path d="M974.1 1394.0L978.0 1393.6L972.2 1386.6L970.4 1395.5Z"/>
<path d="M1017.6 1392.2L1022.2 1392.2L1021.5 1395.9L1032.4 1390.6L1021.5 1385.3L1022.2 1389.0L1017.6 1389.0Z"/>
<path d="M1068.1 1396.4L1076.2 1392.9L1077.0 1397.2L1086.2 1386.6L1072.2 1385.9L1074.7 1389.4L1066.6 1392.9Z"/>
<path d="M1125.4 1392.2L1126.7 1396.1L1132.3 1388.7L1123.1 1388.9Z"/>
<path d="M1183.2 1392.0L1185.3 1389.0L1177.1 1388.9L1182.1 1395.5Z"/>
<path d="M1228.6 1391.4L1228.8 1395.6L1236.4 1389.7L1227.1 1387.4Z"/>
<path d="M1278.9 1393.5L1281.0 1392.9L1281.2 1396.3L1289.5 1389.1L1278.7 1387.0L1280.2 1390.1L1278.1 1390.6Z"/>
<path d="M1328.3 1393.7L1333.7 1392.7L1333.6 1396.6L1343.7 1389.1L1331.6 1385.8L1333.0 1389.4L1327.6 1390.4Z"/>
<path d="M1377.5 1392.5L1386.0 1392.5L1385.2 1396.7L1397.7 1390.6L1385.2 1384.5L1386.0 1388.7L1377.5 1388.7Z"/>
<path d="M1430.7 1392.4L1437.2 1392.4L1436.4 1396.3L1448.1 1390.6L1436.4 1384.9L1437.2 1388.8L1430.7 1388.8Z"/>
<path d="M1484.8 1393.5L1488.6 1392.7L1488.5 1396.4L1497.9 1389.3L1486.5 1386.3L1487.9 1389.6L1484.2 1390.4Z"/>
<path d="M1549.4 1390.5L1546.5 1389.8L1548.0 1386.6L1536.9 1389.3L1545.8 1396.3L1545.9 1392.8L1548.7 1393.4Z"/>
<path d="M1599.5 1389.2L1598.8 1389.2L1599.4 1386.1L1590.1 1390.6L1599.4 1395.1L1598.8 1392.0L1599.5 1392.0Z"/>
<path d="M1643.6 1390.6L1643.1 1393.9L1650.1 1390.6L1643.1 1387.3Z"/>
<path d="M1701.6 1391.2L1702.8 1387.7L1694.7 1389.9L1701.4 1394.9Z"/>
<path d="M1753.0 1389.2L1751.9 1385.7L1746.9 1392.3L1755.1 1392.2Z"/>
<path d="M1807.3 1391.3L1806.0 1390.8L1807.9 1388.1L1797.3 1388.6L1804.3 1396.6L1804.9 1393.4L1806.1 1393.9Z"/>
<path d="M1853.8 1386.8L1849.5 1386.1L1853.8 1395.1L1858.1 1386.1Z"/>
<path d="M1912.3 1385.7L1907.1 1388.0L1906.3 1384.3L1898.2 1394.0L1910.8 1394.3L1908.5 1391.1L1913.7 1388.8Z"/>
<path d="M1968.3 1381.3L1956.0 1388.8L1954.3 1384.0L1945.3 1398.0L1961.9 1396.4L1958.4 1392.7L1970.7 1385.1Z"/>
<path d="M2013.5 1384.7L2010.3 1387.5L2008.5 1384.3L2003.8 1395.3L2015.4 1392.1L2012.4 1389.9L2015.6 1387.1Z"/>
<path d="M490.0 1442.7L489.7 1441.7L492.9 1441.5L486.0 1433.7L484.2 1444.0L487.0 1442.5L487.3 1443.5Z"/>
<path d="M544.1 1445.8L541.6 1439.7L545.5 1439.0L535.7 1430.3L535.0 1443.3L538.3 1441.1L540.8 1447.2Z"/>
<path d="M596.6 1446.4L593.3 1439.2L597.4 1438.3L586.9 1429.7L586.6 1443.3L590.0 1440.8L593.3 1447.9Z"/>
<path d="M646.9 1444.5L645.3 1440.4L648.9 1439.8L640.0 1431.7L639.2 1443.7L642.2 1441.6L643.9 1445.7Z"/>
<path d="M695.1 1442.2L699.5 1442.1L693.8 1434.0L691.0 1443.5Z"/>
<path d="M748.2 1441.2L751.7 1439.6L744.1 1435.1L745.3 1443.8Z"/>
<path d="M801.7 1444.7L800.5 1440.7L804.1 1440.4L796.1 1431.7L794.2 1443.4L797.4 1441.7L798.6 1445.6Z"/>
<path d="M851.1 1441.8L855.1 1441.0L848.5 1434.5L847.5 1443.6Z"/>
<path d="M899.6 1436.2L896.8 1438.2L904.1 1440.9L901.7 1433.5Z"/>
<path d="M952.6 1435.0L948.7 1435.4L954.5 1442.4L956.3 1433.5Z"/>
<path d="M999.1 1439.2L1001.8 1439.5L1000.7 1442.8L1011.4 1439.1L1001.8 1433.1L1002.1 1436.5L999.4 1436.2Z"/>
<path d="M1051.0 1439.9L1053.7 1439.9L1053.0 1443.3L1063.2 1438.4L1053.0 1433.5L1053.7 1436.9L1051.0 1436.9Z"/>
<path d="M1101.7 1441.3L1106.5 1440.5L1106.4 1444.2L1116.3 1437.2L1104.6 1433.7L1106.0 1437.2L1101.2 1438.0Z"/>
<path d="M1156.0 1441.1L1157.4 1440.7L1157.6 1444.0L1165.8 1437.1L1155.3 1434.9L1156.7 1437.9L1155.3 1438.3Z"/>
<path d="M1210.0 1440.9L1212.4 1444.1L1215.4 1435.5L1206.8 1438.5Z"/>
<path d="M1259.6 1442.4L1262.0 1441.3L1262.8 1444.6L1269.7 1435.7L1258.5 1435.8L1260.6 1438.6L1258.2 1439.7Z"/>
<path d="M1307.1 1446.2L1316.4 1440.6L1318.0 1444.9L1326.2 1432.3L1311.2 1433.7L1314.4 1437.1L1305.0 1442.7Z"/>
<path d="M1354.8 1442.6L1368.2 1440.6L1367.9 1445.6L1381.4 1436.4L1365.8 1431.5L1367.6 1436.2L1354.1 1438.2Z"/>
<path d="M1408.4 1441.1L1418.9 1440.5L1418.2 1445.0L1431.1 1437.7L1417.4 1432.1L1418.6 1436.5L1408.1 1437.1Z"/>
<path d="M1460.9 1441.0L1470.4 1440.4L1469.7 1444.8L1482.3 1437.7L1468.9 1432.3L1470.1 1436.5L1460.6 1437.1Z"/>
<path d="M1531.2 1436.0L1525.6 1436.5L1526.1 1432.7L1515.2 1439.1L1527.0 1443.6L1525.9 1439.9L1531.5 1439.4Z"/>
<path d="M1584.4 1435.9L1576.8 1436.5L1577.4 1432.3L1565.7 1439.1L1578.2 1444.1L1577.1 1440.1L1584.7 1439.5Z"/>
<path d="M1629.2 1440.7L1632.2 1438.5L1624.2 1435.7L1627.0 1443.7Z"/>
<path d="M1679.9 1435.7L1677.0 1433.9L1677.3 1441.5L1683.1 1436.6Z"/>
<path d="M1727.6 1436.2L1724.6 1439.1L1733.9 1441.0L1729.6 1432.5Z"/>
<path d="M1776.2 1432.7L1779.5 1437.4L1775.9 1439.0L1787.0 1445.1L1785.0 1432.6L1782.3 1435.5L1779.0 1430.7Z"/>
<path d="M1829.3 1432.4L1831.4 1436.7L1827.8 1437.7L1837.5 1445.1L1837.3 1432.9L1834.4 1435.2L1832.2 1430.9Z"/>
<path d="M1888.7 1432.1L1886.5 1435.0L1884.1 1432.3L1881.9 1443.8L1892.3 1438.4L1889.0 1436.9L1891.2 1434.0Z"/>
<path d="M1946.3 1432.0L1938.1 1436.1L1937.0 1431.8L1928.3 1443.1L1942.5 1442.9L1939.8 1439.5L1948.0 1435.4Z"/>
<path d="M1998.7 1431.3L1989.4 1436.2L1988.1 1431.8L1979.4 1443.8L1994.2 1443.2L1991.3 1439.7L2000.5 1434.8Z"/>
<path d="M2048.2 1431.8L2041.9 1435.9L2040.4 1432.0L2033.4 1443.5L2046.8 1441.9L2043.9 1438.9L2050.2 1434.8Z"/>
<path d="M508.8 1495.6L508.8 1488.1L512.9 1488.9L507.0 1476.8L501.1 1488.9L505.2 1488.1L505.2 1495.6Z"/>
<path d="M561.8 1493.3L560.9 1488.6L564.7 1488.7L557.5 1478.8L554.2 1490.6L557.7 1489.2L558.5 1493.9Z"/>
<path d="M612.6 1497.6L612.6 1487.2L617.1 1488.1L610.6 1474.8L604.1 1488.1L608.6 1487.2L608.6 1497.6Z"/>
<path d="M664.9 1491.9L664.5 1489.2L667.9 1489.4L661.4 1480.2L658.3 1491.0L661.5 1489.8L661.9 1492.5Z"/>
<path d="M715.6 1489.7L719.7 1488.7L712.6 1482.2L711.9 1491.8Z"/>
<path d="M768.1 1491.4L767.9 1489.6L771.2 1489.9L765.3 1480.8L761.9 1491.1L765.0 1490.0L765.2 1491.8Z"/>
<path d="M821.9 1491.6L820.5 1488.4L824.0 1487.6L815.1 1480.1L814.7 1491.8L817.6 1489.7L819.1 1492.9Z"/>
<path d="M870.7 1489.8L874.9 1489.1L868.4 1482.1L866.8 1491.5Z"/>
<path d="M918.3 1486.0L917.6 1489.5L925.0 1486.4L917.9 1482.5Z"/>
<path d="M970.0 1485.1L968.3 1488.5L976.9 1487.4L970.7 1481.4Z"/>
<path d="M1017.9 1489.2L1022.6 1488.3L1022.5 1492.1L1032.4 1484.9L1020.6 1481.6L1022.0 1485.1L1017.3 1485.9Z"/>
<path d="M1068.2 1488.6L1074.8 1488.1L1074.3 1492.1L1085.5 1485.5L1073.4 1480.8L1074.5 1484.6L1067.9 1485.1Z"/>
<path d="M1114.1 1490.5L1129.5 1488.4L1129.1 1493.7L1143.4 1484.2L1127.1 1478.9L1128.9 1483.8L1113.5 1485.9Z"/>
<path d="M1173.0 1487.8L1177.6 1487.8L1176.9 1491.5L1187.8 1486.2L1176.9 1480.9L1177.6 1484.6L1173.0 1484.6Z"/>
<path d="M1222.0 1491.5L1231.8 1488.4L1232.2 1492.9L1243.0 1482.8L1228.4 1480.7L1230.6 1484.6L1220.8 1487.7Z"/>
<path d="M1274.2 1489.4L1282.7 1488.3L1282.4 1492.6L1294.1 1484.9L1280.8 1480.5L1282.2 1484.5L1273.7 1485.7Z"/>
<path d="M1326.1 1490.1L1334.7 1488.4L1334.7 1492.7L1345.9 1484.2L1332.3 1480.6L1334.0 1484.6L1325.3 1486.4Z"/>
<path d="M1383.8 1486.2L1383.1 1490.5L1392.1 1486.2L1383.1 1481.9Z"/>
<path d="M1438.0 1483.4L1434.5 1484.5L1441.1 1489.5L1441.0 1481.3Z"/>
<path d="M1489.8 1489.0L1492.8 1491.1L1492.9 1482.9L1486.3 1487.9Z"/>
<path d="M1543.9 1489.6L1547.8 1489.2L1542.0 1482.2L1540.2 1491.1Z"/>
<path d="M1595.9 1483.0L1592.5 1481.3L1593.6 1489.9L1599.6 1483.7Z"/>
<path d="M1648.0 1483.4L1645.0 1481.3L1644.9 1489.5L1651.5 1484.5Z"/>
<path d="M1695.3 1486.2L1694.7 1489.7L1702.1 1486.2L1694.7 1482.7Z"/>
<path d="M1748.8 1482.8L1744.7 1483.9L1751.9 1490.1L1752.3 1480.6Z"/>
<path d="M1798.8 1481.1L1799.5 1483.4L1796.1 1483.7L1803.7 1491.8L1805.4 1480.8L1802.4 1482.5L1801.7 1480.2Z"/>
<path d="M1851.6 1479.6L1851.9 1483.3L1848.3 1482.9L1854.5 1492.9L1858.5 1481.9L1855.1 1483.0L1854.7 1479.3Z"/>
<path d="M1908.1 1480.2L1906.3 1482.7L1903.9 1480.1L1901.9 1491.3L1912.0 1485.9L1908.8 1484.5L1910.5 1482.0Z"/>
<path d="M1963.4 1480.1L1958.4 1483.5L1956.9 1479.8L1950.4 1490.9L1963.1 1489.1L1960.3 1486.3L1965.3 1483.0Z"/>
<path d="M2014.2 1480.2L2010.3 1483.3L2008.6 1479.9L2003.1 1490.9L2015.2 1488.3L2012.3 1485.9L2016.3 1482.8Z"/>
<path d="M488.5 1537.7L492.9 1536.9L485.9 1529.7L484.6 1539.7Z"/>
<path d="M540.2 1542.9L540.7 1536.3L544.5 1537.4L539.8 1525.3L533.2 1536.5L537.2 1536.0L536.7 1542.6Z"/>
<path d="M593.3 1541.9L592.8 1536.3L596.6 1536.8L590.2 1525.9L585.7 1537.7L589.4 1536.6L589.9 1542.2Z"/>
<path d="M643.3 1537.8L647.7 1537.7L642.0 1529.6L639.2 1539.1Z"/>
<path d="M696.0 1540.4L696.0 1537.2L699.5 1537.9L694.5 1527.6L689.5 1537.9L693.0 1537.2L693.0 1540.4Z"/>
<path d="M746.9 1537.8L751.3 1537.7L745.6 1529.6L742.8 1539.1Z"/>
<path d="M803.3 1537.7L801.4 1535.5L804.5 1533.8L794.1 1529.3L797.0 1540.3L799.1 1537.5L801.0 1539.7Z"/>
<path d="M850.6 1537.6L854.8 1537.4L849.1 1529.8L846.7 1539.0Z"/>
<path d="M900.7 1537.1L904.0 1538.7L902.9 1530.4L897.0 1536.5Z"/>
<path d="M954.9 1536.8L958.4 1535.7L951.8 1530.7L951.9 1538.9Z"/>
<path d="M1001.3 1538.0L1002.9 1537.1L1003.9 1540.2L1010.0 1531.3L999.2 1532.0L1001.4 1534.5L999.9 1535.4Z"/>
<path d="M1053.9 1535.1L1054.6 1538.8L1060.8 1532.8L1052.2 1531.7Z"/>
<path d="M1103.3 1537.1L1106.1 1536.3L1106.3 1539.8L1114.9 1532.4L1103.7 1530.3L1105.3 1533.4L1102.5 1534.1Z"/>
<path d="M1151.9 1539.1L1159.8 1536.3L1160.4 1540.5L1170.1 1530.6L1156.3 1529.1L1158.6 1532.8L1150.6 1535.6Z"/>
<path d="M1209.2 1536.0L1210.9 1540.0L1216.3 1531.7L1206.5 1532.6Z"/>
<path d="M1266.4 1536.1L1269.2 1534.1L1261.8 1531.5L1264.4 1538.9Z"/>
<path d="M1314.0 1531.9L1311.2 1533.9L1318.6 1536.5L1316.0 1529.1Z"/>
<path d="M1366.5 1536.8L1369.5 1538.9L1369.6 1530.7L1363.0 1535.7Z"/>
<path d="M1417.6 1536.1L1419.6 1538.9L1422.2 1531.5L1414.8 1534.1Z"/>
<path d="M1469.4 1536.1L1471.4 1538.9L1474.0 1531.5L1466.6 1534.1Z"/>
<path d="M1530.3 1533.8L1526.6 1533.0L1528.0 1529.7L1516.6 1532.7L1526.0 1539.8L1525.9 1536.1L1529.7 1536.9Z"/>
<path d="M1578.3 1534.8L1579.7 1531.3L1571.4 1533.1L1577.9 1538.5Z"/>
<path d="M1629.9 1533.1L1629.4 1529.6L1623.4 1535.0L1631.4 1536.4Z"/>
<path d="M1684.4 1527.9L1679.7 1531.2L1678.1 1527.6L1672.0 1538.7L1684.5 1536.7L1681.6 1534.0L1686.4 1530.7Z"/>
<path d="M1732.4 1531.1L1729.4 1528.5L1728.3 1537.4L1736.0 1532.8Z"/>
<path d="M1782.3 1530.2L1778.0 1529.5L1782.3 1538.5L1786.6 1529.5Z"/>
<path d="M1829.2 1527.3L1831.5 1532.5L1827.8 1533.3L1837.5 1541.4L1837.8 1528.8L1834.6 1531.1L1832.3 1525.9Z"/>
<path d="M1888.8 1528.3L1886.9 1530.5L1884.8 1527.7L1881.9 1538.7L1892.3 1534.2L1889.2 1532.5L1891.1 1530.3Z"/>
<path d="M1942.3 1529.3L1939.6 1531.0L1938.4 1527.7L1932.3 1537.4L1943.7 1536.1L1941.3 1533.6L1943.9 1531.9Z"/>
<path d="M1996.6 1527.1L1989.9 1531.5L1988.4 1527.6L1981.4 1539.4L1995.0 1537.5L1992.0 1534.6L1998.6 1530.2Z"/>
<path d="M2045.9 1528.8L2042.8 1531.0L2041.4 1527.6L2035.7 1538.0L2047.3 1536.0L2044.7 1533.5L2047.8 1531.3Z"/>
<path d="M511.3 1588.6L509.5 1583.6L513.2 1583.1L504.3 1574.4L503.0 1586.8L506.3 1584.8L508.1 1589.8Z"/>
<path d="M560.9 1593.9L560.9 1582.5L565.5 1583.4L558.8 1569.7L552.1 1583.4L556.7 1582.5L556.7 1593.9Z"/>
<path d="M609.1 1593.2L612.2 1583.4L616.1 1585.6L614.0 1571.0L603.9 1581.8L608.4 1582.2L605.3 1592.0Z"/>
<path d="M662.3 1592.9L664.1 1583.3L668.2 1585.0L664.4 1571.0L655.8 1582.7L660.3 1582.6L658.5 1592.2Z"/>
<path d="M714.7 1592.1L715.9 1583.6L719.9 1585.0L715.5 1571.7L707.8 1583.4L712.1 1583.1L711.0 1591.6Z"/>
<path d="M766.0 1585.3L769.9 1585.9L766.0 1577.7L762.1 1585.9Z"/>
<path d="M819.3 1587.2L819.3 1585.5L822.5 1586.1L817.8 1576.4L813.1 1586.1L816.3 1585.5L816.3 1587.2Z"/>
<path d="M867.3 1584.1L869.5 1587.1L872.3 1579.1L864.3 1581.9Z"/>
<path d="M917.9 1581.8L917.3 1585.7L925.5 1581.8L917.3 1577.9Z"/>
<path d="M973.2 1585.1L976.9 1585.7L973.2 1577.9L969.5 1585.7Z"/>
<path d="M1027.0 1585.1L1031.0 1583.4L1022.7 1578.0L1023.6 1587.8Z"/>
<path d="M1073.8 1584.2L1076.0 1588.1L1080.3 1579.0L1070.5 1581.2Z"/>
<path d="M1128.6 1584.8L1131.9 1585.3L1128.6 1578.3L1125.3 1585.3Z"/>
<path d="M1178.3 1579.7L1175.5 1581.7L1182.9 1584.3L1180.3 1576.9Z"/>
<path d="M1236.0 1581.8L1236.7 1577.5L1227.7 1581.8L1236.7 1586.1Z"/>
<path d="M1286.8 1583.2L1288.9 1580.2L1280.7 1580.1L1285.7 1586.7Z"/>
<path d="M1333.7 1579.7L1330.9 1581.7L1338.3 1584.3L1335.7 1576.9Z"/>
<path d="M1385.4 1568.3L1385.4 1581.7L1380.5 1580.7L1387.6 1595.3L1394.6 1580.7L1389.8 1581.7L1389.8 1568.3Z"/>
<path d="M1430.4 1578.7L1436.8 1582.4L1434.1 1585.5L1447.5 1586.5L1440.0 1575.4L1438.7 1579.3L1432.2 1575.5Z"/>
<path d="M1489.1 1579.7L1486.3 1581.7L1493.7 1584.3L1491.1 1576.9Z"/>
<path d="M1543.0 1584.9L1546.5 1585.5L1543.0 1578.1L1539.5 1585.5Z"/>
<path d="M1593.4 1584.6L1596.4 1586.7L1596.5 1578.5L1589.9 1583.5Z"/>
<path d="M1646.6 1585.1L1650.3 1585.7L1646.6 1577.9L1642.9 1585.7Z"/>
<path d="M1698.4 1585.5L1702.5 1586.1L1698.4 1577.5L1694.3 1586.1Z"/>
<path d="M1750.3 1578.7L1746.7 1578.1L1750.1 1585.4L1753.8 1578.2Z"/>
<path d="M1799.2 1577.4L1799.5 1578.5L1796.3 1578.8L1803.4 1586.6L1805.1 1576.2L1802.3 1577.7L1801.9 1576.6Z"/>
<path d="M1848.6 1578.1L1850.5 1580.3L1847.4 1582.0L1857.8 1586.5L1854.9 1575.5L1852.8 1578.3L1850.9 1576.1Z"/>
<path d="M1903.5 1579.7L1900.7 1581.7L1908.1 1584.3L1905.5 1576.9Z"/>
<path d="M1957.4 1578.3L1953.5 1577.7L1957.4 1585.9L1961.3 1577.7Z"/>
<path d="M2012.0 1579.9L2010.4 1576.4L2005.9 1584.0L2014.6 1582.8Z"/>
<path d="M487.9 1633.4L492.3 1633.3L486.6 1625.2L483.8 1634.7Z"/>
<path d="M541.7 1639.6L541.1 1631.0L545.3 1631.6L538.4 1619.5L533.2 1632.4L537.3 1631.3L537.9 1639.8Z"/>
<path d="M592.8 1639.7L592.8 1631.2L597.0 1632.0L590.9 1619.5L584.8 1632.0L589.0 1631.2L589.0 1639.7Z"/>
<path d="M647.9 1639.1L644.9 1630.2L649.3 1629.7L639.3 1619.5L637.5 1633.7L641.3 1631.5L644.2 1640.3Z"/>
<path d="M692.0 1637.8L694.9 1632.5L697.9 1635.0L698.5 1622.2L688.1 1629.7L691.9 1630.8L688.9 1636.2Z"/>
<path d="M745.0 1642.3L748.2 1630.6L752.5 1632.8L749.7 1617.5L739.4 1629.2L744.1 1629.5L740.9 1641.1Z"/>
<path d="M795.7 1639.1L799.0 1632.0L802.4 1634.5L802.1 1620.9L791.6 1629.5L795.7 1630.4L792.4 1637.6Z"/>
<path d="M847.1 1627.7L844.5 1630.6L853.2 1631.8L848.7 1624.2Z"/>
<path d="M901.7 1632.9L905.4 1633.5L901.7 1625.7L898.0 1633.5Z"/>
<path d="M951.2 1631.7L953.2 1634.6L956.1 1627.2L948.5 1629.5Z"/>
<path d="M1004.5 1632.7L1007.9 1634.1L1006.2 1626.0L1000.9 1632.3Z"/>
<path d="M1057.1 1632.7L1060.6 1633.3L1057.1 1625.9L1053.6 1633.3Z"/>
<path d="M1108.9 1632.6L1112.2 1633.1L1108.9 1626.1L1105.6 1633.1Z"/>
<path d="M1160.7 1633.4L1165.0 1634.1L1160.7 1625.1L1156.4 1634.1Z"/>
<path d="M1213.6 1632.8L1217.3 1632.1L1211.3 1625.9L1210.2 1634.5Z"/>
<path d="M1270.8 1612.9L1261.2 1629.9L1256.8 1626.1L1255.6 1645.1L1271.2 1634.2L1265.6 1632.5L1275.3 1615.4Z"/>
<path d="M1318.1 1626.7L1315.1 1624.0L1313.8 1633.0L1321.7 1628.4Z"/>
<path d="M1367.3 1626.3L1363.5 1626.5L1368.6 1633.4L1370.9 1625.2Z"/>
<path d="M1419.7 1632.7L1423.2 1633.3L1419.7 1625.9L1416.2 1633.3Z"/>
<path d="M1468.4 1629.1L1467.4 1632.6L1475.1 1630.1L1468.4 1625.6Z"/>
<path d="M1520.1 1630.7L1520.8 1634.4L1527.0 1628.4L1518.4 1627.3Z"/>
<path d="M1575.1 1626.1L1571.2 1625.5L1575.1 1633.7L1579.0 1625.5Z"/>
<path d="M1628.3 1626.8L1625.3 1624.7L1625.2 1632.9L1631.8 1627.9Z"/>
<path d="M1675.1 1628.9L1673.7 1632.8L1682.9 1630.4L1675.3 1624.7Z"/>
<path d="M1729.8 1633.2L1733.7 1634.6L1731.3 1625.4L1725.6 1633.0Z"/>
<path d="M1782.6 1621.1L1781.2 1626.9L1777.7 1625.2L1780.3 1637.7L1788.5 1627.9L1784.5 1627.7L1786.0 1621.9Z"/>
<path d="M1829.5 1625.8L1830.9 1627.6L1827.7 1629.0L1837.5 1634.3L1835.6 1623.4L1833.3 1625.9L1832.0 1624.0Z"/>
<path d="M1880.5 1631.1L1882.2 1631.1L1881.6 1634.3L1891.3 1629.6L1881.6 1624.9L1882.2 1628.1L1880.5 1628.1Z"/>
<path d="M1931.6 1631.1L1934.3 1631.1L1933.6 1634.5L1943.8 1629.6L1933.6 1624.7L1934.3 1628.1L1931.6 1628.1Z"/>
<path d="M1989.3 1626.4L1985.7 1626.1L1989.7 1633.3L1992.9 1625.7Z"/>
<path d="M2043.8 1627.3L2041.6 1624.1L2038.4 1632.3L2046.8 1629.7Z"/>
<path d="M510.5 1683.0L509.5 1680.0L513.0 1679.6L505.0 1671.3L503.5 1682.7L506.5 1680.9L507.6 1683.9Z"/>
<path d="M563.2 1685.6L561.1 1678.8L565.2 1678.4L556.1 1668.7L554.1 1681.8L557.7 1679.8L559.8 1686.7Z"/>
<path d="M613.4 1683.1L612.8 1680.3L616.3 1680.2L609.3 1671.3L606.6 1682.4L609.8 1680.9L610.5 1683.8Z"/>
<path d="M666.0 1683.7L664.8 1679.7L668.4 1679.4L660.4 1670.7L658.5 1682.4L661.7 1680.7L662.9 1684.6Z"/>
<path d="M715.7 1682.8L715.7 1681.1L718.9 1681.7L714.2 1672.0L709.5 1681.7L712.7 1681.1L712.7 1682.8Z"/>
<path d="M765.9 1683.2L766.5 1681.2L769.5 1682.8L767.5 1672.0L760.3 1680.2L763.6 1680.4L763.1 1682.4Z"/>
<path d="M816.2 1680.7L819.6 1683.0L819.7 1673.6L812.2 1679.4Z"/>
<path d="M866.9 1678.8L868.0 1682.1L872.8 1675.7L864.8 1676.0Z"/>
<path d="M922.8 1674.6L919.8 1672.5L919.7 1680.7L926.3 1675.7Z"/>
<path d="M969.7 1677.4L969.1 1681.3L977.3 1677.4L969.1 1673.5Z"/>
<path d="M1022.0 1677.9L1022.1 1681.3L1028.4 1676.9L1021.0 1674.6Z"/>
<path d="M1078.2 1680.2L1081.7 1679.1L1075.1 1674.1L1075.2 1682.3Z"/>
<path d="M1126.4 1663.9L1126.4 1677.3L1121.5 1676.3L1128.6 1690.9L1135.6 1676.3L1130.8 1677.3L1130.8 1663.9Z"/>
<path d="M1181.2 1674.3L1177.8 1672.9L1179.5 1681.0L1184.8 1674.6Z"/>
<path d="M1235.6 1678.3L1237.1 1674.6L1228.2 1676.4L1235.2 1682.2Z"/>
<path d="M1284.0 1680.4L1287.3 1680.9L1284.0 1673.9L1280.7 1680.9Z"/>
<path d="M1336.9 1680.6L1340.6 1679.9L1334.6 1673.7L1333.5 1682.3Z"/>
<path d="M1386.5 1680.6L1389.9 1682.3L1388.8 1673.7L1382.8 1679.9Z"/>
<path d="M1436.9 1679.2L1438.6 1682.3L1442.3 1675.3L1434.5 1676.8Z"/>
<path d="M1491.2 1680.5L1494.7 1681.1L1491.2 1673.7L1487.7 1681.1Z"/>
<path d="M1543.0 1681.2L1547.3 1681.9L1543.0 1672.9L1538.7 1681.9Z"/>
<path d="M1595.7 1680.8L1599.6 1680.4L1593.8 1673.4L1592.0 1682.3Z"/>
<path d="M1647.6 1685.0L1648.0 1680.3L1651.6 1681.4L1647.3 1670.0L1641.0 1680.4L1644.7 1680.0L1644.3 1684.7Z"/>
<path d="M1698.4 1680.7L1702.1 1681.3L1698.4 1673.5L1694.7 1681.3Z"/>
<path d="M1748.8 1674.6L1745.3 1675.7L1751.9 1680.7L1751.8 1672.5Z"/>
<path d="M1800.7 1674.1L1796.7 1675.0L1803.5 1681.3L1804.3 1672.1Z"/>
<path d="M1850.6 1675.3L1847.8 1678.6L1857.5 1679.8L1852.4 1671.4Z"/>
<path d="M1901.9 1676.9L1900.8 1681.0L1909.9 1677.9L1901.8 1672.7Z"/>
<path d="M1954.2 1676.7L1952.9 1680.2L1961.1 1678.2L1954.5 1673.0Z"/>
<path d="M2012.0 1675.5L2010.4 1672.0L2005.9 1679.6L2014.6 1678.4Z"/>
<path d="M487.7 1729.0L492.0 1729.1L486.8 1720.8L483.5 1730.0Z"/>
<path d="M535.7 1724.3L534.2 1728.0L543.1 1726.2L536.1 1720.4Z"/>
<path d="M595.3 1733.4L593.2 1726.6L597.3 1726.2L588.2 1716.5L586.2 1729.6L589.8 1727.6L591.9 1734.5Z"/>
<path d="M647.5 1730.5L645.5 1727.0L649.0 1725.9L639.3 1719.1L640.0 1731.0L642.7 1728.6L644.7 1732.0Z"/>
<path d="M699.4 1731.9L697.1 1726.7L700.8 1725.9L691.1 1717.8L690.8 1730.4L694.0 1728.1L696.3 1733.3Z"/>
<path d="M742.8 1725.2L742.2 1729.1L750.4 1725.2L742.2 1721.3Z"/>
<path d="M800.4 1727.5L803.4 1725.3L795.4 1722.5L798.2 1730.5Z"/>
<path d="M846.7 1726.3L847.4 1730.0L853.6 1724.0L845.0 1722.9Z"/>
<path d="M900.3 1728.0L903.3 1730.1L903.4 1721.9L896.8 1726.9Z"/>
<path d="M951.6 1722.4L948.1 1724.0L955.7 1728.5L954.5 1719.8Z"/>
<path d="M1002.5 1724.1L1000.8 1727.1L1008.6 1726.5L1003.2 1720.7Z"/>
<path d="M1055.0 1723.1L1052.2 1725.1L1059.6 1727.7L1057.0 1720.3Z"/>
<path d="M1101.8 1721.8L1105.8 1724.9L1102.9 1727.3L1115.0 1729.9L1109.5 1718.9L1107.8 1722.3L1103.9 1719.2Z"/>
<path d="M1158.6 1723.1L1155.8 1725.1L1163.2 1727.7L1160.6 1720.3Z"/>
<path d="M1211.2 1722.5L1208.0 1723.5L1214.0 1728.3L1214.0 1720.7Z"/>
<path d="M1260.9 1724.3L1259.4 1728.0L1268.3 1726.2L1261.3 1720.4Z"/>
<path d="M1312.5 1724.5L1311.1 1728.4L1320.3 1726.0L1312.7 1720.3Z"/>
<path d="M1364.5 1725.9L1364.7 1729.8L1371.9 1724.4L1363.2 1722.1Z"/>
<path d="M1417.6 1727.3L1419.6 1730.1L1422.2 1722.7L1414.8 1725.3Z"/>
<path d="M1469.4 1723.1L1466.6 1725.1L1474.0 1727.7L1471.4 1720.3Z"/>
<path d="M1523.3 1728.7L1527.2 1729.3L1523.3 1721.1L1519.4 1729.3Z"/>
<path d="M1571.6 1723.8L1569.5 1727.5L1579.1 1726.8L1572.6 1719.7Z"/>
<path d="M1628.3 1728.0L1631.8 1726.9L1625.2 1721.9L1625.3 1730.1Z"/>
<path d="M1677.1 1727.8L1679.8 1730.0L1680.5 1722.1L1673.9 1726.5Z"/>
<path d="M1728.1 1727.4L1730.2 1730.5L1733.3 1722.6L1725.2 1725.0Z"/>
<path d="M1781.2 1722.0L1777.5 1722.7L1783.5 1728.9L1784.6 1720.3Z"/>
<path d="M1830.8 1724.1L1829.1 1727.7L1837.9 1726.4L1831.5 1720.3Z"/>
<path d="M1882.1 1725.2L1881.4 1729.5L1890.4 1725.2L1881.4 1720.9Z"/>
<path d="M1936.3 1728.0L1939.3 1730.1L1939.4 1721.9L1932.8 1726.9Z"/>
<path d="M1989.0 1722.1L1985.5 1722.2L1990.1 1728.8L1992.4 1721.1Z"/>
<path d="M2042.5 1722.2L2039.3 1720.4L2039.9 1728.7L2046.1 1723.0Z"/>
<path d="M507.6 1776.8L512.0 1776.7L506.3 1768.6L503.5 1778.1Z"/>
<path d="M562.7 1776.3L562.1 1775.5L565.1 1774.3L556.1 1769.0L557.5 1779.3L559.8 1777.0L560.3 1777.8Z"/>
<path d="M614.5 1776.3L613.9 1775.5L616.9 1774.3L607.9 1769.0L609.3 1779.3L611.6 1777.0L612.1 1777.8Z"/>
<path d="M669.9 1779.2L665.0 1773.2L668.7 1771.3L656.3 1765.6L659.5 1778.8L662.1 1775.6L667.0 1781.6Z"/>
<path d="M713.3 1769.6L709.4 1770.0L715.2 1777.0L717.0 1768.1Z"/>
<path d="M764.6 1775.8L767.6 1777.9L767.7 1769.7L761.1 1774.7Z"/>
<path d="M819.2 1775.8L822.7 1774.7L816.1 1769.7L816.2 1777.9Z"/>
<path d="M868.0 1775.6L870.7 1777.9L871.4 1769.9L864.8 1774.3Z"/>
<path d="M918.4 1773.1L918.1 1776.5L924.9 1772.9L917.8 1769.8Z"/>
<path d="M970.6 1771.6L968.6 1774.3L976.2 1774.6L971.8 1768.4Z"/>
<path d="M1027.1 1775.1L1029.9 1773.1L1022.5 1770.5L1025.1 1777.9Z"/>
<path d="M1076.8 1776.7L1080.9 1777.3L1076.8 1768.7L1072.7 1777.3Z"/>
<path d="M1130.7 1775.1L1133.5 1773.1L1126.1 1770.5L1128.7 1777.9Z"/>
<path d="M1177.6 1774.9L1179.2 1778.4L1183.7 1770.8L1175.0 1772.0Z"/>
<path d="M1235.2 1773.0L1235.7 1769.7L1228.7 1773.0L1235.7 1776.3Z"/>
<path d="M1280.6 1772.6L1279.6 1776.3L1287.9 1773.5L1280.5 1768.7Z"/>
<path d="M1330.9 1773.7L1331.7 1773.8L1330.6 1776.8L1340.5 1773.7L1331.9 1767.9L1332.1 1771.1L1331.3 1770.9Z"/>
<path d="M1380.2 1774.6L1384.8 1774.6L1384.1 1778.3L1395.0 1773.0L1384.1 1767.7L1384.8 1771.4L1380.2 1771.4Z"/>
<path d="M1436.0 1772.1L1434.5 1775.8L1443.4 1774.0L1436.4 1768.2Z"/>
<path d="M1487.4 1772.4L1486.1 1776.5L1495.6 1773.7L1487.5 1768.0Z"/>
<path d="M1535.4 1774.0L1540.1 1774.4L1539.0 1778.0L1550.4 1773.7L1540.0 1767.4L1540.4 1771.1L1535.7 1770.7Z"/>
<path d="M1592.7 1768.5L1592.9 1769.3L1589.7 1769.1L1595.5 1777.7L1598.6 1767.8L1595.6 1768.9L1595.5 1768.1Z"/>
<path d="M1643.4 1763.8L1644.5 1771.5L1640.4 1771.2L1647.9 1782.4L1652.1 1769.5L1648.2 1770.9L1647.1 1763.3Z"/>
<path d="M1698.4 1776.3L1702.1 1776.9L1698.4 1769.1L1694.7 1776.9Z"/>
<path d="M1746.4 1782.1L1750.8 1775.5L1753.7 1778.5L1755.6 1764.9L1743.8 1771.9L1747.7 1773.4L1743.3 1780.1Z"/>
<path d="M1798.2 1773.0L1797.5 1777.3L1806.5 1773.0L1797.5 1768.7Z"/>
<path d="M1850.6 1771.9L1848.9 1775.3L1857.5 1774.2L1851.3 1768.2Z"/>
<path d="M1904.7 1769.6L1900.8 1770.0L1906.6 1777.0L1908.4 1768.1Z"/>
<path d="M1956.7 1769.4L1952.5 1769.6L1958.2 1777.2L1960.6 1768.0Z"/>
<path d="M2008.1 1769.8L2004.4 1770.5L2010.4 1776.7L2011.5 1768.1Z"/>
<path d="M488.0 1824.4L492.2 1824.2L486.5 1816.6L484.1 1825.8Z"/>
<path d="M539.8 1824.4L544.0 1824.2L538.3 1816.6L535.9 1825.8Z"/>
<path d="M591.6 1824.4L595.8 1824.2L590.1 1816.6L587.7 1825.8Z"/>
<path d="M643.4 1824.4L647.6 1824.2L641.9 1816.6L639.5 1825.8Z"/>
<path d="M694.5 1824.3L698.4 1824.9L694.5 1816.7L690.6 1824.9Z"/>
<path d="M746.3 1823.9L749.8 1824.4L746.3 1817.2L742.8 1824.4Z"/>
<path d="M798.3 1823.9L801.8 1824.2L797.9 1817.2L794.8 1824.6Z"/>
<path d="M850.2 1823.9L853.8 1824.0L849.5 1817.2L846.8 1824.8Z"/>
<path d="M899.3 1822.7L901.1 1825.6L904.4 1818.6L896.8 1820.3Z"/>
<path d="M950.7 1820.2L949.6 1823.3L956.8 1821.5L950.9 1817.0Z"/>
<path d="M1006.4 1823.6L1009.8 1822.8L1004.0 1817.6L1003.5 1825.3Z"/>
<path d="M1057.1 1824.0L1060.7 1824.5L1057.1 1817.1L1053.5 1824.5Z"/>
<path d="M1108.2 1823.8L1111.6 1825.1L1109.7 1817.3L1104.7 1823.6Z"/>
<path d="M1158.3 1822.8L1160.1 1825.8L1163.5 1818.5L1155.7 1820.4Z"/>
<path d="M1210.5 1822.9L1212.5 1825.5L1214.9 1818.3L1207.8 1821.0Z"/>
<path d="M1261.2 1820.5L1260.4 1824.0L1267.9 1821.1L1261.0 1817.0Z"/>
<path d="M1312.2 1820.3L1311.1 1824.6L1320.6 1821.3L1312.1 1815.9Z"/>
<path d="M1362.3 1822.0L1364.2 1822.1L1363.4 1825.3L1373.4 1821.1L1363.9 1815.8L1364.4 1819.1L1362.4 1819.0Z"/>
<path d="M1415.8 1820.5L1414.8 1824.7L1424.2 1821.2L1415.6 1816.1Z"/>
<path d="M1467.8 1820.4L1466.7 1824.5L1475.8 1821.3L1467.7 1816.1Z"/>
<path d="M1518.3 1821.3L1519.2 1821.5L1518.0 1824.5L1528.1 1821.6L1519.6 1815.5L1519.7 1818.7L1518.8 1818.6Z"/>
<path d="M1572.3 1818.1L1568.8 1820.8L1578.3 1823.9L1574.9 1814.5Z"/>
<path d="M1624.1 1816.0L1624.6 1817.6L1621.2 1817.8L1628.3 1826.0L1630.4 1815.4L1627.4 1816.9L1626.9 1815.2Z"/>
<path d="M1677.0 1818.0L1673.5 1819.5L1680.7 1824.1L1679.8 1815.6Z"/>
<path d="M1728.5 1825.5L1729.1 1824.7L1731.2 1827.2L1733.6 1817.0L1724.1 1821.4L1726.9 1822.9L1726.3 1823.7Z"/>
<path d="M1779.3 1824.6L1779.8 1824.2L1781.0 1827.1L1786.1 1818.2L1776.0 1819.7L1778.3 1821.9L1777.7 1822.3Z"/>
<path d="M1830.6 1820.6L1829.8 1824.5L1838.2 1821.0L1830.2 1816.6Z"/>
<path d="M1883.6 1818.3L1880.5 1820.5L1888.5 1823.7L1886.0 1815.3Z"/>
<path d="M1936.5 1817.6L1932.6 1818.4L1939.1 1824.5L1939.9 1815.7Z"/>
<path d="M1988.6 1817.5L1984.7 1818.0L1990.6 1824.6L1992.1 1815.9Z"/>
<path d="M2040.3 1817.5L2036.5 1818.1L2042.4 1824.6L2043.8 1815.9Z"/>
</g>
<g transform="translate(1164.7 627.0) rotate(30.0)"><rect x="-51.8" y="-22.8" width="103.5" height="45.5" fill="#fff"/><text x="0" y="14.3" font-size="40" text-anchor="middle">1008</text></g>
<g transform="translate(1733.0 770.0) rotate(-83.0)"><rect x="-51.8" y="-22.8" width="103.5" height="45.5" fill="#fff"/><text x="0" y="14.3" font-size="40" text-anchor="middle">1008</text></g>
<g transform="translate(663.8 945.3) rotate(-12.5)"><rect x="-51.8" y="-22.8" width="103.5" height="45.5" fill="#fff"/><text x="0" y="14.3" font-size="40" text-anchor="middle">1000</text></g>
<g transform="translate(953.4 1135.0) rotate(16.0)"><rect x="-51.8" y="-22.8" width="103.5" height="45.5" fill="#fff"/><text x="0" y="14.3" font-size="40" text-anchor="middle">1000</text></g>
<g transform="translate(1105.8 1055.4) rotate(-1.5)"><rect x="-51.8" y="-22.8" width="103.5" height="45.5" fill="#fff"/><text x="0" y="14.3" font-size="40" text-anchor="middle">1000</text></g>
<g transform="translate(701.8 1514.2) rotate(57.2)"><rect x="-51.8" y="-22.8" width="103.5" height="45.5" fill="#fff"/><text x="0" y="14.3" font-size="40" text-anchor="middle">1000</text></g>
<g transform="translate(1098.0 1547.9) rotate(-17.8)"><rect x="-51.8" y="-22.8" width="103.5" height="45.5" fill="#fff"/><text x="0" y="14.3" font-size="40" text-anchor="middle">1000</text></g>
<rect x="509.6" y="610.3" width="79.4" height="56.6" fill="#fff"/><text x="515.0" y="648.9" font-size="41">L<tspan font-size="25.6" dy="9.4">998</tspan></text>
<rect x="750.0" y="1264.3" width="96.4" height="56.6" fill="#fff"/><text x="755.4" y="1302.9" font-size="41">H<tspan font-size="25.6" dy="9.4">1001</tspan></text>
<rect x="1339.1" y="1005.1" width="79.4" height="56.6" fill="#fff"/><text x="1344.5" y="1043.7" font-size="41">L<tspan font-size="25.6" dy="9.4">998</tspan></text>
<rect x="1194.9" y="1069.2" width="79.4" height="56.6" fill="#fff"/><text x="1200.3" y="1107.8" font-size="41">L<tspan font-size="25.6" dy="9.4">998</tspan></text>
<rect x="1043.9" y="1148.0" width="79.4" height="56.6" fill="#fff"/><text x="1049.3" y="1186.6" font-size="41">L<tspan font-size="25.6" dy="9.4">998</tspan></text>
<rect x="1298.8" y="1148.0" width="79.4" height="56.6" fill="#fff"/><text x="1304.2" y="1186.6" font-size="41">L<tspan font-size="25.6" dy="9.4">997</tspan></text>
<rect x="1220.2" y="1188.1" width="99.9" height="56.6" fill="#fff"/><text x="1225.6" y="1226.7" font-size="41">H<tspan font-size="25.6" dy="9.4">1000</tspan></text>
<rect x="1096.1" y="1228.0" width="79.4" height="56.6" fill="#fff"/><text x="1101.5" y="1266.6" font-size="41">L<tspan font-size="25.6" dy="9.4">998</tspan></text>
<rect x="1693.0" y="1104.1" width="79.4" height="56.6" fill="#fff"/><text x="1698.4" y="1142.7" font-size="41">L<tspan font-size="25.6" dy="9.4">996</tspan></text>
<rect x="1505.9" y="1152.0" width="79.4" height="56.6" fill="#fff"/><text x="1511.3" y="1190.6" font-size="41">L<tspan font-size="25.6" dy="9.4">996</tspan></text>
<rect x="1809.0" y="1167.9" width="79.4" height="56.6" fill="#fff"/><text x="1814.4" y="1206.5" font-size="41">L<tspan font-size="25.6" dy="9.4">996</tspan></text>
<rect x="817.0" y="1410.9" width="96.4" height="56.6" fill="#fff"/><text x="822.4" y="1449.5" font-size="41">H<tspan font-size="25.6" dy="9.4">1001</tspan></text>
<rect x="861.1" y="1486.8" width="93.1" height="56.6" fill="#fff"/><text x="866.5" y="1525.4" font-size="41">L<tspan font-size="25.6" dy="9.4">1000</tspan></text>
<rect x="909.0" y="1602.0" width="99.9" height="56.6" fill="#fff"/><text x="914.4" y="1640.6" font-size="41">H<tspan font-size="25.6" dy="9.4">1002</tspan></text>
<rect x="745.1" y="1666.0" width="79.4" height="56.6" fill="#fff"/><text x="750.5" y="1704.6" font-size="41">L<tspan font-size="25.6" dy="9.4">999</tspan></text>
<rect x="825.1" y="1666.0" width="79.4" height="56.6" fill="#fff"/><text x="830.5" y="1704.6" font-size="41">L<tspan font-size="25.6" dy="9.4">999</tspan></text>
<rect x="845.0" y="1754.3" width="79.4" height="56.6" fill="#fff"/><text x="850.4" y="1792.9" font-size="41">L<tspan font-size="25.6" dy="9.4">999</tspan></text>
<rect x="901.2" y="1741.9" width="99.9" height="56.6" fill="#fff"/><text x="906.6" y="1780.5" font-size="41">H<tspan font-size="25.6" dy="9.4">1002</tspan></text>
<rect x="1382.2" y="1312.1" width="79.4" height="56.6" fill="#fff"/><text x="1387.6" y="1350.7" font-size="41">L<tspan font-size="25.6" dy="9.4">997</tspan></text>
<rect x="1190.8" y="1347.1" width="79.4" height="56.6" fill="#fff"/><text x="1196.2" y="1385.7" font-size="41">L<tspan font-size="25.6" dy="9.4">997</tspan></text>
<rect x="1270.8" y="1371.3" width="79.4" height="56.6" fill="#fff"/><text x="1276.2" y="1409.9" font-size="41">L<tspan font-size="25.6" dy="9.4">997</tspan></text>
<rect x="1084.0" y="1407.1" width="79.4" height="56.6" fill="#fff"/><text x="1089.4" y="1445.7" font-size="41">L<tspan font-size="25.6" dy="9.4">998</tspan></text>
<rect x="1298.8" y="1614.4" width="79.4" height="56.6" fill="#fff"/><text x="1304.2" y="1653.0" font-size="41">L<tspan font-size="25.6" dy="9.4">993</tspan></text>
<rect x="1441.9" y="1594.2" width="79.4" height="56.6" fill="#fff"/><text x="1447.3" y="1632.8" font-size="41">L<tspan font-size="25.6" dy="9.4">993</tspan></text>
<rect x="1138.9" y="1666.0" width="79.4" height="56.6" fill="#fff"/><text x="1144.3" y="1704.6" font-size="41">L<tspan font-size="25.6" dy="9.4">994</tspan></text>
<rect x="1266.5" y="1785.8" width="79.4" height="56.6" fill="#fff"/><text x="1271.9" y="1824.4" font-size="41">L<tspan font-size="25.6" dy="9.4">995</tspan></text>
<rect x="1232.0" y="1741.9" width="86.2" height="56.6" fill="#fff"/><text x="1237.4" y="1780.5" font-size="41">H<tspan font-size="25.6" dy="9.4">997</tspan></text>
<rect x="1557.9" y="1304.0" width="79.4" height="56.6" fill="#fff"/><text x="1563.3" y="1342.6" font-size="41">L<tspan font-size="25.6" dy="9.4">995</tspan></text>
<rect x="1959.7" y="1279.8" width="79.4" height="56.6" fill="#fff"/><text x="1965.1" y="1318.4" font-size="41">L<tspan font-size="25.6" dy="9.4">996</tspan></text>
<rect x="1641.8" y="1391.0" width="86.2" height="56.6" fill="#fff"/><text x="1647.2" y="1429.6" font-size="41">H<tspan font-size="25.6" dy="9.4">999</tspan></text>
<rect x="1744.9" y="1459.3" width="79.4" height="56.6" fill="#fff"/><text x="1750.3" y="1497.9" font-size="41">L<tspan font-size="25.6" dy="9.4">993</tspan></text>
<rect x="1887.8" y="1474.9" width="79.4" height="56.6" fill="#fff"/><text x="1893.2" y="1513.5" font-size="41">L<tspan font-size="25.6" dy="9.4">995</tspan></text>
<rect x="1553.8" y="1526.9" width="79.4" height="56.6" fill="#fff"/><text x="1559.2" y="1565.5" font-size="41">L<tspan font-size="25.6" dy="9.4">993</tspan></text>
<rect x="1721.8" y="1539.0" width="86.2" height="56.6" fill="#fff"/><text x="1727.2" y="1577.6" font-size="41">H<tspan font-size="25.6" dy="9.4">996</tspan></text>
<rect x="1943.8" y="1586.1" width="79.4" height="56.6" fill="#fff"/><text x="1949.2" y="1624.7" font-size="41">L<tspan font-size="25.6" dy="9.4">994</tspan></text>
<rect x="1796.9" y="1674.1" width="86.2" height="56.6" fill="#fff"/><text x="1802.3" y="1712.7" font-size="41">H<tspan font-size="25.6" dy="9.4">996</tspan></text>
<rect x="1883.5" y="1666.0" width="79.4" height="56.6" fill="#fff"/><text x="1888.9" y="1704.6" font-size="41">L<tspan font-size="25.6" dy="9.4">995</tspan></text>
<rect x="1652.9" y="1685.7" width="79.4" height="56.6" fill="#fff"/><text x="1658.3" y="1724.3" font-size="41">L<tspan font-size="25.6" dy="9.4">994</tspan></text>
<rect x="1965.1" y="1714.0" width="86.2" height="56.6" fill="#fff"/><text x="1970.5" y="1752.6" font-size="41">H<tspan font-size="25.6" dy="9.4">996</tspan></text>
<path d="M486.7 304.8L491.7 303.2L496.1 302.1L504.1 301.6L509.6 300.8L514.0 299.4L520.4 296.7L528.2 298.5L531.1 296.7L534.3 296.6L538.9 301.3L544.6 303.5L545.6 304.1L553.0 304.1L559.7 305.9L566.1 307.5L572.3 310.5L576.7 312.1L581.0 311.2L587.7 311.5L595.7 312.2L598.8 310.7L606.5 312.9L609.0 316.7L613.2 319.6L612.7 324.6L615.9 330.4L614.9 336.1L614.6 339.8L610.9 345.2L606.5 349.2L601.2 353.0L598.4 357.3L597.2 365.5L593.0 368.1L588.0 376.3L587.7 378.8L587.5 385.7L582.3 389.6L581.4 394.4L579.6 400.4L578.3 408.1L571.5 408.4L569.6 415.0L560.7 416.5L558.7 418.2L555.4 424.6L550.0 429.9L544.6 432.7L538.1 436.1L536.5 438.0L532.0 440.7L523.5 439.5L520.4 442.1L514.2 441.9L509.6 446.1L508.9 445.2L501.5 446.1L498.8 443.4M509.6 444.8L516.3 445.7L522.3 440.9L529.5 443.6L533.8 442.1L532.1 447.9L532.5 451.5L537.9 454.2L541.9 458.8L544.6 462.3L543.3 466.3L538.6 469.4L533.8 470.3L528.4 468.7L525.8 467.6L519.5 470.1L515.0 470.3L511.0 472.5L506.9 475.7L500.0 477.9L496.1 481.1L491.5 481.2L486.7 482.4M486.7 483.8L491.8 483.5L496.1 485.1L499.4 483.2L504.2 490.5L513.0 492.7L515.0 490.5L518.4 489.3L523.1 485.1L530.3 484.8L536.5 486.5L542.4 489.9L544.6 494.6L549.4 497.1L555.4 502.6L561.6 506.5L566.1 510.7L569.0 514.0L570.0 518.0L571.5 524.2L575.8 529.9L576.9 534.9L580.9 537.7L583.6 539.0L582.3 544.3L584.4 548.5L590.4 549.7L594.9 552.7L591.7 561.8L587.1 564.4L589.0 572.6L592.6 576.9L593.0 580.7L594.4 588.8L591.7 594.1L593.4 599.2L594.1 604.8L595.7 607.6L594.9 613.5L598.4 621.1L598.2 631.2L597.1 634.5L597.0 636.9L598.7 645.3L601.1 648.0L602.7 654.5L605.2 656.0L599.6 661.6L601.1 662.8L607.1 658.7L609.2 660.1L614.9 665.8L620.0 666.8L625.5 671.4L630.7 672.2L638.8 677.2L637.4 679.7L641.5 685.7L644.1 690.7L644.2 696.4L647.9 701.6L652.3 707.2L654.8 709.2L654.9 715.3L655.6 713.8L664.4 721.7L665.7 724.7L664.5 727.4L657.6 730.1L655.6 737.0L656.3 742.2L658.4 744.3L659.1 754.5L663.0 755.6L665.5 760.9L666.1 763.3L668.4 769.1L672.1 774.3L672.4 779.9L672.4 785.2L668.4 782.5M614.6 765.1L622.5 759.3L622.7 763.2L627.5 763.0L630.7 765.1L635.2 765.1L637.7 765.5L646.9 766.4L647.9 778.1L652.3 777.2L656.3 780.1L658.9 783.1L663.0 787.9L665.1 791.2L671.1 796.0L673.5 800.0L674.1 805.0M486.7 602.2L492.1 603.6M486.7 701.8L490.8 699.1L489.9 691.2L492.1 688.3L486.7 685.7M1099.6 292.7L1106.3 299.4L1104.2 299.2L1115.6 305.4L1118.4 306.1L1118.3 315.7L1115.7 319.6L1120.8 322.4L1125.0 321.2L1129.2 325.0L1133.0 328.0L1138.9 331.9L1145.3 331.7L1153.2 335.6L1156.1 335.2L1161.5 333.1L1164.3 332.9L1170.6 336.3L1174.9 337.1L1176.4 331.6L1184.6 331.0L1188.4 330.4L1196.1 328.4L1199.8 325.4L1204.6 322.3L1211.6 318.0L1215.3 314.2L1221.9 310.5L1223.9 307.5L1228.8 306.1L1234.4 301.7L1236.1 301.0L1242.2 292.7M1390.3 292.7L1393.0 298.0L1395.1 300.4L1397.5 304.9L1401.0 311.5L1402.5 320.8L1403.7 325.0L1404.6 328.3L1408.2 334.6L1409.1 338.4L1413.3 342.1L1417.2 349.2L1418.9 355.0L1418.2 357.3L1422.6 362.7L1420.7 364.7L1422.7 371.2L1428.0 376.1L1428.2 382.0L1433.6 386.5L1436.0 392.3L1433.9 395.7L1441.3 401.5L1444.1 405.7L1443.0 409.3L1445.8 413.2L1449.5 419.2L1454.2 423.0L1454.9 430.0L1456.1 437.0L1457.6 440.7L1459.1 445.9L1462.9 451.5L1466.7 456.1L1467.8 460.6L1473.7 464.9L1480.3 467.4L1481.8 475.7L1487.5 480.0L1489.9 483.8L1492.7 491.6L1497.9 491.9L1500.1 495.0L1499.3 502.6L1494.7 506.4L1489.9 508.0L1485.5 508.0L1481.8 505.3L1483.0 512.0L1484.5 516.1L1492.6 518.8L1495.2 524.2L1494.3 527.3L1492.5 532.2L1488.8 528.6L1484.5 529.5L1479.3 526.5L1476.4 524.2L1471.0 524.2L1476.8 530.4L1479.1 532.2L1478.4 535.2L1483.9 537.4L1484.5 545.7L1486.3 550.0L1492.2 556.0L1492.5 559.2L1494.6 563.8L1497.5 572.8L1500.6 575.3L1502.5 580.1L1506.7 585.8L1508.7 591.4L1507.4 594.7L1506.9 601.4L1506.0 607.6L1506.9 614.2L1503.3 618.4L1500.6 622.3L1497.9 623.7L1503.3 627.0L1510.0 626.2M1428.0 292.7L1425.5 296.4L1427.2 304.6L1430.6 311.5L1424.9 317.9L1428.0 325.0L1422.1 332.1L1419.9 335.8L1419.9 333.9L1417.7 326.7L1414.5 322.3L1414.3 319.8L1409.7 312.7L1409.1 306.1L1407.2 304.4L1403.9 296.6L1403.7 292.7M1358.0 366.7L1352.4 366.5L1349.9 365.4L1342.3 371.1L1343.1 373.5L1336.4 378.8L1331.9 380.3L1324.9 379.2L1316.4 384.5L1314.9 382.9L1312.1 392.4L1309.5 392.3L1308.4 398.2L1302.9 405.7L1301.4 408.4L1296.9 415.9L1293.5 417.8L1290.7 421.9L1283.3 429.0L1281.5 426.5L1277.2 430.0L1272.5 428.7L1266.1 428.6L1258.4 431.3L1254.0 431.3L1247.6 435.3L1238.7 434.2L1234.1 436.4L1231.5 435.3L1227.5 441.7L1223.4 446.1L1220.9 449.9L1218.1 457.1L1215.3 459.6L1213.6 464.8L1212.6 473.0L1209.0 477.1L1207.6 485.6L1207.2 486.5L1204.1 490.7L1204.9 500.3L1204.6 505.3L1203.4 510.2L1201.7 518.1L1204.4 523.6L1201.9 532.2L1201.4 537.8L1201.8 546.4L1198.1 557.0L1200.5 559.2L1201.9 563.6L1200.8 569.4L1203.6 576.4L1204.6 580.7L1203.2 588.3L1198.8 592.7L1198.6 601.2L1199.2 607.6L1205.4 607.5L1209.9 613.0L1214.1 616.2L1220.6 614.5L1223.4 618.4L1228.5 621.7L1231.5 623.7L1231.5 632.9L1231.1 634.0L1234.2 639.9L1235.7 647.1L1235.5 653.4L1233.8 660.5L1235.6 664.1L1231.5 666.8L1232.0 673.4L1228.8 680.3L1229.3 688.9L1232.3 693.5L1236.9 693.7L1238.0 700.9L1239.5 707.2L1241.9 713.5L1244.0 719.7L1247.6 720.6L1251.3 726.4L1253.0 731.4L1246.5 734.6L1242.2 736.8L1237.7 742.2L1235.0 737.4L1228.8 742.2L1234.4 740.4L1234.2 747.6L1241.1 746.7L1242.2 752.9L1246.3 751.8L1250.3 747.6L1249.0 752.2L1247.6 761.0L1247.3 761.7L1242.2 769.1L1244.8 773.1L1253.0 771.8L1250.0 779.0L1250.3 785.2L1247.8 790.4L1242.2 796.0L1238.3 798.0L1233.7 801.8L1228.8 801.4L1227.0 805.0M1358.0 366.7L1352.3 368.5L1349.3 373.5L1347.2 376.1L1345.4 381.8L1344.5 386.9L1349.5 393.9L1351.2 397.7L1351.8 402.9L1349.1 408.2L1349.6 415.7L1349.9 421.9L1345.4 424.2L1345.1 427.3L1341.8 435.3L1339.7 441.5L1336.4 444.0L1336.4 451.5L1334.5 459.0L1335.3 460.5L1335.1 470.3L1335.6 476.7L1339.7 480.5L1339.1 483.8L1340.0 485.7L1341.8 494.6L1346.2 496.9L1349.9 499.9L1356.8 502.9L1363.4 499.9L1369.1 503.2L1374.1 505.3L1376.6 508.9L1376.8 513.4L1373.8 516.5L1374.7 523.3L1371.4 526.9L1365.1 533.1L1360.7 534.9L1355.6 529.7L1349.9 529.5L1345.7 529.3L1339.1 529.5L1333.9 535.9L1333.7 540.3L1333.5 544.9L1335.8 546.9L1335.1 556.5L1332.0 562.4L1333.7 569.9L1328.8 571.3L1323.0 575.3L1315.7 574.6L1312.2 578.0L1316.0 583.3L1320.3 586.1L1316.2 586.2L1317.6 594.1L1310.3 593.4L1304.1 594.1L1298.4 596.6L1296.1 596.8L1303.0 598.5L1306.8 602.2L1304.8 608.7L1304.1 613.0L1300.6 615.7L1298.8 623.7L1300.0 628.8L1301.4 637.2L1298.5 639.8L1293.9 645.4L1290.7 648.0L1287.8 652.1L1285.3 658.7L1288.8 664.7L1296.1 664.1L1302.2 665.3L1304.1 672.2L1298.1 677.3L1296.1 680.3L1290.5 683.9L1288.6 687.7L1282.6 691.0L1289.1 688.8L1296.1 688.3L1300.4 690.9L1308.3 694.0L1309.5 693.7L1313.2 700.9L1317.6 704.5L1318.7 707.1L1319.2 717.1L1320.3 720.6L1316.5 725.1L1314.9 726.0L1308.0 725.2L1300.1 728.2L1296.1 723.3M1231.5 435.3L1235.1 443.3L1241.0 445.1L1242.2 451.5L1247.1 449.1L1253.0 448.8L1253.2 454.1L1252.6 456.1L1250.3 464.9L1246.6 466.1L1236.9 467.6L1234.1 472.8L1228.8 478.4L1229.4 486.0L1231.5 491.9L1237.1 490.1L1239.5 489.2L1239.3 497.2L1239.5 502.6L1234.2 505.3L1229.8 497.1L1228.8 494.6M1258.4 435.3L1262.0 440.9L1267.0 443.9L1269.2 446.1L1279.0 442.5L1282.6 443.4L1288.1 439.6L1296.1 440.7L1301.2 441.3L1306.8 438.0L1310.2 441.7L1313.6 443.4L1305.2 445.0L1304.1 446.1L1297.0 452.2L1293.4 451.5L1288.3 454.6L1279.9 454.2L1274.4 459.4L1269.2 462.3L1270.4 467.0L1268.2 472.8L1269.2 478.4L1266.2 482.7L1265.0 487.8L1263.8 494.6L1267.9 488.8L1269.2 489.2L1274.8 490.7L1277.2 494.6L1279.9 499.9M1371.4 419.2L1378.9 410.7L1379.5 413.8L1386.7 413.3L1390.3 412.5L1387.6 417.8L1386.0 420.6L1379.5 421.9L1378.9 420.6L1371.4 419.2M1317.6 607.6L1325.2 603.9L1327.2 598.5L1336.4 602.2L1341.2 606.6L1347.3 607.2L1354.5 606.6L1358.0 610.3L1366.6 614.0L1365.9 626.3L1368.7 626.4L1369.4 632.0L1369.6 637.8L1371.4 642.6L1364.7 646.7L1369.3 653.8L1363.4 658.7L1356.6 661.2L1351.6 662.6L1344.5 664.1L1340.2 658.3L1334.9 657.5L1328.4 656.0L1326.3 651.5L1319.3 646.9L1317.6 642.6L1313.0 639.1L1312.2 633.4L1309.5 626.4L1310.1 623.2L1314.3 616.5L1317.6 607.6M1398.3 559.2L1401.0 558.7L1409.9 560.8L1415.5 564.7L1419.9 564.5L1422.5 563.1L1429.5 561.8L1437.4 553.4L1441.4 551.1L1447.2 549.7L1452.8 550.1L1457.6 545.7L1464.8 548.8L1471.3 545.4L1476.4 545.7L1475.3 547.2L1480.4 556.0L1481.8 559.2L1485.2 563.4L1483.3 568.4L1483.0 571.0L1484.5 580.7L1484.1 583.8L1480.7 590.5L1479.1 594.1L1475.2 594.3L1473.0 601.0L1465.6 602.2L1465.7 606.3L1460.8 609.9L1462.9 618.4L1466.1 624.1L1468.8 632.6L1473.7 634.5L1470.7 640.9L1468.3 641.5L1462.9 648.0L1460.8 654.2L1454.9 658.7L1446.4 659.4L1444.8 659.2L1438.7 654.0L1430.6 656.0L1426.6 651.4L1423.6 649.1L1419.9 645.3L1416.6 644.9L1407.5 643.4L1403.7 639.9L1403.2 636.0L1393.7 629.7L1393.0 626.4L1391.3 616.6L1390.3 613.0L1388.2 605.2L1388.2 603.5L1384.9 596.8L1379.4 590.4L1374.1 588.8L1381.4 586.2L1387.6 586.1L1391.7 586.4L1396.9 579.9L1403.7 580.7L1409.3 578.7L1411.8 569.9L1410.4 567.8L1406.8 562.1L1398.3 559.2M1382.2 685.7L1386.4 684.2L1394.9 682.2L1401.8 676.8L1403.7 674.9L1411.5 675.5L1414.5 676.2L1424.2 677.2L1430.6 680.3L1437.0 681.7L1445.2 680.0L1451.5 677.9L1457.6 677.6L1456.7 684.8L1462.9 688.3L1456.5 694.1L1455.6 699.4L1452.2 704.5L1450.0 708.3L1448.5 711.0L1444.1 718.0L1444.3 708.0L1441.4 704.5L1438.3 702.2L1431.4 704.7L1421.1 699.9L1419.9 699.1L1415.6 700.1L1411.7 698.9L1404.7 697.3L1398.3 696.4L1393.5 694.8L1389.5 693.1L1382.2 691.0L1382.2 685.7M1363.4 699.1L1367.5 694.4L1366.4 685.9L1365.8 683.0L1371.4 677.6L1371.6 669.9L1374.4 665.4L1372.1 661.2L1378.2 653.4L1373.3 662.9L1377.3 664.6L1377.7 671.6L1374.1 677.6L1373.4 683.8L1372.2 691.7L1366.3 694.6L1366.0 701.8M1320.3 720.6L1324.9 722.1L1332.3 725.7L1336.4 731.4L1347.0 732.5L1349.2 731.1L1359.7 734.8L1363.4 728.7L1368.3 729.4L1377.8 725.5L1385.6 725.6L1390.3 723.3L1395.9 725.9L1397.4 731.3L1401.0 734.1L1396.6 736.8L1390.6 739.7L1387.6 742.2L1387.9 747.4L1387.5 754.3L1387.6 758.3L1382.7 764.1L1380.1 767.4L1376.8 771.8L1372.4 774.8L1368.7 774.5L1371.5 781.2L1371.4 787.9L1376.9 789.7L1385.0 782.2L1390.3 782.5L1396.5 779.6L1404.2 776.7L1409.1 774.5L1411.3 773.4L1412.5 764.6L1419.9 763.7L1424.3 760.0L1430.6 758.3L1436.5 758.3L1444.6 755.4L1454.5 759.5L1454.9 758.3L1454.7 762.6L1457.6 769.1L1460.7 759.5L1466.4 756.2L1468.6 750.9L1473.7 747.6L1475.3 743.1L1476.6 741.5L1481.8 734.1L1484.7 734.0L1492.5 737.1L1497.9 736.8L1504.4 735.5L1510.0 734.1M1209.9 696.4L1213.7 696.5L1219.7 691.7L1223.4 691.0L1227.4 693.7L1228.8 701.8L1224.5 704.8L1218.0 709.9L1216.5 706.2L1211.2 701.9L1209.9 696.4M1441.4 559.2L1444.3 565.0L1451.2 566.9L1452.2 569.9L1452.1 574.4L1448.6 579.0L1449.5 586.1L1444.9 582.4L1444.1 575.3L1443.1 570.2L1441.1 562.5L1441.4 559.2M1101.5 294.0L1106.9 300.3L1107.5 304.0L1115.5 302.6L1120.3 307.5L1117.4 312.2L1117.6 321.0L1121.7 324.3L1127.7 325.8L1131.1 326.3L1133.2 325.6L1144.8 332.7L1147.2 333.1L1156.8 335.8L1156.0 336.4L1163.4 334.4L1169.1 336.2L1170.8 337.1L1176.8 338.4L1181.0 337.9L1186.0 337.0L1190.3 331.7L1194.2 329.9L1202.0 324.7L1206.4 323.6L1209.6 321.5L1217.2 315.6L1222.7 312.6L1226.9 308.9L1230.7 307.5L1235.6 301.9L1240.0 300.4L1244.1 294.0M1098.0 293.8L1100.0 294.8L1104.9 299.3L1114.9 300.8L1116.8 307.2L1117.3 316.4L1114.1 320.7L1117.9 321.1L1124.0 326.6L1127.6 326.1L1137.1 330.0L1141.4 329.7L1143.7 332.8L1147.4 330.0L1152.3 333.0L1159.9 334.1L1164.7 333.0L1170.4 336.6L1173.3 338.2L1176.6 334.5L1186.1 334.0L1186.8 331.4L1190.5 326.9L1201.0 325.0L1202.9 323.4L1210.6 322.0L1213.7 315.3L1213.8 315.2L1222.3 307.9L1227.2 307.2L1230.6 303.8L1236.8 299.1L1240.6 293.8M1392.2 294.0L1395.9 299.2L1397.4 299.1L1401.0 304.1L1402.9 312.9L1406.0 320.8L1405.6 326.3L1409.0 332.4L1409.8 334.3L1411.0 339.8L1414.4 348.0L1419.1 350.6L1419.8 354.6L1421.3 358.5L1424.5 364.0L1425.7 369.0L1427.5 372.3L1429.8 377.5L1431.4 383.0L1432.7 388.3L1437.9 393.6M1388.7 293.8L1393.9 299.1L1391.8 302.8L1396.1 307.5L1399.4 312.6L1401.9 316.9L1402.1 326.1L1405.7 328.4L1405.3 336.7L1407.5 339.5L1412.8 343.6L1415.6 350.3L1420.7 355.5L1417.3 359.3L1421.0 363.7L1421.2 369.1L1422.0 373.6L1426.3 377.2L1425.7 384.7L1432.2 390.5L1434.4 393.4M1744.9 388.2L1742.9 392.9L1739.5 397.7L1737.6 399.6L1737.8 412.0L1736.9 416.5L1737.5 421.5L1738.4 432.3L1732.4 434.4L1731.5 440.7L1731.3 446.3L1727.9 455.2L1727.7 457.9L1723.4 464.9L1721.7 469.8L1721.8 476.9L1720.2 484.2L1720.3 488.7L1719.4 494.6L1714.6 498.7L1716.0 508.7L1714.7 517.7L1715.3 521.5L1714.7 515.7L1713.8 509.8L1712.6 502.6L1713.7 495.5L1714.3 489.0L1711.6 484.1L1709.9 478.4L1711.0 473.0L1713.0 468.0L1713.0 459.2L1715.3 451.5L1718.4 450.1L1722.4 442.1L1724.6 437.0L1723.4 430.0L1723.9 425.2L1729.8 418.2L1732.4 414.5L1731.5 408.4L1733.0 403.0L1733.9 394.6L1739.5 389.6L1744.9 388.2M1871.4 304.8L1862.4 298.4L1860.7 303.5L1860.2 310.5L1855.3 311.5L1852.4 312.7L1844.5 315.6L1839.0 315.0L1833.7 315.6L1832.3 321.9L1825.7 325.0L1823.1 331.7L1822.9 336.5L1817.6 341.1L1812.2 346.4L1810.1 348.9L1803.6 357.6L1804.1 362.7L1802.8 368.8L1804.0 375.0L1807.8 379.5L1806.8 384.2L1806.3 386.6L1814.5 396.7L1812.2 403.0L1818.8 408.0L1817.6 413.8L1813.6 419.2L1811.7 424.7L1812.2 430.0L1820.7 430.3L1823.0 427.3L1830.7 422.6L1827.2 414.8L1828.4 411.1L1829.3 407.2L1832.1 401.6L1836.4 397.7L1838.6 391.0L1846.3 385.0L1844.5 384.2L1847.5 381.6L1852.1 374.4L1852.6 370.7L1847.9 371.0L1851.4 362.1L1844.5 357.3L1843.7 351.3L1840.6 344.7L1841.8 338.4L1849.4 335.9L1852.6 330.4L1853.5 327.4L1856.4 318.3L1860.7 316.9L1865.0 314.2L1870.7 307.2L1871.4 304.8M1720.7 292.7L1724.4 300.9L1723.4 306.1L1722.5 309.5L1718.0 316.9L1721.7 322.0L1722.0 327.7L1721.0 335.2L1720.7 338.4L1718.1 342.3L1716.2 348.7L1715.3 357.3L1713.8 362.4L1719.4 368.1L1719.4 369.3L1718.0 378.8L1716.2 385.6L1714.8 389.0L1712.6 397.7L1712.9 403.6L1715.2 407.8L1715.3 416.5L1714.3 424.7L1707.4 429.5L1709.9 435.3L1706.4 440.4L1707.3 448.5L1708.0 453.0L1707.2 456.9L1703.9 463.1L1707.3 466.3L1704.5 473.9L1701.9 478.4L1699.7 481.4L1698.4 488.7L1697.0 496.0L1693.8 499.9L1695.4 503.7L1692.7 512.0L1689.9 517.2L1688.4 521.5L1686.0 529.0L1683.8 533.0L1680.3 540.3L1676.5 538.9L1672.3 534.9L1665.3 531.5L1661.5 529.5L1657.3 530.8L1648.0 530.9L1640.1 529.2L1634.6 529.5L1630.5 531.8L1621.1 532.2L1610.8 533.2L1607.7 532.2L1607.3 537.4L1610.4 543.0L1602.0 543.4L1598.2 542.5L1594.2 545.7L1591.5 554.9L1586.3 555.0L1580.7 559.2L1579.1 564.1L1580.8 566.4L1583.8 575.2L1583.4 580.7L1584.7 584.1L1589.7 595.8L1591.5 599.5L1589.9 603.9L1589.1 608.4L1586.1 615.7L1576.6 620.9L1575.4 619.7L1571.8 618.5L1561.9 618.4L1556.7 622.9L1549.0 621.3L1547.4 625.7L1540.4 623.7L1534.4 624.0L1531.8 626.2L1526.9 629.1L1523.1 626.4L1513.5 626.4L1510.0 626.2M1570.0 292.7L1566.5 299.5L1567.2 304.8L1567.1 314.1L1565.3 316.6L1565.0 324.5L1565.0 331.3L1561.9 338.4L1565.0 341.6L1568.7 347.7L1567.3 354.6L1572.7 351.9L1573.6 347.2L1581.2 341.0L1579.1 331.5L1580.7 330.4L1584.1 324.4L1585.3 322.9L1582.4 313.6L1589.5 311.5L1588.8 303.5L1590.9 296.2L1591.5 292.7M1618.4 629.1L1623.1 632.5L1628.9 635.3L1634.7 638.4L1640.5 642.0L1645.3 645.3L1646.7 650.7L1645.7 654.8L1642.7 661.4L1636.6 658.0L1628.7 653.6L1626.5 656.0L1621.2 650.4L1615.7 648.0L1615.2 640.6L1618.3 636.5L1618.4 629.1M2011.4 347.9L2011.7 355.1L2004.2 359.1L2003.3 365.4L2001.7 376.3L1999.4 380.9L2000.3 386.7L1999.0 391.9L1997.9 397.7L1997.1 404.1L1995.6 410.9L1992.5 416.5L1994.7 425.8L1991.9 427.8L1992.7 430.8L1992.2 438.8L1989.9 442.7L1991.2 451.5L1992.5 459.2L1993.6 463.2L1995.2 471.4L1997.9 478.4L1997.1 484.1L1998.6 491.6L2005.3 498.9L2003.3 505.3L2008.4 509.4L2003.8 515.5L2007.5 522.2L2008.7 526.9L2011.2 532.5L2014.0 539.2L2014.1 545.7M2014.1 580.7L2011.3 587.2L2011.2 590.9L2009.5 599.3L2006.0 604.9L2003.9 610.8L2001.0 613.9L1995.2 621.1L1995.0 626.5L1986.9 628.6L1984.5 630.5L1978.6 627.2L1971.0 630.5L1966.8 630.3L1959.8 631.1L1954.9 633.2L1952.7 636.7L1952.2 639.9L1953.7 643.7L1954.9 653.4L1953.0 657.5L1952.2 666.8L1947.1 670.6L1948.4 677.0L1944.1 680.3L1938.5 683.4L1933.6 689.5L1930.6 693.7L1927.0 697.3L1921.2 701.5L1914.5 704.5L1911.1 702.0L1897.9 706.8L1895.7 708.5L1890.6 706.4L1883.9 703.6L1876.8 704.5L1870.4 697.7L1868.7 693.7L1868.5 690.6L1863.8 685.1L1863.4 680.3L1859.4 675.8L1855.9 671.2L1855.3 666.8L1849.8 663.4L1847.2 660.1L1839.9 659.2L1835.3 660.8L1829.1 661.3L1823.0 662.8L1817.4 662.9L1811.0 668.7L1802.3 671.1L1796.1 669.5L1794.5 673.0L1782.7 671.8L1779.6 681.0L1774.5 680.3L1770.9 685.1L1764.6 685.6L1761.1 688.3L1755.7 693.7L1749.9 698.3L1745.0 701.9L1739.5 704.5L1735.1 711.0L1733.1 712.1L1728.8 720.6L1722.3 723.8L1721.1 730.2L1715.3 734.1L1710.5 736.6L1705.8 740.2L1698.1 737.5L1695.1 742.3L1688.4 744.9L1683.1 746.7L1675.5 746.3L1674.1 753.4L1668.6 753.9L1661.5 755.6L1656.6 757.5L1650.9 760.2L1644.3 764.1L1643.2 762.8L1634.6 769.1L1630.3 773.1L1621.5 775.1L1618.6 776.3L1613.0 779.9L1607.4 780.5L1606.9 791.0L1601.9 789.4L1594.2 793.3L1590.3 792.2L1583.7 789.2L1580.7 787.9L1577.3 782.6L1568.4 776.5L1567.3 774.5L1563.3 769.3L1557.7 768.1L1553.8 761.0L1549.5 755.2L1544.7 756.1L1540.4 747.6L1533.7 746.5L1534.1 738.3L1526.9 734.1L1523.6 732.3L1522.0 724.1L1518.8 720.6L1526.3 715.6L1526.9 709.9L1532.9 705.9L1537.7 701.8M1833.7 662.8L1841.5 665.2L1845.8 666.0L1850.7 662.3L1858.0 666.8L1866.5 670.7L1864.8 670.7L1872.9 676.3L1882.0 679.2L1884.9 681.6M1925.3 712.6L1930.7 708.1L1935.8 705.9L1936.4 704.4L1944.1 699.1L1947.3 695.6L1954.3 690.2L1952.2 683.7L1957.6 680.3L1961.3 673.0L1961.6 672.0L1962.9 666.8L1966.1 665.1L1974.8 661.3L1978.2 661.8L1984.5 658.7M1518.8 720.6L1514.3 722.7L1510.0 729.5M1510.0 734.0L1510.9 739.5L1516.1 742.2L1523.7 745.4L1529.7 745.8L1532.3 747.6L1533.6 751.5L1541.3 756.4L1543.3 755.8L1548.4 763.7L1556.9 767.3L1558.3 769.7L1561.9 774.5L1563.0 781.1L1569.1 783.4L1570.0 790.6L1574.3 793.3L1580.7 798.7L1584.1 797.8L1591.3 796.7L1601.0 798.0L1602.3 801.4L1606.9 802.1L1612.2 796.1L1618.4 793.3L1620.4 802.4L1620.1 805.0M1540.4 430.0L1543.0 433.4L1549.8 438.0L1547.9 443.9L1549.2 450.8L1545.8 456.9L1543.7 462.3L1540.4 467.6L1536.0 462.6L1535.0 456.9L1537.7 450.4L1536.6 441.1L1542.1 435.2L1540.4 430.0M1615.7 316.9L1622.8 317.4L1626.5 319.6L1628.0 326.2L1634.6 330.4L1633.7 334.1L1629.2 335.8L1620.7 329.2L1623.2 331.4L1618.4 325.0L1614.2 322.8L1615.7 316.9M1658.8 322.3L1666.9 321.2L1669.6 319.6L1668.7 326.6L1666.9 330.4L1661.5 327.7L1658.8 322.3M1602.3 435.3L1607.7 438.6L1613.0 440.7L1610.7 443.1L1607.7 448.8L1603.6 445.0L1604.9 443.4L1602.3 435.3M1596.9 473.0L1600.1 473.7L1607.7 478.4L1610.3 482.6L1615.7 483.8L1611.1 485.9L1610.4 491.9L1605.6 489.1L1602.3 481.1L1597.8 475.7L1596.9 473.0M1626.5 462.3L1628.2 465.5L1634.6 467.6L1629.2 470.3L1627.8 467.2L1626.5 462.3M1722.6 294.0L1724.5 298.8L1725.3 307.5L1724.0 314.7L1719.9 318.3L1718.2 321.2L1723.9 329.0L1723.5 333.8L1722.6 339.8L1720.8 344.5L1720.7 353.8L1717.2 358.6L1719.3 366.2L1721.2 369.4L1721.5 373.1L1719.9 380.2L1718.8 384.6L1718.0 392.6L1714.5 399.0M1719.1 293.8L1720.9 301.8L1721.8 307.2L1718.0 310.9L1716.4 318.0L1714.6 325.2L1720.4 328.8L1719.8 334.5L1719.1 339.5L1715.8 348.1L1717.3 351.9L1713.7 358.4L1714.7 363.1L1717.7 369.1L1715.6 374.6L1716.4 379.9L1713.4 387.3L1712.1 391.8L1711.0 398.7M675.2 805.0L679.9 810.8L679.2 816.1L680.5 825.0L680.5 829.6L680.7 836.1L677.8 840.4L671.0 841.8L665.7 847.1L661.9 850.2L658.3 855.6L652.3 859.2L656.2 861.1L663.0 861.9L667.1 866.3L668.4 870.0L671.0 872.5L676.5 874.0L681.2 872.2L684.6 867.3L686.6 860.9L685.9 857.9L689.9 858.1L692.5 857.5L700.7 855.2L704.5 855.0L714.2 856.4L716.3 857.7L722.2 857.9L727.4 858.9L733.5 866.4L738.4 864.6L744.6 868.1L747.8 871.5L751.8 872.7L757.1 876.4L759.9 883.4L762.9 888.9L764.0 894.2L767.9 900.5L765.3 907.7L767.0 912.2L764.0 921.1L763.2 924.3L759.6 931.6L759.9 934.6L755.4 939.7L754.5 945.3L751.4 950.6L751.5 950.2L749.2 958.8L745.1 961.7L738.4 966.9L738.2 971.2L730.3 972.3L729.4 970.5L724.9 977.6L727.6 981.8L723.6 985.7L717.7 989.0L716.9 991.1L715.3 988.8L708.8 992.4L706.8 988.5L700.7 985.7L695.7 988.3L692.6 992.4L685.8 993.5L681.9 993.8L687.8 996.2L695.3 994.1L698.0 995.1L700.7 997.7L699.4 1004.6L697.2 1006.6L692.6 1012.6L687.6 1015.1L684.6 1015.3L677.8 1015.8L671.1 1013.1L668.4 1014.0L663.1 1018.1L653.7 1019.6L649.6 1018.0M665.7 1028.8L670.2 1027.6L676.7 1030.4L681.9 1028.8L686.1 1032.0L691.8 1035.5L695.3 1036.9L699.0 1037.7L706.1 1035.7L711.5 1036.9L716.0 1036.4L721.2 1034.1L729.0 1036.9L729.0 1042.2L724.9 1044.9L724.4 1053.1L723.6 1058.4L721.1 1063.8L719.5 1066.5L712.1 1065.9L706.1 1069.2L697.8 1070.3L695.3 1074.5L695.4 1079.5L689.9 1085.3L681.1 1084.0L679.2 1082.6L673.1 1084.4L668.4 1088.0L661.8 1087.3L656.9 1086.3L652.3 1090.7L645.6 1092.7L644.7 1096.9L638.8 1098.8L637.8 1098.4L626.3 1094.4L625.3 1090.7L621.1 1089.1L609.7 1086.0L605.6 1085.3L601.1 1082.6L597.0 1084.3L586.6 1085.0L582.3 1084.0L576.9 1087.6L570.9 1087.9L566.1 1089.3L562.0 1084.2L558.1 1079.9L555.5 1081.6L547.3 1079.9L541.3 1077.2L533.8 1079.9L526.2 1080.8L522.3 1078.4L515.0 1082.6L510.2 1079.9L500.0 1083.6L496.1 1081.3L490.2 1081.1L486.7 1079.9M509.6 1088.0L514.9 1088.1L521.7 1084.9L528.4 1081.3L530.7 1079.9L537.4 1083.1L541.9 1085.3L543.4 1089.7L544.6 1092.0L541.2 1094.7L536.5 1098.8L530.7 1098.1L528.4 1101.4L524.9 1101.3L520.4 1094.7L515.0 1089.1L509.6 1088.0M520.4 1061.1L522.7 1064.9L523.9 1064.6L531.1 1071.8M531.1 1071.8L528.4 1066.5M531.1 1071.8L533.8 1077.2M541.9 1074.5L548.2 1075.0L552.7 1077.2L559.3 1075.3L563.4 1078.6M1000.0 841.7L993.3 843.9L988.7 848.4L983.5 854.9L977.9 856.5L978.0 859.8L979.3 867.3L975.7 874.7L975.2 875.4L970.5 875.8L967.2 880.7L965.9 886.7L966.4 895.1L964.8 894.0L964.5 902.3L965.5 909.1L961.5 913.5L959.1 921.1L955.3 930.4L952.6 932.5L953.7 940.0L948.8 947.4L948.9 948.0L947.0 957.8L942.9 958.8L937.5 962.5L936.5 970.0L932.2 974.9L925.5 978.2L923.2 985.6L918.7 988.4L911.9 992.4L910.6 993.8L913.0 1003.1L913.3 1004.6L902.0 1005.3L899.9 1007.2L895.5 1013.8L890.5 1013.4L889.1 1018.0L886.4 1023.4L882.4 1027.3L878.4 1026.3L873.0 1031.5L867.6 1035.5L875.4 1038.9L875.7 1044.9L880.6 1046.8L883.7 1044.9L887.1 1050.0L891.8 1053.0L892.9 1054.1L899.9 1055.7L893.5 1054.0L889.1 1058.4L883.3 1053.7L882.0 1051.4L875.7 1050.3L866.5 1051.2L862.8 1058.1L861.0 1054.7L851.4 1055.7L844.5 1062.9L841.2 1057.6L836.1 1060.3L832.4 1067.3L824.5 1069.2L816.8 1070.0L809.3 1076.9L808.5 1076.9L805.6 1076.9L797.6 1079.9L789.6 1080.2L784.7 1080.8L776.6 1084.4L770.7 1085.3L764.8 1085.4L756.3 1086.7L753.8 1092.0L746.5 1090.7L744.3 1091.8L738.8 1095.0L733.0 1096.1L735.4 1101.1L731.7 1109.5L733.7 1115.7L730.7 1125.4L734.4 1122.5L730.3 1131.1L729.2 1138.9L729.9 1141.1L726.3 1149.9L725.2 1155.8L722.2 1160.7L724.7 1167.7L730.3 1171.4L725.9 1169.3L723.6 1167.4L718.2 1173.1L716.9 1176.8L712.5 1180.2L704.3 1184.9L700.7 1188.9L694.9 1191.5L687.6 1195.5L681.9 1195.7L674.9 1196.7L672.5 1195.7L663.0 1198.3L657.7 1200.6L650.7 1198.8L644.8 1198.9L641.5 1205.1L635.4 1206.6L630.8 1212.3L623.7 1210.5L617.3 1211.8L615.6 1216.1L611.9 1222.6L606.0 1226.4L606.5 1233.3L609.5 1236.0L611.9 1238.7L618.7 1238.8L625.3 1241.4L630.8 1239.4L636.1 1238.7L631.7 1238.0L628.0 1242.8L620.8 1242.3L620.4 1242.0L611.9 1241.4L608.6 1248.0L603.5 1246.1L598.4 1249.5L588.9 1250.1L590.2 1250.1L582.3 1253.5L577.0 1250.9L573.7 1246.8L568.8 1246.8L565.1 1245.9L555.9 1236.8L553.9 1241.0L547.3 1238.7L541.0 1233.1L533.0 1234.5L528.4 1233.3L523.5 1233.7L517.7 1234.7L518.2 1227.5L515.0 1225.3L511.0 1220.6L514.7 1213.5L511.0 1211.8L510.6 1212.6L516.3 1206.4L514.1 1201.9L515.0 1197.0L511.1 1194.2L501.5 1195.7L496.7 1197.5L491.3 1196.7L486.7 1198.3M899.9 1007.2L903.7 1009.7L910.5 1011.1L916.6 1014.6L921.4 1015.3L927.2 1017.7L930.0 1020.5L936.9 1023.3L942.9 1023.4L950.8 1019.6L956.2 1020.8L957.1 1020.9L964.5 1020.7L962.3 1019.9L959.1 1015.3L959.1 1013.2L947.6 1017.4L941.9 1014.1L937.6 1018.0L931.7 1015.3L927.5 1011.9L921.4 1009.9L918.6 1007.7L910.6 1004.6M889.1 1023.4L894.7 1023.7L901.6 1025.2L905.3 1028.8L907.1 1033.1L915.8 1037.9L919.9 1039.6L921.4 1042.2L922.1 1047.4L924.1 1050.3L920.7 1053.1L913.8 1055.4L910.6 1058.4L905.8 1054.8L899.9 1055.7L904.6 1049.3L910.6 1047.6L911.3 1043.6L905.3 1036.9L899.6 1036.0L894.5 1031.5M951.0 965.5L956.4 968.2M964.5 961.5L970.1 957.2L972.5 964.2M980.6 966.9L981.7 964.8L986.0 961.5M1000.0 882.4L996.3 886.5L991.4 888.8L992.6 895.8L988.1 898.5L986.0 902.3L985.5 906.0L990.2 912.7L991.4 915.7L994.2 916.3L1000.0 920.0M1000.0 940.4L993.3 941.7L988.7 942.7L980.6 944.0L980.6 950.7L984.6 953.0L991.4 956.1L997.1 955.2L1000.0 954.0M1000.0 842.5L1003.5 844.3L1014.4 840.0L1014.4 837.8L1021.5 837.7L1026.7 833.6L1032.3 833.6L1041.8 834.5L1045.0 835.4L1050.5 834.7L1053.8 835.0L1057.9 837.0L1063.6 832.4L1070.0 833.6L1078.1 832.8L1080.0 838.6L1089.2 835.8L1094.2 837.7L1099.5 836.4L1108.9 840.9L1113.0 841.7L1116.2 848.1L1115.7 849.8L1118.8 854.2L1123.8 853.8L1126.0 858.9L1126.5 861.9L1127.6 863.2L1134.6 861.9L1134.0 856.8L1134.6 853.8L1129.3 850.2L1123.8 848.4L1121.9 842.9L1121.1 840.4L1123.9 835.0L1129.2 829.6L1138.0 822.6L1140.0 821.5L1140.7 819.2L1152.4 816.7L1151.5 813.8L1161.5 813.5L1165.2 809.5L1173.5 813.3L1175.2 813.7L1183.0 812.1L1185.5 817.9L1191.4 821.9L1193.8 821.5L1196.4 828.6L1199.2 832.3L1193.8 833.6L1191.1 835.0L1193.6 838.7L1193.8 841.7L1197.8 844.4L1201.9 845.8L1204.4 840.2L1207.2 837.7L1206.3 832.2L1204.6 826.9L1210.3 825.1L1215.3 824.2L1220.2 829.5L1223.4 835.0L1218.9 841.6L1222.2 844.4L1220.7 851.1M1221.2 805.0L1217.6 809.9L1218.0 816.1L1221.3 820.1L1219.2 830.7L1223.4 835.0M1070.0 833.6L1067.6 837.7L1067.3 845.8L1063.0 842.7L1051.3 845.2L1048.4 843.1L1044.7 844.0L1036.6 853.7L1030.4 850.2L1026.9 853.8L1025.6 859.7L1022.8 864.4L1016.1 867.3L1012.7 872.0L1009.7 877.8L1008.1 880.7L1010.4 885.1L1010.8 894.2L1017.1 896.7L1021.5 902.3L1022.6 906.9L1023.9 908.1L1024.2 918.4L1030.5 919.8L1035.0 926.5L1030.9 926.9L1021.4 930.5L1016.1 934.6L1011.3 940.2L1005.8 941.7L1000.0 945.3M1113.0 813.5L1116.5 809.8L1122.9 811.0L1127.4 810.5L1134.6 810.2L1139.5 805.6L1143.1 808.3L1148.7 807.3L1156.1 807.3L1165.0 804.5L1168.6 806.7L1175.0 805.0M1032.3 833.6L1037.7 837.7L1040.4 832.8M1278.9 805.0L1281.1 810.2L1285.3 816.1L1286.2 821.8L1295.0 827.5L1296.1 829.6L1299.5 830.9L1306.8 832.3M1367.4 808.1L1370.0 812.5L1376.8 816.1L1380.5 819.9L1379.5 829.6M1414.5 808.1L1417.3 811.5L1417.1 815.0L1419.9 821.5M1471.0 835.0L1476.7 833.7L1484.5 832.3L1488.7 836.1L1496.2 842.9L1497.9 845.8L1502.9 849.4L1503.9 852.4L1510.0 853.0M1040.4 918.4L1049.3 920.5L1052.5 919.4L1056.5 919.8M1024.2 888.8L1031.0 888.8L1035.0 887.5M1035.0 895.5L1038.9 893.0L1043.1 894.2M1269.2 950.7L1273.3 950.4L1277.2 948.0L1275.9 953.4L1272.3 951.9L1269.2 950.7M1204.6 944.0L1208.6 945.3M1184.4 1058.4L1187.0 1060.5L1193.8 1059.7M1488.5 1217.2L1492.3 1215.6L1495.2 1213.1M1526.9 837.7L1527.5 833.7L1532.3 828.3M1626.5 824.2L1624.1 832.9L1623.8 835.0L1627.8 837.7L1630.4 833.3L1629.2 826.9L1626.5 824.2M1640.0 845.8L1643.5 850.1L1645.3 856.5M1672.3 816.1L1673.7 820.3L1677.6 822.9M1704.6 822.9L1709.8 824.2L1712.6 828.3M1731.5 840.4L1736.0 842.3L1736.9 845.8M1561.9 896.9L1567.7 893.7L1571.3 887.5M1583.4 890.2L1587.5 895.5M1513.5 953.4L1514.7 956.7L1521.5 961.5M1532.3 949.4L1530.7 945.3L1535.0 942.7M1605.0 984.4L1606.8 986.3L1603.6 992.4M1618.4 1034.2L1621.1 1039.5M1726.1 996.5L1730.4 998.3L1732.8 1000.5M1849.9 925.2L1851.2 928.2L1855.3 933.2M1879.5 900.9L1879.2 905.1L1880.8 910.4M1883.5 1113.6L1891.0 1112.7L1891.6 1113.6M1816.3 1148.6L1823.0 1149.9M1944.1 1194.3L1944.8 1193.1L1954.9 1195.7M1975.1 1206.4L1977.8 1210.3L1976.4 1217.2M1617.1 1265.6L1620.3 1270.6L1619.8 1273.7M2000.6 1246.8L2004.3 1245.0L2008.7 1244.1M1656.1 1308.7L1656.6 1310.0M1594.1 805.0L1597.7 808.7L1602.3 808.1L1606.9 807.1L1610.6 808.1L1618.4 810.8L1621.1 805.4M1683.0 829.6L1688.4 828.3M1545.8 851.1L1548.4 856.5M1564.6 949.4L1567.3 948.0M1685.7 964.2L1683.0 961.5M1833.7 880.7L1836.4 883.4M1755.7 927.8L1758.4 930.5M899.9 1402.3L903.6 1400.7L905.3 1396.9L903.9 1400.9L899.9 1402.3M858.2 1519.4L860.0 1523.4M697.5 1648.6L698.6 1652.6M486.7 1714.5L492.1 1717.2L496.1 1721.2M995.4 1680.8L1001.9 1685.9L1001.0 1688.5L998.1 1695.7M969.9 1717.2L973.9 1715.8M990.0 1706.4L992.7 1705.1M1024.2 1636.4L1026.3 1628.8L1029.8 1623.1L1032.6 1622.9L1035.0 1612.2L1041.2 1611.4L1044.2 1606.0L1051.1 1605.5L1058.9 1605.0L1061.9 1609.0L1070.0 1609.5L1073.6 1613.4L1077.2 1616.6L1083.4 1617.6L1073.8 1615.0L1070.1 1616.1L1067.3 1614.9L1059.9 1618.2L1056.4 1619.4L1053.8 1618.9L1047.0 1622.3L1040.4 1621.6L1037.2 1623.9L1029.6 1628.4L1027.2 1633.8L1024.2 1636.4M1246.3 1466.9L1249.8 1471.3L1258.4 1472.3L1261.8 1476.3L1265.6 1483.7L1271.8 1483.0L1275.4 1486.0L1282.0 1492.5L1288.0 1491.1L1293.9 1493.2L1298.8 1499.2L1291.3 1498.9L1285.3 1501.9L1278.2 1497.6L1274.5 1493.8L1267.4 1492.5L1262.1 1488.6L1261.1 1485.7L1258.5 1481.3L1253.0 1474.9L1252.0 1478.1L1246.0 1479.3L1239.5 1483.0L1245.4 1473.0L1244.6 1470.7L1246.3 1466.9M1064.6 1574.5L1073.0 1572.3L1075.2 1563.8L1082.6 1569.5L1090.8 1562.6L1091.5 1558.4L1095.7 1560.8L1102.3 1559.7L1093.1 1561.8L1092.7 1566.5L1086.9 1565.8L1077.1 1572.1L1075.4 1574.5L1071.8 1573.9L1064.6 1574.5M1201.9 1674.1L1203.8 1670.0L1207.3 1666.8L1212.6 1660.7L1218.5 1657.5L1219.1 1653.8L1223.4 1649.9L1230.1 1648.6L1226.5 1651.3L1223.1 1656.9L1220.7 1660.7L1219.6 1666.8L1213.8 1668.0L1212.6 1676.8L1208.9 1680.2L1210.8 1685.3L1207.2 1690.3M1261.1 1652.6L1265.7 1654.2L1266.5 1663.4L1261.0 1670.5L1258.4 1674.1L1254.4 1677.8L1250.3 1684.9L1254.4 1681.1L1257.1 1676.5L1263.0 1673.9L1266.5 1671.4L1263.3 1676.7L1269.0 1681.2L1271.8 1687.6M1387.6 1676.8L1383.7 1683.2L1384.0 1686.2L1379.5 1695.7L1376.6 1703.5L1375.1 1704.7L1371.4 1711.8L1364.5 1715.9L1360.7 1719.9L1368.7 1723.1L1371.4 1728.0L1374.6 1721.6L1373.4 1718.3L1375.5 1714.5L1379.2 1709.5L1382.8 1703.7L1382.1 1699.2L1384.9 1693.0L1384.0 1686.5L1385.7 1682.0L1387.6 1676.8M1183.0 1520.7L1184.8 1526.9L1184.0 1532.6L1188.4 1534.2M1209.9 1515.3L1212.5 1520.7L1217.3 1520.5L1220.7 1528.8L1226.8 1529.2L1230.5 1531.2L1236.9 1531.5M1191.1 1553.0L1194.9 1557.8L1200.3 1555.3L1207.5 1557.5L1212.6 1558.4M1140.0 1582.6L1142.3 1587.5L1147.2 1587.5L1150.7 1592.0L1158.8 1587.9L1159.3 1590.1L1163.4 1585.3L1169.6 1582.6M1032.3 1592.0L1035.9 1588.2L1040.4 1586.6M1401.0 1440.0L1399.0 1444.4L1403.7 1450.7M1417.2 1445.3L1414.9 1450.9L1418.7 1458.3L1415.8 1464.2M1484.5 1456.1L1489.3 1454.6L1493.1 1453.0L1500.6 1454.8M1204.6 1536.9L1200.5 1537.1L1205.9 1547.6M1228.8 1666.0L1234.3 1665.6L1244.0 1666.4L1242.4 1665.1L1250.3 1663.4M1317.6 1703.7L1317.2 1695.8L1323.9 1693.8L1325.7 1690.3M1355.3 1695.7L1359.3 1690.3M1371.4 1485.7L1372.8 1485.8L1374.1 1492.4M1446.8 1472.3L1449.5 1477.6M1021.5 1671.4L1023.4 1679.2L1025.6 1682.2M1510.0 1715.9L1506.0 1717.2L1502.0 1721.2L1493.9 1724.0L1492.5 1728.0L1492.9 1730.9L1490.2 1736.9L1487.2 1744.1L1486.3 1752.3L1489.9 1757.6L1489.1 1761.6L1497.7 1767.3L1497.9 1773.7L1495.9 1776.8L1501.3 1786.6L1503.3 1789.9L1498.5 1795.2L1499.9 1803.0L1497.9 1806.0L1498.0 1811.0L1495.3 1818.1L1495.2 1822.2M1500.6 1730.6L1495.3 1736.2L1495.2 1741.4L1494.9 1744.5L1501.6 1753.7L1500.6 1757.6L1500.6 1759.3L1506.3 1770.5L1506.0 1773.7L1508.0 1776.8L1510.0 1781.7M1510.0 1722.0L1513.5 1719.9L1520.0 1718.5L1523.2 1716.3L1526.9 1715.8L1530.6 1710.9L1536.4 1709.4L1539.3 1707.8L1545.8 1703.7L1547.4 1699.2L1552.9 1699.9L1559.2 1697.0L1560.9 1695.0L1561.9 1690.3L1565.0 1687.5L1570.0 1688.9L1578.3 1689.8L1580.7 1694.3L1585.2 1697.2L1588.8 1695.7L1594.2 1688.9L1594.2 1684.9L1595.1 1687.4L1602.3 1690.3L1607.1 1692.9L1610.4 1698.3L1614.4 1703.7L1607.7 1706.8L1607.7 1711.8L1599.2 1715.2L1602.4 1715.2L1594.2 1718.5L1593.9 1720.4L1591.5 1725.3L1591.0 1729.3L1593.5 1735.7L1595.5 1738.7L1596.3 1745.8L1598.5 1746.0L1599.6 1752.2L1602.6 1757.9L1602.3 1762.9L1603.0 1766.6L1607.7 1773.7L1608.4 1780.7L1615.7 1781.8L1619.6 1787.3L1621.1 1788.5L1625.1 1789.6L1626.5 1795.2L1631.9 1792.5L1634.1 1787.4L1634.6 1781.8L1635.9 1779.9L1640.0 1773.7L1645.3 1771.0L1649.2 1767.5L1645.3 1757.6L1648.2 1753.2L1645.1 1749.4L1650.7 1744.1L1654.0 1742.0L1653.4 1734.7L1657.5 1730.6L1664.9 1734.2L1666.9 1732.0L1672.3 1733.7L1674.9 1734.7L1677.4 1740.6L1677.6 1741.4L1685.8 1742.9L1688.4 1746.8L1692.9 1751.7L1699.2 1754.9L1702.3 1760.5L1705.6 1763.8L1704.6 1768.3L1703.5 1777.3L1705.9 1781.8L1710.9 1786.0L1709.3 1794.7L1712.6 1797.9L1714.1 1805.2L1715.3 1811.4L1716.2 1812.7L1723.4 1822.2M1510.0 1721.3L1513.7 1719.9L1516.1 1717.2L1510.8 1714.5L1510.0 1715.0M1510.0 1775.6L1513.1 1775.7L1516.1 1781.8L1516.1 1790.2L1510.8 1792.5L1510.0 1793.3M1510.0 1790.2L1513.5 1784.5L1510.0 1779.3M1656.1 1754.9L1654.7 1758.1L1657.1 1761.8L1661.5 1768.3L1660.7 1775.4L1664.4 1779.8L1666.9 1784.5L1666.1 1788.0L1673.0 1793.8L1672.3 1797.9L1670.8 1793.3L1664.2 1792.5L1660.1 1788.4L1658.3 1782.6L1658.8 1779.1L1657.0 1775.8L1654.6 1766.8L1653.4 1762.9L1653.8 1759.7L1656.1 1754.9M1672.3 1744.1L1674.2 1744.8L1678.9 1749.5L1683.0 1754.9L1687.5 1761.3L1689.9 1759.5L1693.8 1768.3L1693.2 1773.9L1701.9 1779.1L1701.9 1784.5L1696.5 1781.8L1692.8 1780.0L1690.2 1773.7L1685.7 1768.3L1681.7 1765.6L1681.1 1758.2L1674.9 1754.9L1674.7 1750.3L1672.3 1744.1M1688.4 1784.5L1689.8 1791.5L1693.3 1796.3L1699.2 1795.2L1699.4 1800.1L1704.3 1800.7L1707.7 1802.1L1712.6 1811.4L1718.5 1815.9L1719.2 1817.6L1723.4 1822.2M1656.1 1806.0L1655.7 1814.8L1659.7 1815.8L1661.5 1822.2M1672.3 1806.0L1674.4 1807.1L1677.6 1816.8M1868.7 1559.7L1870.6 1559.0L1876.8 1553.0L1881.4 1552.6L1882.7 1550.2L1890.3 1549.0L1894.5 1548.9L1897.2 1542.7L1903.7 1539.5L1905.4 1536.5L1913.0 1532.2L1919.9 1531.5L1920.7 1530.6L1930.6 1526.1L1934.1 1522.0L1936.0 1520.7L1930.6 1519.4L1927.1 1518.8L1922.6 1520.7L1915.8 1528.5L1914.5 1528.8L1912.9 1533.5L1904.4 1535.7L1898.3 1538.2L1894.7 1542.6L1888.6 1544.9L1882.2 1547.6L1877.7 1552.3L1871.4 1555.7L1868.7 1559.7M1820.3 1431.9L1827.0 1430.5L1825.1 1434.3L1824.8 1441.8L1824.3 1445.3L1823.3 1449.9L1821.6 1453.4L1822.6 1457.7L1827.0 1458.8L1825.0 1458.0L1817.6 1454.8L1816.5 1450.2L1818.9 1446.8L1818.9 1440.0L1820.3 1437.6L1820.3 1431.9M1656.7 1310.0L1658.8 1316.1L1660.8 1318.5L1668.2 1320.2M1610.4 1353.8L1613.4 1358.4L1618.4 1363.3L1621.8 1363.0L1626.5 1367.3M1547.1 1444.0L1552.5 1442.7M1570.0 1458.8L1575.7 1458.6L1580.7 1461.5L1587.0 1457.2L1584.6 1448.4L1586.1 1445.3M1599.6 1448.0L1604.1 1453.2L1602.3 1458.8M1588.8 1571.8L1594.2 1575.9M1615.7 1585.3L1616.0 1581.8L1623.8 1582.6M1626.5 1590.7L1630.0 1590.1L1635.8 1590.1L1642.7 1589.3M1664.2 1588.0L1671.0 1586.8L1672.3 1584.0M1960.2 1499.2L1966.7 1495.0L1969.7 1492.4M1521.5 1445.3L1525.0 1445.4L1526.9 1450.7M1989.9 1793.9L1995.2 1796.6M1540.4 1493.8L1542.1 1486.5L1543.1 1483.0M1591.5 1488.4L1594.2 1483.0" fill="none" stroke="#424242" stroke-width="2.6" stroke-linejoin="round" stroke-linecap="round"/>
<path d="M729.0 292.7C725.2 323.6 714.4 416.1 706.1 478.4C697.8 540.8 687.0 612.4 679.2 666.8C671.3 721.2 667.1 746.9 659.0 805.0C650.9 863.1 638.6 957.8 630.7 1015.3C622.9 1072.8 618.5 1100.8 611.9 1149.9C605.3 1199.0 599.6 1244.6 591.1 1310.0C582.6 1375.4 572.3 1456.9 560.7 1542.2C549.2 1627.6 528.2 1775.5 521.7 1822.2M1317.6 292.7L1317.6 296.7M1613.0 292.7C1615.7 334.9 1623.6 460.3 1629.2 545.7C1634.8 631.1 1641.3 722.2 1646.7 805.0C1652.1 887.8 1655.8 958.1 1661.5 1042.2C1667.2 1126.4 1675.3 1231.2 1680.7 1310.0C1686.1 1388.8 1688.2 1430.0 1693.8 1515.3C1699.3 1600.7 1710.6 1771.0 1714.0 1822.2M485.4 1718.5C502.4 1721.0 543.7 1727.7 587.7 1733.3C631.6 1738.9 695.3 1746.8 749.2 1752.2C803.0 1757.6 868.8 1762.6 910.6 1765.6C952.4 1768.6 962.7 1768.4 1000.0 1770.1C1037.3 1771.8 1089.7 1774.4 1134.6 1775.9C1179.4 1777.4 1224.3 1778.5 1269.2 1779.1C1314.0 1779.7 1363.6 1780.0 1403.7 1779.6C1443.9 1779.2 1471.5 1777.9 1510.0 1776.6C1548.5 1775.2 1591.4 1773.8 1634.6 1771.6C1677.8 1769.3 1724.3 1766.2 1769.2 1762.9C1814.0 1759.7 1862.9 1756.1 1903.7 1752.2C1944.5 1748.2 1995.7 1741.4 2014.1 1739.3" fill="none" stroke="#000" stroke-width="0.6" stroke-opacity="0.8"/>
</g>
<rect x="487.0" y="296.0" width="1526.0" height="1525.0" fill="none" stroke="#333" stroke-width="1.3"/>
<text x="1250.5" y="114.5" font-size="87.3" text-anchor="middle">Composite (Jan 29 2026 09UTC)</text>
<text x="729.0" y="224.5" font-size="50" text-anchor="middle">0°</text>
<text x="1025.0" y="224.5" font-size="50" text-anchor="middle">5°E</text>
<text x="1318.0" y="224.5" font-size="50" text-anchor="middle">10°E</text>
<text x="1613.0" y="224.5" font-size="50" text-anchor="middle">15°E</text>
<text x="1911.0" y="224.5" font-size="50" text-anchor="middle">20°E</text>
<text x="521.7" y="1928.8" font-size="50" text-anchor="middle">0°</text>
<text x="682.0" y="1928.8" font-size="50" text-anchor="middle">2°E</text>
<text x="842.5" y="1928.8" font-size="50" text-anchor="middle">4°E</text>
<text x="1001.6" y="1928.8" font-size="50" text-anchor="middle">6°E</text>
<text x="1159.5" y="1928.8" font-size="50" text-anchor="middle">8°E</text>
<text x="1317.4" y="1928.8" font-size="50" text-anchor="middle">10°E</text>
<text x="1476.5" y="1928.8" font-size="50" text-anchor="middle">12°E</text>
<text x="1635.7" y="1928.8" font-size="50" text-anchor="middle">14°E</text>
<text x="1795.0" y="1928.8" font-size="50" text-anchor="middle">16°E</text>
<text x="1955.4" y="1928.8" font-size="50" text-anchor="middle">18°E</text>
<text x="420.0" y="501.0" font-size="50" text-anchor="end">56°N</text>
<text x="420.0" y="727.0" font-size="50" text-anchor="end">54°N</text>
<text x="420.0" y="952.4" font-size="50" text-anchor="end">52°N</text>
<text x="420.0" y="1177.5" font-size="50" text-anchor="end">50°N</text>
<text x="420.0" y="1401.4" font-size="50" text-anchor="end">48°N</text>
<text x="420.0" y="1625.0" font-size="50" text-anchor="end">46°N</text>
<text x="2081.0" y="524.0" font-size="50" text-anchor="start">56°N</text>
<text x="2081.0" y="750.5" font-size="50" text-anchor="start">54°N</text>
<text x="2081.0" y="974.4" font-size="50" text-anchor="start">52°N</text>
<text x="2081.0" y="1197.0" font-size="50" text-anchor="start">50°N</text>
<text x="2081.0" y="1419.5" font-size="50" text-anchor="start">48°N</text>
<text x="2081.0" y="1643.4" font-size="50" text-anchor="start">46°N</text>
<path d="M729 296.0V260M1025 296.0V260M1318 296.0V260M1613 296.0V260M1911 296.0V260M521.7 1821.0V1857M682 1821.0V1857M842.5 1821.0V1857M1001.6 1821.0V1857M1159.5 1821.0V1857M1317.4 1821.0V1857M1476.5 1821.0V1857M1635.7 1821.0V1857M1795 1821.0V1857M1955.4 1821.0V1857M487.0 483H452M487.0 709H452M487.0 934.4H452M487.0 1159.5H452M487.0 1383.4H452M487.0 1607H452M2013.0 506H2048.7M2013.0 732.5H2048.7M2013.0 956.4H2048.7M2013.0 1179H2048.7M2013.0 1401.5H2048.7M2013.0 1625.4H2048.7" stroke="#444" stroke-width="1.3" fill="none"/>
<rect x="1213.5" y="1960.5" width="799.5" height="60" fill="#fff" stroke="#999" stroke-width="1.2"/>
<text x="1613.0" y="2000.6" font-size="42" text-anchor="middle">pressure (hPa) from 994 to 1016 by 2 hPa</text>
<rect x="1466.7" y="2050.8" width="546.3" height="142.6" fill="#fff" stroke="#999" stroke-width="1.2"/>
<text x="1739.6" y="2084.7" font-size="35" text-anchor="middle">15 m/s</text>
<text x="1739.6" y="2176.7" font-size="35" text-anchor="middle">ground windspeed (m/s) reference</text>
<path d="M1702.2 2113.7H1751v-7.6l26.4 12.5l-26.4 12.5v-7.6H1702.2z" fill="#000"/>
<rect x="433.50" y="2306.0" width="22.98" height="60.0" fill="#0000ff"/>
<rect x="456.18" y="2306.0" width="22.98" height="60.0" fill="#0014ff"/>
<rect x="478.86" y="2306.0" width="22.98" height="60.0" fill="#0028ff"/>
<rect x="501.54" y="2306.0" width="22.98" height="60.0" fill="#003cff"/>
<rect x="524.22" y="2306.0" width="22.98" height="60.0" fill="#0050ff"/>
<rect x="546.90" y="2306.0" width="22.98" height="60.0" fill="#0064ff"/>
<rect x="569.58" y="2306.0" width="22.98" height="60.0" fill="#0078ff"/>
<rect x="592.26" y="2306.0" width="22.98" height="60.0" fill="#008cff"/>
<rect x="614.94" y="2306.0" width="22.98" height="60.0" fill="#00a0ff"/>
<rect x="637.62" y="2306.0" width="22.98" height="60.0" fill="#00b8ff"/>
<rect x="660.31" y="2306.0" width="22.98" height="60.0" fill="#00d0ff"/>
<rect x="682.99" y="2306.0" width="22.98" height="60.0" fill="#00e7ff"/>
<rect x="705.67" y="2306.0" width="22.98" height="60.0" fill="#00ffff"/>
<rect x="728.35" y="2306.0" width="22.98" height="60.0" fill="#00f9eb"/>
<rect x="751.03" y="2306.0" width="22.98" height="60.0" fill="#00f4d8"/>
<rect x="773.71" y="2306.0" width="22.98" height="60.0" fill="#00eec4"/>
<rect x="796.39" y="2306.0" width="22.98" height="60.0" fill="#00e8b0"/>
<rect x="819.07" y="2306.0" width="22.98" height="60.0" fill="#01e19c"/>
<rect x="841.75" y="2306.0" width="22.98" height="60.0" fill="#02da88"/>
<rect x="864.43" y="2306.0" width="22.98" height="60.0" fill="#04d473"/>
<rect x="887.11" y="2306.0" width="22.98" height="60.0" fill="#05cd5f"/>
<rect x="909.79" y="2306.0" width="22.98" height="60.0" fill="#07c74b"/>
<rect x="932.47" y="2306.0" width="22.98" height="60.0" fill="#09c038"/>
<rect x="955.15" y="2306.0" width="22.98" height="60.0" fill="#0bba24"/>
<rect x="977.83" y="2306.0" width="22.98" height="60.0" fill="#0db410"/>
<rect x="1000.51" y="2306.0" width="22.98" height="60.0" fill="#22ba0e"/>
<rect x="1023.19" y="2306.0" width="22.98" height="60.0" fill="#36c00d"/>
<rect x="1045.88" y="2306.0" width="22.98" height="60.0" fill="#4ac70c"/>
<rect x="1068.56" y="2306.0" width="22.98" height="60.0" fill="#5fcd0a"/>
<rect x="1091.24" y="2306.0" width="22.98" height="60.0" fill="#73d309"/>
<rect x="1113.92" y="2306.0" width="22.98" height="60.0" fill="#87da08"/>
<rect x="1136.60" y="2306.0" width="22.98" height="60.0" fill="#9be006"/>
<rect x="1159.28" y="2306.0" width="22.98" height="60.0" fill="#afe605"/>
<rect x="1181.96" y="2306.0" width="22.98" height="60.0" fill="#c3ec04"/>
<rect x="1204.64" y="2306.0" width="22.98" height="60.0" fill="#d7f202"/>
<rect x="1227.32" y="2306.0" width="22.98" height="60.0" fill="#ebf901"/>
<rect x="1250.00" y="2306.0" width="22.98" height="60.0" fill="#ffff00"/>
<rect x="1272.68" y="2306.0" width="22.98" height="60.0" fill="#fff600"/>
<rect x="1295.36" y="2306.0" width="22.98" height="60.0" fill="#ffee00"/>
<rect x="1318.04" y="2306.0" width="22.98" height="60.0" fill="#ffe500"/>
<rect x="1340.72" y="2306.0" width="22.98" height="60.0" fill="#ffdc00"/>
<rect x="1363.40" y="2306.0" width="22.98" height="60.0" fill="#ffd300"/>
<rect x="1386.08" y="2306.0" width="22.98" height="60.0" fill="#ffca00"/>
<rect x="1408.76" y="2306.0" width="22.98" height="60.0" fill="#ffc200"/>
<rect x="1431.44" y="2306.0" width="22.98" height="60.0" fill="#ffb900"/>
<rect x="1454.12" y="2306.0" width="22.98" height="60.0" fill="#ffb000"/>
<rect x="1476.81" y="2306.0" width="22.98" height="60.0" fill="#ffa800"/>
<rect x="1499.49" y="2306.0" width="22.98" height="60.0" fill="#ff9f00"/>
<rect x="1522.17" y="2306.0" width="22.98" height="60.0" fill="#ff9600"/>
<rect x="1544.85" y="2306.0" width="22.98" height="60.0" fill="#ff8a00"/>
<rect x="1567.53" y="2306.0" width="22.98" height="60.0" fill="#ff7d00"/>
<rect x="1590.21" y="2306.0" width="22.98" height="60.0" fill="#ff7000"/>
<rect x="1612.89" y="2306.0" width="22.98" height="60.0" fill="#ff6400"/>
<rect x="1635.57" y="2306.0" width="22.98" height="60.0" fill="#ff5800"/>
<rect x="1658.25" y="2306.0" width="22.98" height="60.0" fill="#ff4b00"/>
<rect x="1680.93" y="2306.0" width="22.98" height="60.0" fill="#ff3e00"/>
<rect x="1703.61" y="2306.0" width="22.98" height="60.0" fill="#ff3200"/>
<rect x="1726.29" y="2306.0" width="22.98" height="60.0" fill="#ff2600"/>
<rect x="1748.97" y="2306.0" width="22.98" height="60.0" fill="#ff1900"/>
<rect x="1771.65" y="2306.0" width="22.98" height="60.0" fill="#ff0c00"/>
<rect x="1794.33" y="2306.0" width="22.98" height="60.0" fill="#ff0000"/>
<rect x="1817.01" y="2306.0" width="22.98" height="60.0" fill="#f2000b"/>
<rect x="1839.69" y="2306.0" width="22.98" height="60.0" fill="#e60016"/>
<rect x="1862.38" y="2306.0" width="22.98" height="60.0" fill="#da0022"/>
<rect x="1885.06" y="2306.0" width="22.98" height="60.0" fill="#cd002d"/>
<rect x="1907.74" y="2306.0" width="22.98" height="60.0" fill="#be003b"/>
<rect x="1930.42" y="2306.0" width="22.98" height="60.0" fill="#af0048"/>
<rect x="1953.10" y="2306.0" width="22.98" height="60.0" fill="#a00056"/>
<rect x="1975.78" y="2306.0" width="22.98" height="60.0" fill="#910064"/>
<rect x="1998.46" y="2306.0" width="22.98" height="60.0" fill="#7b0075"/>
<rect x="2021.14" y="2306.0" width="22.98" height="60.0" fill="#660085"/>
<rect x="2043.82" y="2306.0" width="22.98" height="60.0" fill="#500096"/>
<path d="M456.18 2306.0V2366.0M478.86 2306.0V2366.0M501.54 2306.0V2366.0M524.22 2306.0V2366.0M546.90 2306.0V2366.0M569.58 2306.0V2366.0M592.26 2306.0V2366.0M614.94 2306.0V2366.0M637.62 2306.0V2366.0M660.31 2306.0V2366.0M682.99 2306.0V2366.0M705.67 2306.0V2366.0M728.35 2306.0V2366.0M751.03 2306.0V2366.0M773.71 2306.0V2366.0M796.39 2306.0V2366.0M819.07 2306.0V2366.0M841.75 2306.0V2366.0M864.43 2306.0V2366.0M887.11 2306.0V2366.0M909.79 2306.0V2366.0M932.47 2306.0V2366.0M955.15 2306.0V2366.0M977.83 2306.0V2366.0M1000.51 2306.0V2366.0M1023.19 2306.0V2366.0M1045.88 2306.0V2366.0M1068.56 2306.0V2366.0M1091.24 2306.0V2366.0M1113.92 2306.0V2366.0M1136.60 2306.0V2366.0M1159.28 2306.0V2366.0M1181.96 2306.0V2366.0M1204.64 2306.0V2366.0M1227.32 2306.0V2366.0M1250.00 2306.0V2366.0M1272.68 2306.0V2366.0M1295.36 2306.0V2366.0M1318.04 2306.0V2366.0M1340.72 2306.0V2366.0M1363.40 2306.0V2366.0M1386.08 2306.0V2366.0M1408.76 2306.0V2366.0M1431.44 2306.0V2366.0M1454.12 2306.0V2366.0M1476.81 2306.0V2366.0M1499.49 2306.0V2366.0M1522.17 2306.0V2366.0M1544.85 2306.0V2366.0M1567.53 2306.0V2366.0M1590.21 2306.0V2366.0M1612.89 2306.0V2366.0M1635.57 2306.0V2366.0M1658.25 2306.0V2366.0M1680.93 2306.0V2366.0M1703.61 2306.0V2366.0M1726.29 2306.0V2366.0M1748.97 2306.0V2366.0M1771.65 2306.0V2366.0M1794.33 2306.0V2366.0M1817.01 2306.0V2366.0M1839.69 2306.0V2366.0M1862.38 2306.0V2366.0M1885.06 2306.0V2366.0M1907.74 2306.0V2366.0M1930.42 2306.0V2366.0M1953.10 2306.0V2366.0M1975.78 2306.0V2366.0M1998.46 2306.0V2366.0M2021.14 2306.0V2366.0M2043.82 2306.0V2366.0" stroke="#000" stroke-opacity="0.75" stroke-width="0.9" fill="none"/>
<rect x="433.5" y="2306.0" width="1633.0" height="60.0" fill="none" stroke="#000" stroke-opacity="0.9" stroke-width="1.1"/>
<text x="478.9" y="2421.7" font-size="50" text-anchor="middle">-24</text>
<text x="569.6" y="2421.7" font-size="50" text-anchor="middle">-20</text>
<text x="660.3" y="2421.7" font-size="50" text-anchor="middle">-16</text>
<text x="751.0" y="2421.7" font-size="50" text-anchor="middle">-12</text>
<text x="841.8" y="2421.7" font-size="50" text-anchor="middle">-8</text>
<text x="932.5" y="2421.7" font-size="50" text-anchor="middle">-4</text>
<text x="1023.2" y="2421.7" font-size="50" text-anchor="middle">0</text>
<text x="1113.9" y="2421.7" font-size="50" text-anchor="middle">4</text>
<text x="1204.6" y="2421.7" font-size="50" text-anchor="middle">8</text>
<text x="1295.4" y="2421.7" font-size="50" text-anchor="middle">12</text>
<text x="1386.1" y="2421.7" font-size="50" text-anchor="middle">16</text>
<text x="1476.8" y="2421.7" font-size="50" text-anchor="middle">20</text>
<text x="1567.5" y="2421.7" font-size="50" text-anchor="middle">24</text>
<text x="1658.2" y="2421.7" font-size="50" text-anchor="middle">28</text>
<text x="1749.0" y="2421.7" font-size="50" text-anchor="middle">32</text>
<text x="1839.7" y="2421.7" font-size="50" text-anchor="middle">36</text>
<text x="1930.4" y="2421.7" font-size="50" text-anchor="middle">40</text>
<text x="2021.1" y="2421.7" font-size="50" text-anchor="middle">44</text>
<text x="1250.5" y="2271.0" font-size="52" text-anchor="middle">temperature in (degC)</text>
</svg>
</body></html>
